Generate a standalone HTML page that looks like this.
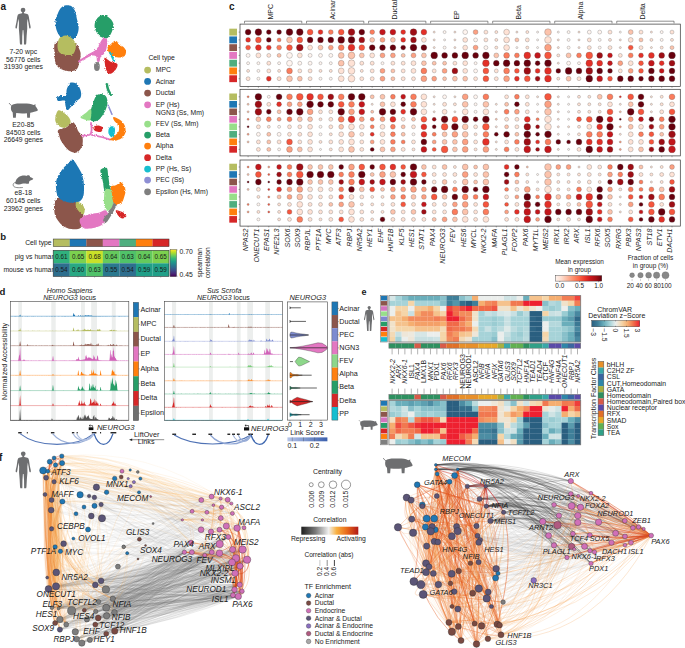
<!DOCTYPE html>
<html><head><meta charset="utf-8"><style>
html,body{margin:0;padding:0;background:#fff;width:685px;height:648px;overflow:hidden}
svg{display:block}
text{font-family:"Liberation Sans",sans-serif;fill:#1a1a1a}
</style></head><body>
<svg width="685" height="648" viewBox="0 0 685 648">
<rect width="685" height="648" fill="#fff"/>
<g fill="#6d6e70" transform="translate(23.05,7.7) scale(1)"><circle cx="0" cy="2.3" r="2.35"/><path d="M.8 4.2 L1 5.6 L4.2 6.2 L5.2 7 L5.8 9 L6.6 14.4 L7.5 18.6 L7.6 20.3 L6.8 21 L6.1 20 L5.3 14.9 L4.6 11 L4.1 15.2 L4.2 20.8 L3.6 28 L3.2 35.6 L2.9 36.8 L.9 36.8 L.8 28.5 L.35 22.6 L0 22.4 L0 22.4 L-.35 22.6 L-.8 28.5 L-.9 36.8 L-2.9 36.8 L-3.2 35.6 L-3.6 28 L-4.2 20.8 L-4.1 15.2 L-4.6 11 L-5.3 14.9 L-6.1 20 L-6.8 21 L-7.6 20.3 L-7.5 18.6 L-6.6 14.4 L-5.8 9 L-5.2 7 L-4.2 6.2 L-1 5.6 L-.8 4.2Z"/></g><g fill="#6d6e70" transform="translate(0,0) scale(1)"><path d="M11.5 105.4 C13 103.6 17 103.3 21 103.4 C25 103.4 29 103.4 31.5 104.2 L33.6 105 L35.6 104.3 L35.4 105.9 C36.3 107 37 108.3 37.8 109.8 C37.9 110.7 37.4 111.2 36.2 111.2 C34.8 111.3 33.6 112 32.6 112.3 C31.6 112.6 30.6 112.6 30.2 112.8 L29.9 117.8 L27.2 117.8 L26.9 113.3 C23.5 113.6 19.5 113.6 16.2 113.1 L15.8 117.8 L13.1 117.8 L12.7 112.4 C11.5 111.5 10.9 110 10.9 108.3 C10.8 107.2 11 106.2 11.5 105.4Z"/><path d="M11.6 105.6 Q10.2 104.8 9.1 103.1" fill="none" stroke="#6d6e70" stroke-width=".9"/></g><g fill="#6d6e70"><path d="M15.4 183.8 C15.2 180.5 17.2 177.4 21 176.1 C23.2 175.4 25 175.5 26.3 175.9 C26.8 175.1 28.4 174.9 29.4 175.6 C29.9 176.1 30 176.6 30.1 177 C31.3 177.5 32.5 178.1 33.3 178.8 C33 179.6 32.1 180 31 180.2 C30.2 180.4 29.6 180.8 29.2 181.5 L28.9 183.4 C28.3 183.9 27.3 183.9 26.5 183.7 C25 183.5 23.5 183.6 22 183.7 C21 183.8 20 184.4 19 184.4 C17.8 184.5 16.3 184.3 15.4 183.8Z"/><path d="M16 182.4 C13.6 182.6 12.6 184.2 13.4 185.9 C14.3 187.8 18.5 187.9 22.8 187.5" fill="none" stroke="#6d6e70" stroke-width=".8"/></g>
<defs><filter id="rough" x="-10%" y="-10%" width="120%" height="120%"><feTurbulence type="fractalNoise" baseFrequency=".9" numOctaves="2" seed="3"/><feDisplacementMap in="SourceGraphic" scale="2.6" xChannelSelector="R" yChannelSelector="G"/></filter></defs><g filter="url(#rough)"><path d="M54.9 43.4 C56.1 41.4 58.7 40.7 62.1 40.7 C65.5 40.7 72.2 41.4 75.2 43.4 C78.3 45.3 79.8 49.5 80.5 52.6 C81.2 55.6 80.1 58.9 79.4 61.8 C78.8 64.6 78.3 68.1 76.5 69.6 C74.7 71.2 71.5 71.4 68.6 71.2 C65.8 71 61.7 69.9 59.5 68.3 C57.2 66.7 56.1 64.4 55.2 61.8 C54.4 59.1 54.5 55.6 54.5 52.6 C54.4 49.5 53.6 45.3 54.9 43.4Z" fill="#8c564b" fill-opacity="1"/>
<path d="M64.7 5.5 C66.4 5.1 68.9 4.9 70.6 5.8 C72.3 6.7 73.9 8.7 75 10.8 C76 12.9 76.2 15.8 76.8 18.4 C77.4 21 78.5 23.8 78.6 26.3 C78.8 28.7 78.5 31.1 77.8 33.1 C77.2 35.1 75.9 37.1 74.6 38.4 C73.2 39.6 71.6 40.6 70 40.7 C68.3 40.9 66.5 40.2 64.7 39.4 C63 38.6 60.9 37.4 59.5 35.7 C58.1 34 57 31.6 56.3 29.2 C55.6 26.7 55.3 23.5 55.5 21 C55.7 18.5 56.6 16.3 57.5 14.2 C58.4 12 59.6 9.6 60.8 8.1 C62 6.7 63.1 5.9 64.7 5.5Z" fill="#1f77b4" fill-opacity="1"/>
<path d="M59.5 38.1 C60.9 36.4 63.7 35.3 66 35.5 C68.3 35.7 71.6 37.7 73.2 39.4 C74.9 41.2 75.9 43.6 75.9 46 C75.9 48.4 74.9 52.4 73.2 53.9 C71.6 55.4 68.3 55.1 66 54.9 C63.7 54.7 60.9 54 59.5 52.6 C58 51.1 57.5 48.4 57.5 46 C57.5 43.6 58 39.9 59.5 38.1Z" fill="#b5bd61" fill-opacity="1"/>
<path d="M102.8 15.1 C105.1 14.9 108.2 16.8 110 18.4 C111.8 20 113.5 22.3 113.6 25 C113.7 27.6 111.9 31.9 110.7 34.2 C109.4 36.4 108.1 38.1 106.1 38.4 C104.1 38.6 100.8 37.3 98.9 35.5 C97 33.7 95.1 30.2 94.7 27.6 C94.2 25 94.9 21.8 96.2 19.7 C97.6 17.6 100.5 15.3 102.8 15.1Z" fill="#279e68" fill-opacity="1"/>
<path d="M78.4 60.7 C79.4 59.8 85.6 56 87.7 54.7 C89.8 53.4 94.7 51.1 96.2 49.6 C97.7 48.1 99.7 43.3 100.5 42 C101.3 40.7 102.3 39 103 38.6 C103.7 38.2 105.9 37.8 106.4 38.2 C106.9 38.6 107.3 40.8 107.3 42 C107.3 43.2 106.8 47.4 106.4 48.8 C106 50.2 104.6 52.9 103.9 53.9 C103.2 54.9 101 56.4 100.5 57.3 C100 58.2 100 61 99.6 61.5 C99.2 62 97.5 62.1 97.1 61.5 C96.7 60.9 96.8 57.1 96.2 56.4 C95.6 55.7 93.5 55.2 92 55.6 C90.5 56 85 59 83.5 59.8 C82 60.6 79.8 62.3 79.2 62.4 C78.6 62.5 77.4 61.6 78.4 60.7Z" fill="#e377c2"/>
<path d="M107.5 47.5 C107.8 45.9 109.8 45.1 111 44 C112.2 42.9 113.5 41.4 114.5 41 C115.5 40.6 116.2 40.9 117 41.5 C117.8 42.1 117.9 43.6 119 44.5 C120.1 45.4 122.3 45.9 123.5 47 C124.7 48.1 125.8 49.6 126 51 C126.2 52.4 125.8 54.4 125 55.5 C124.2 56.6 122.8 57.3 121 57.5 C119.2 57.7 115.9 57.2 114 56.5 C112.1 55.8 110.6 55 109.5 53.5 C108.4 52 107.2 49.1 107.5 47.5Z" fill="#ff7f0e" fill-opacity="1"/>
<path d="M110 52.6 L114 61.1" fill="none" stroke="#17becf" stroke-width="1.8" stroke-linecap="round" stroke-linejoin="round"/>
<path d="M104.8 57.8 C105.8 57.6 108.8 60.9 110.7 61.8 C112.6 62.6 114.8 62.4 115.9 63.1 C117.1 63.7 117.7 64.4 117.5 65.7 C117.3 67 116 69.6 114.6 70.9 C113.3 72.3 110.8 74.1 109.4 73.8 C108 73.6 106.9 71.4 106.1 69.6 C105.3 67.8 105 65 104.8 63.1 C104.6 61.1 103.8 58 104.8 57.8Z" fill="#d62728" fill-opacity="1"/>
<ellipse cx="96.9" cy="66.4" rx="2.9" ry="4.5" fill="#7f7f7f"/>
<path d="M58.1 130.2 C59.3 128.9 63.5 128.9 66 127.6 C68.5 126.2 71.2 121.6 73.2 122.3 C75.3 123 77 129.1 78.5 131.5 C80 133.9 81.9 134.3 82.4 136.8 C83 139.2 83 143.3 82.1 145.9 C81.1 148.6 78.8 151.8 76.5 152.5 C74.3 153.2 71.1 151.9 68.6 150.2 C66.2 148.4 63.4 144.5 61.8 142 C60.2 139.6 59.8 137.4 59.2 135.4 C58.6 133.5 57 131.5 58.1 130.2Z" fill="#8c564b" fill-opacity="1"/>
<path d="M58.1 110.5 C59.5 109.5 61.6 111.4 63.4 112.4 C65.1 113.5 67.4 115.4 68.6 117 C69.9 118.7 70.8 120.7 70.6 122.3 C70.4 123.9 68.8 125.6 67.3 126.5 C65.9 127.4 63.8 128 62.1 127.6 C60.3 127.1 58 125.4 56.8 123.9 C55.7 122.3 55 120.6 55.2 118.4 C55.5 116.1 56.8 111.5 58.1 110.5Z" fill="#b5bd61" fill-opacity="1"/>
<path d="M71.3 82.6 C72.6 82.6 75.6 82.8 77.2 84.2 C78.8 85.6 80.1 88.6 80.7 90.8 C81.3 93 81.4 95.6 80.7 97.3 C80 99.1 78.1 99.7 76.5 101.3 C75 102.8 72.8 105 71.3 106.5 C69.7 108.1 68.3 110.7 67.3 110.5 C66.4 110.3 65.8 106.9 65.4 105.2 C64.9 103.6 65.9 101.3 64.7 100.6 C63.5 99.9 59.4 101.5 58.1 101 C56.9 100.5 56.6 98.4 57.1 97.6 C57.5 96.8 59.3 96.4 60.8 96 C62.3 95.6 65 96.5 66 95.4 C67 94.3 66.1 91.3 66.7 89.5 C67.2 87.6 68.5 85.3 69.3 84.2 C70.1 83.1 70 82.6 71.3 82.6Z" fill="#1f77b4" fill-opacity="1"/>
<path d="M100.2 94.1 C101.8 94.1 104.5 94.6 105.7 96 C106.9 97.4 107.6 100.2 107.5 102.6 C107.5 105 106.7 107.8 105.4 110.5 C104.2 113.1 101.9 116.6 100.2 118.4 C98.4 120.2 96.6 121 94.9 121.2 C93.3 121.5 91.4 121.1 90.3 119.9 C89.2 118.8 88.2 116.2 88.4 114.4 C88.5 112.6 90.1 111.4 91 109.2 C91.9 107 92.7 103.5 93.6 101.3 C94.5 99.1 95.1 97.2 96.2 96 C97.3 94.8 98.6 94.1 100.2 94.1Z" fill="#279e68" fill-opacity="1"/>
<path d="M91 109.2 C91.8 110.3 91.4 118.2 90.3 119.9 C89.2 121.6 86.1 119.8 84.4 119.4 C82.8 119 80.3 118.4 80.5 117.3 C80.7 116.3 84 114.5 85.7 113.1 C87.5 111.7 90.2 108 91 109.2Z" fill="#98df8a" fill-opacity="1"/>
<path d="M106.8 84.2 C107 85.1 107.4 87.7 108.1 89.5 C108.7 91.2 110.3 93.8 110.7 94.7" fill="none" stroke="#279e68" stroke-width="2.5" stroke-linecap="round" stroke-linejoin="round"/>
<path d="M108.1 105.2 L112 114.4" fill="none" stroke="#8e8fd4" stroke-width="1.5" stroke-linecap="round" stroke-linejoin="round"/>
<path d="M81.8 135.7 C83.1 135.5 88 135.7 89.7 134.8 C91.3 133.9 91.4 132.2 91.6 130.2 C91.9 128.2 91.1 124.2 91 123" fill="none" stroke="#e377c2" stroke-width="1.8" stroke-linecap="round" stroke-linejoin="round"/>
<path d="M91.6 134.8 C93.3 135.2 98.4 136.2 101.5 137 C104.6 137.8 108.6 139.2 110 139.6" fill="none" stroke="#e377c2" stroke-width="1.8" stroke-linecap="round" stroke-linejoin="round"/>
<path d="M93.6 126.9 C94.3 126.1 96.7 125.5 98.2 125.6 C99.7 125.7 102.3 126.6 102.8 127.6 C103.4 128.5 102.4 130.8 101.5 131.5 C100.6 132.2 98.8 132 97.6 131.8 C96.4 131.5 94.9 131 94.3 130.2 C93.6 129.4 93 127.7 93.6 126.9Z" fill="#d62728" fill-opacity="1"/>
<path d="M113.3 117 C114.2 116.8 118.3 118.6 120.2 119.9 C122 121.3 123.7 123 124.6 125.2 C125.5 127.3 125.9 130.6 125.4 132.8 C124.9 135 123.2 137 121.5 138.3 C119.7 139.6 116.9 140.5 114.9 140.7 C112.9 140.9 109.6 140.3 109.4 139.6 C109.2 139 112.1 138.1 113.6 136.8 C115.1 135.4 117.7 133.5 118.6 131.5 C119.4 129.5 119.2 126.6 118.6 124.9 C117.9 123.2 115.5 122.6 114.6 121.2 C113.8 119.9 112.4 117.3 113.3 117Z" fill="#ff7f0e" fill-opacity="1"/>
<path d="M111.4 126.2 C112.3 126 114.1 126.2 114.6 127.6 C115.2 128.9 115.1 132.5 114.6 134.1 C114.2 135.8 113 137.4 112 137.4 C111 137.4 109.3 135.5 108.7 134.1 C108.2 132.7 108.3 130.2 108.7 128.9 C109.2 127.6 110.4 126.5 111.4 126.2Z" fill="#17becf" fill-opacity="1"/>
<path d="M56.8 198.6 C58.5 197.2 61.4 197.3 64.7 198 C68 198.6 73.7 200.9 76.5 202.6 C79.4 204.2 80.7 205.2 81.8 207.8 C82.9 210.4 83.5 215 83.4 218.3 C83.2 221.7 82.8 226 80.7 227.8 C78.7 229.6 74.4 229.5 71.3 229.1 C68.2 228.7 64.8 227.4 62.1 225.2 C59.4 222.9 56.5 218.8 55.2 215.7 C54 212.6 54.2 209.3 54.5 206.5 C54.7 203.7 55.1 200 56.8 198.6Z" fill="#8c564b" fill-opacity="1"/>
<path d="M72.6 159.5 C74.2 160.1 76.4 164.3 78.1 167.1 C79.8 169.9 81.7 173 82.7 176.3 C83.7 179.6 83.9 183.5 84 186.8 C84.1 190.1 84.1 193.5 83.4 196 C82.6 198.4 81.4 200.4 79.4 201.5 C77.4 202.6 74.2 203 71.3 202.8 C68.4 202.6 64.4 201.5 62.1 200.2 C59.7 198.8 58.2 197.3 57.2 194.7 C56.2 192 55.8 187.2 55.9 184.2 C56 181.1 56.7 178.9 57.9 176.3 C59.1 173.6 61.3 170.6 63.1 168.4 C64.9 166.2 67.1 164.6 68.6 163.1 C70.2 161.6 71 158.8 72.6 159.5Z" fill="#1f77b4" fill-opacity="1"/>
<path d="M76.5 201.9 C77.5 201.5 80.4 202.7 81.8 203.9 C83.1 205.1 84.4 207.4 84.7 209.1 C84.9 210.9 84.3 213.9 83.4 214.4 C82.4 214.8 80.4 213.1 79.2 211.8 C77.9 210.4 76.3 208.1 75.9 206.5 C75.4 204.9 75.5 202.3 76.5 201.9Z" fill="#b5bd61" fill-opacity="1"/>
<path d="M80.5 218.3 C81.8 216.8 85.5 215.3 88.4 214.4 C91.2 213.5 94.7 213.8 97.6 213.1 C100.4 212.4 104.1 209.7 105.7 210.2 C107.3 210.6 107.5 213.4 107 215.7 C106.6 218 105.1 221.8 103.1 223.8 C101.1 225.9 98 227 94.9 227.8 C91.8 228.5 86.9 229.1 84.4 228.4 C82 227.7 80.9 225.3 80.2 223.6 C79.6 221.9 79.1 219.9 80.5 218.3Z" fill="#e377c2" fill-opacity="1"/>
<path d="M115.3 203.2 C114.5 204.6 112.3 208.9 110.7 211.8 C109.1 214.6 106.3 218.9 105.4 220.3" fill="none" stroke="#7f7f7f" stroke-width="4.5" stroke-linecap="round" stroke-linejoin="round"/>
<path d="M100.8 169.4 C101.8 168.5 105.5 167 106.8 168.1 C108 169.3 107.8 173.4 108.3 176.3 C108.8 179.2 109.2 183.1 109.6 185.5 C110.1 187.9 111.4 189.6 111 190.7 C110.5 191.9 107.9 192.5 106.8 192.3 C105.6 192.1 104.8 191.2 104.1 189.4 C103.5 187.6 103.4 184.2 102.8 181.5 C102.3 178.9 101.2 175.7 100.8 173.6 C100.5 171.6 99.9 170.4 100.8 169.4Z" fill="#279e68" fill-opacity="1"/>
<path d="M105.4 189.4 C106.8 188.3 110.7 189 112 190.7 C113.4 192.5 113.7 197 113.6 199.9 C113.5 202.8 112.5 206.3 111.4 208.1 C110.2 209.9 108 211.2 106.8 210.7 C105.5 210.2 104.6 207.4 104.1 205.2 C103.7 202.9 103.9 199.9 104.1 197.3 C104.3 194.7 104.1 190.5 105.4 189.4Z" fill="#98df8a" fill-opacity="1"/>
<path d="M110.7 186.8 C111.4 185.4 114.2 185.9 115.9 185.2 C117.7 184.5 119.6 181.9 121.2 182.6 C122.8 183.3 124.9 187 125.4 189.4 C125.9 191.9 124.8 195.1 124.1 197.3 C123.4 199.5 122.8 201.7 121.5 202.8 C120.1 204 117.4 204.6 115.9 204.1 C114.5 203.7 113.3 201.7 112.7 199.9 C112 198.1 112.3 195.5 112 193.4 C111.7 191.2 110 188.1 110.7 186.8Z" fill="#ff7f0e" fill-opacity="1"/>
<path d="M115.9 210.4 C116.8 209.9 122 211.9 123.8 212.8 C125.6 213.7 126.9 214.7 126.7 215.7 C126.5 216.7 123.9 218.5 122.5 218.6 C121.2 218.6 119.7 217.3 118.6 216 C117.5 214.6 115.1 211 115.9 210.4Z" fill="#d62728" fill-opacity="1"/></g>
<text x=".6" y="9.6" font-size="10" font-weight="bold">a</text>
<text x="23.3" y="53.6" font-size="6.8" text-anchor="middle">7-20 wpc</text>
<text x="23.3" y="61.5" font-size="6.8" text-anchor="middle">56776 cells</text>
<text x="23.3" y="69.3" font-size="6.8" text-anchor="middle">31930 genes</text>
<text x="23.3" y="126.7" font-size="6.8" text-anchor="middle">E20-85</text>
<text x="23.3" y="134.5" font-size="6.8" text-anchor="middle">84503 cells</text>
<text x="23.3" y="142.2" font-size="6.8" text-anchor="middle">26649 genes</text>
<text x="23.3" y="195.3" font-size="6.8" text-anchor="middle">e8-18</text>
<text x="23.3" y="203.2" font-size="6.8" text-anchor="middle">60145 cells</text>
<text x="23.3" y="211" font-size="6.8" text-anchor="middle">23962 genes</text>
<text x="148.4" y="59.6" font-size="6.8">Cell type</text>
<circle cx="147.6" cy="70.1" r="3.4" fill="#b5bd61"/>
<text x="155.8" y="72.4" font-size="6.8">MPC</text>
<circle cx="147.6" cy="81.4" r="3.4" fill="#1f77b4"/>
<text x="155.8" y="83.7" font-size="6.8">Acinar</text>
<circle cx="147.6" cy="93.1" r="3.4" fill="#8c564b"/>
<text x="155.8" y="95.4" font-size="6.8">Ductal</text>
<circle cx="147.6" cy="104.8" r="3.4" fill="#e377c2"/>
<text x="155.8" y="107.1" font-size="6.8">EP (Hs)</text>
<text x="155.8" y="114.9" font-size="6.8">NGN3 (Ss, Mm)</text>
<circle cx="147.6" cy="124.1" r="3.4" fill="#98df8a"/>
<text x="155.8" y="126.4" font-size="6.8">FEV (Ss, Mm)</text>
<circle cx="147.6" cy="135.1" r="3.4" fill="#279e68"/>
<text x="155.8" y="137.4" font-size="6.8">Beta</text>
<circle cx="147.6" cy="146.1" r="3.4" fill="#ff7f0e"/>
<text x="155.8" y="148.4" font-size="6.8">Alpha</text>
<circle cx="147.6" cy="157.7" r="3.4" fill="#d62728"/>
<text x="155.8" y="160" font-size="6.8">Delta</text>
<circle cx="147.6" cy="169.1" r="3.4" fill="#17becf"/>
<text x="155.8" y="171.4" font-size="6.8">PP (Hs, Ss)</text>
<circle cx="147.6" cy="180.1" r="3.4" fill="#8e8fd4"/>
<text x="155.8" y="182.4" font-size="6.8">PEC (Ss)</text>
<circle cx="147.6" cy="191.8" r="3.4" fill="#7f7f7f"/>
<text x="155.8" y="194.1" font-size="6.8">Epsilon (Hs, Mm)</text>
<text x=".3" y="239.7" font-size="9.6" font-weight="bold">b</text>
<text x="51.6" y="244.5" font-size="6.8" text-anchor="end">Cell type</text>
<text x="55.2" y="258.6" font-size="6.8" text-anchor="end">pig vs human</text>
<text x="55.2" y="271.5" font-size="6.8" text-anchor="end">mouse vs human</text>
<rect x="53.2" y="239" width="16.64" height="7.6" fill="#b5bd61"/>
<rect x="69.74" y="239" width="16.64" height="7.6" fill="#1f77b4"/>
<rect x="86.29" y="239" width="16.64" height="7.6" fill="#8c564b"/>
<rect x="102.83" y="239" width="16.64" height="7.6" fill="#e377c2"/>
<rect x="119.37" y="239" width="16.64" height="7.6" fill="#4fae7f"/>
<rect x="135.91" y="239" width="16.64" height="7.6" fill="#ff7f0e"/>
<rect x="152.46" y="239" width="16.64" height="7.6" fill="#d62728"/>
<rect x="53.2" y="239" width="115.8" height="7.6" fill="none" stroke="#333" stroke-width=".5"/>
<rect x="53.2" y="250.3" width="16.64" height="13.1" fill="#30b17d"/>
<text x="61.47" y="259.3" font-size="6.3" text-anchor="middle" fill="#222">0.61</text>
<rect x="69.74" y="250.3" width="16.64" height="13.1" fill="#7cd14f"/>
<text x="78.01" y="259.3" font-size="6.3" text-anchor="middle" fill="#222">0.65</text>
<rect x="86.29" y="250.3" width="16.64" height="13.1" fill="#c9e129"/>
<text x="94.56" y="259.3" font-size="6.3" text-anchor="middle" fill="#222">0.68</text>
<rect x="102.83" y="250.3" width="16.64" height="13.1" fill="#65ca5d"/>
<text x="111.1" y="259.3" font-size="6.3" text-anchor="middle" fill="#222">0.64</text>
<rect x="119.37" y="250.3" width="16.64" height="13.1" fill="#50c269"/>
<text x="127.64" y="259.3" font-size="6.3" text-anchor="middle" fill="#222">0.63</text>
<rect x="135.91" y="250.3" width="16.64" height="13.1" fill="#65ca5d"/>
<text x="144.19" y="259.3" font-size="6.3" text-anchor="middle" fill="#222">0.64</text>
<rect x="152.46" y="250.3" width="16.64" height="13.1" fill="#7cd14f"/>
<text x="160.73" y="259.3" font-size="6.3" text-anchor="middle" fill="#222">0.65</text>
<rect x="53.2" y="263.3" width="16.64" height="13.1" fill="#2e6e8e"/>
<text x="61.47" y="272.3" font-size="6.3" text-anchor="middle" fill="#222">0.54</text>
<rect x="69.74" y="263.3" width="16.64" height="13.1" fill="#28a883"/>
<text x="78.01" y="272.3" font-size="6.3" text-anchor="middle" fill="#222">0.60</text>
<rect x="86.29" y="263.3" width="16.64" height="13.1" fill="#50c269"/>
<text x="94.56" y="272.3" font-size="6.3" text-anchor="middle" fill="#222">0.63</text>
<rect x="102.83" y="263.3" width="16.64" height="13.1" fill="#2a788e"/>
<text x="111.1" y="272.3" font-size="6.3" text-anchor="middle" fill="#222">0.55</text>
<rect x="119.37" y="263.3" width="16.64" height="13.1" fill="#2e6e8e"/>
<text x="127.64" y="272.3" font-size="6.3" text-anchor="middle" fill="#222">0.54</text>
<rect x="135.91" y="263.3" width="16.64" height="13.1" fill="#209f88"/>
<text x="144.19" y="272.3" font-size="6.3" text-anchor="middle" fill="#222">0.59</text>
<rect x="152.46" y="263.3" width="16.64" height="13.1" fill="#209f88"/>
<text x="160.73" y="272.3" font-size="6.3" text-anchor="middle" fill="#222">0.59</text>
<rect x="53.2" y="250.3" width="115.8" height="26" fill="none" stroke="#333" stroke-width=".6"/>
<defs><linearGradient id="vir" x1="0" y1="1" x2="0" y2="0"><stop offset="0" stop-color="#440154"/><stop offset=".111" stop-color="#482878"/><stop offset=".222" stop-color="#3e4989"/><stop offset=".333" stop-color="#31688e"/><stop offset=".444" stop-color="#26828e"/><stop offset=".556" stop-color="#1f9e89"/><stop offset=".667" stop-color="#35b779"/><stop offset=".778" stop-color="#6ece58"/><stop offset=".889" stop-color="#b5de2b"/><stop offset="1" stop-color="#fde725"/></linearGradient></defs>
<rect x="170.1" y="249.6" width="6.4" height="27" fill="url(#vir)" stroke="#333" stroke-width=".4"/>
<line x1="176.5" y1="250" x2="177.6" y2="250" stroke="#333" stroke-width=".4"/><line x1="176.5" y1="276.2" x2="177.6" y2="276.2" stroke="#333" stroke-width=".4"/>
<text x="179.6" y="254.2" font-size="6.8">0.70</text>
<text x="179.6" y="276.6" font-size="6.8">0.45</text>
<text transform="translate(202,262.8) rotate(-90)" font-size="6.6" text-anchor="middle">spearman</text>
<text transform="translate(210,262.8) rotate(-90)" font-size="6.6" text-anchor="middle">correlation</text>
<line x1="61.47" y1="276.3" x2="61.47" y2="277.6" stroke="#555" stroke-width=".4"/>
<line x1="78.01" y1="276.3" x2="78.01" y2="277.6" stroke="#555" stroke-width=".4"/>
<line x1="94.56" y1="276.3" x2="94.56" y2="277.6" stroke="#555" stroke-width=".4"/>
<line x1="111.1" y1="276.3" x2="111.1" y2="277.6" stroke="#555" stroke-width=".4"/>
<line x1="127.64" y1="276.3" x2="127.64" y2="277.6" stroke="#555" stroke-width=".4"/>
<line x1="144.19" y1="276.3" x2="144.19" y2="277.6" stroke="#555" stroke-width=".4"/>
<line x1="160.73" y1="276.3" x2="160.73" y2="277.6" stroke="#555" stroke-width=".4"/>
<text x="229" y="9.7" font-size="10" font-weight="bold">c</text>
<rect x="240" y="24.1" width="440.3" height="62.4" fill="none" stroke="#333" stroke-width=".7"/>
<rect x="229.3" y="28.67" width="7.7" height="6.87" fill="#b5bd61"/>
<line x1="238.6" y1="32.1" x2="240" y2="32.1" stroke="#333" stroke-width=".4"/>
<g stroke="#555" stroke-width=".28"><circle cx="248.1" cy="32.1" r="2.9" fill="#67000d"/><circle cx="258.4" cy="32.1" r="3.37" fill="#67000d"/><circle cx="268.8" cy="32.1" r="2.43" fill="#67000d"/><circle cx="279.1" cy="32.1" r="2.43" fill="#67000d"/><circle cx="289.5" cy="32.1" r="3.37" fill="#67000d"/><circle cx="299.8" cy="32.1" r="3.37" fill="#67000d"/><circle cx="310.1" cy="32.1" r="2.9" fill="#f6553d"/><circle cx="320.5" cy="32.1" r="2.43" fill="#e32f27"/><circle cx="330.8" cy="32.1" r="2.43" fill="#fb7c5c"/><circle cx="341.2" cy="32.1" r="2.9" fill="#f6553d"/><circle cx="351.5" cy="32.1" r="3.37" fill="#9e0d14"/><circle cx="361.8" cy="32.1" r="2.9" fill="#67000d"/><circle cx="372.2" cy="32.1" r="2.43" fill="#fb7c5c"/><circle cx="382.5" cy="32.1" r="2.9" fill="#c3161b"/><circle cx="392.9" cy="32.1" r="2.9" fill="#c3161b"/><circle cx="403.2" cy="32.1" r="2.43" fill="#e32f27"/><circle cx="413.5" cy="32.1" r="3.37" fill="#9e0d14"/><circle cx="423.9" cy="32.1" r="2.9" fill="#e32f27"/><circle cx="434.2" cy="32.1" r="1.02" fill="#fee2d5"/><circle cx="444.6" cy="32.1" r="1.49" fill="#fff5f0"/><circle cx="454.9" cy="32.1" r="1.02" fill="#fee2d5"/><circle cx="465.2" cy="32.1" r="2.43" fill="#fff5f0"/><circle cx="475.6" cy="32.1" r="2.43" fill="#fca082"/><circle cx="485.9" cy="32.1" r="1.96" fill="#fee2d5"/><circle cx="496.3" cy="32.1" r="1.49" fill="#fee2d5"/><circle cx="506.6" cy="32.1" r="2.9" fill="#fee2d5"/><circle cx="516.9" cy="32.1" r="1.02" fill="#fee2d5"/><circle cx="527.3" cy="32.1" r="1.49" fill="#fee2d5"/><circle cx="537.6" cy="32.1" r="1.02" fill="#fff5f0"/><circle cx="548" cy="32.1" r="3.37" fill="#fcc3ac"/><circle cx="558.3" cy="32.1" r="1.02" fill="#fff5f0"/><circle cx="568.6" cy="32.1" r="1.49" fill="#fff5f0"/><circle cx="579" cy="32.1" r="1.02" fill="#fee2d5"/><circle cx="589.3" cy="32.1" r="1.96" fill="#fff5f0"/><circle cx="599.7" cy="32.1" r="1.96" fill="#fff5f0"/><circle cx="610" cy="32.1" r="1.96" fill="#fee2d5"/><circle cx="620.3" cy="32.1" r="1.02" fill="#fff5f0"/><circle cx="630.7" cy="32.1" r="2.43" fill="#fcc3ac"/><circle cx="641" cy="32.1" r="1.96" fill="#fee2d5"/><circle cx="651.4" cy="32.1" r="1.02" fill="#fee2d5"/><circle cx="661.7" cy="32.1" r="1.49" fill="#fff5f0"/><circle cx="672" cy="32.1" r="1.96" fill="#fee2d5"/></g>
<rect x="229.3" y="36.44" width="7.7" height="6.87" fill="#1f77b4"/>
<line x1="238.6" y1="39.87" x2="240" y2="39.87" stroke="#333" stroke-width=".4"/>
<g stroke="#555" stroke-width=".28"><circle cx="248.1" cy="39.9" r="2.43" fill="#e32f27"/><circle cx="258.4" cy="39.9" r="2.9" fill="#f6553d"/><circle cx="268.8" cy="39.9" r="2.43" fill="#67000d"/><circle cx="279.1" cy="39.9" r="1.96" fill="#fb7c5c"/><circle cx="289.5" cy="39.9" r="2.9" fill="#fcc3ac"/><circle cx="299.8" cy="39.9" r="2.9" fill="#f6553d"/><circle cx="310.1" cy="39.9" r="2.9" fill="#67000d"/><circle cx="320.5" cy="39.9" r="2.9" fill="#67000d"/><circle cx="330.8" cy="39.9" r="2.9" fill="#67000d"/><circle cx="341.2" cy="39.9" r="3.37" fill="#67000d"/><circle cx="351.5" cy="39.9" r="3.37" fill="#67000d"/><circle cx="361.8" cy="39.9" r="2.9" fill="#9e0d14"/><circle cx="372.2" cy="39.9" r="2.43" fill="#fcc3ac"/><circle cx="382.5" cy="39.9" r="2.43" fill="#fca082"/><circle cx="392.9" cy="39.9" r="2.43" fill="#fcc3ac"/><circle cx="403.2" cy="39.9" r="2.43" fill="#e32f27"/><circle cx="413.5" cy="39.9" r="2.9" fill="#9e0d14"/><circle cx="423.9" cy="39.9" r="2.43" fill="#fee2d5"/><circle cx="434.2" cy="39.9" r="1.02" fill="#fee2d5"/><circle cx="444.6" cy="39.9" r="1.02" fill="#fff5f0"/><circle cx="454.9" cy="39.9" r="1.02" fill="#fee2d5"/><circle cx="465.2" cy="39.9" r="2.43" fill="#fee2d5"/><circle cx="475.6" cy="39.9" r="1.96" fill="#fff5f0"/><circle cx="485.9" cy="39.9" r="1.96" fill="#fee2d5"/><circle cx="496.3" cy="39.9" r="1.49" fill="#fee2d5"/><circle cx="506.6" cy="39.9" r="2.9" fill="#fee2d5"/><circle cx="516.9" cy="39.9" r="1.96" fill="#fcc3ac"/><circle cx="527.3" cy="39.9" r="1.96" fill="#fee2d5"/><circle cx="537.6" cy="39.9" r="1.02" fill="#fff5f0"/><circle cx="548" cy="39.9" r="3.37" fill="#fee2d5"/><circle cx="558.3" cy="39.9" r="1.02" fill="#fee2d5"/><circle cx="568.6" cy="39.9" r="1.49" fill="#fff5f0"/><circle cx="579" cy="39.9" r="1.02" fill="#fee2d5"/><circle cx="589.3" cy="39.9" r="1.96" fill="#fee2d5"/><circle cx="599.7" cy="39.9" r="1.49" fill="#fff5f0"/><circle cx="610" cy="39.9" r="1.49" fill="#fee2d5"/><circle cx="620.3" cy="39.9" r="1.02" fill="#fee2d5"/><circle cx="630.7" cy="39.9" r="2.43" fill="#fee2d5"/><circle cx="641" cy="39.9" r="1.96" fill="#fcc3ac"/><circle cx="651.4" cy="39.9" r="1.49" fill="#fee2d5"/><circle cx="661.7" cy="39.9" r="1.49" fill="#fff5f0"/><circle cx="672" cy="39.9" r="1.49" fill="#fee2d5"/></g>
<rect x="229.3" y="44.21" width="7.7" height="6.87" fill="#8c564b"/>
<line x1="238.6" y1="47.64" x2="240" y2="47.64" stroke="#333" stroke-width=".4"/>
<g stroke="#555" stroke-width=".28"><circle cx="248.1" cy="47.6" r="2.43" fill="#f6553d"/><circle cx="258.4" cy="47.6" r="2.9" fill="#e32f27"/><circle cx="268.8" cy="47.6" r="2.43" fill="#e32f27"/><circle cx="279.1" cy="47.6" r="2.43" fill="#fb7c5c"/><circle cx="289.5" cy="47.6" r="2.9" fill="#f6553d"/><circle cx="299.8" cy="47.6" r="3.37" fill="#9e0d14"/><circle cx="310.1" cy="47.6" r="2.43" fill="#fee2d5"/><circle cx="320.5" cy="47.6" r="2.43" fill="#fcc3ac"/><circle cx="330.8" cy="47.6" r="2.43" fill="#fca082"/><circle cx="341.2" cy="47.6" r="2.9" fill="#fb7c5c"/><circle cx="351.5" cy="47.6" r="3.37" fill="#e32f27"/><circle cx="361.8" cy="47.6" r="2.9" fill="#f6553d"/><circle cx="372.2" cy="47.6" r="2.9" fill="#67000d"/><circle cx="382.5" cy="47.6" r="2.9" fill="#67000d"/><circle cx="392.9" cy="47.6" r="2.9" fill="#67000d"/><circle cx="403.2" cy="47.6" r="2.43" fill="#67000d"/><circle cx="413.5" cy="47.6" r="3.37" fill="#67000d"/><circle cx="423.9" cy="47.6" r="2.9" fill="#67000d"/><circle cx="434.2" cy="47.6" r="1.02" fill="#fee2d5"/><circle cx="444.6" cy="47.6" r="1.49" fill="#fff5f0"/><circle cx="454.9" cy="47.6" r="1.02" fill="#fee2d5"/><circle cx="465.2" cy="47.6" r="2.43" fill="#fee2d5"/><circle cx="475.6" cy="47.6" r="2.43" fill="#fca082"/><circle cx="485.9" cy="47.6" r="1.96" fill="#fff5f0"/><circle cx="496.3" cy="47.6" r="1.49" fill="#fee2d5"/><circle cx="506.6" cy="47.6" r="2.9" fill="#fee2d5"/><circle cx="516.9" cy="47.6" r="1.02" fill="#fff5f0"/><circle cx="527.3" cy="47.6" r="1.49" fill="#fee2d5"/><circle cx="537.6" cy="47.6" r="1.02" fill="#fff5f0"/><circle cx="548" cy="47.6" r="3.37" fill="#fca082"/><circle cx="558.3" cy="47.6" r="1.02" fill="#fee2d5"/><circle cx="568.6" cy="47.6" r="1.49" fill="#fff5f0"/><circle cx="579" cy="47.6" r="1.02" fill="#fee2d5"/><circle cx="589.3" cy="47.6" r="1.96" fill="#fee2d5"/><circle cx="599.7" cy="47.6" r="1.49" fill="#fff5f0"/><circle cx="610" cy="47.6" r="1.96" fill="#fee2d5"/><circle cx="620.3" cy="47.6" r="1.02" fill="#fee2d5"/><circle cx="630.7" cy="47.6" r="2.43" fill="#f6553d"/><circle cx="641" cy="47.6" r="1.96" fill="#fee2d5"/><circle cx="651.4" cy="47.6" r="1.02" fill="#fee2d5"/><circle cx="661.7" cy="47.6" r="1.49" fill="#fee2d5"/><circle cx="672" cy="47.6" r="1.96" fill="#fcc3ac"/></g>
<rect x="229.3" y="51.98" width="7.7" height="6.87" fill="#e377c2"/>
<line x1="238.6" y1="55.41" x2="240" y2="55.41" stroke="#333" stroke-width=".4"/>
<g stroke="#555" stroke-width=".28"><circle cx="248.1" cy="55.4" r="1.96" fill="#fff5f0"/><circle cx="258.4" cy="55.4" r="2.43" fill="#fee2d5"/><circle cx="268.8" cy="55.4" r="1.96" fill="#fee2d5"/><circle cx="279.1" cy="55.4" r="1.96" fill="#fcc3ac"/><circle cx="289.5" cy="55.4" r="2.9" fill="#fff5f0"/><circle cx="299.8" cy="55.4" r="2.43" fill="#fee2d5"/><circle cx="310.1" cy="55.4" r="1.96" fill="#fff5f0"/><circle cx="320.5" cy="55.4" r="1.96" fill="#fff5f0"/><circle cx="330.8" cy="55.4" r="1.96" fill="#fff5f0"/><circle cx="341.2" cy="55.4" r="2.9" fill="#fcc3ac"/><circle cx="351.5" cy="55.4" r="3.37" fill="#fcc3ac"/><circle cx="361.8" cy="55.4" r="2.43" fill="#fcc3ac"/><circle cx="372.2" cy="55.4" r="2.43" fill="#fee2d5"/><circle cx="382.5" cy="55.4" r="2.43" fill="#fca082"/><circle cx="392.9" cy="55.4" r="2.43" fill="#fca082"/><circle cx="403.2" cy="55.4" r="1.96" fill="#fcc3ac"/><circle cx="413.5" cy="55.4" r="2.43" fill="#fca082"/><circle cx="423.9" cy="55.4" r="2.43" fill="#fcc3ac"/><circle cx="434.2" cy="55.4" r="3.37" fill="#67000d"/><circle cx="444.6" cy="55.4" r="2.9" fill="#67000d"/><circle cx="454.9" cy="55.4" r="2.9" fill="#67000d"/><circle cx="465.2" cy="55.4" r="3.37" fill="#67000d"/><circle cx="475.6" cy="55.4" r="2.9" fill="#67000d"/><circle cx="485.9" cy="55.4" r="3.37" fill="#67000d"/><circle cx="496.3" cy="55.4" r="2.43" fill="#fcc3ac"/><circle cx="506.6" cy="55.4" r="2.9" fill="#fb7c5c"/><circle cx="516.9" cy="55.4" r="2.43" fill="#fb7c5c"/><circle cx="527.3" cy="55.4" r="3.37" fill="#e32f27"/><circle cx="537.6" cy="55.4" r="2.9" fill="#c3161b"/><circle cx="548" cy="55.4" r="3.37" fill="#f6553d"/><circle cx="558.3" cy="55.4" r="1.49" fill="#fee2d5"/><circle cx="568.6" cy="55.4" r="2.43" fill="#fcc3ac"/><circle cx="579" cy="55.4" r="2.43" fill="#fb7c5c"/><circle cx="589.3" cy="55.4" r="3.37" fill="#f6553d"/><circle cx="599.7" cy="55.4" r="2.9" fill="#9e0d14"/><circle cx="610" cy="55.4" r="2.43" fill="#c3161b"/><circle cx="620.3" cy="55.4" r="1.96" fill="#fee2d5"/><circle cx="630.7" cy="55.4" r="2.43" fill="#fb7c5c"/><circle cx="641" cy="55.4" r="2.43" fill="#e32f27"/><circle cx="651.4" cy="55.4" r="2.9" fill="#e32f27"/><circle cx="661.7" cy="55.4" r="2.9" fill="#9e0d14"/><circle cx="672" cy="55.4" r="3.37" fill="#67000d"/></g>
<rect x="229.3" y="59.75" width="7.7" height="6.87" fill="#4fae7f"/>
<line x1="238.6" y1="63.18" x2="240" y2="63.18" stroke="#333" stroke-width=".4"/>
<g stroke="#555" stroke-width=".28"><circle cx="248.1" cy="63.2" r="1.49" fill="#fff5f0"/><circle cx="258.4" cy="63.2" r="1.49" fill="#fff5f0"/><circle cx="268.8" cy="63.2" r="1.96" fill="#fee2d5"/><circle cx="279.1" cy="63.2" r="1.49" fill="#fff5f0"/><circle cx="289.5" cy="63.2" r="2.9" fill="#fff5f0"/><circle cx="299.8" cy="63.2" r="1.96" fill="#fff5f0"/><circle cx="310.1" cy="63.2" r="1.96" fill="#fff5f0"/><circle cx="320.5" cy="63.2" r="1.49" fill="#fff5f0"/><circle cx="330.8" cy="63.2" r="1.49" fill="#fff5f0"/><circle cx="341.2" cy="63.2" r="2.9" fill="#fcc3ac"/><circle cx="351.5" cy="63.2" r="3.37" fill="#fee2d5"/><circle cx="361.8" cy="63.2" r="1.96" fill="#fee2d5"/><circle cx="372.2" cy="63.2" r="1.96" fill="#fee2d5"/><circle cx="382.5" cy="63.2" r="1.49" fill="#fff5f0"/><circle cx="392.9" cy="63.2" r="1.96" fill="#fee2d5"/><circle cx="403.2" cy="63.2" r="1.96" fill="#fee2d5"/><circle cx="413.5" cy="63.2" r="2.43" fill="#fee2d5"/><circle cx="423.9" cy="63.2" r="2.43" fill="#fcc3ac"/><circle cx="434.2" cy="63.2" r="1.96" fill="#fcc3ac"/><circle cx="444.6" cy="63.2" r="1.96" fill="#fcc3ac"/><circle cx="454.9" cy="63.2" r="1.96" fill="#fee2d5"/><circle cx="465.2" cy="63.2" r="2.43" fill="#fee2d5"/><circle cx="475.6" cy="63.2" r="1.49" fill="#fff5f0"/><circle cx="485.9" cy="63.2" r="3.37" fill="#e32f27"/><circle cx="496.3" cy="63.2" r="2.9" fill="#67000d"/><circle cx="506.6" cy="63.2" r="3.37" fill="#67000d"/><circle cx="516.9" cy="63.2" r="2.9" fill="#67000d"/><circle cx="527.3" cy="63.2" r="3.37" fill="#67000d"/><circle cx="537.6" cy="63.2" r="2.43" fill="#67000d"/><circle cx="548" cy="63.2" r="3.37" fill="#67000d"/><circle cx="558.3" cy="63.2" r="1.02" fill="#fee2d5"/><circle cx="568.6" cy="63.2" r="1.96" fill="#fff5f0"/><circle cx="579" cy="63.2" r="1.49" fill="#fff5f0"/><circle cx="589.3" cy="63.2" r="3.37" fill="#e32f27"/><circle cx="599.7" cy="63.2" r="2.9" fill="#e32f27"/><circle cx="610" cy="63.2" r="2.43" fill="#c3161b"/><circle cx="620.3" cy="63.2" r="2.43" fill="#fca082"/><circle cx="630.7" cy="63.2" r="2.43" fill="#fee2d5"/><circle cx="641" cy="63.2" r="2.43" fill="#f6553d"/><circle cx="651.4" cy="63.2" r="2.9" fill="#c3161b"/><circle cx="661.7" cy="63.2" r="2.43" fill="#e32f27"/><circle cx="672" cy="63.2" r="2.9" fill="#9e0d14"/></g>
<rect x="229.3" y="67.51" width="7.7" height="6.87" fill="#ff7f0e"/>
<line x1="238.6" y1="70.95" x2="240" y2="70.95" stroke="#333" stroke-width=".4"/>
<g stroke="#555" stroke-width=".28"><circle cx="248.1" cy="70.9" r="1.49" fill="#fee2d5"/><circle cx="258.4" cy="70.9" r="1.49" fill="#fff5f0"/><circle cx="268.8" cy="70.9" r="1.96" fill="#fee2d5"/><circle cx="279.1" cy="70.9" r="1.49" fill="#fee2d5"/><circle cx="289.5" cy="70.9" r="2.9" fill="#fb7c5c"/><circle cx="299.8" cy="70.9" r="1.96" fill="#fee2d5"/><circle cx="310.1" cy="70.9" r="1.96" fill="#fee2d5"/><circle cx="320.5" cy="70.9" r="1.49" fill="#fee2d5"/><circle cx="330.8" cy="70.9" r="1.49" fill="#fee2d5"/><circle cx="341.2" cy="70.9" r="2.9" fill="#fee2d5"/><circle cx="351.5" cy="70.9" r="3.37" fill="#fee2d5"/><circle cx="361.8" cy="70.9" r="1.49" fill="#fee2d5"/><circle cx="372.2" cy="70.9" r="1.96" fill="#fee2d5"/><circle cx="382.5" cy="70.9" r="2.43" fill="#fca082"/><circle cx="392.9" cy="70.9" r="1.96" fill="#fcc3ac"/><circle cx="403.2" cy="70.9" r="1.96" fill="#fee2d5"/><circle cx="413.5" cy="70.9" r="2.43" fill="#fee2d5"/><circle cx="423.9" cy="70.9" r="2.9" fill="#fb7c5c"/><circle cx="434.2" cy="70.9" r="1.96" fill="#fee2d5"/><circle cx="444.6" cy="70.9" r="2.43" fill="#fca082"/><circle cx="454.9" cy="70.9" r="2.9" fill="#9e0d14"/><circle cx="465.2" cy="70.9" r="2.43" fill="#fee2d5"/><circle cx="475.6" cy="70.9" r="1.96" fill="#fff5f0"/><circle cx="485.9" cy="70.9" r="2.9" fill="#f6553d"/><circle cx="496.3" cy="70.9" r="1.96" fill="#fee2d5"/><circle cx="506.6" cy="70.9" r="2.9" fill="#fb7c5c"/><circle cx="516.9" cy="70.9" r="2.43" fill="#f6553d"/><circle cx="527.3" cy="70.9" r="3.37" fill="#9e0d14"/><circle cx="537.6" cy="70.9" r="2.43" fill="#e32f27"/><circle cx="548" cy="70.9" r="3.37" fill="#e32f27"/><circle cx="558.3" cy="70.9" r="2.43" fill="#67000d"/><circle cx="568.6" cy="70.9" r="3.37" fill="#67000d"/><circle cx="579" cy="70.9" r="2.9" fill="#67000d"/><circle cx="589.3" cy="70.9" r="3.37" fill="#9e0d14"/><circle cx="599.7" cy="70.9" r="2.9" fill="#67000d"/><circle cx="610" cy="70.9" r="2.43" fill="#67000d"/><circle cx="620.3" cy="70.9" r="1.96" fill="#fee2d5"/><circle cx="630.7" cy="70.9" r="2.43" fill="#fca082"/><circle cx="641" cy="70.9" r="2.43" fill="#f6553d"/><circle cx="651.4" cy="70.9" r="2.9" fill="#67000d"/><circle cx="661.7" cy="70.9" r="2.43" fill="#c3161b"/><circle cx="672" cy="70.9" r="2.9" fill="#67000d"/></g>
<rect x="229.3" y="75.28" width="7.7" height="6.87" fill="#d62728"/>
<line x1="238.6" y1="78.72" x2="240" y2="78.72" stroke="#333" stroke-width=".4"/>
<g stroke="#555" stroke-width=".28"><circle cx="248.1" cy="78.7" r="1.96" fill="#fee2d5"/><circle cx="258.4" cy="78.7" r="1.49" fill="#fff5f0"/><circle cx="268.8" cy="78.7" r="2.43" fill="#e32f27"/><circle cx="279.1" cy="78.7" r="1.96" fill="#fee2d5"/><circle cx="289.5" cy="78.7" r="2.9" fill="#fcc3ac"/><circle cx="299.8" cy="78.7" r="2.43" fill="#fcc3ac"/><circle cx="310.1" cy="78.7" r="1.96" fill="#fee2d5"/><circle cx="320.5" cy="78.7" r="1.49" fill="#fff5f0"/><circle cx="330.8" cy="78.7" r="1.49" fill="#fff5f0"/><circle cx="341.2" cy="78.7" r="2.9" fill="#fee2d5"/><circle cx="351.5" cy="78.7" r="3.37" fill="#fee2d5"/><circle cx="361.8" cy="78.7" r="1.96" fill="#fee2d5"/><circle cx="372.2" cy="78.7" r="1.96" fill="#fee2d5"/><circle cx="382.5" cy="78.7" r="2.43" fill="#fca082"/><circle cx="392.9" cy="78.7" r="1.96" fill="#fcc3ac"/><circle cx="403.2" cy="78.7" r="1.96" fill="#fee2d5"/><circle cx="413.5" cy="78.7" r="1.96" fill="#fee2d5"/><circle cx="423.9" cy="78.7" r="2.9" fill="#fca082"/><circle cx="434.2" cy="78.7" r="2.43" fill="#fca082"/><circle cx="444.6" cy="78.7" r="1.96" fill="#fcc3ac"/><circle cx="454.9" cy="78.7" r="2.43" fill="#fcc3ac"/><circle cx="465.2" cy="78.7" r="2.43" fill="#fcc3ac"/><circle cx="475.6" cy="78.7" r="1.96" fill="#fee2d5"/><circle cx="485.9" cy="78.7" r="2.9" fill="#f6553d"/><circle cx="496.3" cy="78.7" r="1.96" fill="#fee2d5"/><circle cx="506.6" cy="78.7" r="2.9" fill="#fca082"/><circle cx="516.9" cy="78.7" r="2.43" fill="#e32f27"/><circle cx="527.3" cy="78.7" r="2.9" fill="#f6553d"/><circle cx="537.6" cy="78.7" r="2.43" fill="#9e0d14"/><circle cx="548" cy="78.7" r="3.37" fill="#e32f27"/><circle cx="558.3" cy="78.7" r="1.49" fill="#fee2d5"/><circle cx="568.6" cy="78.7" r="2.43" fill="#fcc3ac"/><circle cx="579" cy="78.7" r="1.96" fill="#fee2d5"/><circle cx="589.3" cy="78.7" r="3.37" fill="#67000d"/><circle cx="599.7" cy="78.7" r="2.9" fill="#c3161b"/><circle cx="610" cy="78.7" r="2.43" fill="#f6553d"/><circle cx="620.3" cy="78.7" r="2.9" fill="#67000d"/><circle cx="630.7" cy="78.7" r="2.9" fill="#67000d"/><circle cx="641" cy="78.7" r="2.43" fill="#67000d"/><circle cx="651.4" cy="78.7" r="2.9" fill="#67000d"/><circle cx="661.7" cy="78.7" r="2.9" fill="#67000d"/><circle cx="672" cy="78.7" r="2.9" fill="#67000d"/></g>
<path stroke="#333" stroke-width=".4" d="M248.1 86.5v1.3M258.4 86.5v1.3M268.8 86.5v1.3M279.1 86.5v1.3M289.5 86.5v1.3M299.8 86.5v1.3M310.1 86.5v1.3M320.5 86.5v1.3M330.8 86.5v1.3M341.2 86.5v1.3M351.5 86.5v1.3M361.8 86.5v1.3M372.2 86.5v1.3M382.5 86.5v1.3M392.9 86.5v1.3M403.2 86.5v1.3M413.5 86.5v1.3M423.9 86.5v1.3M434.2 86.5v1.3M444.6 86.5v1.3M454.9 86.5v1.3M465.2 86.5v1.3M475.6 86.5v1.3M485.9 86.5v1.3M496.3 86.5v1.3M506.6 86.5v1.3M516.9 86.5v1.3M527.3 86.5v1.3M537.6 86.5v1.3M548 86.5v1.3M558.3 86.5v1.3M568.6 86.5v1.3M579 86.5v1.3M589.3 86.5v1.3M599.7 86.5v1.3M610 86.5v1.3M620.3 86.5v1.3M630.7 86.5v1.3M641 86.5v1.3M651.4 86.5v1.3M661.7 86.5v1.3M672 86.5v1.3"/>
<rect x="240" y="89.3" width="440.3" height="66.6" fill="none" stroke="#333" stroke-width=".7"/>
<rect x="229.3" y="93.5" width="7.7" height="6.61" fill="#b5bd61"/>
<line x1="238.6" y1="96.8" x2="240" y2="96.8" stroke="#333" stroke-width=".4"/>
<g stroke="#555" stroke-width=".28"><circle cx="248.1" cy="96.8" r="1.02" fill="#fb7c5c"/><circle cx="258.4" cy="96.8" r="3.37" fill="#67000d"/><circle cx="268.8" cy="96.8" r="1.49" fill="#fff5f0"/><circle cx="279.1" cy="96.8" r="2.9" fill="#67000d"/><circle cx="289.5" cy="96.8" r="2.9" fill="#fb7c5c"/><circle cx="299.8" cy="96.8" r="3.37" fill="#f6553d"/><circle cx="310.1" cy="96.8" r="3.37" fill="#e32f27"/><circle cx="320.5" cy="96.8" r="2.9" fill="#f6553d"/><circle cx="330.8" cy="96.8" r="2.9" fill="#9e0d14"/><circle cx="341.2" cy="96.8" r="2.9" fill="#fb7c5c"/><circle cx="351.5" cy="96.8" r="3.37" fill="#67000d"/><circle cx="361.8" cy="96.8" r="3.37" fill="#67000d"/><circle cx="372.2" cy="96.8" r="1.96" fill="#fcc3ac"/><circle cx="382.5" cy="96.8" r="2.43" fill="#fcc3ac"/><circle cx="392.9" cy="96.8" r="2.43" fill="#fb7c5c"/><circle cx="403.2" cy="96.8" r="2.43" fill="#c3161b"/><circle cx="413.5" cy="96.8" r="2.9" fill="#fb7c5c"/><circle cx="423.9" cy="96.8" r="2.9" fill="#fee2d5"/><circle cx="434.2" cy="96.8" r="1.02" fill="#fee2d5"/><circle cx="444.6" cy="96.8" r="1.96" fill="#fff5f0"/><circle cx="454.9" cy="96.8" r="1.02" fill="#fee2d5"/><circle cx="465.2" cy="96.8" r="2.9" fill="#fca082"/><circle cx="475.6" cy="96.8" r="1.96" fill="#fff5f0"/><circle cx="485.9" cy="96.8" r="2.9" fill="#fb7c5c"/><circle cx="506.6" cy="96.8" r="1.96" fill="#fee2d5"/><circle cx="516.9" cy="96.8" r="2.43" fill="#fb7c5c"/><circle cx="527.3" cy="96.8" r="1.96" fill="#fee2d5"/><circle cx="537.6" cy="96.8" r="1.02" fill="#fee2d5"/><circle cx="548" cy="96.8" r="3.37" fill="#f6553d"/><circle cx="558.3" cy="96.8" r="1.02" fill="#fee2d5"/><circle cx="568.6" cy="96.8" r="1.02" fill="#fff5f0"/><circle cx="579" cy="96.8" r="1.49" fill="#fee2d5"/><circle cx="589.3" cy="96.8" r="1.49" fill="#fee2d5"/><circle cx="599.7" cy="96.8" r="2.43" fill="#fcc3ac"/><circle cx="610" cy="96.8" r="2.9" fill="#fb7c5c"/><circle cx="620.3" cy="96.8" r="1.02" fill="#e32f27"/><circle cx="630.7" cy="96.8" r="2.9" fill="#f6553d"/><circle cx="641" cy="96.8" r="2.9" fill="#67000d"/><circle cx="651.4" cy="96.8" r="1.02" fill="#fee2d5"/><circle cx="661.7" cy="96.8" r="1.49" fill="#fee2d5"/><circle cx="672" cy="96.8" r="2.9" fill="#fb7c5c"/></g>
<rect x="229.3" y="101.01" width="7.7" height="6.61" fill="#1f77b4"/>
<line x1="238.6" y1="104.31" x2="240" y2="104.31" stroke="#333" stroke-width=".4"/>
<g stroke="#555" stroke-width=".28"><circle cx="248.1" cy="104.3" r="1.02" fill="#fcc3ac"/><circle cx="258.4" cy="104.3" r="3.37" fill="#9e0d14"/><circle cx="268.8" cy="104.3" r="1.96" fill="#fee2d5"/><circle cx="279.1" cy="104.3" r="2.43" fill="#e32f27"/><circle cx="289.5" cy="104.3" r="2.43" fill="#fca082"/><circle cx="299.8" cy="104.3" r="2.43" fill="#fca082"/><circle cx="310.1" cy="104.3" r="3.37" fill="#67000d"/><circle cx="320.5" cy="104.3" r="2.9" fill="#67000d"/><circle cx="330.8" cy="104.3" r="2.9" fill="#67000d"/><circle cx="341.2" cy="104.3" r="2.9" fill="#f6553d"/><circle cx="351.5" cy="104.3" r="2.9" fill="#fb7c5c"/><circle cx="361.8" cy="104.3" r="2.9" fill="#c3161b"/><circle cx="372.2" cy="104.3" r="1.02" fill="#fee2d5"/><circle cx="382.5" cy="104.3" r="2.43" fill="#fcc3ac"/><circle cx="392.9" cy="104.3" r="2.43" fill="#fee2d5"/><circle cx="403.2" cy="104.3" r="2.43" fill="#67000d"/><circle cx="413.5" cy="104.3" r="2.9" fill="#fb7c5c"/><circle cx="423.9" cy="104.3" r="2.9" fill="#fee2d5"/><circle cx="434.2" cy="104.3" r="1.02" fill="#fee2d5"/><circle cx="444.6" cy="104.3" r="1.96" fill="#fee2d5"/><circle cx="454.9" cy="104.3" r="1.49" fill="#fee2d5"/><circle cx="465.2" cy="104.3" r="2.9" fill="#fcc3ac"/><circle cx="475.6" cy="104.3" r="1.49" fill="#fff5f0"/><circle cx="485.9" cy="104.3" r="2.9" fill="#fcc3ac"/><circle cx="496.3" cy="104.3" r="1.02" fill="#fee2d5"/><circle cx="506.6" cy="104.3" r="1.96" fill="#fcc3ac"/><circle cx="516.9" cy="104.3" r="2.43" fill="#67000d"/><circle cx="527.3" cy="104.3" r="1.96" fill="#fee2d5"/><circle cx="537.6" cy="104.3" r="1.02" fill="#fff5f0"/><circle cx="548" cy="104.3" r="3.37" fill="#fca082"/><circle cx="558.3" cy="104.3" r="1.02" fill="#fee2d5"/><circle cx="568.6" cy="104.3" r="1.02" fill="#fff5f0"/><circle cx="579" cy="104.3" r="1.49" fill="#fee2d5"/><circle cx="589.3" cy="104.3" r="1.49" fill="#fee2d5"/><circle cx="599.7" cy="104.3" r="1.49" fill="#fee2d5"/><circle cx="610" cy="104.3" r="2.43" fill="#fee2d5"/><circle cx="620.3" cy="104.3" r="1.02" fill="#fee2d5"/><circle cx="630.7" cy="104.3" r="2.43" fill="#fcc3ac"/><circle cx="641" cy="104.3" r="2.9" fill="#67000d"/><circle cx="651.4" cy="104.3" r="1.02" fill="#fee2d5"/><circle cx="661.7" cy="104.3" r="1.49" fill="#fee2d5"/><circle cx="672" cy="104.3" r="2.43" fill="#fee2d5"/></g>
<rect x="229.3" y="108.52" width="7.7" height="6.61" fill="#8c564b"/>
<line x1="238.6" y1="111.82" x2="240" y2="111.82" stroke="#333" stroke-width=".4"/>
<g stroke="#555" stroke-width=".28"><circle cx="248.1" cy="111.8" r="1.02" fill="#fcc3ac"/><circle cx="258.4" cy="111.8" r="3.37" fill="#9e0d14"/><circle cx="268.8" cy="111.8" r="2.43" fill="#67000d"/><circle cx="279.1" cy="111.8" r="1.96" fill="#fcc3ac"/><circle cx="289.5" cy="111.8" r="2.9" fill="#67000d"/><circle cx="299.8" cy="111.8" r="3.37" fill="#67000d"/><circle cx="310.1" cy="111.8" r="2.9" fill="#fca082"/><circle cx="320.5" cy="111.8" r="1.96" fill="#fee2d5"/><circle cx="330.8" cy="111.8" r="1.96" fill="#fee2d5"/><circle cx="341.2" cy="111.8" r="3.37" fill="#67000d"/><circle cx="351.5" cy="111.8" r="2.9" fill="#fca082"/><circle cx="361.8" cy="111.8" r="2.9" fill="#c3161b"/><circle cx="372.2" cy="111.8" r="1.49" fill="#fcc3ac"/><circle cx="382.5" cy="111.8" r="3.37" fill="#67000d"/><circle cx="392.9" cy="111.8" r="2.9" fill="#67000d"/><circle cx="403.2" cy="111.8" r="2.43" fill="#e32f27"/><circle cx="413.5" cy="111.8" r="3.37" fill="#67000d"/><circle cx="423.9" cy="111.8" r="2.9" fill="#fee2d5"/><circle cx="434.2" cy="111.8" r="1.02" fill="#fee2d5"/><circle cx="444.6" cy="111.8" r="2.43" fill="#fee2d5"/><circle cx="454.9" cy="111.8" r="1.02" fill="#fee2d5"/><circle cx="465.2" cy="111.8" r="2.9" fill="#fee2d5"/><circle cx="475.6" cy="111.8" r="1.49" fill="#fff5f0"/><circle cx="485.9" cy="111.8" r="2.9" fill="#fee2d5"/><circle cx="496.3" cy="111.8" r="1.02" fill="#fee2d5"/><circle cx="506.6" cy="111.8" r="2.43" fill="#fb7c5c"/><circle cx="516.9" cy="111.8" r="2.43" fill="#fca082"/><circle cx="527.3" cy="111.8" r="1.96" fill="#fee2d5"/><circle cx="537.6" cy="111.8" r="1.02" fill="#fee2d5"/><circle cx="548" cy="111.8" r="3.37" fill="#fcc3ac"/><circle cx="558.3" cy="111.8" r="1.02" fill="#fee2d5"/><circle cx="568.6" cy="111.8" r="1.02" fill="#fff5f0"/><circle cx="579" cy="111.8" r="1.49" fill="#fee2d5"/><circle cx="589.3" cy="111.8" r="1.49" fill="#fee2d5"/><circle cx="599.7" cy="111.8" r="1.49" fill="#fee2d5"/><circle cx="610" cy="111.8" r="2.9" fill="#f6553d"/><circle cx="620.3" cy="111.8" r="1.02" fill="#fcc3ac"/><circle cx="630.7" cy="111.8" r="3.37" fill="#67000d"/><circle cx="641" cy="111.8" r="2.9" fill="#f6553d"/><circle cx="651.4" cy="111.8" r="1.02" fill="#fee2d5"/><circle cx="661.7" cy="111.8" r="1.96" fill="#fee2d5"/><circle cx="672" cy="111.8" r="2.9" fill="#f6553d"/></g>
<rect x="229.3" y="116.03" width="7.7" height="6.61" fill="#e377c2"/>
<line x1="238.6" y1="119.33" x2="240" y2="119.33" stroke="#333" stroke-width=".4"/>
<g stroke="#555" stroke-width=".28"><circle cx="248.1" cy="119.3" r="1.02" fill="#fb7c5c"/><circle cx="258.4" cy="119.3" r="2.43" fill="#fcc3ac"/><circle cx="268.8" cy="119.3" r="2.43" fill="#fb7c5c"/><circle cx="279.1" cy="119.3" r="1.96" fill="#fca082"/><circle cx="289.5" cy="119.3" r="2.43" fill="#fb7c5c"/><circle cx="299.8" cy="119.3" r="2.43" fill="#fcc3ac"/><circle cx="310.1" cy="119.3" r="2.43" fill="#fcc3ac"/><circle cx="320.5" cy="119.3" r="1.49" fill="#fee2d5"/><circle cx="330.8" cy="119.3" r="1.96" fill="#fee2d5"/><circle cx="341.2" cy="119.3" r="2.9" fill="#fb7c5c"/><circle cx="351.5" cy="119.3" r="3.37" fill="#e32f27"/><circle cx="361.8" cy="119.3" r="2.43" fill="#fca082"/><circle cx="372.2" cy="119.3" r="1.96" fill="#fb7c5c"/><circle cx="382.5" cy="119.3" r="2.43" fill="#fca082"/><circle cx="392.9" cy="119.3" r="2.9" fill="#e32f27"/><circle cx="403.2" cy="119.3" r="1.96" fill="#fee2d5"/><circle cx="413.5" cy="119.3" r="1.96" fill="#fcc3ac"/><circle cx="423.9" cy="119.3" r="2.9" fill="#f6553d"/><circle cx="434.2" cy="119.3" r="1.96" fill="#9e0d14"/><circle cx="444.6" cy="119.3" r="3.37" fill="#67000d"/><circle cx="454.9" cy="119.3" r="2.9" fill="#f6553d"/><circle cx="465.2" cy="119.3" r="3.37" fill="#67000d"/><circle cx="475.6" cy="119.3" r="2.43" fill="#67000d"/><circle cx="485.9" cy="119.3" r="3.37" fill="#67000d"/><circle cx="496.3" cy="119.3" r="1.02" fill="#fcc3ac"/><circle cx="506.6" cy="119.3" r="1.96" fill="#fee2d5"/><circle cx="516.9" cy="119.3" r="1.96" fill="#fee2d5"/><circle cx="527.3" cy="119.3" r="2.9" fill="#e32f27"/><circle cx="537.6" cy="119.3" r="1.49" fill="#fb7c5c"/><circle cx="548" cy="119.3" r="3.37" fill="#fee2d5"/><circle cx="558.3" cy="119.3" r="1.02" fill="#fee2d5"/><circle cx="568.6" cy="119.3" r="1.02" fill="#fff5f0"/><circle cx="579" cy="119.3" r="2.43" fill="#f6553d"/><circle cx="589.3" cy="119.3" r="2.9" fill="#f6553d"/><circle cx="599.7" cy="119.3" r="3.37" fill="#67000d"/><circle cx="610" cy="119.3" r="2.9" fill="#c3161b"/><circle cx="620.3" cy="119.3" r="1.02" fill="#67000d"/><circle cx="630.7" cy="119.3" r="2.43" fill="#fca082"/><circle cx="641" cy="119.3" r="2.43" fill="#c3161b"/><circle cx="651.4" cy="119.3" r="2.43" fill="#67000d"/><circle cx="661.7" cy="119.3" r="2.43" fill="#fb7c5c"/><circle cx="672" cy="119.3" r="3.37" fill="#67000d"/></g>
<rect x="229.3" y="123.54" width="7.7" height="6.61" fill="#98df8a"/>
<line x1="238.6" y1="126.84" x2="240" y2="126.84" stroke="#333" stroke-width=".4"/>
<g stroke="#555" stroke-width=".28"><circle cx="248.1" cy="126.8" r="1.02" fill="#67000d"/><circle cx="258.4" cy="126.8" r="1.96" fill="#fee2d5"/><circle cx="268.8" cy="126.8" r="1.49" fill="#fee2d5"/><circle cx="279.1" cy="126.8" r="1.49" fill="#fff5f0"/><circle cx="289.5" cy="126.8" r="1.96" fill="#fee2d5"/><circle cx="299.8" cy="126.8" r="1.96" fill="#fee2d5"/><circle cx="310.1" cy="126.8" r="2.43" fill="#fee2d5"/><circle cx="320.5" cy="126.8" r="1.49" fill="#fff5f0"/><circle cx="330.8" cy="126.8" r="1.96" fill="#fee2d5"/><circle cx="341.2" cy="126.8" r="2.43" fill="#fcc3ac"/><circle cx="351.5" cy="126.8" r="2.9" fill="#fee2d5"/><circle cx="361.8" cy="126.8" r="2.43" fill="#fee2d5"/><circle cx="372.2" cy="126.8" r="1.96" fill="#fb7c5c"/><circle cx="382.5" cy="126.8" r="2.43" fill="#fee2d5"/><circle cx="392.9" cy="126.8" r="2.43" fill="#fb7c5c"/><circle cx="403.2" cy="126.8" r="1.96" fill="#fcc3ac"/><circle cx="413.5" cy="126.8" r="1.96" fill="#fee2d5"/><circle cx="423.9" cy="126.8" r="2.9" fill="#e32f27"/><circle cx="434.2" cy="126.8" r="1.96" fill="#67000d"/><circle cx="444.6" cy="126.8" r="3.37" fill="#f6553d"/><circle cx="454.9" cy="126.8" r="3.37" fill="#67000d"/><circle cx="465.2" cy="126.8" r="2.9" fill="#fcc3ac"/><circle cx="475.6" cy="126.8" r="1.96" fill="#fee2d5"/><circle cx="485.9" cy="126.8" r="3.37" fill="#f6553d"/><circle cx="496.3" cy="126.8" r="1.02" fill="#fee2d5"/><circle cx="506.6" cy="126.8" r="1.96" fill="#fcc3ac"/><circle cx="516.9" cy="126.8" r="1.96" fill="#fee2d5"/><circle cx="527.3" cy="126.8" r="3.37" fill="#9e0d14"/><circle cx="537.6" cy="126.8" r="1.96" fill="#9e0d14"/><circle cx="548" cy="126.8" r="3.37" fill="#fee2d5"/><circle cx="558.3" cy="126.8" r="1.02" fill="#fee2d5"/><circle cx="568.6" cy="126.8" r="1.02" fill="#fee2d5"/><circle cx="579" cy="126.8" r="1.49" fill="#fee2d5"/><circle cx="589.3" cy="126.8" r="2.43" fill="#fee2d5"/><circle cx="599.7" cy="126.8" r="2.9" fill="#e32f27"/><circle cx="610" cy="126.8" r="3.37" fill="#67000d"/><circle cx="620.3" cy="126.8" r="1.02" fill="#fca082"/><circle cx="630.7" cy="126.8" r="2.43" fill="#fcc3ac"/><circle cx="641" cy="126.8" r="2.43" fill="#fee2d5"/><circle cx="651.4" cy="126.8" r="2.43" fill="#9e0d14"/><circle cx="661.7" cy="126.8" r="2.43" fill="#fca082"/><circle cx="672" cy="126.8" r="3.37" fill="#67000d"/></g>
<rect x="229.3" y="131.04" width="7.7" height="6.61" fill="#4fae7f"/>
<line x1="238.6" y1="134.35" x2="240" y2="134.35" stroke="#333" stroke-width=".4"/>
<g stroke="#555" stroke-width=".28"><circle cx="248.1" cy="134.3" r="1.02" fill="#fca082"/><circle cx="258.4" cy="134.3" r="1.96" fill="#fff5f0"/><circle cx="268.8" cy="134.3" r="1.96" fill="#fcc3ac"/><circle cx="279.1" cy="134.3" r="1.96" fill="#fff5f0"/><circle cx="289.5" cy="134.3" r="1.96" fill="#fee2d5"/><circle cx="299.8" cy="134.3" r="1.96" fill="#fee2d5"/><circle cx="310.1" cy="134.3" r="2.43" fill="#fee2d5"/><circle cx="320.5" cy="134.3" r="1.49" fill="#fff5f0"/><circle cx="330.8" cy="134.3" r="1.49" fill="#fee2d5"/><circle cx="341.2" cy="134.3" r="2.43" fill="#fee2d5"/><circle cx="351.5" cy="134.3" r="2.9" fill="#fcc3ac"/><circle cx="361.8" cy="134.3" r="1.96" fill="#fee2d5"/><circle cx="372.2" cy="134.3" r="1.96" fill="#e32f27"/><circle cx="382.5" cy="134.3" r="2.43" fill="#fee2d5"/><circle cx="392.9" cy="134.3" r="2.43" fill="#fb7c5c"/><circle cx="403.2" cy="134.3" r="1.96" fill="#fcc3ac"/><circle cx="413.5" cy="134.3" r="1.49" fill="#fff5f0"/><circle cx="423.9" cy="134.3" r="2.9" fill="#e32f27"/><circle cx="434.2" cy="134.3" r="1.96" fill="#fb7c5c"/><circle cx="444.6" cy="134.3" r="2.43" fill="#fcc3ac"/><circle cx="454.9" cy="134.3" r="2.9" fill="#fca082"/><circle cx="465.2" cy="134.3" r="2.9" fill="#fcc3ac"/><circle cx="475.6" cy="134.3" r="1.49" fill="#fee2d5"/><circle cx="485.9" cy="134.3" r="2.9" fill="#fb7c5c"/><circle cx="496.3" cy="134.3" r="1.96" fill="#67000d"/><circle cx="506.6" cy="134.3" r="2.9" fill="#67000d"/><circle cx="516.9" cy="134.3" r="1.96" fill="#fcc3ac"/><circle cx="527.3" cy="134.3" r="3.37" fill="#67000d"/><circle cx="537.6" cy="134.3" r="1.96" fill="#67000d"/><circle cx="548" cy="134.3" r="3.37" fill="#67000d"/><circle cx="558.3" cy="134.3" r="1.02" fill="#fee2d5"/><circle cx="568.6" cy="134.3" r="1.02" fill="#fff5f0"/><circle cx="579" cy="134.3" r="1.49" fill="#fee2d5"/><circle cx="589.3" cy="134.3" r="2.9" fill="#fb7c5c"/><circle cx="599.7" cy="134.3" r="2.9" fill="#fb7c5c"/><circle cx="610" cy="134.3" r="2.9" fill="#c3161b"/><circle cx="620.3" cy="134.3" r="1.02" fill="#fee2d5"/><circle cx="630.7" cy="134.3" r="2.43" fill="#fee2d5"/><circle cx="641" cy="134.3" r="2.43" fill="#fb7c5c"/><circle cx="651.4" cy="134.3" r="2.43" fill="#f6553d"/><circle cx="661.7" cy="134.3" r="1.96" fill="#fcc3ac"/><circle cx="672" cy="134.3" r="3.37" fill="#9e0d14"/></g>
<rect x="229.3" y="138.56" width="7.7" height="6.61" fill="#ff7f0e"/>
<line x1="238.6" y1="141.86" x2="240" y2="141.86" stroke="#333" stroke-width=".4"/>
<g stroke="#555" stroke-width=".28"><circle cx="248.1" cy="141.9" r="1.02" fill="#fcc3ac"/><circle cx="258.4" cy="141.9" r="1.96" fill="#fee2d5"/><circle cx="268.8" cy="141.9" r="1.96" fill="#fcc3ac"/><circle cx="279.1" cy="141.9" r="1.96" fill="#fee2d5"/><circle cx="289.5" cy="141.9" r="2.9" fill="#f6553d"/><circle cx="299.8" cy="141.9" r="1.96" fill="#fee2d5"/><circle cx="310.1" cy="141.9" r="2.43" fill="#fee2d5"/><circle cx="320.5" cy="141.9" r="1.49" fill="#fee2d5"/><circle cx="330.8" cy="141.9" r="1.96" fill="#fee2d5"/><circle cx="341.2" cy="141.9" r="2.43" fill="#fee2d5"/><circle cx="351.5" cy="141.9" r="2.9" fill="#fee2d5"/><circle cx="361.8" cy="141.9" r="1.96" fill="#fee2d5"/><circle cx="372.2" cy="141.9" r="1.96" fill="#fca082"/><circle cx="382.5" cy="141.9" r="2.43" fill="#fee2d5"/><circle cx="392.9" cy="141.9" r="2.43" fill="#fb7c5c"/><circle cx="403.2" cy="141.9" r="1.96" fill="#fb7c5c"/><circle cx="413.5" cy="141.9" r="1.96" fill="#fee2d5"/><circle cx="423.9" cy="141.9" r="2.9" fill="#67000d"/><circle cx="434.2" cy="141.9" r="1.96" fill="#fca082"/><circle cx="444.6" cy="141.9" r="2.43" fill="#fcc3ac"/><circle cx="454.9" cy="141.9" r="2.43" fill="#fcc3ac"/><circle cx="465.2" cy="141.9" r="2.9" fill="#fca082"/><circle cx="475.6" cy="141.9" r="1.96" fill="#fee2d5"/><circle cx="485.9" cy="141.9" r="3.37" fill="#e32f27"/><circle cx="496.3" cy="141.9" r="1.02" fill="#fee2d5"/><circle cx="506.6" cy="141.9" r="1.96" fill="#fee2d5"/><circle cx="516.9" cy="141.9" r="2.43" fill="#fb7c5c"/><circle cx="527.3" cy="141.9" r="3.37" fill="#9e0d14"/><circle cx="537.6" cy="141.9" r="1.96" fill="#e32f27"/><circle cx="548" cy="141.9" r="2.9" fill="#fb7c5c"/><circle cx="558.3" cy="141.9" r="2.43" fill="#67000d"/><circle cx="568.6" cy="141.9" r="1.96" fill="#67000d"/><circle cx="579" cy="141.9" r="2.9" fill="#67000d"/><circle cx="589.3" cy="141.9" r="2.9" fill="#e32f27"/><circle cx="599.7" cy="141.9" r="2.9" fill="#e32f27"/><circle cx="610" cy="141.9" r="2.9" fill="#c3161b"/><circle cx="620.3" cy="141.9" r="1.02" fill="#fca082"/><circle cx="630.7" cy="141.9" r="2.43" fill="#fee2d5"/><circle cx="641" cy="141.9" r="2.43" fill="#fee2d5"/><circle cx="651.4" cy="141.9" r="2.43" fill="#f6553d"/><circle cx="661.7" cy="141.9" r="2.9" fill="#9e0d14"/><circle cx="672" cy="141.9" r="3.37" fill="#c3161b"/></g>
<rect x="229.3" y="146.06" width="7.7" height="6.61" fill="#d62728"/>
<line x1="238.6" y1="149.37" x2="240" y2="149.37" stroke="#333" stroke-width=".4"/>
<g stroke="#555" stroke-width=".28"><circle cx="258.4" cy="149.4" r="1.96" fill="#fee2d5"/><circle cx="268.8" cy="149.4" r="1.96" fill="#fcc3ac"/><circle cx="279.1" cy="149.4" r="1.49" fill="#fff5f0"/><circle cx="289.5" cy="149.4" r="2.9" fill="#fca082"/><circle cx="299.8" cy="149.4" r="2.43" fill="#fcc3ac"/><circle cx="310.1" cy="149.4" r="2.43" fill="#fee2d5"/><circle cx="320.5" cy="149.4" r="1.02" fill="#fff5f0"/><circle cx="330.8" cy="149.4" r="1.49" fill="#fee2d5"/><circle cx="341.2" cy="149.4" r="2.43" fill="#fee2d5"/><circle cx="351.5" cy="149.4" r="2.9" fill="#fcc3ac"/><circle cx="361.8" cy="149.4" r="1.96" fill="#fee2d5"/><circle cx="372.2" cy="149.4" r="1.96" fill="#67000d"/><circle cx="382.5" cy="149.4" r="2.43" fill="#fcc3ac"/><circle cx="392.9" cy="149.4" r="2.43" fill="#fca082"/><circle cx="403.2" cy="149.4" r="1.96" fill="#fee2d5"/><circle cx="413.5" cy="149.4" r="1.49" fill="#fee2d5"/><circle cx="423.9" cy="149.4" r="2.9" fill="#c3161b"/><circle cx="434.2" cy="149.4" r="1.96" fill="#f6553d"/><circle cx="444.6" cy="149.4" r="3.37" fill="#f6553d"/><circle cx="454.9" cy="149.4" r="2.43" fill="#fcc3ac"/><circle cx="465.2" cy="149.4" r="2.9" fill="#fca082"/><circle cx="475.6" cy="149.4" r="1.49" fill="#fee2d5"/><circle cx="485.9" cy="149.4" r="2.9" fill="#fca082"/><circle cx="496.3" cy="149.4" r="1.02" fill="#fee2d5"/><circle cx="506.6" cy="149.4" r="2.43" fill="#fb7c5c"/><circle cx="516.9" cy="149.4" r="1.96" fill="#fee2d5"/><circle cx="527.3" cy="149.4" r="3.37" fill="#c3161b"/><circle cx="537.6" cy="149.4" r="1.96" fill="#9e0d14"/><circle cx="548" cy="149.4" r="3.37" fill="#c3161b"/><circle cx="558.3" cy="149.4" r="1.02" fill="#fee2d5"/><circle cx="568.6" cy="149.4" r="1.02" fill="#fff5f0"/><circle cx="579" cy="149.4" r="1.96" fill="#fee2d5"/><circle cx="589.3" cy="149.4" r="3.37" fill="#67000d"/><circle cx="599.7" cy="149.4" r="2.9" fill="#c3161b"/><circle cx="610" cy="149.4" r="2.9" fill="#9e0d14"/><circle cx="620.3" cy="149.4" r="1.02" fill="#fca082"/><circle cx="630.7" cy="149.4" r="2.43" fill="#fee2d5"/><circle cx="641" cy="149.4" r="2.43" fill="#fcc3ac"/><circle cx="651.4" cy="149.4" r="2.43" fill="#9e0d14"/><circle cx="661.7" cy="149.4" r="2.9" fill="#67000d"/><circle cx="672" cy="149.4" r="3.37" fill="#c3161b"/></g>
<path stroke="#333" stroke-width=".4" d="M248.1 155.9v1.3M258.4 155.9v1.3M268.8 155.9v1.3M279.1 155.9v1.3M289.5 155.9v1.3M299.8 155.9v1.3M310.1 155.9v1.3M320.5 155.9v1.3M330.8 155.9v1.3M341.2 155.9v1.3M351.5 155.9v1.3M361.8 155.9v1.3M372.2 155.9v1.3M382.5 155.9v1.3M392.9 155.9v1.3M403.2 155.9v1.3M413.5 155.9v1.3M423.9 155.9v1.3M434.2 155.9v1.3M444.6 155.9v1.3M454.9 155.9v1.3M465.2 155.9v1.3M475.6 155.9v1.3M485.9 155.9v1.3M496.3 155.9v1.3M506.6 155.9v1.3M516.9 155.9v1.3M527.3 155.9v1.3M537.6 155.9v1.3M548 155.9v1.3M558.3 155.9v1.3M568.6 155.9v1.3M579 155.9v1.3M589.3 155.9v1.3M599.7 155.9v1.3M610 155.9v1.3M620.3 155.9v1.3M630.7 155.9v1.3M641 155.9v1.3M651.4 155.9v1.3M661.7 155.9v1.3M672 155.9v1.3"/>
<rect x="240" y="160" width="440.3" height="66.1" fill="none" stroke="#333" stroke-width=".7"/>
<rect x="229.3" y="163.71" width="7.7" height="6.58" fill="#b5bd61"/>
<line x1="238.6" y1="167" x2="240" y2="167" stroke="#333" stroke-width=".4"/>
<g stroke="#555" stroke-width=".28"><circle cx="248.1" cy="167" r="1.02" fill="#fb7c5c"/><circle cx="258.4" cy="167" r="2.9" fill="#c3161b"/><circle cx="268.8" cy="167" r="1.02" fill="#fca082"/><circle cx="279.1" cy="167" r="2.43" fill="#c3161b"/><circle cx="289.5" cy="167" r="2.43" fill="#fb7c5c"/><circle cx="299.8" cy="167" r="3.37" fill="#9e0d14"/><circle cx="310.1" cy="167" r="2.43" fill="#fcc3ac"/><circle cx="320.5" cy="167" r="2.43" fill="#fcc3ac"/><circle cx="330.8" cy="167" r="2.43" fill="#fcc3ac"/><circle cx="341.2" cy="167" r="2.43" fill="#67000d"/><circle cx="351.5" cy="167" r="2.9" fill="#fca082"/><circle cx="361.8" cy="167" r="2.9" fill="#f6553d"/><circle cx="372.2" cy="167" r="2.43" fill="#67000d"/><circle cx="382.5" cy="167" r="2.9" fill="#f6553d"/><circle cx="392.9" cy="167" r="2.9" fill="#e32f27"/><circle cx="403.2" cy="167" r="2.43" fill="#f6553d"/><circle cx="413.5" cy="167" r="3.37" fill="#67000d"/><circle cx="423.9" cy="167" r="2.43" fill="#fcc3ac"/><circle cx="434.2" cy="167" r="1.96" fill="#fee2d5"/><circle cx="444.6" cy="167" r="2.43" fill="#fcc3ac"/><circle cx="454.9" cy="167" r="1.49" fill="#fee2d5"/><circle cx="465.2" cy="167" r="2.9" fill="#fcc3ac"/><circle cx="475.6" cy="167" r="1.96" fill="#fcc3ac"/><circle cx="485.9" cy="167" r="2.9" fill="#fcc3ac"/><circle cx="506.6" cy="167" r="2.43" fill="#e32f27"/><circle cx="516.9" cy="167" r="2.43" fill="#67000d"/><circle cx="527.3" cy="167" r="1.02" fill="#fcc3ac"/><circle cx="548" cy="167" r="3.37" fill="#fcc3ac"/><circle cx="558.3" cy="167" r="2.43" fill="#fca082"/><circle cx="568.6" cy="167" r="2.43" fill="#fca082"/><circle cx="579" cy="167" r="1.02" fill="#fee2d5"/><circle cx="589.3" cy="167" r="2.43" fill="#fee2d5"/><circle cx="599.7" cy="167" r="1.96" fill="#fee2d5"/><circle cx="610" cy="167" r="2.43" fill="#fb7c5c"/><circle cx="620.3" cy="167" r="2.9" fill="#67000d"/><circle cx="630.7" cy="167" r="2.9" fill="#9e0d14"/><circle cx="641" cy="167" r="1.96" fill="#fcc3ac"/><circle cx="651.4" cy="167" r="1.02" fill="#fee2d5"/><circle cx="661.7" cy="167" r="1.49" fill="#fee2d5"/><circle cx="672" cy="167" r="2.43" fill="#fca082"/></g>
<rect x="229.3" y="171.19" width="7.7" height="6.58" fill="#1f77b4"/>
<line x1="238.6" y1="174.48" x2="240" y2="174.48" stroke="#333" stroke-width=".4"/>
<g stroke="#555" stroke-width=".28"><circle cx="248.1" cy="174.5" r="1.02" fill="#fcc3ac"/><circle cx="258.4" cy="174.5" r="2.9" fill="#f6553d"/><circle cx="268.8" cy="174.5" r="1.02" fill="#f6553d"/><circle cx="279.1" cy="174.5" r="2.43" fill="#9e0d14"/><circle cx="289.5" cy="174.5" r="2.43" fill="#fb7c5c"/><circle cx="299.8" cy="174.5" r="3.37" fill="#f6553d"/><circle cx="310.1" cy="174.5" r="3.37" fill="#67000d"/><circle cx="320.5" cy="174.5" r="3.37" fill="#67000d"/><circle cx="330.8" cy="174.5" r="3.37" fill="#67000d"/><circle cx="341.2" cy="174.5" r="2.43" fill="#fb7c5c"/><circle cx="351.5" cy="174.5" r="2.9" fill="#fb7c5c"/><circle cx="361.8" cy="174.5" r="3.37" fill="#67000d"/><circle cx="372.2" cy="174.5" r="1.96" fill="#fcc3ac"/><circle cx="382.5" cy="174.5" r="2.9" fill="#fca082"/><circle cx="392.9" cy="174.5" r="2.9" fill="#fcc3ac"/><circle cx="403.2" cy="174.5" r="2.43" fill="#67000d"/><circle cx="413.5" cy="174.5" r="3.37" fill="#c3161b"/><circle cx="423.9" cy="174.5" r="2.43" fill="#f6553d"/><circle cx="434.2" cy="174.5" r="1.96" fill="#fee2d5"/><circle cx="444.6" cy="174.5" r="1.96" fill="#fee2d5"/><circle cx="454.9" cy="174.5" r="1.96" fill="#fee2d5"/><circle cx="465.2" cy="174.5" r="2.9" fill="#fca082"/><circle cx="475.6" cy="174.5" r="1.96" fill="#fee2d5"/><circle cx="485.9" cy="174.5" r="2.9" fill="#fcc3ac"/><circle cx="506.6" cy="174.5" r="2.43" fill="#67000d"/><circle cx="516.9" cy="174.5" r="2.43" fill="#fb7c5c"/><circle cx="527.3" cy="174.5" r="1.49" fill="#fee2d5"/><circle cx="537.6" cy="174.5" r="1.02" fill="#fff5f0"/><circle cx="548" cy="174.5" r="3.37" fill="#fcc3ac"/><circle cx="558.3" cy="174.5" r="1.49" fill="#fee2d5"/><circle cx="568.6" cy="174.5" r="1.49" fill="#fee2d5"/><circle cx="579" cy="174.5" r="1.49" fill="#fee2d5"/><circle cx="589.3" cy="174.5" r="1.96" fill="#fee2d5"/><circle cx="599.7" cy="174.5" r="1.49" fill="#fee2d5"/><circle cx="610" cy="174.5" r="2.43" fill="#fca082"/><circle cx="620.3" cy="174.5" r="2.43" fill="#fb7c5c"/><circle cx="630.7" cy="174.5" r="2.9" fill="#9e0d14"/><circle cx="641" cy="174.5" r="1.96" fill="#fee2d5"/><circle cx="651.4" cy="174.5" r="1.49" fill="#fee2d5"/><circle cx="661.7" cy="174.5" r="1.96" fill="#fee2d5"/><circle cx="672" cy="174.5" r="2.43" fill="#fee2d5"/></g>
<rect x="229.3" y="178.67" width="7.7" height="6.58" fill="#8c564b"/>
<line x1="238.6" y1="181.96" x2="240" y2="181.96" stroke="#333" stroke-width=".4"/>
<g stroke="#555" stroke-width=".28"><circle cx="248.1" cy="182" r="1.02" fill="#67000d"/><circle cx="258.4" cy="182" r="2.9" fill="#67000d"/><circle cx="268.8" cy="182" r="1.02" fill="#67000d"/><circle cx="279.1" cy="182" r="2.43" fill="#67000d"/><circle cx="289.5" cy="182" r="2.9" fill="#67000d"/><circle cx="299.8" cy="182" r="3.37" fill="#67000d"/><circle cx="310.1" cy="182" r="2.43" fill="#fcc3ac"/><circle cx="320.5" cy="182" r="2.43" fill="#fcc3ac"/><circle cx="330.8" cy="182" r="2.43" fill="#fcc3ac"/><circle cx="341.2" cy="182" r="2.43" fill="#9e0d14"/><circle cx="351.5" cy="182" r="2.9" fill="#fb7c5c"/><circle cx="361.8" cy="182" r="2.9" fill="#c3161b"/><circle cx="372.2" cy="182" r="2.43" fill="#9e0d14"/><circle cx="382.5" cy="182" r="2.9" fill="#c3161b"/><circle cx="392.9" cy="182" r="2.9" fill="#67000d"/><circle cx="403.2" cy="182" r="2.43" fill="#9e0d14"/><circle cx="413.5" cy="182" r="3.37" fill="#67000d"/><circle cx="423.9" cy="182" r="2.43" fill="#67000d"/><circle cx="434.2" cy="182" r="1.96" fill="#fee2d5"/><circle cx="444.6" cy="182" r="2.43" fill="#fcc3ac"/><circle cx="454.9" cy="182" r="1.49" fill="#fee2d5"/><circle cx="465.2" cy="182" r="2.9" fill="#fcc3ac"/><circle cx="475.6" cy="182" r="1.96" fill="#fcc3ac"/><circle cx="485.9" cy="182" r="2.9" fill="#fcc3ac"/><circle cx="506.6" cy="182" r="2.43" fill="#9e0d14"/><circle cx="516.9" cy="182" r="1.96" fill="#fcc3ac"/><circle cx="527.3" cy="182" r="1.49" fill="#fee2d5"/><circle cx="537.6" cy="182" r="1.02" fill="#fff5f0"/><circle cx="548" cy="182" r="3.37" fill="#fcc3ac"/><circle cx="558.3" cy="182" r="1.49" fill="#fee2d5"/><circle cx="568.6" cy="182" r="1.49" fill="#fee2d5"/><circle cx="579" cy="182" r="1.49" fill="#fee2d5"/><circle cx="589.3" cy="182" r="1.96" fill="#fee2d5"/><circle cx="599.7" cy="182" r="1.49" fill="#fee2d5"/><circle cx="610" cy="182" r="2.43" fill="#67000d"/><circle cx="620.3" cy="182" r="2.9" fill="#9e0d14"/><circle cx="630.7" cy="182" r="2.9" fill="#67000d"/><circle cx="641" cy="182" r="1.96" fill="#fb7c5c"/><circle cx="651.4" cy="182" r="1.02" fill="#fee2d5"/><circle cx="661.7" cy="182" r="1.49" fill="#fee2d5"/><circle cx="672" cy="182" r="2.43" fill="#f6553d"/></g>
<rect x="229.3" y="186.15" width="7.7" height="6.58" fill="#e377c2"/>
<line x1="238.6" y1="189.44" x2="240" y2="189.44" stroke="#333" stroke-width=".4"/>
<g stroke="#555" stroke-width=".28"><circle cx="248.1" cy="189.4" r="1.02" fill="#fcc3ac"/><circle cx="258.4" cy="189.4" r="1.96" fill="#fee2d5"/><circle cx="268.8" cy="189.4" r="1.02" fill="#e32f27"/><circle cx="279.1" cy="189.4" r="2.43" fill="#e32f27"/><circle cx="289.5" cy="189.4" r="2.43" fill="#fca082"/><circle cx="299.8" cy="189.4" r="2.9" fill="#fca082"/><circle cx="310.1" cy="189.4" r="2.43" fill="#fee2d5"/><circle cx="320.5" cy="189.4" r="2.43" fill="#fee2d5"/><circle cx="330.8" cy="189.4" r="1.96" fill="#fee2d5"/><circle cx="341.2" cy="189.4" r="2.43" fill="#fb7c5c"/><circle cx="351.5" cy="189.4" r="2.9" fill="#67000d"/><circle cx="361.8" cy="189.4" r="2.43" fill="#fcc3ac"/><circle cx="372.2" cy="189.4" r="2.43" fill="#f6553d"/><circle cx="382.5" cy="189.4" r="1.96" fill="#fcc3ac"/><circle cx="392.9" cy="189.4" r="2.43" fill="#fca082"/><circle cx="403.2" cy="189.4" r="2.43" fill="#fca082"/><circle cx="413.5" cy="189.4" r="2.9" fill="#fca082"/><circle cx="423.9" cy="189.4" r="2.43" fill="#fca082"/><circle cx="434.2" cy="189.4" r="2.9" fill="#67000d"/><circle cx="444.6" cy="189.4" r="3.37" fill="#67000d"/><circle cx="454.9" cy="189.4" r="2.43" fill="#fb7c5c"/><circle cx="465.2" cy="189.4" r="3.37" fill="#67000d"/><circle cx="475.6" cy="189.4" r="2.43" fill="#67000d"/><circle cx="485.9" cy="189.4" r="3.37" fill="#67000d"/><circle cx="506.6" cy="189.4" r="1.96" fill="#fb7c5c"/><circle cx="516.9" cy="189.4" r="1.96" fill="#fee2d5"/><circle cx="527.3" cy="189.4" r="2.9" fill="#fca082"/><circle cx="537.6" cy="189.4" r="1.49" fill="#fee2d5"/><circle cx="548" cy="189.4" r="3.37" fill="#fee2d5"/><circle cx="558.3" cy="189.4" r="1.49" fill="#fee2d5"/><circle cx="568.6" cy="189.4" r="1.49" fill="#fee2d5"/><circle cx="579" cy="189.4" r="2.43" fill="#fb7c5c"/><circle cx="589.3" cy="189.4" r="2.43" fill="#fee2d5"/><circle cx="599.7" cy="189.4" r="2.9" fill="#67000d"/><circle cx="610" cy="189.4" r="2.43" fill="#fca082"/><circle cx="620.3" cy="189.4" r="1.49" fill="#fee2d5"/><circle cx="630.7" cy="189.4" r="2.43" fill="#fb7c5c"/><circle cx="641" cy="189.4" r="1.96" fill="#fb7c5c"/><circle cx="651.4" cy="189.4" r="2.43" fill="#fb7c5c"/><circle cx="661.7" cy="189.4" r="2.43" fill="#fcc3ac"/><circle cx="672" cy="189.4" r="2.9" fill="#9e0d14"/></g>
<rect x="229.3" y="193.63" width="7.7" height="6.58" fill="#98df8a"/>
<line x1="238.6" y1="196.92" x2="240" y2="196.92" stroke="#333" stroke-width=".4"/>
<g stroke="#555" stroke-width=".28"><circle cx="258.4" cy="196.9" r="1.49" fill="#fee2d5"/><circle cx="268.8" cy="196.9" r="1.02" fill="#fb7c5c"/><circle cx="279.1" cy="196.9" r="1.96" fill="#fcc3ac"/><circle cx="289.5" cy="196.9" r="2.43" fill="#fca082"/><circle cx="299.8" cy="196.9" r="2.9" fill="#fcc3ac"/><circle cx="310.1" cy="196.9" r="2.43" fill="#fee2d5"/><circle cx="320.5" cy="196.9" r="1.96" fill="#fee2d5"/><circle cx="330.8" cy="196.9" r="1.96" fill="#fee2d5"/><circle cx="341.2" cy="196.9" r="2.43" fill="#f6553d"/><circle cx="351.5" cy="196.9" r="2.43" fill="#fee2d5"/><circle cx="361.8" cy="196.9" r="1.96" fill="#fee2d5"/><circle cx="372.2" cy="196.9" r="1.49" fill="#fee2d5"/><circle cx="382.5" cy="196.9" r="1.49" fill="#fee2d5"/><circle cx="392.9" cy="196.9" r="2.43" fill="#fca082"/><circle cx="403.2" cy="196.9" r="2.43" fill="#fb7c5c"/><circle cx="413.5" cy="196.9" r="2.43" fill="#fcc3ac"/><circle cx="423.9" cy="196.9" r="2.43" fill="#fca082"/><circle cx="434.2" cy="196.9" r="2.9" fill="#f6553d"/><circle cx="444.6" cy="196.9" r="2.43" fill="#fcc3ac"/><circle cx="454.9" cy="196.9" r="2.9" fill="#67000d"/><circle cx="465.2" cy="196.9" r="2.9" fill="#fb7c5c"/><circle cx="475.6" cy="196.9" r="2.43" fill="#fb7c5c"/><circle cx="485.9" cy="196.9" r="2.9" fill="#c3161b"/><circle cx="506.6" cy="196.9" r="1.96" fill="#fee2d5"/><circle cx="516.9" cy="196.9" r="1.96" fill="#fca082"/><circle cx="527.3" cy="196.9" r="3.37" fill="#67000d"/><circle cx="537.6" cy="196.9" r="1.96" fill="#fb7c5c"/><circle cx="548" cy="196.9" r="3.37" fill="#e32f27"/><circle cx="558.3" cy="196.9" r="2.43" fill="#fcc3ac"/><circle cx="568.6" cy="196.9" r="2.43" fill="#fca082"/><circle cx="579" cy="196.9" r="2.9" fill="#c3161b"/><circle cx="589.3" cy="196.9" r="3.37" fill="#e32f27"/><circle cx="599.7" cy="196.9" r="2.9" fill="#67000d"/><circle cx="610" cy="196.9" r="2.43" fill="#fcc3ac"/><circle cx="620.3" cy="196.9" r="1.02" fill="#fee2d5"/><circle cx="630.7" cy="196.9" r="2.43" fill="#f6553d"/><circle cx="641" cy="196.9" r="1.96" fill="#c3161b"/><circle cx="651.4" cy="196.9" r="2.9" fill="#9e0d14"/><circle cx="661.7" cy="196.9" r="2.9" fill="#fb7c5c"/><circle cx="672" cy="196.9" r="2.9" fill="#67000d"/></g>
<rect x="229.3" y="201.11" width="7.7" height="6.58" fill="#4fae7f"/>
<line x1="238.6" y1="204.4" x2="240" y2="204.4" stroke="#333" stroke-width=".4"/>
<g stroke="#555" stroke-width=".28"><circle cx="248.1" cy="204.4" r="1.02" fill="#fb7c5c"/><circle cx="258.4" cy="204.4" r="1.49" fill="#fff5f0"/><circle cx="268.8" cy="204.4" r="1.02" fill="#f6553d"/><circle cx="279.1" cy="204.4" r="1.49" fill="#fee2d5"/><circle cx="289.5" cy="204.4" r="1.96" fill="#fee2d5"/><circle cx="299.8" cy="204.4" r="2.9" fill="#fee2d5"/><circle cx="310.1" cy="204.4" r="1.96" fill="#fee2d5"/><circle cx="320.5" cy="204.4" r="1.96" fill="#fee2d5"/><circle cx="330.8" cy="204.4" r="1.96" fill="#fcc3ac"/><circle cx="341.2" cy="204.4" r="2.43" fill="#fca082"/><circle cx="351.5" cy="204.4" r="2.9" fill="#fcc3ac"/><circle cx="361.8" cy="204.4" r="1.49" fill="#fee2d5"/><circle cx="372.2" cy="204.4" r="1.49" fill="#fee2d5"/><circle cx="382.5" cy="204.4" r="1.49" fill="#fee2d5"/><circle cx="392.9" cy="204.4" r="1.96" fill="#fee2d5"/><circle cx="403.2" cy="204.4" r="2.43" fill="#f6553d"/><circle cx="413.5" cy="204.4" r="1.96" fill="#fee2d5"/><circle cx="423.9" cy="204.4" r="2.43" fill="#c3161b"/><circle cx="434.2" cy="204.4" r="1.96" fill="#fee2d5"/><circle cx="444.6" cy="204.4" r="1.96" fill="#fee2d5"/><circle cx="454.9" cy="204.4" r="2.43" fill="#fca082"/><circle cx="465.2" cy="204.4" r="2.9" fill="#fca082"/><circle cx="475.6" cy="204.4" r="1.96" fill="#fee2d5"/><circle cx="485.9" cy="204.4" r="2.9" fill="#f6553d"/><circle cx="506.6" cy="204.4" r="1.96" fill="#f6553d"/><circle cx="516.9" cy="204.4" r="1.96" fill="#fee2d5"/><circle cx="527.3" cy="204.4" r="3.37" fill="#9e0d14"/><circle cx="537.6" cy="204.4" r="2.43" fill="#67000d"/><circle cx="548" cy="204.4" r="3.37" fill="#e32f27"/><circle cx="558.3" cy="204.4" r="1.49" fill="#fee2d5"/><circle cx="568.6" cy="204.4" r="1.96" fill="#fee2d5"/><circle cx="579" cy="204.4" r="1.96" fill="#fcc3ac"/><circle cx="589.3" cy="204.4" r="3.37" fill="#f6553d"/><circle cx="599.7" cy="204.4" r="2.43" fill="#c3161b"/><circle cx="610" cy="204.4" r="1.96" fill="#fee2d5"/><circle cx="620.3" cy="204.4" r="1.02" fill="#fee2d5"/><circle cx="630.7" cy="204.4" r="2.43" fill="#fca082"/><circle cx="641" cy="204.4" r="1.96" fill="#67000d"/><circle cx="651.4" cy="204.4" r="2.9" fill="#f6553d"/><circle cx="661.7" cy="204.4" r="1.96" fill="#fee2d5"/><circle cx="672" cy="204.4" r="2.9" fill="#9e0d14"/></g>
<rect x="229.3" y="208.59" width="7.7" height="6.58" fill="#ff7f0e"/>
<line x1="238.6" y1="211.88" x2="240" y2="211.88" stroke="#333" stroke-width=".4"/>
<g stroke="#555" stroke-width=".28"><circle cx="248.1" cy="211.9" r="1.02" fill="#fca082"/><circle cx="258.4" cy="211.9" r="1.49" fill="#fee2d5"/><circle cx="268.8" cy="211.9" r="1.02" fill="#f6553d"/><circle cx="279.1" cy="211.9" r="1.49" fill="#fee2d5"/><circle cx="289.5" cy="211.9" r="2.43" fill="#f6553d"/><circle cx="299.8" cy="211.9" r="2.9" fill="#fee2d5"/><circle cx="310.1" cy="211.9" r="2.43" fill="#fee2d5"/><circle cx="320.5" cy="211.9" r="1.96" fill="#fee2d5"/><circle cx="330.8" cy="211.9" r="1.96" fill="#fee2d5"/><circle cx="341.2" cy="211.9" r="1.96" fill="#fee2d5"/><circle cx="351.5" cy="211.9" r="2.9" fill="#fee2d5"/><circle cx="361.8" cy="211.9" r="1.96" fill="#fee2d5"/><circle cx="372.2" cy="211.9" r="1.49" fill="#fee2d5"/><circle cx="382.5" cy="211.9" r="1.49" fill="#fee2d5"/><circle cx="392.9" cy="211.9" r="2.43" fill="#fcc3ac"/><circle cx="403.2" cy="211.9" r="1.96" fill="#fee2d5"/><circle cx="413.5" cy="211.9" r="2.43" fill="#fcc3ac"/><circle cx="423.9" cy="211.9" r="2.43" fill="#9e0d14"/><circle cx="434.2" cy="211.9" r="1.96" fill="#fee2d5"/><circle cx="444.6" cy="211.9" r="1.96" fill="#fee2d5"/><circle cx="454.9" cy="211.9" r="2.9" fill="#fb7c5c"/><circle cx="465.2" cy="211.9" r="2.9" fill="#fcc3ac"/><circle cx="475.6" cy="211.9" r="1.96" fill="#fee2d5"/><circle cx="485.9" cy="211.9" r="2.9" fill="#fb7c5c"/><circle cx="506.6" cy="211.9" r="1.96" fill="#fca082"/><circle cx="516.9" cy="211.9" r="2.43" fill="#e32f27"/><circle cx="527.3" cy="211.9" r="3.37" fill="#c3161b"/><circle cx="537.6" cy="211.9" r="2.43" fill="#c3161b"/><circle cx="548" cy="211.9" r="3.37" fill="#c3161b"/><circle cx="558.3" cy="211.9" r="2.9" fill="#67000d"/><circle cx="568.6" cy="211.9" r="2.9" fill="#67000d"/><circle cx="579" cy="211.9" r="2.9" fill="#67000d"/><circle cx="589.3" cy="211.9" r="3.37" fill="#9e0d14"/><circle cx="599.7" cy="211.9" r="2.43" fill="#e32f27"/><circle cx="610" cy="211.9" r="2.43" fill="#fcc3ac"/><circle cx="620.3" cy="211.9" r="1.02" fill="#fee2d5"/><circle cx="630.7" cy="211.9" r="1.96" fill="#fee2d5"/><circle cx="641" cy="211.9" r="1.96" fill="#c3161b"/><circle cx="651.4" cy="211.9" r="2.9" fill="#f6553d"/><circle cx="661.7" cy="211.9" r="3.37" fill="#67000d"/><circle cx="672" cy="211.9" r="2.9" fill="#f6553d"/></g>
<rect x="229.3" y="216.07" width="7.7" height="6.58" fill="#d62728"/>
<line x1="238.6" y1="219.36" x2="240" y2="219.36" stroke="#333" stroke-width=".4"/>
<g stroke="#555" stroke-width=".28"><circle cx="258.4" cy="219.4" r="1.49" fill="#fff5f0"/><circle cx="279.1" cy="219.4" r="1.49" fill="#fee2d5"/><circle cx="289.5" cy="219.4" r="1.96" fill="#fee2d5"/><circle cx="299.8" cy="219.4" r="2.9" fill="#fb7c5c"/><circle cx="310.1" cy="219.4" r="1.96" fill="#fee2d5"/><circle cx="320.5" cy="219.4" r="1.49" fill="#fee2d5"/><circle cx="330.8" cy="219.4" r="1.96" fill="#fee2d5"/><circle cx="341.2" cy="219.4" r="2.43" fill="#f6553d"/><circle cx="351.5" cy="219.4" r="2.9" fill="#fee2d5"/><circle cx="361.8" cy="219.4" r="1.96" fill="#fee2d5"/><circle cx="372.2" cy="219.4" r="1.49" fill="#fee2d5"/><circle cx="382.5" cy="219.4" r="2.43" fill="#67000d"/><circle cx="392.9" cy="219.4" r="1.96" fill="#fee2d5"/><circle cx="403.2" cy="219.4" r="1.96" fill="#fee2d5"/><circle cx="413.5" cy="219.4" r="1.96" fill="#fee2d5"/><circle cx="423.9" cy="219.4" r="1.96" fill="#fee2d5"/><circle cx="434.2" cy="219.4" r="1.96" fill="#fcc3ac"/><circle cx="444.6" cy="219.4" r="2.43" fill="#fca082"/><circle cx="454.9" cy="219.4" r="2.43" fill="#fcc3ac"/><circle cx="465.2" cy="219.4" r="2.9" fill="#fee2d5"/><circle cx="475.6" cy="219.4" r="1.96" fill="#fee2d5"/><circle cx="485.9" cy="219.4" r="2.9" fill="#fee2d5"/><circle cx="506.6" cy="219.4" r="1.96" fill="#fee2d5"/><circle cx="516.9" cy="219.4" r="1.96" fill="#fee2d5"/><circle cx="527.3" cy="219.4" r="3.37" fill="#c3161b"/><circle cx="537.6" cy="219.4" r="1.96" fill="#fca082"/><circle cx="548" cy="219.4" r="3.37" fill="#67000d"/><circle cx="558.3" cy="219.4" r="1.49" fill="#fee2d5"/><circle cx="568.6" cy="219.4" r="1.96" fill="#fee2d5"/><circle cx="579" cy="219.4" r="1.49" fill="#fee2d5"/><circle cx="589.3" cy="219.4" r="3.37" fill="#67000d"/><circle cx="599.7" cy="219.4" r="2.43" fill="#c3161b"/><circle cx="610" cy="219.4" r="2.43" fill="#fb7c5c"/><circle cx="630.7" cy="219.4" r="2.43" fill="#f6553d"/><circle cx="641" cy="219.4" r="1.96" fill="#67000d"/><circle cx="651.4" cy="219.4" r="2.9" fill="#67000d"/><circle cx="661.7" cy="219.4" r="2.9" fill="#e32f27"/><circle cx="672" cy="219.4" r="2.9" fill="#67000d"/></g>
<path stroke="#333" stroke-width=".4" d="M248.1 226.1v1.3M258.4 226.1v1.3M268.8 226.1v1.3M279.1 226.1v1.3M289.5 226.1v1.3M299.8 226.1v1.3M310.1 226.1v1.3M320.5 226.1v1.3M330.8 226.1v1.3M341.2 226.1v1.3M351.5 226.1v1.3M361.8 226.1v1.3M372.2 226.1v1.3M382.5 226.1v1.3M392.9 226.1v1.3M403.2 226.1v1.3M413.5 226.1v1.3M423.9 226.1v1.3M434.2 226.1v1.3M444.6 226.1v1.3M454.9 226.1v1.3M465.2 226.1v1.3M475.6 226.1v1.3M485.9 226.1v1.3M496.3 226.1v1.3M506.6 226.1v1.3M516.9 226.1v1.3M527.3 226.1v1.3M537.6 226.1v1.3M548 226.1v1.3M558.3 226.1v1.3M568.6 226.1v1.3M579 226.1v1.3M589.3 226.1v1.3M599.7 226.1v1.3M610 226.1v1.3M620.3 226.1v1.3M630.7 226.1v1.3M641 226.1v1.3M651.4 226.1v1.3M661.7 226.1v1.3M672 226.1v1.3"/>
<path d="M244.5 23.4 V21.2 H301.8 V23.4" fill="none" stroke="#444" stroke-width=".6"/>
<text transform="translate(272.75,19.6) rotate(-90)" font-size="7">MPC</text>
<path d="M306.54 23.4 V21.2 H363.84 V23.4" fill="none" stroke="#444" stroke-width=".6"/>
<text transform="translate(334.79,19.6) rotate(-90)" font-size="7">Acinar</text>
<path d="M368.58 23.4 V21.2 H425.88 V23.4" fill="none" stroke="#444" stroke-width=".6"/>
<text transform="translate(396.83,19.6) rotate(-90)" font-size="7">Ductal</text>
<path d="M430.62 23.4 V21.2 H487.92 V23.4" fill="none" stroke="#444" stroke-width=".6"/>
<text transform="translate(458.87,19.6) rotate(-90)" font-size="7">EP</text>
<path d="M492.66 23.4 V21.2 H549.96 V23.4" fill="none" stroke="#444" stroke-width=".6"/>
<text transform="translate(520.91,19.6) rotate(-90)" font-size="7">Beta</text>
<path d="M554.7 23.4 V21.2 H612 V23.4" fill="none" stroke="#444" stroke-width=".6"/>
<text transform="translate(582.95,19.6) rotate(-90)" font-size="7">Alpha</text>
<path d="M616.74 23.4 V21.2 H674.04 V23.4" fill="none" stroke="#444" stroke-width=".6"/>
<text transform="translate(644.99,19.6) rotate(-90)" font-size="7">Delta</text>
<text transform="translate(248.4,228.6) rotate(-90)" font-size="7.1" font-style="italic" text-anchor="end">NPAS2</text>
<text transform="translate(258.74,228.6) rotate(-90)" font-size="7.1" font-style="italic" text-anchor="end">ONECUT1</text>
<text transform="translate(269.08,228.6) rotate(-90)" font-size="7.1" font-style="italic" text-anchor="end">EPAS1</text>
<text transform="translate(279.42,228.6) rotate(-90)" font-size="7.1" font-style="italic" text-anchor="end">NFE2L3</text>
<text transform="translate(289.76,228.6) rotate(-90)" font-size="7.1" font-style="italic" text-anchor="end">SOX6</text>
<text transform="translate(300.1,228.6) rotate(-90)" font-size="7.1" font-style="italic" text-anchor="end">SOX9</text>
<text transform="translate(310.44,228.6) rotate(-90)" font-size="7.1" font-style="italic" text-anchor="end">RBPJL</text>
<text transform="translate(320.78,228.6) rotate(-90)" font-size="7.1" font-style="italic" text-anchor="end">PTF1A</text>
<text transform="translate(331.12,228.6) rotate(-90)" font-size="7.1" font-style="italic" text-anchor="end">MYC</text>
<text transform="translate(341.46,228.6) rotate(-90)" font-size="7.1" font-style="italic" text-anchor="end">ATF3</text>
<text transform="translate(351.8,228.6) rotate(-90)" font-size="7.1" font-style="italic" text-anchor="end">RBPJ</text>
<text transform="translate(362.14,228.6) rotate(-90)" font-size="7.1" font-style="italic" text-anchor="end">NR5A2</text>
<text transform="translate(372.48,228.6) rotate(-90)" font-size="7.1" font-style="italic" text-anchor="end">HEY1</text>
<text transform="translate(382.82,228.6) rotate(-90)" font-size="7.1" font-style="italic" text-anchor="end">EHF</text>
<text transform="translate(393.16,228.6) rotate(-90)" font-size="7.1" font-style="italic" text-anchor="end">HNF1B</text>
<text transform="translate(403.5,228.6) rotate(-90)" font-size="7.1" font-style="italic" text-anchor="end">KLF5</text>
<text transform="translate(413.84,228.6) rotate(-90)" font-size="7.1" font-style="italic" text-anchor="end">HES1</text>
<text transform="translate(424.18,228.6) rotate(-90)" font-size="7.1" font-style="italic" text-anchor="end">STAT1</text>
<text transform="translate(434.52,228.6) rotate(-90)" font-size="7.1" font-style="italic" text-anchor="end">PAX4</text>
<text transform="translate(444.86,228.6) rotate(-90)" font-size="7.1" font-style="italic" text-anchor="end">NEUROG3</text>
<text transform="translate(455.2,228.6) rotate(-90)" font-size="7.1" font-style="italic" text-anchor="end">FEV</text>
<text transform="translate(465.54,228.6) rotate(-90)" font-size="7.1" font-style="italic" text-anchor="end">HES6</text>
<text transform="translate(475.88,228.6) rotate(-90)" font-size="7.1" font-style="italic" text-anchor="end">MYCL</text>
<text transform="translate(486.22,228.6) rotate(-90)" font-size="7.1" font-style="italic" text-anchor="end">NKX2-2</text>
<text transform="translate(496.56,228.6) rotate(-90)" font-size="7.1" font-style="italic" text-anchor="end">MAFA</text>
<text transform="translate(506.9,228.6) rotate(-90)" font-size="7.1" font-style="italic" text-anchor="end">PLAGL1</text>
<text transform="translate(517.24,228.6) rotate(-90)" font-size="7.1" font-style="italic" text-anchor="end">FOXP2</text>
<text transform="translate(527.58,228.6) rotate(-90)" font-size="7.1" font-style="italic" text-anchor="end">PAX6</text>
<text transform="translate(537.92,228.6) rotate(-90)" font-size="7.1" font-style="italic" text-anchor="end">MYT1L</text>
<text transform="translate(548.26,228.6) rotate(-90)" font-size="7.1" font-style="italic" text-anchor="end">MEIS2</text>
<text transform="translate(558.6,228.6) rotate(-90)" font-size="7.1" font-style="italic" text-anchor="end">IRX1</text>
<text transform="translate(568.94,228.6) rotate(-90)" font-size="7.1" font-style="italic" text-anchor="end">IRX2</text>
<text transform="translate(579.28,228.6) rotate(-90)" font-size="7.1" font-style="italic" text-anchor="end">ARX</text>
<text transform="translate(589.62,228.6) rotate(-90)" font-size="7.1" font-style="italic" text-anchor="end">ISL1</text>
<text transform="translate(599.96,228.6) rotate(-90)" font-size="7.1" font-style="italic" text-anchor="end">RFX6</text>
<text transform="translate(610.3,228.6) rotate(-90)" font-size="7.1" font-style="italic" text-anchor="end">SOX5</text>
<text transform="translate(620.64,228.6) rotate(-90)" font-size="7.1" font-style="italic" text-anchor="end">RXRG</text>
<text transform="translate(630.98,228.6) rotate(-90)" font-size="7.1" font-style="italic" text-anchor="end">PBX3</text>
<text transform="translate(641.32,228.6) rotate(-90)" font-size="7.1" font-style="italic" text-anchor="end">NPAS3</text>
<text transform="translate(651.66,228.6) rotate(-90)" font-size="7.1" font-style="italic" text-anchor="end">ST18</text>
<text transform="translate(662,228.6) rotate(-90)" font-size="7.1" font-style="italic" text-anchor="end">ETV1</text>
<text transform="translate(672.34,228.6) rotate(-90)" font-size="7.1" font-style="italic" text-anchor="end">DACH1</text>
<text x="579.5" y="263.8" font-size="6.4" text-anchor="middle">Mean expression</text>
<text x="579.5" y="271.6" font-size="6.4" text-anchor="middle">in group</text>
<defs><linearGradient id="reds" x1="0" y1="0" x2="1" y2="0"><stop offset="0" stop-color="#fff5f0"/><stop offset=".125" stop-color="#fee0d2"/><stop offset=".25" stop-color="#fcbba1"/><stop offset=".375" stop-color="#fc9272"/><stop offset=".5" stop-color="#fb6a4a"/><stop offset=".625" stop-color="#ef3b2c"/><stop offset=".75" stop-color="#cb181d"/><stop offset=".875" stop-color="#a50f15"/><stop offset="1" stop-color="#67000d"/></linearGradient></defs>
<rect x="555.2" y="275.6" width="46.6" height="5.5" fill="url(#reds)" stroke="#333" stroke-width=".4"/>
<line x1="559.8" y1="281.1" x2="559.8" y2="282.2" stroke="#333" stroke-width=".4"/>
<text x="559.8" y="287.6" font-size="6.4" text-anchor="middle">0.0</text>
<line x1="579.5" y1="281.1" x2="579.5" y2="282.2" stroke="#333" stroke-width=".4"/>
<text x="579.5" y="287.6" font-size="6.4" text-anchor="middle">0.5</text>
<line x1="598.6" y1="281.1" x2="598.6" y2="282.2" stroke="#333" stroke-width=".4"/>
<text x="598.6" y="287.6" font-size="6.4" text-anchor="middle">1.0</text>
<text x="650.4" y="259.6" font-size="6.5" text-anchor="middle">Fraction of cells</text>
<text x="650.5" y="268.2" font-size="6.5" text-anchor="middle">in group (%)</text>
<circle cx="632.1" cy="275.2" r="2.45" fill="#888" stroke="#666" stroke-width=".3"/>
<line x1="632.1" y1="279.4" x2="632.1" y2="280.6" stroke="#444" stroke-width=".4"/>
<circle cx="640.5" cy="275.2" r="2.7" fill="#888" stroke="#666" stroke-width=".3"/>
<line x1="640.5" y1="279.4" x2="640.5" y2="280.6" stroke="#444" stroke-width=".4"/>
<circle cx="648.6" cy="275.2" r="2.95" fill="#888" stroke="#666" stroke-width=".3"/>
<line x1="648.6" y1="279.4" x2="648.6" y2="280.6" stroke="#444" stroke-width=".4"/>
<circle cx="656.6" cy="275.2" r="3.2" fill="#888" stroke="#666" stroke-width=".3"/>
<line x1="656.6" y1="279.4" x2="656.6" y2="280.6" stroke="#444" stroke-width=".4"/>
<circle cx="665.5" cy="275.2" r="3.55" fill="#888" stroke="#666" stroke-width=".3"/>
<line x1="665.5" y1="279.4" x2="665.5" y2="280.6" stroke="#444" stroke-width=".4"/>
<text x="649.2" y="288.4" font-size="6.4" text-anchor="middle" textLength="45" lengthAdjust="spacingAndGlyphs">20 40 60 80100</text>
<text x="-.6" y="294.7" font-size="9.6" font-weight="bold">d</text>
<text x="69.6" y="293.2" font-size="7" font-style="italic" text-anchor="middle">Homo Sapiens</text>
<text x="69.6" y="300.4" font-size="7" text-anchor="middle"><tspan font-style="italic">NEUROG3</tspan> locus</text>
<rect x="18.3" y="301.8" width="3.6" height="118.6" fill="#eceeed"/>
<rect x="51.3" y="301.8" width="4.4" height="118.6" fill="#eceeed"/>
<rect x="81" y="301.8" width="3.9" height="118.6" fill="#eceeed"/>
<rect x="91.2" y="301.8" width="5.8" height="118.6" fill="#eceeed"/>
<rect x="111.8" y="301.8" width="3.9" height="118.6" fill="#eceeed"/>
<path d="M10.8 316.2L10.8 316 11.1 316.1 11.4 316.2 11.7 316.1 12 316.2 12.3 316.1 12.6 316.2 12.9 316.1 13.2 316.2 13.5 316.1 13.8 316.2 14.1 316.2 14.4 316.1 14.7 315.9 15 316.1 15.3 316.1 15.6 316.1 15.9 316 16.2 316.2 16.5 316.1 16.8 316.1 17.1 316.2 17.4 316.1 17.7 316.2 18 316 18.3 316.2 18.6 316 18.9 316.1 19.2 316 19.5 315.8 19.8 315.2 20.1 314.5 20.4 315.1 20.7 315.9 21 316.1 21.3 316.2 21.6 316.1 21.9 316.2 22.2 316 22.5 316 22.8 316 23.1 316.2 23.4 316.2 23.7 316.2 24 316.2 24.3 316.1 24.6 316.2 24.9 316.2 25.2 316.1 25.5 316.1 25.8 316.2 26.1 316.2 26.4 316.2 26.7 316.1 27 316.1 27.3 316.1 27.6 316.1 27.9 316.1 28.2 316 28.5 316.2 28.8 316.2 29.1 316.2 29.4 316 29.7 316.2 30 316.1 30.3 316.2 30.6 316.2 30.9 316.2 31.2 316.1 31.5 316.2 31.8 316 32.1 316 32.4 316.1 32.7 316.2 33 316.2 33.3 316.1 33.6 316.1 33.9 315.9 34.2 316.2 34.5 316.2 34.8 316.1 35.1 316.1 35.4 316.2 35.7 316 36 316.2 36.3 316.2 36.6 316.2 36.9 316.2 37.2 316.2 37.5 316.1 37.8 316.1 38.1 316.1 38.4 316.2 38.7 316.2 39 316.1 39.3 316.2 39.6 315.9 39.9 316.2 40.2 316.1 40.5 316.2 40.8 316.2 41.1 316.1 41.4 316 41.7 316.2 42 316 42.3 316.1 42.6 316.2 42.9 316.2 43.2 316.2 43.5 316.1 43.8 316.2 44.1 316.2 44.4 316.2 44.7 316.1 45 316.1 45.3 316.2 45.6 316.2 45.9 316 46.2 316 46.5 316.2 46.8 316.1 47.1 316 47.4 316.1 47.7 316.2 48 316.2 48.3 316.2 48.6 316.2 48.9 316.1 49.2 316.2 49.5 316.1 49.8 316.1 50.1 316.2 50.4 316.2 50.7 316 51 316.2 51.3 316.1 51.6 316 51.9 316 52.2 316 52.5 316 52.8 316.2 53.1 316.2 53.4 316.2 53.7 316.1 54 316.2 54.3 316 54.6 315.9 54.9 316 55.2 316.1 55.5 316.1 55.8 316.2 56.1 316.2 56.4 316.2 56.7 316.2 57 316.2 57.3 316.2 57.6 316 57.9 316.2 58.2 316.2 58.5 316 58.8 316.1 59.1 316.1 59.4 316.2 59.7 316.2 60 316 60.3 316.2 60.6 316.2 60.9 316.2 61.2 316.2 61.5 316 61.8 316.1 62.1 316.2 62.4 316 62.7 316.1 63 316.1 63.3 316.2 63.6 316.1 63.9 316.2 64.2 316 64.5 316 64.8 316.1 65.1 316.1 65.4 316 65.7 316 66 316.1 66.3 316 66.6 316.2 66.9 316.2 67.2 316.1 67.5 316.2 67.8 316 68.1 316.1 68.4 316.1 68.7 316.2 69 316.1 69.3 316.2 69.6 316.1 69.9 316.2 70.2 316 70.5 316.1 70.8 316.2 71.1 316.1 71.4 316 71.7 316.2 72 316.1 72.3 316.2 72.6 316.2 72.9 315.7 73.2 314.5 73.5 313 73.8 313.3 74.1 315 74.4 314.6 74.7 314.5 75 315.6 75.3 316.1 75.6 316.2 75.9 316.1 76.2 316.1 76.5 316 76.8 316.2 77.1 316.1 77.4 316.1 77.7 316.1 78 316 78.3 315.5 78.6 315.2 78.9 315.6 79.2 316 79.5 316.1 79.8 316 80.1 315.9 80.4 315.3 80.7 315.3 81 315.5 81.3 316 81.6 316.1 81.9 315.9 82.2 315.7 82.5 315.7 82.8 315.7 83.1 315.7 83.4 315.8 83.7 316 84 316 84.3 315.9 84.6 315.4 84.9 315.4 85.2 315.8 85.5 315.3 85.8 315.1 86.1 315.3 86.4 315.6 86.7 315.7 87 315.5 87.3 315.5 87.6 315.6 87.9 315.6 88.2 315.6 88.5 315.4 88.8 315.1 89.1 315.3 89.4 315.7 89.7 315.8 90 315.6 90.3 315.7 90.6 315.8 90.9 315.2 91.2 315.2 91.5 315.7 91.8 315.8 92.1 316 92.4 315.8 92.7 315.9 93 316 93.3 316 93.6 316 93.9 315.9 94.2 316.1 94.5 315.9 94.8 315.9 95.1 316 95.4 316 95.7 315.9 96 316 96.3 315.9 96.6 316 96.9 316.1 97.2 316.1 97.5 316.2 97.8 316.1 98.1 316 98.4 316.1 98.7 315.9 99 316.1 99.3 316.1 99.6 316.1 99.9 316 100.2 316.1 100.5 316 100.8 316 101.1 316.1 101.4 316.1 101.7 316.2 102 316.2 102.3 316.1 102.6 316.1 102.9 316.1 103.2 316.1 103.5 316.1 103.8 316.2 104.1 316.1 104.4 316.2 104.7 316.1 105 316.2 105.3 316.1 105.6 315.9 105.9 316.1 106.2 316.2 106.5 316.1 106.8 316 107.1 316.1 107.4 316.1 107.7 316.2 108 316.1 108.3 316.1 108.6 316.2 108.9 316.2 109.2 316.2 109.5 316 109.8 316.1 110.1 316.1 110.4 316.2 110.7 316.2 111 316.1 111.3 316.1 111.6 316.2 111.9 316.2 112.2 316.2 112.5 316.2 112.8 316.2 113.1 316.1 113.4 316.1 113.7 316.2 114 316.2 114.3 316.1 114.6 316.2 114.9 316.1 115.2 316.2 115.5 316.2 115.8 316.1 116.1 316.2 116.4 316.2 116.7 316.2 117 316.2 117.3 316.2 117.6 316.2 117.9 316.2 118.2 316.2 118.5 316.1 118.8 316 119.1 316.1 119.4 316.1 119.7 316.1 120 316.1 120.3 316.2 120.6 316.1 120.9 316.2 121.2 316.2 121.5 316.1 121.8 316 122.1 316.2 122.4 316.2 122.7 316.1 123 316.1 123.3 316.2 123.6 316.2 123.9 316.1 124.2 316.2 124.5 316 124.8 316.1 125.1 316.1 125.4 316.1 125.7 316.2 126 316.2 126.3 316.2 126.6 316.2 126.9 316 127.2 316.1 127.5 316.2 127.8 316.2 128.1 316.1 128.3 316.2Z" fill="#1f77b4"/>
<line x1="10.3" y1="316.2" x2="128.8" y2="316.2" stroke="#1f77b4" stroke-width=".45" stroke-opacity=".8"/>
<path d="M10.8 331L10.8 331 11.1 331 11.4 331 11.7 330.9 12 331 12.3 331 12.6 330.9 12.9 330.9 13.2 330.9 13.5 330.9 13.8 330.8 14.1 331 14.4 331 14.7 330.9 15 331 15.3 331 15.6 330.9 15.9 330.9 16.2 331 16.5 331 16.8 331 17.1 331 17.4 331 17.7 331 18 331 18.3 330.8 18.6 330.5 18.9 329.9 19.2 330 19.5 330.4 19.8 329.2 20.1 328 20.4 328.9 20.7 330.5 21 330.8 21.3 331 21.6 330.9 21.9 330.8 22.2 331 22.5 331 22.8 330.9 23.1 331 23.4 331 23.7 330.9 24 331 24.3 331 24.6 330.9 24.9 331 25.2 330.8 25.5 331 25.8 330.9 26.1 331 26.4 330.8 26.7 331 27 330.9 27.3 330.9 27.6 330.8 27.9 331 28.2 330.8 28.5 330.9 28.8 330.8 29.1 330.9 29.4 330.9 29.7 330.9 30 330.9 30.3 331 30.6 330.9 30.9 330.9 31.2 330.9 31.5 330.9 31.8 330.9 32.1 330.8 32.4 330.8 32.7 330.8 33 330.9 33.3 330.9 33.6 331 33.9 330.8 34.2 331 34.5 330.9 34.8 330.8 35.1 331 35.4 330.9 35.7 330.9 36 331 36.3 331 36.6 331 36.9 331 37.2 330.8 37.5 330.9 37.8 330.9 38.1 330.7 38.4 331 38.7 331 39 330.9 39.3 330.8 39.6 330.8 39.9 330.9 40.2 331 40.5 331 40.8 330.9 41.1 330.9 41.4 330.9 41.7 331 42 331 42.3 330.9 42.6 331 42.9 331 43.2 330.9 43.5 331 43.8 331 44.1 330.9 44.4 330.9 44.7 331 45 330.9 45.3 331 45.6 330.8 45.9 331 46.2 330.9 46.5 330.8 46.8 330.9 47.1 330.9 47.4 330.9 47.7 330.9 48 330.9 48.3 330.9 48.6 330.9 48.9 331 49.2 330.8 49.5 331 49.8 331 50.1 331 50.4 330.8 50.7 330.9 51 330.9 51.3 330.9 51.6 331 51.9 330.9 52.2 330.7 52.5 331 52.8 330.8 53.1 330.9 53.4 331 53.7 331 54 331 54.3 331 54.6 331 54.9 331 55.2 330.8 55.5 330.9 55.8 331 56.1 330.9 56.4 330.8 56.7 330.9 57 330.9 57.3 331 57.6 330.9 57.9 330.9 58.2 330.9 58.5 331 58.8 330.9 59.1 331 59.4 330.9 59.7 330.9 60 330.9 60.3 330.8 60.6 330.9 60.9 331 61.2 331 61.5 331 61.8 331 62.1 331 62.4 330.8 62.7 330.9 63 330.9 63.3 330.9 63.6 330.9 63.9 331 64.2 330.9 64.5 330.8 64.8 330.8 65.1 331 65.4 330.9 65.7 330.9 66 330.8 66.3 330.9 66.6 331 66.9 330.9 67.2 331 67.5 330.9 67.8 330.9 68.1 331 68.4 330.9 68.7 331 69 331 69.3 331 69.6 331 69.9 330.9 70.2 330.9 70.5 331 70.8 331 71.1 330.9 71.4 330.9 71.7 330.7 72 330.9 72.3 330.7 72.6 330.9 72.9 330.5 73.2 329.1 73.5 327.5 73.8 327.9 74.1 329.8 74.4 330.7 74.7 330.9 75 330.8 75.3 330.7 75.6 330.9 75.9 330.8 76.2 330.7 76.5 330.3 76.8 330 77.1 330.6 77.4 330.4 77.7 329.8 78 329.1 78.3 329.6 78.6 330.3 78.9 330.8 79.2 330.6 79.5 330.7 79.8 330.7 80.1 330.6 80.4 330.7 80.7 330.7 81 330.7 81.3 330.5 81.6 330.6 81.9 330.6 82.2 330.4 82.5 330.5 82.8 329.7 83.1 329.2 83.4 329.7 83.7 330.3 84 330 84.3 328.7 84.6 328.8 84.9 329.3 85.2 329 85.5 329.9 85.8 330.1 86.1 330 86.4 330.1 86.7 329.9 87 329.7 87.3 329.7 87.6 329.8 87.9 329.8 88.2 329.8 88.5 329.9 88.8 329.6 89.1 329.9 89.4 330 89.7 330 90 330 90.3 329 90.6 328.9 90.9 330.1 91.2 330.3 91.5 330.5 91.8 330.5 92.1 330.2 92.4 330.5 92.7 330.5 93 330.5 93.3 330.5 93.6 330.5 93.9 330.6 94.2 330.6 94.5 330.5 94.8 330.7 95.1 330.6 95.4 330.7 95.7 330.7 96 330.5 96.3 330.8 96.6 330.8 96.9 330.4 97.2 329.7 97.5 329.2 97.8 329.3 98.1 330 98.4 330.3 98.7 329.2 99 328.7 99.3 329.7 99.6 329.4 99.9 328.7 100.2 329.5 100.5 330.6 100.8 330.9 101.1 330.8 101.4 330.9 101.7 330.9 102 330.9 102.3 330.9 102.6 330.9 102.9 330.9 103.2 331 103.5 330.9 103.8 331 104.1 330.9 104.4 330.9 104.7 331 105 330.9 105.3 331 105.6 331 105.9 331 106.2 331 106.5 331 106.8 331 107.1 331 107.4 331 107.7 330.9 108 331 108.3 331 108.6 330.9 108.9 330.9 109.2 330.9 109.5 330.7 109.8 330.2 110.1 329.9 110.4 330.1 110.7 330.5 111 330.2 111.3 330 111.6 329.5 111.9 329.8 112.2 330.6 112.5 330.7 112.8 330.4 113.1 330.4 113.4 330 113.7 330 114 329.8 114.3 329.7 114.6 330.3 114.9 330.7 115.2 330.7 115.5 330.6 115.8 330.4 116.1 330.3 116.4 330.8 116.7 330.8 117 330.9 117.3 330.9 117.6 331 117.9 331 118.2 331 118.5 331 118.8 330.9 119.1 331 119.4 330.9 119.7 331 120 330.9 120.3 331 120.6 330.8 120.9 331 121.2 331 121.5 331 121.8 331 122.1 331 122.4 330.9 122.7 330.9 123 330.9 123.3 330.9 123.6 331 123.9 331 124.2 330.8 124.5 330.9 124.8 331 125.1 330.9 125.4 330.9 125.7 330.9 126 330.9 126.3 331 126.6 330.9 126.9 330.9 127.2 331 127.5 331 127.8 331 128.1 330.8 128.3 331Z" fill="#b5bd61"/>
<line x1="10.3" y1="331" x2="128.8" y2="331" stroke="#b5bd61" stroke-width=".45" stroke-opacity=".8"/>
<path d="M10.8 345.7L10.8 345.7 11.1 345.7 11.4 345.5 11.7 345.7 12 345.7 12.3 345.5 12.6 345.6 12.9 345.7 13.2 345.7 13.5 345.5 13.8 345.6 14.1 345.6 14.4 345.7 14.7 345.6 15 345.6 15.3 345.7 15.6 345.6 15.9 345.7 16.2 345.7 16.5 345.6 16.8 345.7 17.1 345.5 17.4 345.7 17.7 345.5 18 345.7 18.3 345.7 18.6 345.6 18.9 345.7 19.2 345.5 19.5 344.7 19.8 342.8 20.1 340.9 20.4 342.5 20.7 344.6 21 345.6 21.3 345.7 21.6 345.7 21.9 345.6 22.2 345.7 22.5 345.6 22.8 345.7 23.1 345.7 23.4 345.6 23.7 345.7 24 345.6 24.3 345.6 24.6 345.7 24.9 345.5 25.2 345.6 25.5 345.7 25.8 345.7 26.1 345.7 26.4 345.6 26.7 345.6 27 345.4 27.3 344.6 27.6 344.2 27.9 344.7 28.2 345.2 28.5 345.6 28.8 345.7 29.1 345.6 29.4 345.6 29.7 345.6 30 345.6 30.3 345.6 30.6 345.6 30.9 345.5 31.2 345.7 31.5 345.6 31.8 345.6 32.1 345.7 32.4 345.6 32.7 345.6 33 345.6 33.3 345.6 33.6 345.6 33.9 345.7 34.2 345.7 34.5 345.7 34.8 345.7 35.1 345.7 35.4 345.5 35.7 345.6 36 345.6 36.3 345.6 36.6 345.6 36.9 345.6 37.2 345.7 37.5 345.7 37.8 345.7 38.1 345.7 38.4 345.7 38.7 345.5 39 345.6 39.3 345.6 39.6 345.5 39.9 345.7 40.2 345.7 40.5 345.6 40.8 345.7 41.1 345.6 41.4 345.5 41.7 345.6 42 345.6 42.3 345.7 42.6 345.6 42.9 345.7 43.2 345.7 43.5 345.4 43.8 345.7 44.1 345.6 44.4 345.6 44.7 345.7 45 345.4 45.3 345.5 45.6 345.7 45.9 345.5 46.2 345.5 46.5 345.7 46.8 345.6 47.1 345.6 47.4 345.6 47.7 345.6 48 345.7 48.3 345.7 48.6 345.7 48.9 345.7 49.2 345.7 49.5 345.5 49.8 345.6 50.1 345.7 50.4 345.6 50.7 345.6 51 345.7 51.3 345.6 51.6 345.4 51.9 345.3 52.2 344.9 52.5 344.8 52.8 345 53.1 345.2 53.4 345.6 53.7 345.5 54 345.4 54.3 345.7 54.6 345.6 54.9 345.6 55.2 345.7 55.5 345.7 55.8 345.5 56.1 345.7 56.4 345.6 56.7 345.7 57 345.7 57.3 345.6 57.6 345.7 57.9 345.7 58.2 345.7 58.5 345.6 58.8 345.5 59.1 345.7 59.4 345.5 59.7 345.7 60 345.5 60.3 345.6 60.6 345.5 60.9 345.7 61.2 345.6 61.5 345.7 61.8 345.5 62.1 345.6 62.4 345.7 62.7 345.7 63 345.7 63.3 345.6 63.6 345.6 63.9 345.7 64.2 345.5 64.5 345.7 64.8 345.6 65.1 345.6 65.4 345.7 65.7 345.6 66 345.7 66.3 345.7 66.6 345.5 66.9 345.6 67.2 345.6 67.5 345.7 67.8 345.7 68.1 345.7 68.4 345.6 68.7 345.6 69 345.7 69.3 345.5 69.6 345.7 69.9 345.6 70.2 345.6 70.5 345.6 70.8 345.5 71.1 345.6 71.4 345.7 71.7 345.6 72 345.7 72.3 345.7 72.6 345.6 72.9 345.1 73.2 343.4 73.5 341.5 73.8 342.1 74.1 344.2 74.4 345.4 74.7 345.6 75 345.5 75.3 345.6 75.6 345.6 75.9 345.5 76.2 345.4 76.5 345.6 76.8 345.6 77.1 345.4 77.4 345.5 77.7 345.4 78 345.5 78.3 345.4 78.6 345.5 78.9 345.5 79.2 345.4 79.5 345.2 79.8 345.2 80.1 345.1 80.4 345.2 80.7 345.3 81 344.8 81.3 344.5 81.6 344.6 81.9 345.3 82.2 345.2 82.5 345.2 82.8 345.1 83.1 345.2 83.4 345.1 83.7 345.1 84 345 84.3 345 84.6 345.1 84.9 344.1 85.2 343.5 85.5 344.3 85.8 344.7 86.1 344.6 86.4 344.5 86.7 344.4 87 344.2 87.3 344.2 87.6 344.2 87.9 344 88.2 344.1 88.5 344.3 88.8 344.3 89.1 344.3 89.4 344.3 89.7 344.6 90 344.6 90.3 344.6 90.6 344.2 90.9 342.5 91.2 343.2 91.5 344.8 91.8 344.9 92.1 344.6 92.4 344.7 92.7 345.1 93 345 93.3 345.1 93.6 344.9 93.9 345.2 94.2 345.2 94.5 345.2 94.8 345.2 95.1 345.1 95.4 345.2 95.7 345.3 96 345 96.3 344.6 96.6 344.5 96.9 344.5 97.2 345.1 97.5 344.8 97.8 343.8 98.1 343.5 98.4 343.4 98.7 344.6 99 345.5 99.3 345.5 99.6 345.5 99.9 345.6 100.2 345.6 100.5 345.4 100.8 345.5 101.1 345.4 101.4 345.6 101.7 345.6 102 345.5 102.3 345.7 102.6 345.6 102.9 345.7 103.2 345.6 103.5 345.6 103.8 345.7 104.1 345.7 104.4 345.6 104.7 345.7 105 345.7 105.3 345.7 105.6 345.6 105.9 345.7 106.2 345.6 106.5 345.7 106.8 345.6 107.1 345.6 107.4 345.5 107.7 345.3 108 345.2 108.3 344.8 108.6 345.1 108.9 345.5 109.2 345.4 109.5 345.4 109.8 345.4 110.1 344.8 110.4 344.1 110.7 344.2 111 344.7 111.3 345.1 111.6 345.1 111.9 344.9 112.2 344.7 112.5 344.8 112.8 344.8 113.1 345 113.4 344 113.7 343.9 114 344.3 114.3 345.1 114.6 345.4 114.9 345.2 115.2 345.3 115.5 345.4 115.8 345.5 116.1 345 116.4 344.6 116.7 344.8 117 345.4 117.3 345.5 117.6 345.6 117.9 345.6 118.2 345.7 118.5 345.7 118.8 345.7 119.1 345.6 119.4 345.6 119.7 345.5 120 345.6 120.3 345.6 120.6 345.6 120.9 345.6 121.2 345.5 121.5 345.6 121.8 345.6 122.1 345.6 122.4 345.6 122.7 345.7 123 345.7 123.3 345.7 123.6 345.7 123.9 345.7 124.2 345.7 124.5 345.6 124.8 345.7 125.1 345.6 125.4 345.7 125.7 345.6 126 345.6 126.3 345.7 126.6 345.7 126.9 345.7 127.2 345.7 127.5 345.5 127.8 345.7 128.1 345.7 128.3 345.7Z" fill="#8c564b"/>
<line x1="10.3" y1="345.7" x2="128.8" y2="345.7" stroke="#8c564b" stroke-width=".45" stroke-opacity=".8"/>
<path d="M10.8 360.7L10.8 360.7 11.1 360.7 11.4 360.6 11.7 360.6 12 360.5 12.3 360.7 12.6 360.6 12.9 360.6 13.2 360.5 13.5 360.6 13.8 360.6 14.1 360.5 14.4 360.5 14.7 360.7 15 360.6 15.3 360.6 15.6 360.7 15.9 360.6 16.2 360.6 16.5 360.7 16.8 360.6 17.1 360.6 17.4 360.7 17.7 360.6 18 360.6 18.3 360 18.6 358.5 18.9 356.4 19.2 354.4 19.5 356.1 19.8 350.7 20.1 346.2 20.4 350.9 20.7 357.8 21 360.3 21.3 360.6 21.6 360.6 21.9 360.7 22.2 360.6 22.5 360.6 22.8 360.2 23.1 360.2 23.4 359.9 23.7 359.6 24 359.5 24.3 359.7 24.6 359.8 24.9 360.2 25.2 360.4 25.5 360.6 25.8 360.4 26.1 360.7 26.4 360.5 26.7 360.6 27 360.5 27.3 360.6 27.6 360.7 27.9 360.6 28.2 360.5 28.5 360.6 28.8 360.6 29.1 360.7 29.4 360.7 29.7 360.7 30 360.6 30.3 360.7 30.6 360.5 30.9 360.7 31.2 360.4 31.5 360.6 31.8 360.4 32.1 360.5 32.4 360.7 32.7 360.7 33 360.7 33.3 360.7 33.6 360.6 33.9 360.6 34.2 360.4 34.5 360.7 34.8 360.7 35.1 360.7 35.4 360.5 35.7 360.6 36 360.7 36.3 360.5 36.6 360.7 36.9 360.5 37.2 360.7 37.5 360.7 37.8 360.7 38.1 360.7 38.4 360.6 38.7 360.5 39 360.6 39.3 360.6 39.6 360.6 39.9 360.6 40.2 360.6 40.5 360.7 40.8 360.6 41.1 360.7 41.4 360.7 41.7 360.6 42 360.7 42.3 360.7 42.6 360.6 42.9 360.6 43.2 360.6 43.5 360.7 43.8 360.7 44.1 360.7 44.4 360.6 44.7 360.7 45 360.7 45.3 360.6 45.6 360.7 45.9 360.6 46.2 360.7 46.5 360.7 46.8 360.6 47.1 360.7 47.4 360.6 47.7 360.7 48 360.7 48.3 360.7 48.6 360.7 48.9 360.6 49.2 360.7 49.5 360.6 49.8 360.6 50.1 360.6 50.4 360.7 50.7 360.7 51 360.6 51.3 360.7 51.6 360.6 51.9 360.7 52.2 360.1 52.5 358.9 52.8 356.4 53.1 355.9 53.4 357.8 53.7 359.9 54 360.6 54.3 360.6 54.6 360.7 54.9 360.6 55.2 360.7 55.5 360.6 55.8 360.6 56.1 360.6 56.4 360.6 56.7 360.6 57 360.7 57.3 360.7 57.6 360.7 57.9 360.6 58.2 360.7 58.5 360.6 58.8 360.7 59.1 360.7 59.4 360.7 59.7 360.6 60 360.6 60.3 360.6 60.6 360.6 60.9 360.7 61.2 360.5 61.5 360.7 61.8 360.6 62.1 360.5 62.4 360.5 62.7 360.7 63 360.6 63.3 360.7 63.6 360.6 63.9 360.5 64.2 360.6 64.5 360.6 64.8 360.6 65.1 360.5 65.4 360.6 65.7 360.7 66 360.5 66.3 360.6 66.6 360.6 66.9 360.7 67.2 360.7 67.5 360.7 67.8 360.5 68.1 360.7 68.4 360.7 68.7 360.6 69 360.5 69.3 360.4 69.6 360.6 69.9 360.6 70.2 360.7 70.5 360.6 70.8 360.6 71.1 360.7 71.4 360.5 71.7 360.5 72 360.6 72.3 360.6 72.6 360.5 72.9 360.6 73.2 360.6 73.5 360.5 73.8 360.6 74.1 360.5 74.4 360.5 74.7 360.5 75 360.5 75.3 360.5 75.6 360.4 75.9 360.2 76.2 359.4 76.5 359.1 76.8 359.6 77.1 359.5 77.4 358.8 77.7 359.3 78 359.4 78.3 357.2 78.6 356.5 78.9 358.2 79.2 360.1 79.5 359.7 79.8 359.4 80.1 360 80.4 360.1 80.7 360 81 359.9 81.3 359.8 81.6 359.9 81.9 359.7 82.2 359.8 82.5 359.8 82.8 359.7 83.1 359.7 83.4 359.6 83.7 359.6 84 359.4 84.3 359.5 84.6 359.3 84.9 359.3 85.2 359 85.5 356.1 85.8 355.3 86.1 357.6 86.4 356.8 86.7 354.4 87 356.2 87.3 358.7 87.6 358.3 87.9 358.1 88.2 357.9 88.5 357.5 88.8 356.5 89.1 357.9 89.4 357.6 89.7 357.6 90 357.2 90.3 357.7 90.6 358.1 90.9 358.3 91.2 358.2 91.5 358.4 91.8 358.7 92.1 358.8 92.4 359.1 92.7 359.3 93 359.3 93.3 358.1 93.6 355 93.9 355.5 94.2 357.7 94.5 356 94.8 357.2 95.1 359.6 95.4 359.5 95.7 358.6 96 359.3 96.3 359.7 96.6 359.3 96.9 358.2 97.2 356.2 97.5 355.9 97.8 354.9 98.1 357.3 98.4 359.7 98.7 360.1 99 360.1 99.3 360.2 99.6 360.2 99.9 360.2 100.2 360.3 100.5 360.3 100.8 360.4 101.1 360.4 101.4 360.3 101.7 360.4 102 360.4 102.3 360.5 102.6 360.4 102.9 360.5 103.2 360.5 103.5 360.5 103.8 360.6 104.1 360.4 104.4 360.4 104.7 360.5 105 360.6 105.3 360.5 105.6 360.6 105.9 360.6 106.2 360.6 106.5 360.6 106.8 360.5 107.1 360.5 107.4 360.6 107.7 360.5 108 360.7 108.3 360.5 108.6 360.6 108.9 360.6 109.2 360.6 109.5 360.1 109.8 357.2 110.1 350.6 110.4 349.7 110.7 354 111 358.2 111.3 354.9 111.6 353.7 111.9 356.4 112.2 357.5 112.5 356.9 112.8 350.9 113.1 350.8 113.4 346.9 113.7 350.7 114 350.8 114.3 356.6 114.6 356.5 114.9 356.7 115.2 358.5 115.5 358.3 115.8 358.1 116.1 359.3 116.4 359.8 116.7 360.1 117 360.3 117.3 360.4 117.6 360.5 117.9 360.4 118.2 360.6 118.5 360.6 118.8 360.6 119.1 360.7 119.4 360.7 119.7 360.7 120 360.6 120.3 360.6 120.6 360.6 120.9 360.6 121.2 360.7 121.5 360.7 121.8 360.6 122.1 360.5 122.4 360.7 122.7 360.6 123 360.6 123.3 360.6 123.6 360.7 123.9 360.6 124.2 360.6 124.5 360.4 124.8 360.6 125.1 360.7 125.4 360.7 125.7 360.7 126 360.6 126.3 360.6 126.6 360.5 126.9 360.6 127.2 360.6 127.5 360.7 127.8 360.7 128.1 360.7 128.3 360.7Z" fill="#d061b8"/>
<line x1="10.3" y1="360.7" x2="128.8" y2="360.7" stroke="#d061b8" stroke-width=".45" stroke-opacity=".8"/>
<path d="M10.8 375.3L10.8 375.2 11.1 375.2 11.4 375.3 11.7 375.3 12 375.2 12.3 375.2 12.6 375.2 12.9 375.3 13.2 375.3 13.5 375.2 13.8 375.1 14.1 375.2 14.4 375.3 14.7 375.3 15 375.3 15.3 375.2 15.6 375.1 15.9 375.1 16.2 375.1 16.5 375.2 16.8 375 17.1 375.3 17.4 375.1 17.7 375.3 18 375 18.3 375.3 18.6 375.3 18.9 375.3 19.2 375.2 19.5 374.2 19.8 371.7 20.1 370 20.4 371.7 20.7 374.2 21 375.2 21.3 375.2 21.6 375.2 21.9 375.2 22.2 375.3 22.5 375.2 22.8 375.2 23.1 375.2 23.4 375.2 23.7 375.3 24 375.1 24.3 375.3 24.6 375.3 24.9 375.2 25.2 375.2 25.5 375.2 25.8 375.3 26.1 375.3 26.4 375.2 26.7 375.3 27 375.1 27.3 375.3 27.6 375.1 27.9 375.2 28.2 375.3 28.5 375.1 28.8 375.2 29.1 375.3 29.4 375.1 29.7 375.3 30 375.1 30.3 375.3 30.6 375.3 30.9 375.2 31.2 375.2 31.5 375.2 31.8 375.2 32.1 375.3 32.4 375.1 32.7 375.3 33 375.2 33.3 375.3 33.6 375.3 33.9 375.3 34.2 375.2 34.5 375.3 34.8 375.3 35.1 375.3 35.4 375.1 35.7 375.2 36 375.3 36.3 375.2 36.6 375.3 36.9 375.3 37.2 375.1 37.5 375.3 37.8 375.2 38.1 375.3 38.4 375.3 38.7 375.3 39 375.3 39.3 375.1 39.6 375.3 39.9 375.3 40.2 375.3 40.5 375.2 40.8 375.3 41.1 375.3 41.4 375.2 41.7 375.1 42 375.3 42.3 375.2 42.6 375.3 42.9 375.1 43.2 375.3 43.5 375.2 43.8 375.2 44.1 375.2 44.4 375.1 44.7 375.2 45 375.3 45.3 375.3 45.6 375.2 45.9 375.3 46.2 375.3 46.5 375.3 46.8 375.1 47.1 375.3 47.4 375.3 47.7 375.2 48 375.3 48.3 375.1 48.6 375.2 48.9 375.1 49.2 375.3 49.5 375 49.8 375.2 50.1 375.1 50.4 375.3 50.7 375.3 51 375.3 51.3 375.2 51.6 375.3 51.9 375.1 52.2 375 52.5 374.9 52.8 374.1 53.1 374.2 53.4 374.6 53.7 375.1 54 375.3 54.3 375.2 54.6 375.2 54.9 375.1 55.2 375.2 55.5 375.2 55.8 375.2 56.1 375.3 56.4 375.3 56.7 375.2 57 375.1 57.3 375.3 57.6 375.2 57.9 375.2 58.2 375.2 58.5 375.3 58.8 375.3 59.1 375.3 59.4 375.3 59.7 375.2 60 375.1 60.3 375.2 60.6 375.1 60.9 375.3 61.2 375.3 61.5 375.3 61.8 375.3 62.1 375.2 62.4 375.3 62.7 375.3 63 375.2 63.3 375.3 63.6 375.2 63.9 375.3 64.2 375.3 64.5 375.3 64.8 375.2 65.1 375.3 65.4 375.3 65.7 375.3 66 375.2 66.3 375.3 66.6 375.2 66.9 375.3 67.2 375.3 67.5 375.2 67.8 375.2 68.1 375.3 68.4 375.3 68.7 375.3 69 375.3 69.3 375.3 69.6 375.2 69.9 375.3 70.2 375.3 70.5 375.2 70.8 375.3 71.1 375.2 71.4 375.1 71.7 375.3 72 375.2 72.3 375.2 72.6 375.2 72.9 375.3 73.2 375.2 73.5 375.3 73.8 375.3 74.1 375.2 74.4 375.2 74.7 375.2 75 375.2 75.3 375.1 75.6 375.3 75.9 375.3 76.2 375.2 76.5 375.2 76.8 375.1 77.1 375.3 77.4 375.2 77.7 374.2 78 371.6 78.3 369.9 78.6 372.1 78.9 374.2 79.2 375 79.5 375.3 79.8 375.1 80.1 375.1 80.4 375.1 80.7 374.3 81 372.6 81.3 371.8 81.6 372.2 81.9 371.8 82.2 372.9 82.5 374.1 82.8 373.6 83.1 373.3 83.4 374 83.7 374.4 84 374.5 84.3 374.6 84.6 374.6 84.9 374.7 85.2 375 85.5 374.8 85.8 374.6 86.1 374.7 86.4 374.9 86.7 375.1 87 375.2 87.3 375.2 87.6 375.3 87.9 375.1 88.2 375.2 88.5 375.2 88.8 375.1 89.1 375 89.4 374.8 89.7 374.1 90 373.8 90.3 374.2 90.6 374.2 90.9 374.5 91.2 374.1 91.5 371.3 91.8 369.5 92.1 371.4 92.4 373.8 92.7 373.3 93 372.6 93.3 370.9 93.6 369.3 93.9 372.3 94.2 373.1 94.5 373.7 94.8 374 95.1 373.4 95.4 373.3 95.7 373.7 96 373.5 96.3 374 96.6 374.5 96.9 374.4 97.2 374.3 97.5 374.8 97.8 375 98.1 375.1 98.4 375.2 98.7 375 99 375.2 99.3 375.1 99.6 375 99.9 374.7 100.2 372.9 100.5 370.2 100.8 370.8 101.1 373.6 101.4 375 101.7 375.3 102 375.3 102.3 375.3 102.6 375.3 102.9 375.2 103.2 375.2 103.5 375.2 103.8 375.3 104.1 375.3 104.4 375.3 104.7 375.3 105 375.3 105.3 375.3 105.6 375.3 105.9 375.3 106.2 375.2 106.5 375.2 106.8 375.3 107.1 375.3 107.4 375.2 107.7 375.2 108 375.3 108.3 375.3 108.6 375.2 108.9 375.3 109.2 375.2 109.5 375.3 109.8 375.3 110.1 375.2 110.4 375.2 110.7 375 111 375.1 111.3 374.7 111.6 373.2 111.9 370.8 112.2 370.5 112.5 370.8 112.8 369.1 113.1 371.5 113.4 372.1 113.7 371.8 114 370.4 114.3 372 114.6 373.4 114.9 374.4 115.2 374.6 115.5 374.8 115.8 374.3 116.1 374.2 116.4 374.8 116.7 375.2 117 375.2 117.3 375.3 117.6 375.3 117.9 375.2 118.2 375.1 118.5 375.2 118.8 375.2 119.1 375.3 119.4 375.3 119.7 375.3 120 375.3 120.3 375.1 120.6 375.3 120.9 375.3 121.2 375.2 121.5 375.3 121.8 375.3 122.1 375 122.4 375.2 122.7 375.1 123 375.1 123.3 375.3 123.6 375.2 123.9 375.2 124.2 375.1 124.5 375.3 124.8 375.3 125.1 375 125.4 375.1 125.7 375.3 126 375 126.3 375.1 126.6 375.1 126.9 375.3 127.2 375.2 127.5 375.3 127.8 375.2 128.1 375.2 128.3 375.3Z" fill="#ff7f0e"/>
<line x1="10.3" y1="375.3" x2="128.8" y2="375.3" stroke="#ff7f0e" stroke-width=".45" stroke-opacity=".8"/>
<path d="M10.8 390.6L10.8 390.3 11.1 390.4 11.4 390.6 11.7 390.5 12 390.5 12.3 390.5 12.6 390.6 12.9 390.5 13.2 390.5 13.5 390.6 13.8 390.6 14.1 390.6 14.4 390.5 14.7 390.4 15 390.5 15.3 390.6 15.6 390.6 15.9 390.6 16.2 390.5 16.5 390.6 16.8 390.6 17.1 390.5 17.4 390.6 17.7 390.6 18 390.6 18.3 390.4 18.6 390.6 18.9 390.6 19.2 390.2 19.5 389.6 19.8 387 20.1 385.2 20.4 387 20.7 389.6 21 390.5 21.3 390.5 21.6 390.6 21.9 390.5 22.2 390.5 22.5 390.6 22.8 390.4 23.1 390.5 23.4 390.5 23.7 390.5 24 390.5 24.3 390.6 24.6 390.5 24.9 390.6 25.2 390.5 25.5 390.5 25.8 390.5 26.1 390.6 26.4 390.6 26.7 390.5 27 390.5 27.3 390.6 27.6 390.6 27.9 390.5 28.2 390.5 28.5 390.5 28.8 390.5 29.1 390.6 29.4 390.5 29.7 390.5 30 390.3 30.3 390.6 30.6 390.4 30.9 390.4 31.2 390.6 31.5 390.5 31.8 390.6 32.1 390.6 32.4 390.4 32.7 390.6 33 390.5 33.3 390.6 33.6 390.5 33.9 390.6 34.2 390.6 34.5 390.5 34.8 390.6 35.1 390.5 35.4 390.6 35.7 390.6 36 390.5 36.3 390.6 36.6 390.5 36.9 390.6 37.2 390.6 37.5 390.6 37.8 390.5 38.1 390.6 38.4 390.6 38.7 390.6 39 390.6 39.3 390.5 39.6 390.6 39.9 390.6 40.2 390.4 40.5 390.4 40.8 390.5 41.1 390.4 41.4 390.5 41.7 390.6 42 390.6 42.3 390.5 42.6 390.5 42.9 390.4 43.2 390.5 43.5 390.5 43.8 390.4 44.1 390.6 44.4 390.4 44.7 390.5 45 390.6 45.3 390.3 45.6 390.6 45.9 390.6 46.2 390.4 46.5 390.5 46.8 390.5 47.1 390.6 47.4 390.6 47.7 390.5 48 390.5 48.3 390.5 48.6 390.5 48.9 390.4 49.2 390.5 49.5 390.5 49.8 390.5 50.1 390.6 50.4 390.5 50.7 390.6 51 390.5 51.3 390.4 51.6 390.4 51.9 390.3 52.2 390.2 52.5 388.3 52.8 385.3 53.1 385.2 53.4 387.2 53.7 389.9 54 390.5 54.3 390.6 54.6 390.5 54.9 390.6 55.2 390.6 55.5 390.6 55.8 390.5 56.1 390.5 56.4 390.6 56.7 390.5 57 390.5 57.3 390.6 57.6 390.5 57.9 390.4 58.2 390.6 58.5 390.5 58.8 390.6 59.1 390.6 59.4 390.6 59.7 390.6 60 390.6 60.3 390.4 60.6 390.5 60.9 390.5 61.2 390.4 61.5 390.5 61.8 390.5 62.1 390.5 62.4 390.5 62.7 390.4 63 390.5 63.3 390.3 63.6 390.6 63.9 390.6 64.2 390.5 64.5 390.4 64.8 390.4 65.1 390.4 65.4 390.5 65.7 390.5 66 390.6 66.3 390.4 66.6 390.5 66.9 390.5 67.2 390.6 67.5 390.6 67.8 390.4 68.1 390.6 68.4 390.5 68.7 390.6 69 390.5 69.3 390.6 69.6 390.4 69.9 390.4 70.2 390.4 70.5 390.5 70.8 390.5 71.1 390.6 71.4 390.6 71.7 390.6 72 390.4 72.3 390.6 72.6 390.6 72.9 390.5 73.2 390.6 73.5 390.6 73.8 390.5 74.1 390.4 74.4 390.6 74.7 390.5 75 390.5 75.3 390.5 75.6 390.5 75.9 390.6 76.2 390.5 76.5 390.6 76.8 390.5 77.1 390.5 77.4 390.4 77.7 389.6 78 387.6 78.3 385.4 78.6 387 78.9 387.6 79.2 389.2 79.5 388.4 79.8 389.4 80.1 389.8 80.4 389.7 80.7 389.6 81 389.4 81.3 388.9 81.6 388.6 81.9 387.5 82.2 387 82.5 386.1 82.8 387.8 83.1 388.3 83.4 388.5 83.7 389.7 84 389.6 84.3 389.6 84.6 390 84.9 390.2 85.2 390.2 85.5 390.4 85.8 390.4 86.1 390.5 86.4 390.5 86.7 390.5 87 390.5 87.3 390.5 87.6 390.4 87.9 390.5 88.2 390.5 88.5 390.5 88.8 390 89.1 388.1 89.4 384.3 89.7 383.2 90 384.2 90.3 387.8 90.6 388.9 90.9 389.4 91.2 386.5 91.5 385.3 91.8 387.2 92.1 388.3 92.4 386.5 92.7 384.6 93 384.3 93.3 384.8 93.6 387.1 93.9 387.1 94.2 388 94.5 387.5 94.8 388.1 95.1 385.4 95.4 385.9 95.7 388.8 96 389.7 96.3 389.9 96.6 389.9 96.9 389.6 97.2 389.3 97.5 389.8 97.8 390.3 98.1 390.4 98.4 390.4 98.7 390.5 99 390.3 99.3 390.5 99.6 390.6 99.9 390 100.2 388.7 100.5 386.9 100.8 387.1 101.1 389.3 101.4 390.4 101.7 390.6 102 390.5 102.3 390.3 102.6 390.6 102.9 390.5 103.2 390.5 103.5 390.5 103.8 390.4 104.1 390.6 104.4 390.5 104.7 390.6 105 390.6 105.3 390.6 105.6 390.4 105.9 390.4 106.2 390.6 106.5 390.6 106.8 390.5 107.1 390.6 107.4 390.5 107.7 390.5 108 390.6 108.3 390.4 108.6 390.5 108.9 390.5 109.2 390.3 109.5 390.4 109.8 390.3 110.1 390.1 110.4 388.5 110.7 383.2 111 379 111.3 381.7 111.6 384.2 111.9 383 112.2 379.8 112.5 378.5 112.8 377.2 113.1 385.1 113.4 383.4 113.7 383.8 114 385.1 114.3 386.6 114.6 385.4 114.9 384.4 115.2 385.7 115.5 380 115.8 380.3 116.1 384.5 116.4 382.9 116.7 380.8 117 385 117.3 388.9 117.6 390.3 117.9 390.3 118.2 390.5 118.5 390.6 118.8 390.4 119.1 390.6 119.4 390.4 119.7 390.4 120 390.6 120.3 390.5 120.6 390.6 120.9 390.6 121.2 390.6 121.5 390.6 121.8 390.6 122.1 390.5 122.4 390.6 122.7 390.5 123 390.5 123.3 390.6 123.6 390.6 123.9 390.5 124.2 390.6 124.5 390.6 124.8 390.5 125.1 390.5 125.4 390.5 125.7 390.4 126 390.4 126.3 390.6 126.6 390.5 126.9 390.5 127.2 390.5 127.5 390.6 127.8 390.6 128.1 390.5 128.3 390.6Z" fill="#279e68"/>
<line x1="10.3" y1="390.6" x2="128.8" y2="390.6" stroke="#279e68" stroke-width=".45" stroke-opacity=".8"/>
<path d="M10.8 405.6L10.8 405.6 11.1 405.4 11.4 405.6 11.7 405.5 12 405.5 12.3 405.4 12.6 405.6 12.9 405.5 13.2 405.5 13.5 405.6 13.8 405.5 14.1 405.6 14.4 405.4 14.7 405.5 15 405.5 15.3 405.6 15.6 405.6 15.9 405.6 16.2 405.6 16.5 405.4 16.8 405.6 17.1 405.6 17.4 405.6 17.7 405.6 18 405.6 18.3 405.6 18.6 405.3 18.9 405.5 19.2 405.2 19.5 403.5 19.8 398.9 20.1 395 20.4 399 20.7 403.6 21 405.3 21.3 405.4 21.6 405.6 21.9 405.5 22.2 405.6 22.5 405.5 22.8 405.4 23.1 405.6 23.4 405.6 23.7 405.6 24 405.6 24.3 405.6 24.6 405.6 24.9 405.6 25.2 405.5 25.5 405.6 25.8 405.6 26.1 405.5 26.4 405.6 26.7 405.4 27 405.4 27.3 405.5 27.6 405.4 27.9 405.6 28.2 405.4 28.5 405.5 28.8 405.5 29.1 405.6 29.4 405.6 29.7 405.6 30 405.6 30.3 405.5 30.6 405.5 30.9 405.5 31.2 405.5 31.5 405.6 31.8 405.6 32.1 405.5 32.4 405.6 32.7 405.6 33 405.5 33.3 405.5 33.6 405.6 33.9 405.6 34.2 405.5 34.5 405.6 34.8 405.5 35.1 405.6 35.4 405.5 35.7 405.6 36 405.6 36.3 405.6 36.6 405.5 36.9 405.6 37.2 405.4 37.5 405.6 37.8 405.6 38.1 405.4 38.4 405.6 38.7 405.5 39 405.5 39.3 405.4 39.6 405.6 39.9 405.5 40.2 405.6 40.5 405.5 40.8 405.5 41.1 405.6 41.4 405.5 41.7 405.6 42 405.6 42.3 405.6 42.6 405.5 42.9 405.5 43.2 405.4 43.5 405.5 43.8 405.6 44.1 405.6 44.4 405.6 44.7 405.6 45 405.6 45.3 405.6 45.6 405.5 45.9 405.5 46.2 405.6 46.5 405.5 46.8 405.6 47.1 405.6 47.4 405.6 47.7 405.5 48 405.5 48.3 405.4 48.6 405.5 48.9 405.6 49.2 405.5 49.5 405.5 49.8 405.6 50.1 405.5 50.4 405.6 50.7 405.6 51 405.5 51.3 405.5 51.6 405.5 51.9 405.5 52.2 405.4 52.5 404.7 52.8 403.4 53.1 403.4 53.4 404.3 53.7 405.3 54 405.5 54.3 405.5 54.6 405.5 54.9 405.5 55.2 405.6 55.5 405.4 55.8 405.4 56.1 405.5 56.4 405.6 56.7 405.5 57 405.5 57.3 405.6 57.6 405.6 57.9 405.6 58.2 405.6 58.5 405.4 58.8 405.5 59.1 405.6 59.4 405.5 59.7 405.5 60 405.5 60.3 405.5 60.6 405.4 60.9 405.5 61.2 405.5 61.5 405.5 61.8 405.6 62.1 405.6 62.4 405.6 62.7 405.4 63 405.6 63.3 405.6 63.6 405.6 63.9 405.6 64.2 405.6 64.5 405.5 64.8 405.5 65.1 405.6 65.4 405.5 65.7 405.5 66 405.5 66.3 405.3 66.6 405.6 66.9 405.5 67.2 405.5 67.5 405.6 67.8 405.5 68.1 405.6 68.4 405.6 68.7 405.6 69 405.6 69.3 405.5 69.6 405.5 69.9 405.6 70.2 405.4 70.5 405.6 70.8 405.6 71.1 405.6 71.4 405.5 71.7 405.6 72 405.6 72.3 405.4 72.6 405.6 72.9 405.5 73.2 405.6 73.5 405.6 73.8 405.5 74.1 405.5 74.4 405.4 74.7 405.6 75 405.6 75.3 405.6 75.6 405.4 75.9 405.4 76.2 405.6 76.5 405.5 76.8 405.4 77.1 405.3 77.4 405.5 77.7 405.3 78 405.4 78.3 404.8 78.6 403.1 78.9 402.2 79.2 403.4 79.5 400.6 79.8 400.6 80.1 403.6 80.4 404.5 80.7 404.4 81 404.3 81.3 403.6 81.6 401.6 81.9 400.2 82.2 403.1 82.5 403.5 82.8 404.1 83.1 404.4 83.4 403.8 83.7 403.1 84 402.9 84.3 401.4 84.6 402.4 84.9 404.4 85.2 404.7 85.5 404.3 85.8 404.6 86.1 405.3 86.4 405.4 86.7 405.5 87 405.4 87.3 405.6 87.6 405.5 87.9 405.5 88.2 405.4 88.5 405.4 88.8 404.8 89.1 404.3 89.4 404.4 89.7 404.7 90 402.1 90.3 398.2 90.6 398.8 90.9 399.5 91.2 400.1 91.5 402.8 91.8 403.9 92.1 402.3 92.4 402.7 92.7 403 93 402.2 93.3 402 93.6 401.9 93.9 400.4 94.2 398.4 94.5 401 94.8 403.3 95.1 404 95.4 403.4 95.7 400.3 96 400.5 96.3 403.2 96.6 402.6 96.9 401.1 97.2 402.3 97.5 404.3 97.8 403.1 98.1 403 98.4 404.3 98.7 405.4 99 405.5 99.3 405.5 99.6 405.5 99.9 405.3 100.2 404.5 100.5 403.4 100.8 403.7 101.1 404.9 101.4 405.3 101.7 405.4 102 405.5 102.3 405.4 102.6 405.4 102.9 405.5 103.2 405.6 103.5 405.6 103.8 405.5 104.1 405.6 104.4 405.6 104.7 405.4 105 405.6 105.3 405.6 105.6 405.5 105.9 405.5 106.2 405.5 106.5 405.6 106.8 405.3 107.1 405.6 107.4 405.4 107.7 405.5 108 405.6 108.3 405.5 108.6 405.5 108.9 405.5 109.2 405.5 109.5 405.5 109.8 405.5 110.1 405.5 110.4 405.5 110.7 405.5 111 405.4 111.3 405.4 111.6 405.2 111.9 404.3 112.2 403.2 112.5 403.6 112.8 403.8 113.1 403.2 113.4 401.9 113.7 401.3 114 402.1 114.3 404.2 114.6 404.4 114.9 403 115.2 403.2 115.5 404.5 115.8 404.6 116.1 404.9 116.4 405.3 116.7 405.5 117 405.6 117.3 405.5 117.6 405.5 117.9 405.5 118.2 405.6 118.5 405.6 118.8 405.5 119.1 405.5 119.4 405.5 119.7 405.6 120 405.6 120.3 405.6 120.6 405.5 120.9 405.5 121.2 405.4 121.5 405.6 121.8 405.5 122.1 405.5 122.4 405.4 122.7 405.6 123 405.6 123.3 405.6 123.6 405.6 123.9 405.6 124.2 405.6 124.5 405.5 124.8 405.6 125.1 405.6 125.4 405.6 125.7 405.6 126 405.6 126.3 405.6 126.6 405.5 126.9 405.4 127.2 405.5 127.5 405.4 127.8 405.4 128.1 405.5 128.3 405.6Z" fill="#d62728"/>
<line x1="10.3" y1="405.6" x2="128.8" y2="405.6" stroke="#d62728" stroke-width=".45" stroke-opacity=".8"/>
<path d="M10.8 420.2L10.8 420.1 11.1 420.1 11.4 420.1 11.7 420.2 12 420.2 12.3 420.1 12.6 420 12.9 420 13.2 420.1 13.5 420.1 13.8 420.2 14.1 420.1 14.4 420.2 14.7 420.1 15 420 15.3 420.1 15.6 420.2 15.9 420.2 16.2 420.2 16.5 420.1 16.8 420 17.1 420.2 17.4 420.2 17.7 420.2 18 420.2 18.3 420.1 18.6 420.1 18.9 420.1 19.2 419.9 19.5 418.1 19.8 412.3 20.1 408.9 20.4 413 20.7 418.1 21 419.9 21.3 420.1 21.6 420.2 21.9 420.1 22.2 420.2 22.5 420.2 22.8 420.1 23.1 420.2 23.4 420.1 23.7 420.2 24 420.2 24.3 420.1 24.6 420 24.9 420.1 25.2 420.2 25.5 420.2 25.8 420.2 26.1 420 26.4 420.1 26.7 420.1 27 420.1 27.3 420.1 27.6 420.1 27.9 420 28.2 420.2 28.5 420.2 28.8 420.2 29.1 420.2 29.4 420.2 29.7 420.1 30 420.1 30.3 420.2 30.6 420.1 30.9 420 31.2 420 31.5 420.1 31.8 420.1 32.1 420.1 32.4 420.2 32.7 420.2 33 420.2 33.3 420.2 33.6 420.1 33.9 420.1 34.2 420.2 34.5 420.1 34.8 420.2 35.1 420.2 35.4 420.2 35.7 420.1 36 420 36.3 420.1 36.6 420.1 36.9 420 37.2 420.1 37.5 420.2 37.8 420 38.1 420.2 38.4 420.1 38.7 420.2 39 420.2 39.3 420.1 39.6 420.2 39.9 420.2 40.2 420.2 40.5 420.1 40.8 420.2 41.1 420.2 41.4 420.1 41.7 420.2 42 420.1 42.3 420 42.6 420.1 42.9 420.1 43.2 420 43.5 420.1 43.8 420.1 44.1 420 44.4 420.2 44.7 420.2 45 420.2 45.3 420.1 45.6 420.1 45.9 420.2 46.2 420.2 46.5 420.1 46.8 420.1 47.1 420.1 47.4 420.1 47.7 420 48 420.1 48.3 420 48.6 420 48.9 420.2 49.2 420.2 49.5 420.2 49.8 420.1 50.1 420.1 50.4 420 50.7 420.2 51 420.2 51.3 419.9 51.6 419.2 51.9 418.3 52.2 418.7 52.5 419.6 52.8 420.1 53.1 420.1 53.4 420.2 53.7 420.2 54 420.1 54.3 420.2 54.6 420.1 54.9 420.1 55.2 420.2 55.5 420.2 55.8 420.2 56.1 420.2 56.4 420.2 56.7 420.1 57 420.1 57.3 420.2 57.6 420.2 57.9 420.2 58.2 420 58.5 420.2 58.8 420.1 59.1 420 59.4 420.2 59.7 419.9 60 420 60.3 420.1 60.6 420.2 60.9 420 61.2 420.2 61.5 420.2 61.8 420.2 62.1 420.2 62.4 420.2 62.7 420 63 420.2 63.3 420.1 63.6 420 63.9 420.2 64.2 420.1 64.5 420.2 64.8 420.1 65.1 420.2 65.4 420.1 65.7 420.2 66 420.2 66.3 420 66.6 420.2 66.9 420 67.2 420.2 67.5 420.2 67.8 420 68.1 420.1 68.4 420.1 68.7 420 69 420.2 69.3 420.2 69.6 420 69.9 420.1 70.2 420.2 70.5 420.2 70.8 420.1 71.1 420.1 71.4 420.2 71.7 420.2 72 419.9 72.3 420.1 72.6 420.2 72.9 420.2 73.2 420 73.5 420.1 73.8 420.2 74.1 420.1 74.4 420.1 74.7 420.1 75 420.1 75.3 420.1 75.6 420.1 75.9 420.1 76.2 419.9 76.5 419.8 76.8 418.2 77.1 416.6 77.4 416.4 77.7 418.8 78 417 78.3 416 78.6 414.8 78.9 415.5 79.2 418.2 79.5 419.7 79.8 418.2 80.1 416.6 80.4 417.2 80.7 418.4 81 417.4 81.3 418 81.6 419.1 81.9 419.3 82.2 419.1 82.5 419.2 82.8 417.1 83.1 416.2 83.4 417.5 83.7 419 84 417.9 84.3 415.1 84.6 414.7 84.9 416.3 85.2 416.6 85.5 414.2 85.8 415.8 86.1 417.9 86.4 417.5 86.7 417.4 87 416.1 87.3 416.3 87.6 417.1 87.9 415.9 88.2 416.5 88.5 415.4 88.8 414.6 89.1 417.2 89.4 418.1 89.7 418.5 90 418.6 90.3 418.7 90.6 418.7 90.9 418.9 91.2 418.9 91.5 419 91.8 418.9 92.1 419.1 92.4 419.2 92.7 418.9 93 416.4 93.3 415.5 93.6 417.2 93.9 415.5 94.2 414.8 94.5 417.5 94.8 419.5 95.1 418.7 95.4 417 95.7 417.2 96 417.3 96.3 417.9 96.6 418.9 96.9 418.4 97.2 419 97.5 419.5 97.8 419 98.1 419.2 98.4 419.8 98.7 419.9 99 420.1 99.3 420 99.6 420 99.9 420 100.2 420.1 100.5 420 100.8 420.1 101.1 420 101.4 420.1 101.7 420.1 102 420.2 102.3 420.1 102.6 420 102.9 419.9 103.2 420.1 103.5 420.2 103.8 420.1 104.1 420 104.4 420.2 104.7 420.1 105 420 105.3 420.1 105.6 420.2 105.9 420.1 106.2 420.1 106.5 420.1 106.8 420 107.1 420 107.4 419.9 107.7 419.7 108 419.9 108.3 419.4 108.6 417.9 108.9 417.5 109.2 418.4 109.5 417.4 109.8 418.1 110.1 419.2 110.4 419.1 110.7 419 111 418.7 111.3 418.4 111.6 418.1 111.9 417.9 112.2 416.2 112.5 415.8 112.8 418.1 113.1 419 113.4 417.9 113.7 416.4 114 417 114.3 418.1 114.6 418.5 114.9 419.6 115.2 419.7 115.5 419.7 115.8 419.7 116.1 419.5 116.4 419.2 116.7 419.2 117 419.5 117.3 419.9 117.6 420.1 117.9 420.1 118.2 419.9 118.5 420 118.8 420 119.1 420.2 119.4 420.1 119.7 420.1 120 420.2 120.3 420.2 120.6 420.2 120.9 420 121.2 420.1 121.5 420.1 121.8 420 122.1 420.2 122.4 420.2 122.7 420.2 123 420.1 123.3 420.2 123.6 420 123.9 420.1 124.2 420.1 124.5 420.2 124.8 420.2 125.1 420.2 125.4 419.9 125.7 420.2 126 420.1 126.3 420.1 126.6 420 126.9 420.2 127.2 420.1 127.5 420.2 127.8 420 128.1 420.2 128.3 420.2Z" fill="#555"/>
<line x1="10.3" y1="420.2" x2="128.8" y2="420.2" stroke="#555" stroke-width=".45" stroke-opacity=".8"/>
<rect x="10.3" y="301.6" width="118.5" height="119" fill="none" stroke="#444" stroke-width=".6"/>
<text transform="translate(7,361.5) rotate(-90)" font-size="7.2" text-anchor="middle">Normalized Accessibility</text>
<rect x="133.2" y="302.3" width="5.5" height="14.84" fill="#1f77b4"/>
<line x1="138.7" y1="309.69" x2="139.8" y2="309.69" stroke="#333" stroke-width=".4"/>
<text x="140.4" y="311.59" font-size="7.2">Acinar</text>
<rect x="133.2" y="317.09" width="5.5" height="14.84" fill="#b5bd61"/>
<line x1="138.7" y1="324.48" x2="139.8" y2="324.48" stroke="#333" stroke-width=".4"/>
<text x="140.4" y="326.38" font-size="7.2">MPC</text>
<rect x="133.2" y="331.88" width="5.5" height="14.84" fill="#8c564b"/>
<line x1="138.7" y1="339.27" x2="139.8" y2="339.27" stroke="#333" stroke-width=".4"/>
<text x="140.4" y="341.17" font-size="7.2">Ductal</text>
<rect x="133.2" y="346.66" width="5.5" height="14.84" fill="#e377c2"/>
<line x1="138.7" y1="354.06" x2="139.8" y2="354.06" stroke="#333" stroke-width=".4"/>
<text x="140.4" y="355.96" font-size="7.2">EP</text>
<rect x="133.2" y="361.45" width="5.5" height="14.84" fill="#ff7f0e"/>
<line x1="138.7" y1="368.84" x2="139.8" y2="368.84" stroke="#333" stroke-width=".4"/>
<text x="140.4" y="370.74" font-size="7.2">Alpha</text>
<rect x="133.2" y="376.24" width="5.5" height="14.84" fill="#279e68"/>
<line x1="138.7" y1="383.63" x2="139.8" y2="383.63" stroke="#333" stroke-width=".4"/>
<text x="140.4" y="385.53" font-size="7.2">Beta</text>
<rect x="133.2" y="391.03" width="5.5" height="14.84" fill="#d62728"/>
<line x1="138.7" y1="398.42" x2="139.8" y2="398.42" stroke="#333" stroke-width=".4"/>
<text x="140.4" y="400.32" font-size="7.2">Delta</text>
<rect x="133.2" y="405.81" width="5.5" height="14.84" fill="#6f6f6f"/>
<line x1="138.7" y1="413.21" x2="139.8" y2="413.21" stroke="#333" stroke-width=".4"/>
<text x="140.4" y="415.11" font-size="7.2">Epsilon</text>
<rect x="133.2" y="302.3" width="5.5" height="118.3" fill="none" stroke="#444" stroke-width=".4"/>
<rect x="18.2" y="432.1" width="3.5" height="1.3" fill="#111"/>
<rect x="26.8" y="432.1" width="1" height="1.3" fill="#111"/>
<rect x="50.9" y="432.1" width="3.5" height="1.3" fill="#111"/>
<rect x="71.9" y="432.1" width="2.4" height="1.3" fill="#111"/>
<rect x="76.6" y="432.1" width="1.2" height="1.3" fill="#111"/>
<rect x="91.8" y="432.1" width="4.6" height="1.3" fill="#111"/>
<rect x="100" y="432.1" width="1.1" height="1.3" fill="#111"/>
<rect x="110.5" y="432.1" width="5.8" height="1.3" fill="#111"/>
<rect x="88.7" y="427.3" width="4.7" height="2.8" fill="#111"/>
<path d="M92.6 427.3 V425.6 H89.2 M90.4 424.7 L89.1 425.6 L90.4 426.5" fill="none" stroke="#111" stroke-width=".6"/>
<text x="96.9" y="430.4" font-size="7.6" font-style="italic">NEUROG3</text>
<path d="M20 433.6 C38.5 448 75.5 448 94 433.6" fill="none" stroke="#5577b8" stroke-width="1.1"/>
<path d="M52.6 433.6 C63 446.5 83.7 446.5 94 433.6" fill="none" stroke="#9aafd8" stroke-width="1.3"/>
<path d="M73 433.6 C78.2 442.5 88.8 442.5 94 433.6" fill="none" stroke="#a9bade" stroke-width="1.1"/>
<path d="M76.6 433.6 C80.9 442.5 89.7 442.5 94 433.6" fill="none" stroke="#b3c3e3" stroke-width="1.1"/>
<path d="M113 433.6 C108.2 448 98.8 448 94 433.6" fill="none" stroke="#3f68b0" stroke-width="1.3"/>
<text x="146.7" y="437.3" font-size="7.2" text-anchor="middle">LiftOver</text>
<text x="146.1" y="443.8" font-size="7.2" text-anchor="middle">Links</text>
<line x1="130.5" y1="439.7" x2="164.2" y2="439.7" stroke="#222" stroke-width=".5"/>
<path d="M129 439.7 L132.2 438.4 L132.2 441 Z" fill="#222"/>
<text x="224.2" y="292.6" font-size="7" font-style="italic" text-anchor="middle">Sus Scrofa</text>
<text x="223.4" y="299.6" font-size="7" text-anchor="middle"><tspan font-style="italic">NEUROG3</tspan> locus</text>
<rect x="172" y="301.8" width="4.1" height="118.6" fill="#eceeed"/>
<rect x="209" y="301.8" width="3.8" height="118.6" fill="#eceeed"/>
<rect x="236.9" y="301.8" width="3.7" height="118.6" fill="#eceeed"/>
<rect x="247.3" y="301.8" width="5.7" height="118.6" fill="#eceeed"/>
<rect x="265.3" y="301.8" width="4.7" height="118.6" fill="#eceeed"/>
<path d="M164.8 314.5L164.8 314.4 165.1 314.4 165.4 314.5 165.7 314.5 166 314.5 166.3 314.5 166.6 314.4 166.9 314.4 167.2 314.3 167.5 314.5 167.8 314.4 168.1 314.5 168.4 314.5 168.7 314.5 169 314.3 169.3 314.4 169.6 314.4 169.9 314.4 170.2 314.3 170.5 314.5 170.8 314.3 171.1 314.4 171.4 314.5 171.7 314.5 172 314.5 172.3 314.5 172.6 314.4 172.9 314.5 173.2 314.5 173.5 314.5 173.8 314.4 174.1 314.4 174.4 314.5 174.7 314.5 175 314.5 175.3 314.5 175.6 314.4 175.9 314.5 176.2 314.5 176.5 314.5 176.8 314.3 177.1 314.5 177.4 314.4 177.7 314.5 178 314.2 178.3 314.5 178.6 314.4 178.9 314.3 179.2 314.4 179.5 314.4 179.8 314.4 180.1 314.5 180.4 314.3 180.7 314.5 181 314.5 181.3 314.5 181.6 314.5 181.9 314.5 182.2 314.4 182.5 314.4 182.8 314.5 183.1 314.5 183.4 314.5 183.7 314.5 184 314.5 184.3 314.5 184.6 314.4 184.9 314.3 185.2 314.3 185.5 314.4 185.8 314.5 186.1 314.4 186.4 314.5 186.7 314.5 187 314.3 187.3 314.5 187.6 314.3 187.9 314.5 188.2 314.5 188.5 314.5 188.8 314.3 189.1 314.5 189.4 314.4 189.7 314.5 190 314.5 190.3 314.4 190.6 314.5 190.9 314.5 191.2 314.5 191.5 314.5 191.8 314.5 192.1 314.4 192.4 314.5 192.7 314.5 193 314.5 193.3 314.4 193.6 314.4 193.9 314.5 194.2 314.3 194.5 314.4 194.8 314.4 195.1 314.5 195.4 314.4 195.7 314.5 196 314.5 196.3 314.5 196.6 314.4 196.9 314.4 197.2 314.4 197.5 314.4 197.8 314.4 198.1 314.5 198.4 314.3 198.7 314.5 199 314.3 199.3 314.4 199.6 314.5 199.9 314.5 200.2 314.4 200.5 314.4 200.8 314.3 201.1 314.4 201.4 314.3 201.7 314.4 202 314.5 202.3 314.4 202.6 314.4 202.9 314.4 203.2 314.4 203.5 314.5 203.8 314.3 204.1 314.5 204.4 314.5 204.7 314.5 205 314.4 205.3 314.5 205.6 314.5 205.9 314.5 206.2 314.5 206.5 314.5 206.8 314.3 207.1 314.4 207.4 314.4 207.7 314.5 208 314.3 208.3 314.4 208.6 314.4 208.9 314.5 209.2 314.5 209.5 314.5 209.8 314.3 210.1 314.3 210.4 314.3 210.7 314.2 211 314.3 211.3 314.4 211.6 314.3 211.9 314.5 212.2 314.5 212.5 314.5 212.8 314.5 213.1 314.5 213.4 314.4 213.7 314.4 214 314.4 214.3 314.4 214.6 314.4 214.9 314.3 215.2 314.5 215.5 314.4 215.8 314.5 216.1 314.5 216.4 314.4 216.7 314.5 217 314.4 217.3 314.4 217.6 314.3 217.9 314.4 218.2 314.5 218.5 314.5 218.8 314.5 219.1 314.3 219.4 314.5 219.7 314.5 220 314.5 220.3 314.4 220.6 314.4 220.9 314.3 221.2 314.4 221.5 314.5 221.8 314.5 222.1 314.5 222.4 314.3 222.7 314.5 223 314.4 223.3 314.4 223.6 314.3 223.9 314.2 224.2 314.5 224.5 314.5 224.8 314.3 225.1 314.3 225.4 314.5 225.7 314.4 226 314.5 226.3 314.4 226.6 314.3 226.9 314.5 227.2 314.5 227.5 314.4 227.8 314.5 228.1 314.4 228.4 314.4 228.7 314.2 229 313.5 229.3 312.9 229.6 313.5 229.9 314.1 230.2 314.4 230.5 314.5 230.8 314.4 231.1 314.4 231.4 314.5 231.7 314.4 232 314.5 232.3 314.4 232.6 314.5 232.9 314.5 233.2 314.4 233.5 314.3 233.8 314.5 234.1 314.5 234.4 314.4 234.7 314.4 235 314.5 235.3 314.5 235.6 314.5 235.9 314.4 236.2 314.5 236.5 314.4 236.8 314.5 237.1 314.5 237.4 314.3 237.7 314.4 238 314.4 238.3 314.4 238.6 314.5 238.9 314.4 239.2 314.4 239.5 314.4 239.8 314.5 240.1 314.4 240.4 314.5 240.7 314.4 241 314.5 241.3 314.4 241.6 314.4 241.9 314.4 242.2 314.3 242.5 314.4 242.8 314.4 243.1 314.5 243.4 314.5 243.7 314.3 244 314.5 244.3 314.5 244.6 314.5 244.9 314.3 245.2 314.5 245.5 314.4 245.8 314.4 246.1 314.5 246.4 314.4 246.7 314.5 247 314.5 247.3 314.4 247.6 314.5 247.9 314.5 248.2 314.3 248.5 314.5 248.8 314.4 249.1 314.3 249.4 314.3 249.7 314.5 250 314.3 250.3 314.4 250.6 314.5 250.9 314.5 251.2 314.3 251.5 314.3 251.8 314.3 252.1 314.4 252.4 314.5 252.7 314.5 253 314.5 253.3 314.3 253.6 314.4 253.9 314.4 254.2 314.5 254.5 314.4 254.8 314.5 255.1 314.5 255.4 314.5 255.7 314.5 256 314.4 256.3 314.5 256.6 314.5 256.9 314.5 257.2 314.5 257.5 314.3 257.8 314.5 258.1 314.4 258.4 314.5 258.7 314.4 259 314.3 259.3 314.4 259.6 314.4 259.9 314.5 260.2 314.5 260.5 314.5 260.8 314.5 261.1 314.5 261.4 314.3 261.7 314.5 262 314.5 262.3 314.4 262.6 314.4 262.9 314.4 263.2 314.5 263.5 314.3 263.8 314.4 264.1 314.5 264.4 314.4 264.7 314.2 265 314.4 265.3 314.3 265.6 314.5 265.9 314.3 266.2 314.5 266.5 314.4 266.8 314.5 267.1 314.2 267.4 314.5 267.7 314.5 268 314.3 268.3 314.3 268.6 314.4 268.9 314.5 269.2 314.5 269.5 314.5 269.8 314.5 270.1 314.4 270.4 314.5 270.7 314.4 271 314.5 271.3 314.4 271.6 314.3 271.9 314.3 272.2 314.5 272.5 314.5 272.8 314.5 273.1 314.4 273.4 314.5 273.7 314.5 274 314.4 274.3 314.5 274.6 314.4 274.9 314.5 275.2 314.4 275.5 314.5 275.8 314.5 276.1 314.4 276.4 314.4 276.7 314.3 277 314.4 277.3 314.4 277.6 314.4 277.9 314.5 278.2 314.5 278.5 314.2 278.8 314.4 279.1 314.4 279.4 314.5 279.7 314.4 280 314.5 280.3 314.3 280.6 314.5 280.9 314.4 281.2 314.4 281.5 314.4 281.8 314.4 282 314.5Z" fill="#1f77b4"/>
<line x1="164.3" y1="314.5" x2="282.5" y2="314.5" stroke="#1f77b4" stroke-width=".45" stroke-opacity=".8"/>
<path d="M164.8 327.4L164.8 327.3 165.1 327.3 165.4 327.4 165.7 327.3 166 327.4 166.3 327.3 166.6 327.3 166.9 327.4 167.2 327.2 167.5 327.3 167.8 327.3 168.1 327.4 168.4 327.4 168.7 327.4 169 327.4 169.3 327.4 169.6 327.3 169.9 327.3 170.2 327.2 170.5 327.4 170.8 327.3 171.1 327.4 171.4 327.2 171.7 327.4 172 327.2 172.3 327.4 172.6 327.3 172.9 327.3 173.2 327.1 173.5 326.1 173.8 325.1 174.1 325 174.4 326.5 174.7 327.1 175 327.3 175.3 327.3 175.6 327.3 175.9 327.3 176.2 327.4 176.5 327.4 176.8 327.4 177.1 327.3 177.4 327.3 177.7 327.4 178 327.3 178.3 327.3 178.6 327.4 178.9 327.3 179.2 327.3 179.5 327.3 179.8 327.4 180.1 327.4 180.4 327.4 180.7 327.4 181 327.3 181.3 327.3 181.6 327.4 181.9 327.4 182.2 327.4 182.5 327.4 182.8 327.3 183.1 327.4 183.4 327.3 183.7 327.4 184 327.3 184.3 327.2 184.6 327.4 184.9 327.3 185.2 327.2 185.5 327.4 185.8 327.2 186.1 327.3 186.4 327.4 186.7 327.2 187 327.4 187.3 327.3 187.6 327.4 187.9 327.2 188.2 327.4 188.5 327.4 188.8 327.4 189.1 327.3 189.4 327.3 189.7 327.2 190 327.4 190.3 327.3 190.6 327.4 190.9 327.4 191.2 327.2 191.5 327.4 191.8 327.3 192.1 327.3 192.4 327.3 192.7 327.3 193 327.4 193.3 327.4 193.6 327.3 193.9 327.4 194.2 327.4 194.5 327.4 194.8 327.3 195.1 327.2 195.4 327.4 195.7 327.2 196 327.2 196.3 327.4 196.6 327.4 196.9 327.3 197.2 327.4 197.5 327.2 197.8 327.4 198.1 327.4 198.4 327.4 198.7 327.4 199 327.4 199.3 327.3 199.6 327.4 199.9 327.4 200.2 327.3 200.5 327.3 200.8 327.3 201.1 327.3 201.4 327.3 201.7 327.4 202 327.4 202.3 327.2 202.6 327.3 202.9 327.4 203.2 327.2 203.5 327.4 203.8 327.3 204.1 327.3 204.4 327.2 204.7 327.4 205 327.3 205.3 327.2 205.6 327.4 205.9 327.4 206.2 327.4 206.5 327.4 206.8 327.4 207.1 327.3 207.4 327.2 207.7 327.3 208 327.4 208.3 327.3 208.6 327.3 208.9 327.4 209.2 327.4 209.5 327.4 209.8 327.3 210.1 327.3 210.4 327.4 210.7 327.4 211 327.1 211.3 327.4 211.6 327.4 211.9 327.3 212.2 327.4 212.5 327.3 212.8 327.3 213.1 327.3 213.4 327.4 213.7 327.4 214 327.4 214.3 327.2 214.6 327.2 214.9 327.1 215.2 327.2 215.5 327.3 215.8 327.4 216.1 327.4 216.4 327.4 216.7 327.2 217 327.4 217.3 327.4 217.6 327.3 217.9 327.3 218.2 327.3 218.5 327.2 218.8 327.3 219.1 327.4 219.4 327.4 219.7 327.3 220 327.4 220.3 327.4 220.6 327.3 220.9 327.4 221.2 327.2 221.5 327.4 221.8 327.2 222.1 327.2 222.4 327.4 222.7 327.3 223 327.3 223.3 327.4 223.6 327.4 223.9 327.3 224.2 327.4 224.5 327.3 224.8 327.4 225.1 327.3 225.4 327.3 225.7 327.4 226 327.3 226.3 327.4 226.6 327.3 226.9 327.2 227.2 327.4 227.5 327.3 227.8 327.2 228.1 326.7 228.4 325.3 228.7 324.1 229 325.2 229.3 326.8 229.6 327.2 229.9 327.2 230.2 327.4 230.5 327.3 230.8 327.4 231.1 327.4 231.4 327.4 231.7 327.3 232 327.3 232.3 327.3 232.6 327.3 232.9 327.3 233.2 327.3 233.5 327.1 233.8 326.9 234.1 326.7 234.4 326.9 234.7 327.2 235 327.4 235.3 327.2 235.6 327.3 235.9 327.4 236.2 327.4 236.5 327.2 236.8 327.3 237.1 327.4 237.4 327.3 237.7 327.3 238 327.4 238.3 327.3 238.6 327.3 238.9 327.3 239.2 327.4 239.5 327.4 239.8 327.4 240.1 327.2 240.4 327.2 240.7 327.4 241 327.3 241.3 327.2 241.6 327.2 241.9 327.4 242.2 327.4 242.5 327.3 242.8 327.3 243.1 327.4 243.4 327.4 243.7 327.3 244 327.2 244.3 327.4 244.6 327.4 244.9 327.4 245.2 327.3 245.5 327.3 245.8 327.3 246.1 327.4 246.4 327.4 246.7 327.3 247 327.3 247.3 327.2 247.6 327.3 247.9 327.4 248.2 327.3 248.5 327.1 248.8 326.6 249.1 326.6 249.4 327 249.7 327.3 250 327.3 250.3 327.2 250.6 326.7 250.9 326.4 251.2 326.4 251.5 327 251.8 327.2 252.1 327.4 252.4 327.4 252.7 327.2 253 327.2 253.3 327.4 253.6 327.3 253.9 327.4 254.2 327.4 254.5 327.2 254.8 327.4 255.1 327.2 255.4 327.3 255.7 327.1 256 327.3 256.3 327.4 256.6 327.4 256.9 327.4 257.2 327.3 257.5 327.2 257.8 327.3 258.1 327.3 258.4 327.3 258.7 327.4 259 327.4 259.3 327.4 259.6 327.3 259.9 327.3 260.2 327.3 260.5 327.3 260.8 327.3 261.1 327.3 261.4 327.4 261.7 327.3 262 327.3 262.3 327.4 262.6 327.4 262.9 327.4 263.2 327.3 263.5 327.2 263.8 327.4 264.1 327.2 264.4 327.2 264.7 327.4 265 327.3 265.3 327.4 265.6 327.3 265.9 327.3 266.2 327.3 266.5 327.4 266.8 327.4 267.1 327.3 267.4 327.3 267.7 327.4 268 327.2 268.3 327.3 268.6 327.3 268.9 327.2 269.2 327.4 269.5 327.4 269.8 327.2 270.1 327.3 270.4 327.4 270.7 327.4 271 327.3 271.3 327.4 271.6 327.3 271.9 327.3 272.2 327.2 272.5 327.4 272.8 327.4 273.1 327.4 273.4 327.2 273.7 327.4 274 327.3 274.3 327.3 274.6 327.4 274.9 327.4 275.2 327.3 275.5 327.4 275.8 327.4 276.1 327.4 276.4 327.2 276.7 327.3 277 327.4 277.3 327.3 277.6 327.4 277.9 327.4 278.2 327.3 278.5 327.3 278.8 327.2 279.1 327.4 279.4 327.3 279.7 327.4 280 327.4 280.3 327.4 280.6 327.4 280.9 327.4 281.2 327.4 281.5 327.2 281.8 327.3 282 327.4Z" fill="#8c564b"/>
<line x1="164.3" y1="327.4" x2="282.5" y2="327.4" stroke="#8c564b" stroke-width=".45" stroke-opacity=".8"/>
<path d="M164.8 341.3L164.8 341.3 165.1 341.2 165.4 341.3 165.7 341.2 166 341.2 166.3 341.3 166.6 341.2 166.9 341.3 167.2 341.2 167.5 341.3 167.8 341.2 168.1 341.2 168.4 341.3 168.7 341.2 169 341.2 169.3 341.1 169.6 341.2 169.9 341.1 170.2 341.2 170.5 341.2 170.8 341.2 171.1 341.3 171.4 341.1 171.7 341.2 172 341.1 172.3 340.8 172.6 340 172.9 339.4 173.2 339.6 173.5 338.4 173.8 335.7 174.1 336 174.4 339.2 174.7 340.9 175 341.2 175.3 341.1 175.6 341.3 175.9 341.3 176.2 341.1 176.5 341.2 176.8 341.2 177.1 341.3 177.4 341.3 177.7 341.2 178 341.2 178.3 341.2 178.6 341.3 178.9 341.3 179.2 341.2 179.5 341.1 179.8 341.3 180.1 341.2 180.4 341.1 180.7 341.1 181 341.3 181.3 341.3 181.6 341.3 181.9 341.2 182.2 341.3 182.5 341.2 182.8 341.3 183.1 341.3 183.4 341.3 183.7 341.3 184 341.1 184.3 341.1 184.6 341.2 184.9 341.2 185.2 341.1 185.5 341.2 185.8 341.1 186.1 341.1 186.4 341.3 186.7 341.2 187 341.2 187.3 341.3 187.6 341.1 187.9 341 188.2 341.1 188.5 341.3 188.8 341.3 189.1 341.3 189.4 341.2 189.7 341.2 190 341.3 190.3 341.2 190.6 341.2 190.9 341.2 191.2 341.3 191.5 341.2 191.8 341.3 192.1 341.2 192.4 341.3 192.7 341.1 193 341.2 193.3 341.2 193.6 341.1 193.9 341.3 194.2 341.3 194.5 341.2 194.8 341.1 195.1 341.2 195.4 341.3 195.7 341.2 196 341.2 196.3 341.2 196.6 341.2 196.9 341.2 197.2 341.2 197.5 341.2 197.8 341.2 198.1 341.3 198.4 341.3 198.7 341.3 199 341.2 199.3 341.3 199.6 341 199.9 341.2 200.2 341.3 200.5 341.3 200.8 341.2 201.1 341.2 201.4 341.2 201.7 341.2 202 341.2 202.3 341.1 202.6 341.2 202.9 341.3 203.2 341.2 203.5 341.3 203.8 341 204.1 341.1 204.4 341 204.7 341.3 205 341.2 205.3 341.3 205.6 341.3 205.9 341.2 206.2 341.2 206.5 341.3 206.8 341.3 207.1 341.1 207.4 341.3 207.7 341.2 208 341.2 208.3 341.3 208.6 341.3 208.9 341.2 209.2 341.3 209.5 341.1 209.8 341.1 210.1 340.9 210.4 340 210.7 339.1 211 339.8 211.3 340.3 211.6 340.1 211.9 340.4 212.2 340.8 212.5 341 212.8 341.2 213.1 341.3 213.4 341.2 213.7 341.2 214 341.1 214.3 341.2 214.6 341.1 214.9 341.2 215.2 341.2 215.5 341.1 215.8 341.2 216.1 341.2 216.4 341.2 216.7 341.2 217 341.2 217.3 341.2 217.6 341.3 217.9 341.2 218.2 341.1 218.5 341.3 218.8 341.2 219.1 341.3 219.4 341.1 219.7 341.2 220 341.3 220.3 341.2 220.6 341.2 220.9 341.3 221.2 341.2 221.5 341.2 221.8 341.1 222.1 341.3 222.4 341.3 222.7 341.1 223 341.2 223.3 341.2 223.6 341.3 223.9 341.2 224.2 341.3 224.5 341.3 224.8 341.2 225.1 341.2 225.4 341.2 225.7 341.2 226 341.3 226.3 341.3 226.6 341.3 226.9 341.3 227.2 341.3 227.5 341.2 227.8 341.3 228.1 341.3 228.4 341.3 228.7 341.2 229 341.1 229.3 341.2 229.6 341.1 229.9 341.2 230.2 341.3 230.5 341.3 230.8 341.3 231.1 341.2 231.4 341.1 231.7 341.3 232 341.2 232.3 341.3 232.6 341.2 232.9 341.3 233.2 341.3 233.5 341.3 233.8 341.2 234.1 341.2 234.4 341 234.7 341.1 235 341.2 235.3 341.3 235.6 341.3 235.9 341.3 236.2 341.2 236.5 341.3 236.8 341.3 237.1 341.1 237.4 341.3 237.7 341.3 238 341.3 238.3 341.2 238.6 341.3 238.9 341.2 239.2 341.3 239.5 341.3 239.8 341.3 240.1 341.2 240.4 341.3 240.7 341.1 241 341.2 241.3 341.3 241.6 341.3 241.9 341.1 242.2 341.3 242.5 341.2 242.8 341.1 243.1 341.2 243.4 341.1 243.7 341.2 244 341.2 244.3 341.3 244.6 341.3 244.9 341.3 245.2 341.1 245.5 341.3 245.8 341.1 246.1 341.3 246.4 341.3 246.7 341.3 247 341.3 247.3 341.2 247.6 341.3 247.9 341.2 248.2 341.1 248.5 340.8 248.8 340.1 249.1 340.2 249.4 340.5 249.7 339.3 250 339.3 250.3 340.2 250.6 340.3 250.9 340.3 251.2 340 251.5 339.7 251.8 340.4 252.1 340.8 252.4 340.8 252.7 340.5 253 340.4 253.3 340.9 253.6 340.6 253.9 339.6 254.2 340.1 254.5 340.9 254.8 341.2 255.1 341.1 255.4 341.3 255.7 341.2 256 341.2 256.3 341.2 256.6 341.3 256.9 341.3 257.2 341.3 257.5 341.2 257.8 341.3 258.1 341.2 258.4 341.3 258.7 341.2 259 341.3 259.3 341.3 259.6 341.3 259.9 341.3 260.2 341 260.5 340.9 260.8 340.5 261.1 340.2 261.4 340.6 261.7 341.2 262 341.1 262.3 341.2 262.6 341.1 262.9 341.2 263.2 341.1 263.5 341.3 263.8 341.3 264.1 341.2 264.4 341.3 264.7 341.1 265 341.1 265.3 341.1 265.6 341.1 265.9 340.9 266.2 339.8 266.5 339.2 266.8 338.5 267.1 339.2 267.4 340.5 267.7 340.7 268 340.6 268.3 340.4 268.6 340.1 268.9 340 269.2 339.3 269.5 338.8 269.8 338.8 270.1 339.7 270.4 340.7 270.7 340.7 271 340.8 271.3 340.9 271.6 340.8 271.9 339.9 272.2 339.8 272.5 339.4 272.8 340 273.1 340.8 273.4 340.8 273.7 341.1 274 341.3 274.3 341.3 274.6 341.3 274.9 341.2 275.2 341.3 275.5 341.3 275.8 341.1 276.1 341.3 276.4 341.3 276.7 341.3 277 341.2 277.3 341.3 277.6 341 277.9 341.1 278.2 341.2 278.5 341.3 278.8 341.3 279.1 341.2 279.4 341.2 279.7 341.3 280 341.1 280.3 341.2 280.6 341.3 280.9 341.1 281.2 341.3 281.5 341.2 281.8 341.3 282 341.3Z" fill="#7d8bd0"/>
<line x1="164.3" y1="341.3" x2="282.5" y2="341.3" stroke="#7d8bd0" stroke-width=".45" stroke-opacity=".8"/>
<path d="M164.8 354.4L164.8 354.3 165.1 354.4 165.4 354.4 165.7 354.4 166 354.3 166.3 354.4 166.6 354.4 166.9 354.2 167.2 354.3 167.5 354.4 167.8 354.2 168.1 354.4 168.4 354.1 168.7 354.3 169 354.4 169.3 354.4 169.6 354.4 169.9 354.4 170.2 354.2 170.5 354.3 170.8 354.3 171.1 354.3 171.4 354.4 171.7 354.3 172 354.3 172.3 354.1 172.6 353.6 172.9 352.4 173.2 351.2 173.5 349.6 173.8 346 174.1 347.2 174.4 351.2 174.7 353.9 175 354.2 175.3 354.4 175.6 354.3 175.9 354.4 176.2 354.3 176.5 354.3 176.8 354.2 177.1 354.3 177.4 354.4 177.7 354.4 178 354.2 178.3 354.4 178.6 354.4 178.9 354.3 179.2 354.2 179.5 354.4 179.8 354.2 180.1 354.3 180.4 354.3 180.7 354.2 181 354.4 181.3 354.3 181.6 354.3 181.9 354.4 182.2 354.3 182.5 354.4 182.8 354.4 183.1 354.4 183.4 354.4 183.7 354.3 184 354.4 184.3 354.3 184.6 354.3 184.9 354.3 185.2 354.4 185.5 354.2 185.8 354.2 186.1 354.3 186.4 354.4 186.7 354.4 187 354.3 187.3 354.4 187.6 354.2 187.9 354.4 188.2 354.3 188.5 354.3 188.8 354.2 189.1 354.2 189.4 354.4 189.7 354.2 190 354.4 190.3 354.2 190.6 354.4 190.9 354.3 191.2 354.4 191.5 354.4 191.8 354.4 192.1 354.2 192.4 354.4 192.7 354.2 193 354.4 193.3 354.3 193.6 354.4 193.9 354.2 194.2 354.4 194.5 354.3 194.8 354.3 195.1 354.4 195.4 354.4 195.7 354.4 196 354.3 196.3 354.3 196.6 354.3 196.9 354.2 197.2 354.4 197.5 354.4 197.8 354.4 198.1 354.3 198.4 354.4 198.7 354.2 199 354.3 199.3 354.3 199.6 354.3 199.9 354.4 200.2 354.4 200.5 354.3 200.8 354.4 201.1 354.3 201.4 354.4 201.7 354.2 202 354.3 202.3 354.4 202.6 354.3 202.9 354.4 203.2 354.4 203.5 354.3 203.8 354.4 204.1 354.4 204.4 354.4 204.7 354.4 205 354.2 205.3 354.3 205.6 354.4 205.9 354.4 206.2 354.3 206.5 354.3 206.8 354.4 207.1 354.4 207.4 354.4 207.7 354.3 208 354.3 208.3 354.2 208.6 354.4 208.9 354.3 209.2 354.4 209.5 354.4 209.8 354.1 210.1 353.3 210.4 352.4 210.7 352.7 211 353.5 211.3 354.2 211.6 354.3 211.9 354.4 212.2 354.4 212.5 354.4 212.8 354.4 213.1 354.3 213.4 354.3 213.7 354.4 214 354.4 214.3 354.4 214.6 354.3 214.9 354.4 215.2 354.4 215.5 354.4 215.8 354.3 216.1 354.2 216.4 354.4 216.7 354.4 217 354.4 217.3 354.2 217.6 354.3 217.9 354.3 218.2 354.4 218.5 354.4 218.8 354.3 219.1 354.3 219.4 354.2 219.7 354.4 220 354.4 220.3 354.3 220.6 354.4 220.9 354.3 221.2 354.4 221.5 354.3 221.8 354.2 222.1 354.3 222.4 354.3 222.7 354.4 223 354.3 223.3 354.3 223.6 354.2 223.9 354.4 224.2 354.3 224.5 354.2 224.8 354.3 225.1 354.3 225.4 354.3 225.7 354.2 226 354.4 226.3 354.4 226.6 354.4 226.9 354.4 227.2 354.4 227.5 354.4 227.8 354.4 228.1 354.3 228.4 354.2 228.7 353.8 229 353.7 229.3 354 229.6 354.2 229.9 354.2 230.2 354.3 230.5 354.3 230.8 354.2 231.1 354.4 231.4 354.4 231.7 354.4 232 354.3 232.3 354.4 232.6 354.4 232.9 354.4 233.2 354.1 233.5 354.4 233.8 354.3 234.1 354.4 234.4 354.4 234.7 354.3 235 354.4 235.3 354.2 235.6 354.4 235.9 354.4 236.2 354.3 236.5 354.4 236.8 354.2 237.1 354.4 237.4 354.4 237.7 354.4 238 354.1 238.3 353.4 238.6 352.6 238.9 352.9 239.2 353.9 239.5 354.3 239.8 354.3 240.1 354.1 240.4 354.4 240.7 354.4 241 354.2 241.3 354.4 241.6 354.3 241.9 354.2 242.2 354.4 242.5 354.3 242.8 354.4 243.1 354.3 243.4 354.2 243.7 354.3 244 354.4 244.3 354.2 244.6 354.4 244.9 354.3 245.2 354.3 245.5 354.4 245.8 354.3 246.1 354.3 246.4 354.4 246.7 354.4 247 354.3 247.3 354.3 247.6 354.2 247.9 354.1 248.2 353.8 248.5 353.4 248.8 353.7 249.1 354.1 249.4 354 249.7 354 250 353.9 250.3 353.7 250.6 353.4 250.9 353.4 251.2 352.7 251.5 352.3 251.8 353.4 252.1 353.9 252.4 354 252.7 354.1 253 353.9 253.3 352.7 253.6 352.5 253.9 353.1 254.2 354.1 254.5 354.2 254.8 354.4 255.1 354.3 255.4 354.4 255.7 354.3 256 354.4 256.3 354.3 256.6 354.4 256.9 354.3 257.2 354.3 257.5 354.4 257.8 354.3 258.1 354.4 258.4 354.3 258.7 354.4 259 354.4 259.3 354.3 259.6 354.4 259.9 354.3 260.2 354.3 260.5 354.4 260.8 354.2 261.1 354.4 261.4 354.4 261.7 354.3 262 354.2 262.3 354.3 262.6 354.3 262.9 354.3 263.2 354.3 263.5 354.2 263.8 354 264.1 353.6 264.4 351.2 264.7 349.6 265 350.8 265.3 352.7 265.6 353.5 265.9 353.2 266.2 351.7 266.5 348 266.8 348.3 267.1 351.4 267.4 348.7 267.7 348.8 268 350.6 268.3 350.9 268.6 351.8 268.9 352.4 269.2 352.4 269.5 349.6 269.8 348.6 270.1 349.3 270.4 349.9 270.7 352.9 271 353.7 271.3 353.9 271.6 353.5 271.9 353.1 272.2 353.2 272.5 354 272.8 354.3 273.1 354.2 273.4 354.3 273.7 354.3 274 354.2 274.3 354.3 274.6 354.3 274.9 354.3 275.2 354.3 275.5 354.4 275.8 354.3 276.1 354.3 276.4 354.4 276.7 354.3 277 354.4 277.3 354.3 277.6 354.2 277.9 354.4 278.2 354.3 278.5 354.3 278.8 354.2 279.1 354.4 279.4 354.4 279.7 354.2 280 354.3 280.3 354.4 280.6 354.4 280.9 354.4 281.2 354.4 281.5 354.3 281.8 354.2 282 354.4Z" fill="#d061b8"/>
<line x1="164.3" y1="354.4" x2="282.5" y2="354.4" stroke="#d061b8" stroke-width=".45" stroke-opacity=".8"/>
<path d="M164.8 367.1L164.8 366.9 165.1 367 165.4 367.1 165.7 367.1 166 366.9 166.3 367.1 166.6 367 166.9 367.1 167.2 367.1 167.5 366.9 167.8 367 168.1 367 168.4 367.1 168.7 367 169 367 169.3 367.1 169.6 367.1 169.9 367.1 170.2 367.1 170.5 367 170.8 367 171.1 366.9 171.4 366.9 171.7 367 172 367.1 172.3 367 172.6 367 172.9 367 173.2 366.4 173.5 364.8 173.8 362.9 174.1 363.5 174.4 365.7 174.7 366.9 175 367 175.3 367.1 175.6 367 175.9 366.9 176.2 367.1 176.5 367 176.8 367.1 177.1 366.9 177.4 367.1 177.7 367.1 178 367.1 178.3 367 178.6 367.1 178.9 367.1 179.2 367 179.5 367.1 179.8 367.1 180.1 366.9 180.4 367.1 180.7 367.1 181 367 181.3 367.1 181.6 366.9 181.9 367.1 182.2 367.1 182.5 367.1 182.8 367.1 183.1 367 183.4 366.9 183.7 367.1 184 367.1 184.3 366.9 184.6 366.9 184.9 367 185.2 367 185.5 367.1 185.8 367 186.1 367.1 186.4 366.9 186.7 366.9 187 367 187.3 367.1 187.6 367 187.9 366.9 188.2 367.1 188.5 367 188.8 367.1 189.1 367.1 189.4 367 189.7 367 190 367 190.3 367.1 190.6 367 190.9 367.1 191.2 367.1 191.5 367 191.8 367.1 192.1 367.1 192.4 366.9 192.7 367.1 193 367 193.3 367.1 193.6 366.9 193.9 366.9 194.2 367 194.5 367.1 194.8 367.1 195.1 367 195.4 367 195.7 367 196 367.1 196.3 367 196.6 367.1 196.9 367 197.2 367.1 197.5 367.1 197.8 367.1 198.1 367.1 198.4 367.1 198.7 367.1 199 367.1 199.3 367.1 199.6 366.9 199.9 367.1 200.2 367.1 200.5 367 200.8 367 201.1 367.1 201.4 366.9 201.7 367 202 367 202.3 366.9 202.6 367.1 202.9 366.9 203.2 366.9 203.5 367 203.8 367 204.1 367 204.4 367.1 204.7 367.1 205 367 205.3 366.9 205.6 367 205.9 366.9 206.2 367 206.5 367.1 206.8 367.1 207.1 367.1 207.4 367 207.7 367 208 367.1 208.3 367.1 208.6 367 208.9 367.1 209.2 367 209.5 366.9 209.8 366.7 210.1 366.2 210.4 365.9 210.7 366.6 211 366.9 211.3 366.9 211.6 367 211.9 367.1 212.2 366.9 212.5 367.1 212.8 367 213.1 367 213.4 366.9 213.7 367 214 366.9 214.3 367 214.6 367.1 214.9 367.1 215.2 366.9 215.5 366.9 215.8 367 216.1 367.1 216.4 367 216.7 367.1 217 367.1 217.3 367 217.6 366.9 217.9 367.1 218.2 367 218.5 367.1 218.8 366.9 219.1 367.1 219.4 367 219.7 367.1 220 367.1 220.3 367 220.6 367.1 220.9 367 221.2 367 221.5 366.9 221.8 367.1 222.1 367.1 222.4 367.1 222.7 367 223 367 223.3 367 223.6 367.1 223.9 367 224.2 367.1 224.5 367 224.8 367.1 225.1 367.1 225.4 367 225.7 367 226 367.1 226.3 367.1 226.6 366.9 226.9 367 227.2 367.1 227.5 367 227.8 366.9 228.1 366.9 228.4 367.1 228.7 367.1 229 367.1 229.3 367.1 229.6 367 229.9 366.8 230.2 366.8 230.5 367 230.8 367.1 231.1 367 231.4 367 231.7 366.9 232 367.1 232.3 366.9 232.6 367 232.9 367 233.2 367.1 233.5 367.1 233.8 367 234.1 367.1 234.4 367 234.7 366.9 235 367.1 235.3 367 235.6 367.1 235.9 367 236.2 366.8 236.5 366.9 236.8 367.1 237.1 367.1 237.4 367.1 237.7 367 238 367.1 238.3 367.1 238.6 367 238.9 367.1 239.2 367 239.5 367 239.8 367.1 240.1 367.1 240.4 367.1 240.7 366.9 241 367.1 241.3 367.1 241.6 367.1 241.9 367 242.2 367 242.5 367.1 242.8 367 243.1 367.1 243.4 367.1 243.7 366.9 244 367.1 244.3 367 244.6 367 244.9 367.1 245.2 367.1 245.5 367 245.8 367 246.1 367 246.4 367.1 246.7 366.9 247 366.9 247.3 367.1 247.6 366.7 247.9 366 248.2 365.1 248.5 365.3 248.8 365.9 249.1 365.3 249.4 365.5 249.7 365.9 250 365 250.3 365.1 250.6 365.8 250.9 365.6 251.2 365.7 251.5 366.3 251.8 366.5 252.1 366.7 252.4 366.6 252.7 366.7 253 366.7 253.3 366.8 253.6 367 253.9 367 254.2 367 254.5 366.9 254.8 367.1 255.1 367 255.4 367 255.7 366.9 256 367.1 256.3 367.1 256.6 367 256.9 366.9 257.2 367.1 257.5 367 257.8 367.1 258.1 366.9 258.4 367.1 258.7 367 259 367 259.3 367.1 259.6 367.1 259.9 366.9 260.2 366.9 260.5 367 260.8 367.1 261.1 366.9 261.4 367 261.7 366.9 262 367 262.3 367 262.6 367.1 262.9 367.1 263.2 367.1 263.5 367.1 263.8 367.1 264.1 367 264.4 367 264.7 367.1 265 366.8 265.3 367 265.6 367 265.9 366.9 266.2 366.9 266.5 366.8 266.8 366.7 267.1 366.7 267.4 366.5 267.7 366.5 268 366.6 268.3 366.3 268.6 366.1 268.9 366 269.2 366 269.5 365.4 269.8 365.6 270.1 365 270.4 365.9 270.7 366.6 271 365.7 271.3 364.7 271.6 365.5 271.9 366.7 272.2 366.6 272.5 366.6 272.8 366.3 273.1 366.5 273.4 366.8 273.7 367.1 274 367 274.3 367 274.6 367 274.9 367.1 275.2 366.8 275.5 367 275.8 367.1 276.1 367.1 276.4 367 276.7 367 277 367 277.3 367 277.6 367 277.9 367 278.2 367.1 278.5 367 278.8 367 279.1 367 279.4 367.1 279.7 367 280 367 280.3 367 280.6 367.1 280.9 367 281.2 367 281.5 367 281.8 367.1 282 367.1Z" fill="#7ccd7c"/>
<line x1="164.3" y1="367.1" x2="282.5" y2="367.1" stroke="#7ccd7c" stroke-width=".45" stroke-opacity=".8"/>
<path d="M164.8 380.8L164.8 380.7 165.1 380.7 165.4 380.8 165.7 380.8 166 380.8 166.3 380.7 166.6 380.7 166.9 380.6 167.2 380.7 167.5 380.8 167.8 380.6 168.1 380.6 168.4 380.7 168.7 380.6 169 380.6 169.3 380.6 169.6 380.8 169.9 380.8 170.2 380.6 170.5 380.8 170.8 380.8 171.1 380.7 171.4 380.6 171.7 380.7 172 380.8 172.3 380.8 172.6 380.7 172.9 380.7 173.2 380.5 173.5 379.6 173.8 378.2 174.1 378.6 174.4 379.8 174.7 380.7 175 380.6 175.3 380.8 175.6 380.6 175.9 380.8 176.2 380.7 176.5 380.8 176.8 380.7 177.1 380.8 177.4 380.7 177.7 380.7 178 380.7 178.3 380.8 178.6 380.8 178.9 380.8 179.2 380.7 179.5 380.8 179.8 380.6 180.1 380.8 180.4 380.6 180.7 380.7 181 380.7 181.3 380.6 181.6 380.6 181.9 380.7 182.2 380.7 182.5 380.8 182.8 380.6 183.1 380.8 183.4 380.7 183.7 380.7 184 380.8 184.3 380.8 184.6 380.6 184.9 380.7 185.2 380.8 185.5 380.7 185.8 380.8 186.1 380.8 186.4 380.8 186.7 380.8 187 380.7 187.3 380.7 187.6 380.8 187.9 380.8 188.2 380.8 188.5 380.8 188.8 380.7 189.1 380.7 189.4 380.7 189.7 380.7 190 380.6 190.3 380.7 190.6 380.8 190.9 380.8 191.2 380.8 191.5 380.6 191.8 380.8 192.1 380.6 192.4 380.7 192.7 380.8 193 380.8 193.3 380.8 193.6 380.6 193.9 380.8 194.2 380.7 194.5 380.6 194.8 380.8 195.1 380.7 195.4 380.8 195.7 380.8 196 380.7 196.3 380.7 196.6 380.7 196.9 380.7 197.2 380.6 197.5 380.8 197.8 380.8 198.1 380.6 198.4 380.7 198.7 380.7 199 380.8 199.3 380.8 199.6 380.8 199.9 380.7 200.2 380.6 200.5 380.7 200.8 380.8 201.1 380.7 201.4 380.8 201.7 380.8 202 380.6 202.3 380.7 202.6 380.7 202.9 380.8 203.2 380.7 203.5 380.7 203.8 380.6 204.1 380.7 204.4 380.8 204.7 380.8 205 380.8 205.3 380.7 205.6 380.7 205.9 380.8 206.2 380.8 206.5 380.8 206.8 380.6 207.1 380.8 207.4 380.8 207.7 380.7 208 380.5 208.3 380.8 208.6 380.7 208.9 380.7 209.2 380.7 209.5 380.8 209.8 380.7 210.1 380.8 210.4 380.7 210.7 380.7 211 380.7 211.3 380.8 211.6 380.7 211.9 380.7 212.2 380.8 212.5 380.7 212.8 380.8 213.1 380.8 213.4 380.8 213.7 380.8 214 380.8 214.3 380.7 214.6 380.8 214.9 380.5 215.2 380.7 215.5 380.7 215.8 380.7 216.1 380.8 216.4 380.6 216.7 380.7 217 380.8 217.3 380.8 217.6 380.6 217.9 380.8 218.2 380.8 218.5 380.5 218.8 380.7 219.1 380.7 219.4 380.8 219.7 380.7 220 380.7 220.3 380.8 220.6 380.7 220.9 380.8 221.2 380.8 221.5 380.8 221.8 380.7 222.1 380.8 222.4 380.8 222.7 380.7 223 380.7 223.3 380.8 223.6 380.6 223.9 380.7 224.2 380.7 224.5 380.8 224.8 380.7 225.1 380.8 225.4 380.7 225.7 380.8 226 380.7 226.3 380.8 226.6 380.8 226.9 380.8 227.2 380.7 227.5 380.7 227.8 380.7 228.1 380.8 228.4 380.8 228.7 380.7 229 380.8 229.3 380.8 229.6 380.7 229.9 380.8 230.2 380.8 230.5 380.8 230.8 380.8 231.1 380.8 231.4 380.7 231.7 380.6 232 380.6 232.3 380.8 232.6 380.8 232.9 380.7 233.2 380.8 233.5 380.8 233.8 380.7 234.1 380.8 234.4 380.8 234.7 380.8 235 380.7 235.3 380.7 235.6 380.6 235.9 380.8 236.2 380.7 236.5 380.6 236.8 380.8 237.1 380.7 237.4 380.7 237.7 380.7 238 380.8 238.3 380.8 238.6 380.7 238.9 380.7 239.2 380.8 239.5 380.8 239.8 380.6 240.1 380.7 240.4 380.8 240.7 380.5 241 380.8 241.3 380.6 241.6 380.8 241.9 380.7 242.2 380.8 242.5 380.8 242.8 380.8 243.1 380.7 243.4 380.8 243.7 380.8 244 380.8 244.3 380.8 244.6 380.8 244.9 380.8 245.2 380.8 245.5 380.7 245.8 380.8 246.1 380.7 246.4 380.6 246.7 380.7 247 380.8 247.3 380.6 247.6 380.7 247.9 380.3 248.2 379.7 248.5 379.4 248.8 379.8 249.1 379.2 249.4 379.7 249.7 380.4 250 380.3 250.3 380.4 250.6 380.1 250.9 380 251.2 379.5 251.5 379.3 251.8 379.6 252.1 379.9 252.4 380.4 252.7 380.6 253 380.6 253.3 380.6 253.6 380.6 253.9 380.7 254.2 380.7 254.5 380.6 254.8 380.7 255.1 380.6 255.4 380.8 255.7 380.7 256 380.7 256.3 380.6 256.6 380.8 256.9 380.8 257.2 380.8 257.5 380.6 257.8 380.8 258.1 380.8 258.4 380.7 258.7 380.8 259 380.7 259.3 380.5 259.6 380.8 259.9 380.8 260.2 380.8 260.5 380.7 260.8 380.6 261.1 380.8 261.4 380.8 261.7 380.8 262 380.8 262.3 380.7 262.6 380.8 262.9 380.8 263.2 380.7 263.5 380.8 263.8 380.8 264.1 380.7 264.4 380.8 264.7 380.7 265 380.7 265.3 380.8 265.6 380.5 265.9 380.5 266.2 380.3 266.5 380.5 266.8 380.5 267.1 380.5 267.4 380.5 267.7 380.1 268 379.1 268.3 379.6 268.6 380 268.9 380.2 269.2 380.3 269.5 380.3 269.8 379.7 270.1 379.8 270.4 380.4 270.7 380.7 271 380.7 271.3 380.7 271.6 380.7 271.9 380.8 272.2 380.7 272.5 380.6 272.8 380.8 273.1 380.7 273.4 380.8 273.7 380.7 274 380.8 274.3 380.8 274.6 380.7 274.9 380.8 275.2 380.8 275.5 380.8 275.8 380.6 276.1 380.8 276.4 380.7 276.7 380.8 277 380.8 277.3 380.7 277.6 380.7 277.9 380.8 278.2 380.8 278.5 380.8 278.8 380.7 279.1 380.8 279.4 380.8 279.7 380.7 280 380.7 280.3 380.7 280.6 380.7 280.9 380.6 281.2 380.8 281.5 380.8 281.8 380.7 282 380.8Z" fill="#ff7f0e"/>
<line x1="164.3" y1="380.8" x2="282.5" y2="380.8" stroke="#ff7f0e" stroke-width=".45" stroke-opacity=".8"/>
<path d="M164.8 394L164.8 394 165.1 394 165.4 394 165.7 394 166 393.8 166.3 394 166.6 394 166.9 394 167.2 394 167.5 394 167.8 393.9 168.1 394 168.4 394 168.7 393.9 169 394 169.3 393.8 169.6 393.9 169.9 394 170.2 393.9 170.5 394 170.8 393.9 171.1 394 171.4 393.9 171.7 393.9 172 394 172.3 393.9 172.6 394 172.9 393.9 173.2 393.6 173.5 392.3 173.8 390.7 174.1 391 174.4 392.9 174.7 393.7 175 393.9 175.3 393.9 175.6 394 175.9 393.9 176.2 394 176.5 394 176.8 393.9 177.1 393.9 177.4 393.9 177.7 393.9 178 394 178.3 393.8 178.6 393.9 178.9 394 179.2 393.9 179.5 393.9 179.8 394 180.1 393.9 180.4 394 180.7 394 181 393.7 181.3 394 181.6 393.8 181.9 393.7 182.2 393.9 182.5 394 182.8 393.9 183.1 393.9 183.4 394 183.7 393.9 184 394 184.3 393.9 184.6 394 184.9 394 185.2 394 185.5 393.8 185.8 393.9 186.1 394 186.4 393.9 186.7 394 187 393.8 187.3 393.9 187.6 394 187.9 394 188.2 393.9 188.5 394 188.8 394 189.1 394 189.4 393.8 189.7 393.9 190 394 190.3 394 190.6 393.9 190.9 394 191.2 393.9 191.5 394 191.8 393.9 192.1 393.9 192.4 393.9 192.7 393.9 193 394 193.3 393.8 193.6 394 193.9 393.9 194.2 393.9 194.5 393.9 194.8 393.8 195.1 393.9 195.4 393.9 195.7 394 196 393.9 196.3 394 196.6 393.9 196.9 394 197.2 393.8 197.5 393.8 197.8 394 198.1 393.8 198.4 393.9 198.7 393.9 199 393.8 199.3 393.9 199.6 394 199.9 394 200.2 393.9 200.5 393.8 200.8 394 201.1 394 201.4 394 201.7 394 202 393.9 202.3 393.9 202.6 394 202.9 393.9 203.2 394 203.5 393.9 203.8 393.9 204.1 393.9 204.4 393.9 204.7 394 205 394 205.3 394 205.6 394 205.9 393.9 206.2 393.9 206.5 394 206.8 393.8 207.1 393.8 207.4 394 207.7 394 208 393.9 208.3 394 208.6 394 208.9 394 209.2 393.8 209.5 393.8 209.8 393.2 210.1 392.2 210.4 392.1 210.7 392.9 211 393.6 211.3 393.9 211.6 393.8 211.9 393.9 212.2 393.9 212.5 393.8 212.8 393.9 213.1 394 213.4 394 213.7 393.9 214 394 214.3 393.8 214.6 393.9 214.9 394 215.2 393.8 215.5 393.8 215.8 393.9 216.1 393.9 216.4 394 216.7 393.9 217 394 217.3 393.9 217.6 393.9 217.9 393.9 218.2 393.8 218.5 393.8 218.8 394 219.1 393.8 219.4 393.9 219.7 393.9 220 394 220.3 393.9 220.6 394 220.9 393.8 221.2 394 221.5 393.9 221.8 394 222.1 394 222.4 393.9 222.7 393.9 223 394 223.3 394 223.6 393.9 223.9 393.9 224.2 394 224.5 394 224.8 393.9 225.1 394 225.4 393.8 225.7 394 226 393.8 226.3 394 226.6 393.9 226.9 393.9 227.2 394 227.5 394 227.8 393.9 228.1 393.7 228.4 394 228.7 393.9 229 393.8 229.3 394 229.6 394 229.9 394 230.2 393.9 230.5 393.9 230.8 393.8 231.1 394 231.4 394 231.7 394 232 393.9 232.3 393.9 232.6 394 232.9 393.9 233.2 394 233.5 394 233.8 394 234.1 393.8 234.4 394 234.7 394 235 394 235.3 393.9 235.6 393.9 235.9 394 236.2 393.8 236.5 393.9 236.8 393.9 237.1 394 237.4 393.9 237.7 394 238 393.8 238.3 393.9 238.6 394 238.9 394 239.2 393.9 239.5 393.9 239.8 393.9 240.1 394 240.4 394 240.7 394 241 394 241.3 393.9 241.6 394 241.9 393.9 242.2 393.9 242.5 394 242.8 393.9 243.1 393.9 243.4 393.9 243.7 393.8 244 393.9 244.3 393.9 244.6 394 244.9 393.9 245.2 394 245.5 394 245.8 393.9 246.1 394 246.4 393.9 246.7 394 247 394 247.3 393.9 247.6 394 247.9 394 248.2 393.9 248.5 393.9 248.8 393.7 249.1 393.9 249.4 393.7 249.7 393.5 250 393.5 250.3 393.1 250.6 393 250.9 393.3 251.2 393.3 251.5 392.8 251.8 393.2 252.1 393.5 252.4 393.7 252.7 393.8 253 393.8 253.3 393.9 253.6 393.7 253.9 393.6 254.2 393.6 254.5 393.7 254.8 393.8 255.1 394 255.4 394 255.7 394 256 393.8 256.3 393.9 256.6 393.9 256.9 393.9 257.2 394 257.5 393.9 257.8 393.9 258.1 394 258.4 394 258.7 393.8 259 394 259.3 394 259.6 394 259.9 393.8 260.2 393.8 260.5 394 260.8 393.9 261.1 393.9 261.4 394 261.7 393.9 262 394 262.3 393.8 262.6 393.9 262.9 394 263.2 393.9 263.5 394 263.8 394 264.1 393.7 264.4 394 264.7 393.9 265 393.8 265.3 393.9 265.6 393.8 265.9 393.7 266.2 393.9 266.5 393.8 266.8 393.8 267.1 393.7 267.4 393.7 267.7 393.3 268 392.8 268.3 392.3 268.6 392.6 268.9 392.6 269.2 393.3 269.5 392.8 269.8 393.2 270.1 393.6 270.4 393.7 270.7 393.8 271 393.9 271.3 393.8 271.6 394 271.9 393.9 272.2 394 272.5 394 272.8 393.9 273.1 394 273.4 393.9 273.7 394 274 394 274.3 393.8 274.6 393.8 274.9 393.9 275.2 393.9 275.5 394 275.8 394 276.1 393.9 276.4 394 276.7 394 277 393.9 277.3 394 277.6 393.9 277.9 393.7 278.2 394 278.5 394 278.8 393.9 279.1 394 279.4 394 279.7 393.9 280 394 280.3 394 280.6 393.9 280.9 394 281.2 393.7 281.5 394 281.8 393.9 282 394Z" fill="#279e68"/>
<line x1="164.3" y1="394" x2="282.5" y2="394" stroke="#279e68" stroke-width=".45" stroke-opacity=".8"/>
<path d="M164.8 407.3L164.8 407.1 165.1 407.3 165.4 407.1 165.7 407.2 166 407.3 166.3 407.1 166.6 407.3 166.9 407.3 167.2 407.3 167.5 407.2 167.8 407.3 168.1 407.1 168.4 407.1 168.7 407.3 169 407.1 169.3 407.1 169.6 407.2 169.9 407.2 170.2 407.2 170.5 407.2 170.8 407.1 171.1 407.3 171.4 407.2 171.7 407.2 172 406.9 172.3 406.5 172.6 405.6 172.9 404.3 173.2 402.9 173.5 402.3 173.8 397.2 174.1 398.2 174.4 403.7 174.7 406.7 175 407.2 175.3 407.1 175.6 407.3 175.9 407.3 176.2 407 176.5 407.1 176.8 407.1 177.1 407.2 177.4 407.3 177.7 407.2 178 407.3 178.3 407.1 178.6 407.2 178.9 407.2 179.2 407.3 179.5 407.2 179.8 407.3 180.1 407.1 180.4 407.1 180.7 407.2 181 407.3 181.3 407.3 181.6 407.3 181.9 407.3 182.2 407.2 182.5 407.2 182.8 407.2 183.1 407.3 183.4 407.3 183.7 407.3 184 407.3 184.3 407.3 184.6 407.3 184.9 407.3 185.2 407.2 185.5 407.3 185.8 407.1 186.1 407.2 186.4 407.3 186.7 407.2 187 407.2 187.3 407.2 187.6 407.3 187.9 407.2 188.2 407.3 188.5 407.3 188.8 407.2 189.1 407.3 189.4 407.3 189.7 407.3 190 407.2 190.3 407.3 190.6 407.3 190.9 407.3 191.2 407.2 191.5 407.3 191.8 407.3 192.1 407.2 192.4 407.2 192.7 407.1 193 407.2 193.3 407.1 193.6 407.3 193.9 407.3 194.2 407.3 194.5 407.2 194.8 407.3 195.1 407.2 195.4 407.2 195.7 407.2 196 407.2 196.3 407.2 196.6 407.2 196.9 407.2 197.2 407.3 197.5 407.3 197.8 407.3 198.1 407.3 198.4 407.1 198.7 407.2 199 407.2 199.3 407.1 199.6 407.2 199.9 407.3 200.2 407.3 200.5 407.1 200.8 407.2 201.1 407.3 201.4 407.3 201.7 407.2 202 407.3 202.3 407.3 202.6 407.2 202.9 407.3 203.2 407.2 203.5 407.2 203.8 407.3 204.1 407.3 204.4 407.3 204.7 407.3 205 407.3 205.3 407.3 205.6 407.3 205.9 407.2 206.2 407.2 206.5 407.3 206.8 407.2 207.1 407.3 207.4 407.2 207.7 407.2 208 407.2 208.3 407.3 208.6 407.2 208.9 407.2 209.2 407.2 209.5 407 209.8 406.2 210.1 404.7 210.4 404.1 210.7 405.6 211 405.8 211.3 406.2 211.6 406.6 211.9 407.1 212.2 407.2 212.5 407.1 212.8 407.3 213.1 407.3 213.4 407.1 213.7 407.2 214 407.2 214.3 407.3 214.6 407.2 214.9 407.2 215.2 407.3 215.5 407.2 215.8 407.3 216.1 407.3 216.4 407.3 216.7 407.2 217 407.2 217.3 407.3 217.6 407.2 217.9 407.2 218.2 407.3 218.5 407.3 218.8 407.2 219.1 407.3 219.4 407.2 219.7 407.2 220 407.2 220.3 407.2 220.6 407.2 220.9 407.3 221.2 407.2 221.5 407.2 221.8 407.1 222.1 407.2 222.4 407.1 222.7 407.1 223 407.2 223.3 407.2 223.6 407.2 223.9 407.2 224.2 407.3 224.5 407.3 224.8 407.3 225.1 407.2 225.4 407.2 225.7 407.1 226 407.3 226.3 407.2 226.6 407.3 226.9 407.3 227.2 407.3 227.5 407.3 227.8 407.3 228.1 407.2 228.4 407.3 228.7 407.3 229 407.2 229.3 407.2 229.6 407.2 229.9 407.3 230.2 407.2 230.5 407.1 230.8 407.2 231.1 407.3 231.4 407.2 231.7 407.2 232 407.2 232.3 407.3 232.6 407.3 232.9 407.3 233.2 407.2 233.5 407.3 233.8 407.2 234.1 407.2 234.4 407.2 234.7 407.1 235 407.2 235.3 407.3 235.6 407.1 235.9 407.2 236.2 407.1 236.5 407.2 236.8 407.3 237.1 407.3 237.4 407.3 237.7 407.2 238 407.2 238.3 407.2 238.6 407.2 238.9 407.2 239.2 407.2 239.5 407.2 239.8 407.3 240.1 407.3 240.4 407.3 240.7 407.3 241 407.3 241.3 407.3 241.6 407.2 241.9 407.2 242.2 407.2 242.5 407.3 242.8 407.3 243.1 407.2 243.4 407.1 243.7 407.3 244 407.2 244.3 407.2 244.6 407 244.9 407.3 245.2 407.2 245.5 407.3 245.8 407.3 246.1 407.2 246.4 407.3 246.7 407.2 247 407.1 247.3 407.3 247.6 407 247.9 406.9 248.2 406.9 248.5 407.1 248.8 406.9 249.1 406.3 249.4 405.8 249.7 406.3 250 406.5 250.3 405.7 250.6 405.4 250.9 405.6 251.2 406.1 251.5 406.5 251.8 406.8 252.1 406.4 252.4 406 252.7 406.2 253 407 253.3 406.9 253.6 406.6 253.9 406.7 254.2 406.9 254.5 407.1 254.8 407.2 255.1 407.2 255.4 407.1 255.7 407.3 256 407.2 256.3 407.2 256.6 407.2 256.9 407.2 257.2 407.1 257.5 407.1 257.8 407.3 258.1 407.2 258.4 407.1 258.7 407.3 259 407.3 259.3 407.3 259.6 407.2 259.9 407.3 260.2 407.3 260.5 407.2 260.8 407.1 261.1 407.2 261.4 407.3 261.7 407.3 262 407.3 262.3 407.3 262.6 407.3 262.9 407.1 263.2 407.3 263.5 407.2 263.8 407.3 264.1 407.3 264.4 407.2 264.7 407.2 265 407.2 265.3 406.8 265.6 406.1 265.9 406.1 266.2 406.6 266.5 407 266.8 406.9 267.1 406.4 267.4 404.9 267.7 404.4 268 405.6 268.3 406.2 268.6 405.8 268.9 405.2 269.2 404 269.5 405.4 269.8 406.3 270.1 406.5 270.4 406.7 270.7 406.7 271 406.8 271.3 406.2 271.6 405.1 271.9 405 272.2 406.1 272.5 406.5 272.8 406.9 273.1 407.2 273.4 407.1 273.7 407.2 274 407.3 274.3 407.2 274.6 407.1 274.9 407.3 275.2 407.1 275.5 407.3 275.8 407.2 276.1 407.3 276.4 407 276.7 407.3 277 407.1 277.3 407.3 277.6 407.3 277.9 407.1 278.2 407.3 278.5 407.3 278.8 407.2 279.1 407.3 279.4 407.2 279.7 407.2 280 407.3 280.3 407.3 280.6 407.1 280.9 407.3 281.2 407.1 281.5 407.3 281.8 407.3 282 407.3Z" fill="#d62728"/>
<line x1="164.3" y1="407.3" x2="282.5" y2="407.3" stroke="#d62728" stroke-width=".45" stroke-opacity=".8"/>
<path d="M164.8 420.2L164.8 420 165.1 420.2 165.4 420.2 165.7 420.2 166 420.2 166.3 420.1 166.6 420.1 166.9 420 167.2 420.1 167.5 420.1 167.8 420.1 168.1 420.1 168.4 420.2 168.7 420.2 169 420.1 169.3 420.1 169.6 420 169.9 420.2 170.2 420.1 170.5 420.2 170.8 420 171.1 420.1 171.4 420 171.7 420.2 172 420.2 172.3 420 172.6 420.2 172.9 420.1 173.2 420 173.5 419.1 173.8 418.3 174.1 418.6 174.4 419.4 174.7 420.1 175 420.1 175.3 420.2 175.6 420.1 175.9 420.1 176.2 420 176.5 420.2 176.8 420.2 177.1 420.2 177.4 420.1 177.7 420.2 178 420.1 178.3 420.2 178.6 420 178.9 420.1 179.2 420.2 179.5 420 179.8 420.2 180.1 420.1 180.4 420 180.7 420.2 181 420.2 181.3 419.9 181.6 420.2 181.9 420.1 182.2 420.1 182.5 420.2 182.8 420.2 183.1 420.2 183.4 420 183.7 420.1 184 420.1 184.3 420.1 184.6 420.2 184.9 420.1 185.2 420.2 185.5 420.2 185.8 420.1 186.1 420 186.4 420.1 186.7 420.2 187 420.2 187.3 420.2 187.6 420.2 187.9 420.1 188.2 420.2 188.5 420.2 188.8 420.1 189.1 420.1 189.4 420.1 189.7 420.1 190 420.2 190.3 420.2 190.6 420.1 190.9 420.2 191.2 420.1 191.5 420.2 191.8 420.2 192.1 420.1 192.4 420 192.7 420.2 193 420.2 193.3 420.2 193.6 420.2 193.9 420.2 194.2 420 194.5 420 194.8 420.1 195.1 420.2 195.4 420.1 195.7 420.1 196 420.1 196.3 420.2 196.6 420.2 196.9 420 197.2 420.2 197.5 420.2 197.8 420.2 198.1 420.2 198.4 420 198.7 420.1 199 420 199.3 420.1 199.6 420.2 199.9 420.2 200.2 420.2 200.5 420.2 200.8 420.2 201.1 420.1 201.4 420.1 201.7 420.2 202 420.2 202.3 420 202.6 420.2 202.9 420.1 203.2 420.1 203.5 420.2 203.8 420 204.1 420.2 204.4 420.2 204.7 420.1 205 420.2 205.3 420 205.6 420.1 205.9 420.2 206.2 420 206.5 420.2 206.8 420.1 207.1 420.2 207.4 420.1 207.7 420.1 208 420.1 208.3 420.1 208.6 420.1 208.9 420.2 209.2 420.2 209.5 420 209.8 420.2 210.1 419.9 210.4 420 210.7 420 211 420.2 211.3 420.2 211.6 420 211.9 420 212.2 420.2 212.5 420.2 212.8 420 213.1 420 213.4 420.2 213.7 420 214 420.2 214.3 420.2 214.6 420.2 214.9 420.1 215.2 420 215.5 420 215.8 420 216.1 420 216.4 420.1 216.7 420.1 217 420.2 217.3 420.1 217.6 420.2 217.9 420.2 218.2 420 218.5 420.1 218.8 420.1 219.1 420.1 219.4 420 219.7 420.2 220 420.1 220.3 420.2 220.6 420 220.9 420.1 221.2 420.1 221.5 420.2 221.8 420.1 222.1 420 222.4 420 222.7 420.1 223 420.2 223.3 420.2 223.6 420.1 223.9 420.2 224.2 420.1 224.5 420.1 224.8 420.2 225.1 420.2 225.4 420 225.7 420.2 226 420.1 226.3 420.1 226.6 420.2 226.9 420.2 227.2 420.2 227.5 420.2 227.8 420.2 228.1 420.2 228.4 420.2 228.7 420.1 229 420.1 229.3 420.2 229.6 420 229.9 420 230.2 420 230.5 420.1 230.8 420.2 231.1 420.2 231.4 420.1 231.7 420.2 232 420.1 232.3 420.1 232.6 420 232.9 420.2 233.2 420.2 233.5 420.2 233.8 420.1 234.1 420.1 234.4 420.2 234.7 420.1 235 420 235.3 420.2 235.6 419.9 235.9 420.1 236.2 420.2 236.5 420.1 236.8 420.2 237.1 420.2 237.4 420.2 237.7 420.1 238 420.1 238.3 420.1 238.6 420.2 238.9 420.1 239.2 420 239.5 420.2 239.8 420.2 240.1 420.2 240.4 420.2 240.7 420.1 241 420.2 241.3 420.2 241.6 420.1 241.9 420.2 242.2 420.2 242.5 420.1 242.8 420.2 243.1 420.2 243.4 420.2 243.7 420.1 244 420.2 244.3 420.1 244.6 420.1 244.9 420 245.2 420.1 245.5 420.2 245.8 420.2 246.1 420.1 246.4 420.1 246.7 420.1 247 420.1 247.3 420 247.6 419.6 247.9 419.2 248.2 419.2 248.5 419.8 248.8 420.1 249.1 420.1 249.4 420 249.7 420 250 420.1 250.3 420.1 250.6 420.2 250.9 420.1 251.2 420 251.5 420 251.8 420.1 252.1 420.2 252.4 420.1 252.7 420.2 253 420.2 253.3 420.2 253.6 420.2 253.9 420.1 254.2 420.2 254.5 420.1 254.8 420.2 255.1 420.2 255.4 420.1 255.7 420.1 256 420 256.3 419.9 256.6 420.1 256.9 420.2 257.2 420.2 257.5 420.1 257.8 420.2 258.1 420.2 258.4 420.2 258.7 420.1 259 420.2 259.3 420 259.6 420 259.9 420.2 260.2 420.1 260.5 420.2 260.8 420.1 261.1 420 261.4 420.2 261.7 420.1 262 420.1 262.3 420 262.6 420.2 262.9 420.2 263.2 420.2 263.5 420.2 263.8 420.2 264.1 420 264.4 420 264.7 420.2 265 420.2 265.3 420.1 265.6 420.2 265.9 420.1 266.2 420.2 266.5 420.1 266.8 420.2 267.1 420.1 267.4 419.8 267.7 419.2 268 418.6 268.3 419 268.6 419.8 268.9 420 269.2 420.1 269.5 420.2 269.8 420.2 270.1 420.2 270.4 420.2 270.7 420.1 271 420.2 271.3 420.2 271.6 420 271.9 420.2 272.2 420.2 272.5 420.1 272.8 420.2 273.1 420.1 273.4 420.2 273.7 420.2 274 420.2 274.3 420.1 274.6 420 274.9 420.1 275.2 420.1 275.5 420.2 275.8 420.2 276.1 420 276.4 420.1 276.7 420.1 277 420 277.3 420.1 277.6 420.1 277.9 420 278.2 420.2 278.5 420 278.8 420.2 279.1 420.1 279.4 420.2 279.7 420.1 280 420.2 280.3 420.2 280.6 420 280.9 420.2 281.2 420.1 281.5 420.2 281.8 420.1 282 420.2Z" fill="#17becf"/>
<line x1="164.3" y1="420.2" x2="282.5" y2="420.2" stroke="#17becf" stroke-width=".45" stroke-opacity=".8"/>
<rect x="164.3" y="301.6" width="118.2" height="119" fill="none" stroke="#444" stroke-width=".6"/>
<rect x="172.3" y="433.6" width="3.8" height="1.3" fill="#111"/>
<rect x="192.3" y="433.6" width="3.7" height="1.3" fill="#111"/>
<rect x="208.4" y="433.6" width="3.8" height="1.3" fill="#111"/>
<rect x="227.4" y="433.6" width="2.8" height="1.3" fill="#111"/>
<rect x="232.1" y="433.6" width="2.9" height="1.3" fill="#111"/>
<rect x="236.9" y="433.6" width="2.8" height="1.3" fill="#111"/>
<rect x="248.2" y="433.6" width="4.8" height="1.3" fill="#111"/>
<rect x="266.3" y="433.6" width="3.4" height="1.3" fill="#111"/>
<rect x="244" y="427.3" width="5.2" height="3.2" fill="#111"/>
<path d="M248.6 427.3 V425.5 H245 M246.2 424.6 L244.9 425.5 L246.2 426.4" fill="none" stroke="#111" stroke-width=".6"/>
<text x="251" y="430.6" font-size="7.6" font-style="italic">NEUROG3</text>
<path d="M174.2 435 C193.4 447 231.8 447 251 435" fill="none" stroke="#4f72b5" stroke-width="1.1"/>
<path d="M210.3 435 C220.5 447 240.8 447 251 435" fill="none" stroke="#8ea5d4" stroke-width="1.2"/>
<path d="M233 435 C237.5 444 246.5 444 251 435" fill="none" stroke="#a6b7dc" stroke-width="1.1"/>
<path d="M238.3 435 C241.5 443 247.8 443 251 435" fill="none" stroke="#96abd6" stroke-width="1.1"/>
<path d="M268.2 435 C263.9 447.5 255.3 447.5 251 435" fill="none" stroke="#3f68b0" stroke-width="1.3"/>
<text x="307.8" y="299.9" font-size="7.4" font-style="italic" text-anchor="middle">NEUROG3</text>
<rect x="287.4" y="301.9" width="40" height="118.2" fill="none" stroke="#444" stroke-width=".6"/>
<line x1="289.9" y1="420.1" x2="289.9" y2="421.4" stroke="#333" stroke-width=".4"/>
<text x="289.9" y="426.6" font-size="7" text-anchor="middle">0</text>
<line x1="300.27" y1="420.1" x2="300.27" y2="421.4" stroke="#333" stroke-width=".4"/>
<text x="300.27" y="426.6" font-size="7" text-anchor="middle">1</text>
<line x1="310.64" y1="420.1" x2="310.64" y2="421.4" stroke="#333" stroke-width=".4"/>
<text x="310.64" y="426.6" font-size="7" text-anchor="middle">2</text>
<line x1="321.01" y1="420.1" x2="321.01" y2="421.4" stroke="#333" stroke-width=".4"/>
<text x="321.01" y="426.6" font-size="7" text-anchor="middle">3</text>
<path d="M289.9 306.6 L290.42 307.6 L290.94 307.8 L290.94 307.8 L290.42 308 L289.9 309Z" fill="#888" stroke="#333" stroke-width=".35"/><line x1="289.9" y1="307.8" x2="300.79" y2="307.8" stroke="#222" stroke-width=".7"/>
<path d="M289.9 320 L290.42 321.2 L290.94 321.4 L290.94 321.4 L290.42 321.6 L289.9 322.8Z" fill="#888" stroke="#333" stroke-width=".35"/><line x1="289.9" y1="321.4" x2="305.97" y2="321.4" stroke="#222" stroke-width=".7"/>
<path d="M289.9 334 L290.94 332 L293.01 332.2 L296.12 333 L300.27 333.7 L304.42 334.2 L308.57 335 L308.57 335 L304.42 335.8 L300.27 336.3 L296.12 337 L293.01 337.8 L290.94 338 L289.9 336Z" fill="#7d8bd0" stroke="#333" stroke-width=".35"/><line x1="289.9" y1="335" x2="308.57" y2="335" stroke="#222" stroke-width=".7"/>
<path d="M289.9 347.7 L295.08 347.3 L302.34 346.2 L310.64 344.5 L317.9 342.8 L322.05 343.2 L326.19 345.8 L327.75 347.8 L327.75 347.8 L326.19 349.8 L322.05 352.4 L317.9 352.8 L310.64 351.1 L302.34 349.4 L295.08 348.3 L289.9 347.9Z" fill="#e377c2" stroke="#333" stroke-width=".35"/><line x1="289.9" y1="347.8" x2="327.23" y2="347.8" stroke="#222" stroke-width=".7"/>
<path d="M295.08 361.6 L296.12 360.1 L298.71 357.1 L301.31 357.6 L305.45 359.6 L309.6 361.6 L309.6 361.6 L305.45 363.6 L301.31 365.6 L298.71 366.1 L296.12 363.1 L295.08 361.6Z" fill="#8dd78a" stroke="#333" stroke-width=".35"/><line x1="289.9" y1="361.6" x2="293.01" y2="361.6" stroke="#222" stroke-width=".7"/>
<path d="M289.9 372.7 L290.94 372.4 L292.49 374.2 L295.08 374.6 L297.16 374.4 L299.23 374.9 L302.34 375.2 L302.34 375.2 L299.23 375.5 L297.16 376 L295.08 375.8 L292.49 376.2 L290.94 378 L289.9 377.7Z" fill="#ff7f0e" stroke="#333" stroke-width=".35"/><line x1="289.9" y1="375.2" x2="311.68" y2="375.2" stroke="#222" stroke-width=".7"/>
<path d="M289.9 386 L290.73 386.8 L291.97 387.6 L296.12 387.4 L298.2 387.8 L300.27 388 L300.27 388 L298.2 388.2 L296.12 388.6 L291.97 388.4 L290.73 389.2 L289.9 390Z" fill="#2a9d70" stroke="#333" stroke-width=".35"/><line x1="289.9" y1="388" x2="316.86" y2="388" stroke="#222" stroke-width=".7"/>
<path d="M289.9 400.2 L291.46 400.8 L293.53 399.2 L297.16 397.3 L301.31 398.4 L306.49 399.8 L310.64 401.1 L312.71 401.6 L312.71 401.6 L310.64 402.1 L306.49 403.4 L301.31 404.8 L297.16 405.9 L293.53 404 L291.46 402.4 L289.9 403Z" fill="#d62728" stroke="#333" stroke-width=".35"/><line x1="289.9" y1="401.6" x2="312.71" y2="401.6" stroke="#222" stroke-width=".7"/>
<path d="M289.9 412.7 L290.94 413.5 L293.01 414.2 L296.12 414 L299.23 414.5 L301.31 414.7 L301.31 414.7 L299.23 414.9 L296.12 415.4 L293.01 415.2 L290.94 415.9 L289.9 416.7Z" fill="#17becf" stroke="#333" stroke-width=".35"/><line x1="289.9" y1="414.7" x2="309.6" y2="414.7" stroke="#222" stroke-width=".7"/>
<rect x="331.9" y="301.9" width="6" height="13.18" fill="#1f77b4"/>
<line x1="337.9" y1="308.47" x2="338.9" y2="308.47" stroke="#333" stroke-width=".4"/>
<text x="339.3" y="310.57" font-size="7.2">Acinar</text>
<rect x="331.9" y="315.03" width="6" height="13.18" fill="#8c564b"/>
<line x1="337.9" y1="321.6" x2="338.9" y2="321.6" stroke="#333" stroke-width=".4"/>
<text x="339.3" y="323.7" font-size="7.2">Ductal</text>
<rect x="331.9" y="328.17" width="6" height="13.18" fill="#7d8bd0"/>
<line x1="337.9" y1="334.73" x2="338.9" y2="334.73" stroke="#333" stroke-width=".4"/>
<text x="339.3" y="336.83" font-size="7.2">PEC</text>
<rect x="331.9" y="341.3" width="6" height="13.18" fill="#e377c2"/>
<line x1="337.9" y1="347.87" x2="338.9" y2="347.87" stroke="#333" stroke-width=".4"/>
<text x="339.3" y="349.97" font-size="7.2">NGN3</text>
<rect x="331.9" y="354.43" width="6" height="13.18" fill="#8dd78a"/>
<line x1="337.9" y1="361" x2="338.9" y2="361" stroke="#333" stroke-width=".4"/>
<text x="339.3" y="363.1" font-size="7.2">FEV</text>
<rect x="331.9" y="367.57" width="6" height="13.18" fill="#ff7f0e"/>
<line x1="337.9" y1="374.13" x2="338.9" y2="374.13" stroke="#333" stroke-width=".4"/>
<text x="339.3" y="376.23" font-size="7.2">Alpha</text>
<rect x="331.9" y="380.7" width="6" height="13.18" fill="#279e68"/>
<line x1="337.9" y1="387.27" x2="338.9" y2="387.27" stroke="#333" stroke-width=".4"/>
<text x="339.3" y="389.37" font-size="7.2">Beta</text>
<rect x="331.9" y="393.83" width="6" height="13.18" fill="#d62728"/>
<line x1="337.9" y1="400.4" x2="338.9" y2="400.4" stroke="#333" stroke-width=".4"/>
<text x="339.3" y="402.5" font-size="7.2">Delta</text>
<rect x="331.9" y="406.97" width="6" height="13.18" fill="#17becf"/>
<line x1="337.9" y1="413.53" x2="338.9" y2="413.53" stroke="#333" stroke-width=".4"/>
<text x="339.3" y="415.63" font-size="7.2">PP</text>
<rect x="331.9" y="301.9" width="6" height="118.2" fill="none" stroke="#444" stroke-width=".4"/>
<text x="307.2" y="434.9" font-size="7.2" text-anchor="middle">Link Score</text>
<defs><linearGradient id="lnk" x1="0" y1="0" x2="1" y2="0"><stop offset="0" stop-color="#b7c6ea"/><stop offset="1" stop-color="#3a5fad"/></linearGradient></defs>
<rect x="287.4" y="437.4" width="40" height="3.9" fill="url(#lnk)"/>
<line x1="292.3" y1="437.4" x2="292.3" y2="441.3" stroke="#333" stroke-width=".3"/>
<line x1="303.5" y1="437.4" x2="303.5" y2="441.3" stroke="#333" stroke-width=".3"/>
<line x1="314.6" y1="437.4" x2="314.6" y2="441.3" stroke="#333" stroke-width=".3"/>
<text x="292.3" y="447.6" font-size="7" text-anchor="middle">0.1</text>
<text x="314.6" y="447.6" font-size="7" text-anchor="middle">0.2</text>
<text x="361.4" y="294.5" font-size="9" font-weight="bold">e</text>
<rect x="388.9" y="295.6" width="6.47" height="5.24" fill="#d6e6e6"/>
<rect x="395.29" y="295.6" width="6.47" height="5.24" fill="#a6d3d8"/>
<rect x="401.69" y="295.6" width="6.47" height="5.24" fill="#88c0ca"/>
<rect x="408.08" y="295.6" width="6.47" height="5.24" fill="#6aaebb"/>
<rect x="414.47" y="295.6" width="6.47" height="5.24" fill="#6aaebb"/>
<rect x="420.87" y="295.6" width="6.47" height="5.24" fill="#6aaebb"/>
<rect x="427.26" y="295.6" width="6.47" height="5.24" fill="#6aaebb"/>
<rect x="433.65" y="295.6" width="6.47" height="5.24" fill="#6aaebb"/>
<rect x="440.05" y="295.6" width="6.47" height="5.24" fill="#88c0ca"/>
<rect x="446.44" y="295.6" width="6.47" height="5.24" fill="#3f7f99"/>
<rect x="452.83" y="295.6" width="6.47" height="5.24" fill="#3f7f99"/>
<rect x="459.23" y="295.6" width="6.47" height="5.24" fill="#88c0ca"/>
<rect x="465.62" y="295.6" width="6.47" height="5.24" fill="#a6d3d8"/>
<rect x="472.01" y="295.6" width="6.47" height="5.24" fill="#f5ae70"/>
<rect x="478.41" y="295.6" width="6.47" height="5.24" fill="#ebeeec"/>
<rect x="484.8" y="295.6" width="6.47" height="5.24" fill="#ebeeec"/>
<rect x="491.19" y="295.6" width="6.47" height="5.24" fill="#ebeeec"/>
<rect x="497.59" y="295.6" width="6.47" height="5.24" fill="#ebeeec"/>
<rect x="503.98" y="295.6" width="6.47" height="5.24" fill="#cfe3e4"/>
<rect x="510.37" y="295.6" width="6.47" height="5.24" fill="#cfe3e4"/>
<rect x="516.77" y="295.6" width="6.47" height="5.24" fill="#ebeeec"/>
<rect x="523.16" y="295.6" width="6.47" height="5.24" fill="#6aaebb"/>
<rect x="529.55" y="295.6" width="6.47" height="5.24" fill="#f5c28c"/>
<rect x="535.95" y="295.6" width="6.47" height="5.24" fill="#f5c28c"/>
<rect x="542.34" y="295.6" width="6.47" height="5.24" fill="#f5d5a8"/>
<rect x="548.73" y="295.6" width="6.47" height="5.24" fill="#f5ae70"/>
<rect x="555.13" y="295.6" width="6.47" height="5.24" fill="#f5ae70"/>
<rect x="561.52" y="295.6" width="6.47" height="5.24" fill="#f27e54"/>
<rect x="567.91" y="295.6" width="6.47" height="5.24" fill="#f27e54"/>
<rect x="574.31" y="295.6" width="6.47" height="5.24" fill="#ef453c"/>
<rect x="380.8" y="295.9" width="6.4" height="4.56" fill="#1f77b4"/>
<rect x="388.9" y="300.76" width="6.47" height="5.24" fill="#a6d3d8"/>
<rect x="395.29" y="300.76" width="6.47" height="5.24" fill="#a6d3d8"/>
<rect x="401.69" y="300.76" width="6.47" height="5.24" fill="#a6d3d8"/>
<rect x="408.08" y="300.76" width="6.47" height="5.24" fill="#f5d5a8"/>
<rect x="414.47" y="300.76" width="6.47" height="5.24" fill="#a6d3d8"/>
<rect x="420.87" y="300.76" width="6.47" height="5.24" fill="#a6d3d8"/>
<rect x="427.26" y="300.76" width="6.47" height="5.24" fill="#a6d3d8"/>
<rect x="433.65" y="300.76" width="6.47" height="5.24" fill="#a6d3d8"/>
<rect x="440.05" y="300.76" width="6.47" height="5.24" fill="#88c0ca"/>
<rect x="446.44" y="300.76" width="6.47" height="5.24" fill="#3f7f99"/>
<rect x="452.83" y="300.76" width="6.47" height="5.24" fill="#5496aa"/>
<rect x="459.23" y="300.76" width="6.47" height="5.24" fill="#346f8c"/>
<rect x="465.62" y="300.76" width="6.47" height="5.24" fill="#2a5f80"/>
<rect x="472.01" y="300.76" width="6.47" height="5.24" fill="#3f7f99"/>
<rect x="478.41" y="300.76" width="6.47" height="5.24" fill="#f5ae70"/>
<rect x="484.8" y="300.76" width="6.47" height="5.24" fill="#f28c5c"/>
<rect x="491.19" y="300.76" width="6.47" height="5.24" fill="#f27e54"/>
<rect x="497.59" y="300.76" width="6.47" height="5.24" fill="#f5c28c"/>
<rect x="503.98" y="300.76" width="6.47" height="5.24" fill="#f5c28c"/>
<rect x="510.37" y="300.76" width="6.47" height="5.24" fill="#f17850"/>
<rect x="516.77" y="300.76" width="6.47" height="5.24" fill="#f17850"/>
<rect x="523.16" y="300.76" width="6.47" height="5.24" fill="#ee2030"/>
<rect x="529.55" y="300.76" width="6.47" height="5.24" fill="#ee2030"/>
<rect x="535.95" y="300.76" width="6.47" height="5.24" fill="#ee2030"/>
<rect x="542.34" y="300.76" width="6.47" height="5.24" fill="#88c0ca"/>
<rect x="548.73" y="300.76" width="6.47" height="5.24" fill="#b4d8dc"/>
<rect x="555.13" y="300.76" width="6.47" height="5.24" fill="#a6d3d8"/>
<rect x="561.52" y="300.76" width="6.47" height="5.24" fill="#f0e2ca"/>
<rect x="567.91" y="300.76" width="6.47" height="5.24" fill="#f5d5a8"/>
<rect x="574.31" y="300.76" width="6.47" height="5.24" fill="#f27e54"/>
<rect x="380.8" y="301.06" width="6.4" height="4.56" fill="#8c564b"/>
<rect x="388.9" y="305.91" width="6.47" height="5.24" fill="#ebeeec"/>
<rect x="395.29" y="305.91" width="6.47" height="5.24" fill="#f5d5a8"/>
<rect x="401.69" y="305.91" width="6.47" height="5.24" fill="#f5d5a8"/>
<rect x="408.08" y="305.91" width="6.47" height="5.24" fill="#ebeeec"/>
<rect x="414.47" y="305.91" width="6.47" height="5.24" fill="#f5c28c"/>
<rect x="420.87" y="305.91" width="6.47" height="5.24" fill="#f5c28c"/>
<rect x="427.26" y="305.91" width="6.47" height="5.24" fill="#f5ae70"/>
<rect x="433.65" y="305.91" width="6.47" height="5.24" fill="#f5d5a8"/>
<rect x="440.05" y="305.91" width="6.47" height="5.24" fill="#ebeeec"/>
<rect x="446.44" y="305.91" width="6.47" height="5.24" fill="#ef453c"/>
<rect x="452.83" y="305.91" width="6.47" height="5.24" fill="#f06a48"/>
<rect x="459.23" y="305.91" width="6.47" height="5.24" fill="#ef453c"/>
<rect x="465.62" y="305.91" width="6.47" height="5.24" fill="#ee2030"/>
<rect x="472.01" y="305.91" width="6.47" height="5.24" fill="#f06a48"/>
<rect x="478.41" y="305.91" width="6.47" height="5.24" fill="#f06a48"/>
<rect x="484.8" y="305.91" width="6.47" height="5.24" fill="#f06a48"/>
<rect x="491.19" y="305.91" width="6.47" height="5.24" fill="#ef5441"/>
<rect x="497.59" y="305.91" width="6.47" height="5.24" fill="#f0e2ca"/>
<rect x="503.98" y="305.91" width="6.47" height="5.24" fill="#f0e2ca"/>
<rect x="510.37" y="305.91" width="6.47" height="5.24" fill="#f5c28c"/>
<rect x="516.77" y="305.91" width="6.47" height="5.24" fill="#efe4d1"/>
<rect x="523.16" y="305.91" width="6.47" height="5.24" fill="#f5d5a8"/>
<rect x="529.55" y="305.91" width="6.47" height="5.24" fill="#efe4d1"/>
<rect x="535.95" y="305.91" width="6.47" height="5.24" fill="#ebeeec"/>
<rect x="542.34" y="305.91" width="6.47" height="5.24" fill="#a6d3d8"/>
<rect x="548.73" y="305.91" width="6.47" height="5.24" fill="#9accd2"/>
<rect x="555.13" y="305.91" width="6.47" height="5.24" fill="#a6d3d8"/>
<rect x="561.52" y="305.91" width="6.47" height="5.24" fill="#ebeeec"/>
<rect x="567.91" y="305.91" width="6.47" height="5.24" fill="#88c0ca"/>
<rect x="574.31" y="305.91" width="6.47" height="5.24" fill="#6aaebb"/>
<rect x="380.8" y="306.21" width="6.4" height="4.56" fill="#d474c0"/>
<rect x="388.9" y="311.07" width="6.47" height="5.24" fill="#ebeeec"/>
<rect x="395.29" y="311.07" width="6.47" height="5.24" fill="#f5c28c"/>
<rect x="401.69" y="311.07" width="6.47" height="5.24" fill="#f5d5a8"/>
<rect x="408.08" y="311.07" width="6.47" height="5.24" fill="#c8e0e2"/>
<rect x="414.47" y="311.07" width="6.47" height="5.24" fill="#f5ae70"/>
<rect x="420.87" y="311.07" width="6.47" height="5.24" fill="#f28c5c"/>
<rect x="427.26" y="311.07" width="6.47" height="5.24" fill="#f28c5c"/>
<rect x="433.65" y="311.07" width="6.47" height="5.24" fill="#f5c28c"/>
<rect x="440.05" y="311.07" width="6.47" height="5.24" fill="#f5d5a8"/>
<rect x="446.44" y="311.07" width="6.47" height="5.24" fill="#ee2030"/>
<rect x="452.83" y="311.07" width="6.47" height="5.24" fill="#f06a48"/>
<rect x="459.23" y="311.07" width="6.47" height="5.24" fill="#f28c5c"/>
<rect x="465.62" y="311.07" width="6.47" height="5.24" fill="#f28c5c"/>
<rect x="472.01" y="311.07" width="6.47" height="5.24" fill="#f0e2ca"/>
<rect x="478.41" y="311.07" width="6.47" height="5.24" fill="#a6d3d8"/>
<rect x="484.8" y="311.07" width="6.47" height="5.24" fill="#c8e0e2"/>
<rect x="491.19" y="311.07" width="6.47" height="5.24" fill="#bbdbde"/>
<rect x="497.59" y="311.07" width="6.47" height="5.24" fill="#d6e6e6"/>
<rect x="503.98" y="311.07" width="6.47" height="5.24" fill="#dde9e8"/>
<rect x="510.37" y="311.07" width="6.47" height="5.24" fill="#c8e0e2"/>
<rect x="516.77" y="311.07" width="6.47" height="5.24" fill="#9accd2"/>
<rect x="523.16" y="311.07" width="6.47" height="5.24" fill="#bbdbde"/>
<rect x="529.55" y="311.07" width="6.47" height="5.24" fill="#2a5f80"/>
<rect x="535.95" y="311.07" width="6.47" height="5.24" fill="#2a5f80"/>
<rect x="542.34" y="311.07" width="6.47" height="5.24" fill="#f5d5a8"/>
<rect x="548.73" y="311.07" width="6.47" height="5.24" fill="#c8e0e2"/>
<rect x="555.13" y="311.07" width="6.47" height="5.24" fill="#cfe3e4"/>
<rect x="561.52" y="311.07" width="6.47" height="5.24" fill="#9accd2"/>
<rect x="567.91" y="311.07" width="6.47" height="5.24" fill="#6aaebb"/>
<rect x="574.31" y="311.07" width="6.47" height="5.24" fill="#4888a0"/>
<rect x="380.8" y="311.37" width="6.4" height="4.56" fill="#98df8a"/>
<rect x="388.9" y="316.22" width="6.47" height="5.24" fill="#f5c28c"/>
<rect x="395.29" y="316.22" width="6.47" height="5.24" fill="#f5c28c"/>
<rect x="401.69" y="316.22" width="6.47" height="5.24" fill="#f5ae70"/>
<rect x="408.08" y="316.22" width="6.47" height="5.24" fill="#f28c5c"/>
<rect x="414.47" y="316.22" width="6.47" height="5.24" fill="#f28c5c"/>
<rect x="420.87" y="316.22" width="6.47" height="5.24" fill="#f28c5c"/>
<rect x="427.26" y="316.22" width="6.47" height="5.24" fill="#f28c5c"/>
<rect x="433.65" y="316.22" width="6.47" height="5.24" fill="#f27e54"/>
<rect x="440.05" y="316.22" width="6.47" height="5.24" fill="#f28c5c"/>
<rect x="446.44" y="316.22" width="6.47" height="5.24" fill="#ee2030"/>
<rect x="452.83" y="316.22" width="6.47" height="5.24" fill="#ee2030"/>
<rect x="459.23" y="316.22" width="6.47" height="5.24" fill="#f06a48"/>
<rect x="465.62" y="316.22" width="6.47" height="5.24" fill="#f28c5c"/>
<rect x="472.01" y="316.22" width="6.47" height="5.24" fill="#f0e2ca"/>
<rect x="478.41" y="316.22" width="6.47" height="5.24" fill="#a6d3d8"/>
<rect x="484.8" y="316.22" width="6.47" height="5.24" fill="#a6d3d8"/>
<rect x="491.19" y="316.22" width="6.47" height="5.24" fill="#9accd2"/>
<rect x="497.59" y="316.22" width="6.47" height="5.24" fill="#a6d3d8"/>
<rect x="503.98" y="316.22" width="6.47" height="5.24" fill="#c8e0e2"/>
<rect x="510.37" y="316.22" width="6.47" height="5.24" fill="#a6d3d8"/>
<rect x="516.77" y="316.22" width="6.47" height="5.24" fill="#a6d3d8"/>
<rect x="523.16" y="316.22" width="6.47" height="5.24" fill="#a6d3d8"/>
<rect x="529.55" y="316.22" width="6.47" height="5.24" fill="#2e6585"/>
<rect x="535.95" y="316.22" width="6.47" height="5.24" fill="#2a5f80"/>
<rect x="542.34" y="316.22" width="6.47" height="5.24" fill="#9accd2"/>
<rect x="548.73" y="316.22" width="6.47" height="5.24" fill="#9accd2"/>
<rect x="555.13" y="316.22" width="6.47" height="5.24" fill="#9accd2"/>
<rect x="561.52" y="316.22" width="6.47" height="5.24" fill="#6aaebb"/>
<rect x="567.91" y="316.22" width="6.47" height="5.24" fill="#599bad"/>
<rect x="574.31" y="316.22" width="6.47" height="5.24" fill="#306988"/>
<rect x="380.8" y="316.52" width="6.4" height="4.56" fill="#8088d0"/>
<rect x="388.9" y="321.38" width="6.47" height="5.24" fill="#f0e2ca"/>
<rect x="395.29" y="321.38" width="6.47" height="5.24" fill="#f5c28c"/>
<rect x="401.69" y="321.38" width="6.47" height="5.24" fill="#f5c28c"/>
<rect x="408.08" y="321.38" width="6.47" height="5.24" fill="#f5ae70"/>
<rect x="414.47" y="321.38" width="6.47" height="5.24" fill="#f4a068"/>
<rect x="420.87" y="321.38" width="6.47" height="5.24" fill="#f4a068"/>
<rect x="427.26" y="321.38" width="6.47" height="5.24" fill="#f4a068"/>
<rect x="433.65" y="321.38" width="6.47" height="5.24" fill="#f4a068"/>
<rect x="440.05" y="321.38" width="6.47" height="5.24" fill="#f5ae70"/>
<rect x="446.44" y="321.38" width="6.47" height="5.24" fill="#f06a48"/>
<rect x="452.83" y="321.38" width="6.47" height="5.24" fill="#f06a48"/>
<rect x="459.23" y="321.38" width="6.47" height="5.24" fill="#f28c5c"/>
<rect x="465.62" y="321.38" width="6.47" height="5.24" fill="#f5ae70"/>
<rect x="472.01" y="321.38" width="6.47" height="5.24" fill="#ebeeec"/>
<rect x="478.41" y="321.38" width="6.47" height="5.24" fill="#a6d3d8"/>
<rect x="484.8" y="321.38" width="6.47" height="5.24" fill="#a6d3d8"/>
<rect x="491.19" y="321.38" width="6.47" height="5.24" fill="#9accd2"/>
<rect x="497.59" y="321.38" width="6.47" height="5.24" fill="#a6d3d8"/>
<rect x="503.98" y="321.38" width="6.47" height="5.24" fill="#c8e0e2"/>
<rect x="510.37" y="321.38" width="6.47" height="5.24" fill="#a6d3d8"/>
<rect x="516.77" y="321.38" width="6.47" height="5.24" fill="#a6d3d8"/>
<rect x="523.16" y="321.38" width="6.47" height="5.24" fill="#a6d3d8"/>
<rect x="529.55" y="321.38" width="6.47" height="5.24" fill="#2a5f80"/>
<rect x="535.95" y="321.38" width="6.47" height="5.24" fill="#2a5f80"/>
<rect x="542.34" y="321.38" width="6.47" height="5.24" fill="#ebeeec"/>
<rect x="548.73" y="321.38" width="6.47" height="5.24" fill="#b4d8dc"/>
<rect x="555.13" y="321.38" width="6.47" height="5.24" fill="#b4d8dc"/>
<rect x="561.52" y="321.38" width="6.47" height="5.24" fill="#6aaebb"/>
<rect x="567.91" y="321.38" width="6.47" height="5.24" fill="#6aaebb"/>
<rect x="574.31" y="321.38" width="6.47" height="5.24" fill="#3b7994"/>
<rect x="380.8" y="321.68" width="6.4" height="4.56" fill="#279e68"/>
<rect x="388.9" y="326.53" width="6.47" height="5.24" fill="#f0e2ca"/>
<rect x="395.29" y="326.53" width="6.47" height="5.24" fill="#f5d5a8"/>
<rect x="401.69" y="326.53" width="6.47" height="5.24" fill="#f5d5a8"/>
<rect x="408.08" y="326.53" width="6.47" height="5.24" fill="#f5d5a8"/>
<rect x="414.47" y="326.53" width="6.47" height="5.24" fill="#f5c28c"/>
<rect x="420.87" y="326.53" width="6.47" height="5.24" fill="#f5c28c"/>
<rect x="427.26" y="326.53" width="6.47" height="5.24" fill="#f5c28c"/>
<rect x="433.65" y="326.53" width="6.47" height="5.24" fill="#f5c28c"/>
<rect x="440.05" y="326.53" width="6.47" height="5.24" fill="#f3dab6"/>
<rect x="446.44" y="326.53" width="6.47" height="5.24" fill="#f06a48"/>
<rect x="452.83" y="326.53" width="6.47" height="5.24" fill="#f17850"/>
<rect x="459.23" y="326.53" width="6.47" height="5.24" fill="#f17850"/>
<rect x="465.62" y="326.53" width="6.47" height="5.24" fill="#f28c5c"/>
<rect x="472.01" y="326.53" width="6.47" height="5.24" fill="#f3dab6"/>
<rect x="478.41" y="326.53" width="6.47" height="5.24" fill="#a6d3d8"/>
<rect x="484.8" y="326.53" width="6.47" height="5.24" fill="#c8e0e2"/>
<rect x="491.19" y="326.53" width="6.47" height="5.24" fill="#a6d3d8"/>
<rect x="497.59" y="326.53" width="6.47" height="5.24" fill="#bbdbde"/>
<rect x="503.98" y="326.53" width="6.47" height="5.24" fill="#dde9e8"/>
<rect x="510.37" y="326.53" width="6.47" height="5.24" fill="#bbdbde"/>
<rect x="516.77" y="326.53" width="6.47" height="5.24" fill="#a6d3d8"/>
<rect x="523.16" y="326.53" width="6.47" height="5.24" fill="#b4d8dc"/>
<rect x="529.55" y="326.53" width="6.47" height="5.24" fill="#2e6585"/>
<rect x="535.95" y="326.53" width="6.47" height="5.24" fill="#2a5f80"/>
<rect x="542.34" y="326.53" width="6.47" height="5.24" fill="#ebeeec"/>
<rect x="548.73" y="326.53" width="6.47" height="5.24" fill="#a6d3d8"/>
<rect x="555.13" y="326.53" width="6.47" height="5.24" fill="#a6d3d8"/>
<rect x="561.52" y="326.53" width="6.47" height="5.24" fill="#9accd2"/>
<rect x="567.91" y="326.53" width="6.47" height="5.24" fill="#88c0ca"/>
<rect x="574.31" y="326.53" width="6.47" height="5.24" fill="#4888a0"/>
<rect x="380.8" y="326.83" width="6.4" height="4.56" fill="#d62728"/>
<rect x="388.9" y="331.69" width="6.47" height="5.24" fill="#f3dab6"/>
<rect x="395.29" y="331.69" width="6.47" height="5.24" fill="#c8e0e2"/>
<rect x="401.69" y="331.69" width="6.47" height="5.24" fill="#eee6d8"/>
<rect x="408.08" y="331.69" width="6.47" height="5.24" fill="#ede9de"/>
<rect x="414.47" y="331.69" width="6.47" height="5.24" fill="#d6e6e6"/>
<rect x="420.87" y="331.69" width="6.47" height="5.24" fill="#d6e6e6"/>
<rect x="427.26" y="331.69" width="6.47" height="5.24" fill="#ebeeec"/>
<rect x="433.65" y="331.69" width="6.47" height="5.24" fill="#ebeeec"/>
<rect x="440.05" y="331.69" width="6.47" height="5.24" fill="#f5d5a8"/>
<rect x="446.44" y="331.69" width="6.47" height="5.24" fill="#f27e54"/>
<rect x="452.83" y="331.69" width="6.47" height="5.24" fill="#f49a64"/>
<rect x="459.23" y="331.69" width="6.47" height="5.24" fill="#f5c28c"/>
<rect x="465.62" y="331.69" width="6.47" height="5.24" fill="#f5c997"/>
<rect x="472.01" y="331.69" width="6.47" height="5.24" fill="#eee6d8"/>
<rect x="478.41" y="331.69" width="6.47" height="5.24" fill="#a6d3d8"/>
<rect x="484.8" y="331.69" width="6.47" height="5.24" fill="#a6d3d8"/>
<rect x="491.19" y="331.69" width="6.47" height="5.24" fill="#9accd2"/>
<rect x="497.59" y="331.69" width="6.47" height="5.24" fill="#ebeeec"/>
<rect x="503.98" y="331.69" width="6.47" height="5.24" fill="#c8e0e2"/>
<rect x="510.37" y="331.69" width="6.47" height="5.24" fill="#a6d3d8"/>
<rect x="516.77" y="331.69" width="6.47" height="5.24" fill="#9accd2"/>
<rect x="523.16" y="331.69" width="6.47" height="5.24" fill="#b4d8dc"/>
<rect x="529.55" y="331.69" width="6.47" height="5.24" fill="#2a5f80"/>
<rect x="535.95" y="331.69" width="6.47" height="5.24" fill="#2a5f80"/>
<rect x="542.34" y="331.69" width="6.47" height="5.24" fill="#f5d5a8"/>
<rect x="548.73" y="331.69" width="6.47" height="5.24" fill="#a6d3d8"/>
<rect x="555.13" y="331.69" width="6.47" height="5.24" fill="#a6d3d8"/>
<rect x="561.52" y="331.69" width="6.47" height="5.24" fill="#88c0ca"/>
<rect x="567.91" y="331.69" width="6.47" height="5.24" fill="#6aaebb"/>
<rect x="574.31" y="331.69" width="6.47" height="5.24" fill="#3b7994"/>
<rect x="380.8" y="331.99" width="6.4" height="4.56" fill="#ff7f0e"/>
<rect x="388.9" y="336.84" width="6.47" height="5.24" fill="#f5d5a8"/>
<rect x="395.29" y="336.84" width="6.47" height="5.24" fill="#a6d3d8"/>
<rect x="401.69" y="336.84" width="6.47" height="5.24" fill="#ebeeec"/>
<rect x="408.08" y="336.84" width="6.47" height="5.24" fill="#eee6d8"/>
<rect x="414.47" y="336.84" width="6.47" height="5.24" fill="#c8e0e2"/>
<rect x="420.87" y="336.84" width="6.47" height="5.24" fill="#c8e0e2"/>
<rect x="427.26" y="336.84" width="6.47" height="5.24" fill="#c8e0e2"/>
<rect x="433.65" y="336.84" width="6.47" height="5.24" fill="#cfe3e4"/>
<rect x="440.05" y="336.84" width="6.47" height="5.24" fill="#f5d5a8"/>
<rect x="446.44" y="336.84" width="6.47" height="5.24" fill="#f28c5c"/>
<rect x="452.83" y="336.84" width="6.47" height="5.24" fill="#f27e54"/>
<rect x="459.23" y="336.84" width="6.47" height="5.24" fill="#f3dab6"/>
<rect x="465.62" y="336.84" width="6.47" height="5.24" fill="#efe4d1"/>
<rect x="472.01" y="336.84" width="6.47" height="5.24" fill="#a6d3d8"/>
<rect x="478.41" y="336.84" width="6.47" height="5.24" fill="#a6d3d8"/>
<rect x="484.8" y="336.84" width="6.47" height="5.24" fill="#a6d3d8"/>
<rect x="491.19" y="336.84" width="6.47" height="5.24" fill="#88c0ca"/>
<rect x="497.59" y="336.84" width="6.47" height="5.24" fill="#ebeeec"/>
<rect x="503.98" y="336.84" width="6.47" height="5.24" fill="#bbdbde"/>
<rect x="510.37" y="336.84" width="6.47" height="5.24" fill="#a6d3d8"/>
<rect x="516.77" y="336.84" width="6.47" height="5.24" fill="#a6d3d8"/>
<rect x="523.16" y="336.84" width="6.47" height="5.24" fill="#bbdbde"/>
<rect x="529.55" y="336.84" width="6.47" height="5.24" fill="#2a5f80"/>
<rect x="535.95" y="336.84" width="6.47" height="5.24" fill="#2a5f80"/>
<rect x="542.34" y="336.84" width="6.47" height="5.24" fill="#f3dab6"/>
<rect x="548.73" y="336.84" width="6.47" height="5.24" fill="#a6d3d8"/>
<rect x="555.13" y="336.84" width="6.47" height="5.24" fill="#a6d3d8"/>
<rect x="561.52" y="336.84" width="6.47" height="5.24" fill="#88c0ca"/>
<rect x="567.91" y="336.84" width="6.47" height="5.24" fill="#6aaebb"/>
<rect x="574.31" y="336.84" width="6.47" height="5.24" fill="#4888a0"/>
<rect x="380.8" y="337.14" width="6.4" height="4.56" fill="#17becf"/>
<rect x="388.9" y="295.6" width="191.8" height="46.4" fill="none" stroke="#7a7a7a" stroke-width=".8"/>
<rect x="380.3" y="295.6" width="7.2" height="46.4" fill="none" stroke="#7a7a7a" stroke-width=".6"/>
<rect x="388.9" y="400.5" width="6.47" height="5.62" fill="#a6d3d8"/>
<rect x="395.29" y="400.5" width="6.47" height="5.62" fill="#6aaebb"/>
<rect x="401.69" y="400.5" width="6.47" height="5.62" fill="#6aaebb"/>
<rect x="408.08" y="400.5" width="6.47" height="5.62" fill="#5da0b1"/>
<rect x="414.47" y="400.5" width="6.47" height="5.62" fill="#6aaebb"/>
<rect x="420.87" y="400.5" width="6.47" height="5.62" fill="#5da0b1"/>
<rect x="427.26" y="400.5" width="6.47" height="5.62" fill="#4c8da3"/>
<rect x="433.65" y="400.5" width="6.47" height="5.62" fill="#6aaebb"/>
<rect x="440.05" y="400.5" width="6.47" height="5.62" fill="#88c0ca"/>
<rect x="446.44" y="400.5" width="6.47" height="5.62" fill="#2a5f80"/>
<rect x="452.83" y="400.5" width="6.47" height="5.62" fill="#2a5f80"/>
<rect x="459.23" y="400.5" width="6.47" height="5.62" fill="#4c8da3"/>
<rect x="465.62" y="400.5" width="6.47" height="5.62" fill="#6aaebb"/>
<rect x="472.01" y="400.5" width="6.47" height="5.62" fill="#bbdbde"/>
<rect x="478.41" y="400.5" width="6.47" height="5.62" fill="#ebeeec"/>
<rect x="484.8" y="400.5" width="6.47" height="5.62" fill="#ebeeec"/>
<rect x="491.19" y="400.5" width="6.47" height="5.62" fill="#eee6d8"/>
<rect x="497.59" y="400.5" width="6.47" height="5.62" fill="#f1dfc3"/>
<rect x="503.98" y="400.5" width="6.47" height="5.62" fill="#c8e0e2"/>
<rect x="510.37" y="400.5" width="6.47" height="5.62" fill="#88c0ca"/>
<rect x="516.77" y="400.5" width="6.47" height="5.62" fill="#f0e2ca"/>
<rect x="523.16" y="400.5" width="6.47" height="5.62" fill="#cfe3e4"/>
<rect x="529.55" y="400.5" width="6.47" height="5.62" fill="#f3dab6"/>
<rect x="535.95" y="400.5" width="6.47" height="5.62" fill="#f5d5a8"/>
<rect x="542.34" y="400.5" width="6.47" height="5.62" fill="#f17850"/>
<rect x="548.73" y="400.5" width="6.47" height="5.62" fill="#f5ae70"/>
<rect x="555.13" y="400.5" width="6.47" height="5.62" fill="#f5ae70"/>
<rect x="561.52" y="400.5" width="6.47" height="5.62" fill="#f17850"/>
<rect x="567.91" y="400.5" width="6.47" height="5.62" fill="#f27e54"/>
<rect x="574.31" y="400.5" width="6.47" height="5.62" fill="#ef3e3a"/>
<rect x="380.8" y="400.8" width="6.4" height="4.94" fill="#1f77b4"/>
<rect x="388.9" y="406.04" width="6.47" height="5.62" fill="#b4d8dc"/>
<rect x="395.29" y="406.04" width="6.47" height="5.62" fill="#a6d3d8"/>
<rect x="401.69" y="406.04" width="6.47" height="5.62" fill="#cfe3e4"/>
<rect x="408.08" y="406.04" width="6.47" height="5.62" fill="#88c0ca"/>
<rect x="414.47" y="406.04" width="6.47" height="5.62" fill="#a6d3d8"/>
<rect x="420.87" y="406.04" width="6.47" height="5.62" fill="#88c0ca"/>
<rect x="427.26" y="406.04" width="6.47" height="5.62" fill="#88c0ca"/>
<rect x="433.65" y="406.04" width="6.47" height="5.62" fill="#88c0ca"/>
<rect x="440.05" y="406.04" width="6.47" height="5.62" fill="#88c0ca"/>
<rect x="446.44" y="406.04" width="6.47" height="5.62" fill="#2a5f80"/>
<rect x="452.83" y="406.04" width="6.47" height="5.62" fill="#2a5f80"/>
<rect x="459.23" y="406.04" width="6.47" height="5.62" fill="#346f8c"/>
<rect x="465.62" y="406.04" width="6.47" height="5.62" fill="#346f8c"/>
<rect x="472.01" y="406.04" width="6.47" height="5.62" fill="#88c0ca"/>
<rect x="478.41" y="406.04" width="6.47" height="5.62" fill="#f28c5c"/>
<rect x="484.8" y="406.04" width="6.47" height="5.62" fill="#f28c5c"/>
<rect x="491.19" y="406.04" width="6.47" height="5.62" fill="#f27e54"/>
<rect x="497.59" y="406.04" width="6.47" height="5.62" fill="#efe4d1"/>
<rect x="503.98" y="406.04" width="6.47" height="5.62" fill="#e4ebea"/>
<rect x="510.37" y="406.04" width="6.47" height="5.62" fill="#f5d5a8"/>
<rect x="516.77" y="406.04" width="6.47" height="5.62" fill="#f5ae70"/>
<rect x="523.16" y="406.04" width="6.47" height="5.62" fill="#f28c5c"/>
<rect x="529.55" y="406.04" width="6.47" height="5.62" fill="#ee2030"/>
<rect x="535.95" y="406.04" width="6.47" height="5.62" fill="#ee2030"/>
<rect x="542.34" y="406.04" width="6.47" height="5.62" fill="#efe4d1"/>
<rect x="548.73" y="406.04" width="6.47" height="5.62" fill="#e4ebea"/>
<rect x="555.13" y="406.04" width="6.47" height="5.62" fill="#cfe3e4"/>
<rect x="561.52" y="406.04" width="6.47" height="5.62" fill="#ee2030"/>
<rect x="567.91" y="406.04" width="6.47" height="5.62" fill="#f5ae70"/>
<rect x="574.31" y="406.04" width="6.47" height="5.62" fill="#f06a48"/>
<rect x="380.8" y="406.34" width="6.4" height="4.94" fill="#b5bd61"/>
<rect x="388.9" y="411.57" width="6.47" height="5.62" fill="#9accd2"/>
<rect x="395.29" y="411.57" width="6.47" height="5.62" fill="#a6d3d8"/>
<rect x="401.69" y="411.57" width="6.47" height="5.62" fill="#c8e0e2"/>
<rect x="408.08" y="411.57" width="6.47" height="5.62" fill="#ebeeec"/>
<rect x="414.47" y="411.57" width="6.47" height="5.62" fill="#a6d3d8"/>
<rect x="420.87" y="411.57" width="6.47" height="5.62" fill="#9accd2"/>
<rect x="427.26" y="411.57" width="6.47" height="5.62" fill="#a6d3d8"/>
<rect x="433.65" y="411.57" width="6.47" height="5.62" fill="#9accd2"/>
<rect x="440.05" y="411.57" width="6.47" height="5.62" fill="#9accd2"/>
<rect x="446.44" y="411.57" width="6.47" height="5.62" fill="#2a5f80"/>
<rect x="452.83" y="411.57" width="6.47" height="5.62" fill="#2a5f80"/>
<rect x="459.23" y="411.57" width="6.47" height="5.62" fill="#2a5f80"/>
<rect x="465.62" y="411.57" width="6.47" height="5.62" fill="#2a5f80"/>
<rect x="472.01" y="411.57" width="6.47" height="5.62" fill="#2a5f80"/>
<rect x="478.41" y="411.57" width="6.47" height="5.62" fill="#f17850"/>
<rect x="484.8" y="411.57" width="6.47" height="5.62" fill="#f17850"/>
<rect x="491.19" y="411.57" width="6.47" height="5.62" fill="#f17850"/>
<rect x="497.59" y="411.57" width="6.47" height="5.62" fill="#efe4d1"/>
<rect x="503.98" y="411.57" width="6.47" height="5.62" fill="#f5cd9d"/>
<rect x="510.37" y="411.57" width="6.47" height="5.62" fill="#f49a64"/>
<rect x="516.77" y="411.57" width="6.47" height="5.62" fill="#f5ae70"/>
<rect x="523.16" y="411.57" width="6.47" height="5.62" fill="#ee2030"/>
<rect x="529.55" y="411.57" width="6.47" height="5.62" fill="#ee2030"/>
<rect x="535.95" y="411.57" width="6.47" height="5.62" fill="#ee2030"/>
<rect x="542.34" y="411.57" width="6.47" height="5.62" fill="#a6d3d8"/>
<rect x="548.73" y="411.57" width="6.47" height="5.62" fill="#cfe3e4"/>
<rect x="555.13" y="411.57" width="6.47" height="5.62" fill="#b4d8dc"/>
<rect x="561.52" y="411.57" width="6.47" height="5.62" fill="#f5ae70"/>
<rect x="567.91" y="411.57" width="6.47" height="5.62" fill="#f5d5a8"/>
<rect x="574.31" y="411.57" width="6.47" height="5.62" fill="#f5c28c"/>
<rect x="380.8" y="411.88" width="6.4" height="4.94" fill="#8c564b"/>
<rect x="388.9" y="417.11" width="6.47" height="5.62" fill="#f1dfc3"/>
<rect x="395.29" y="417.11" width="6.47" height="5.62" fill="#f17850"/>
<rect x="401.69" y="417.11" width="6.47" height="5.62" fill="#f28c5c"/>
<rect x="408.08" y="417.11" width="6.47" height="5.62" fill="#b4d8dc"/>
<rect x="414.47" y="417.11" width="6.47" height="5.62" fill="#f17850"/>
<rect x="420.87" y="417.11" width="6.47" height="5.62" fill="#ef5441"/>
<rect x="427.26" y="417.11" width="6.47" height="5.62" fill="#ef5441"/>
<rect x="433.65" y="417.11" width="6.47" height="5.62" fill="#f17850"/>
<rect x="440.05" y="417.11" width="6.47" height="5.62" fill="#f3dab6"/>
<rect x="446.44" y="417.11" width="6.47" height="5.62" fill="#ee2030"/>
<rect x="452.83" y="417.11" width="6.47" height="5.62" fill="#ee2030"/>
<rect x="459.23" y="417.11" width="6.47" height="5.62" fill="#ee2030"/>
<rect x="465.62" y="417.11" width="6.47" height="5.62" fill="#ee2030"/>
<rect x="472.01" y="417.11" width="6.47" height="5.62" fill="#ee2030"/>
<rect x="478.41" y="417.11" width="6.47" height="5.62" fill="#f28c5c"/>
<rect x="484.8" y="417.11" width="6.47" height="5.62" fill="#f49a64"/>
<rect x="491.19" y="417.11" width="6.47" height="5.62" fill="#f49a64"/>
<rect x="497.59" y="417.11" width="6.47" height="5.62" fill="#efe4d1"/>
<rect x="503.98" y="417.11" width="6.47" height="5.62" fill="#efe4d1"/>
<rect x="510.37" y="417.11" width="6.47" height="5.62" fill="#f5d5a8"/>
<rect x="516.77" y="417.11" width="6.47" height="5.62" fill="#9accd2"/>
<rect x="523.16" y="417.11" width="6.47" height="5.62" fill="#2a5f80"/>
<rect x="529.55" y="417.11" width="6.47" height="5.62" fill="#2a5f80"/>
<rect x="535.95" y="417.11" width="6.47" height="5.62" fill="#2a5f80"/>
<rect x="542.34" y="417.11" width="6.47" height="5.62" fill="#a6d3d8"/>
<rect x="548.73" y="417.11" width="6.47" height="5.62" fill="#9accd2"/>
<rect x="555.13" y="417.11" width="6.47" height="5.62" fill="#a6d3d8"/>
<rect x="561.52" y="417.11" width="6.47" height="5.62" fill="#a6d3d8"/>
<rect x="567.91" y="417.11" width="6.47" height="5.62" fill="#6aaebb"/>
<rect x="574.31" y="417.11" width="6.47" height="5.62" fill="#4c8da3"/>
<rect x="380.8" y="417.41" width="6.4" height="4.94" fill="#d474c0"/>
<rect x="388.9" y="422.65" width="6.47" height="5.62" fill="#f5ae70"/>
<rect x="395.29" y="422.65" width="6.47" height="5.62" fill="#ef4c3e"/>
<rect x="401.69" y="422.65" width="6.47" height="5.62" fill="#f17850"/>
<rect x="408.08" y="422.65" width="6.47" height="5.62" fill="#ef5441"/>
<rect x="414.47" y="422.65" width="6.47" height="5.62" fill="#ee2f35"/>
<rect x="420.87" y="422.65" width="6.47" height="5.62" fill="#ee2030"/>
<rect x="427.26" y="422.65" width="6.47" height="5.62" fill="#ee2030"/>
<rect x="433.65" y="422.65" width="6.47" height="5.62" fill="#ee2030"/>
<rect x="440.05" y="422.65" width="6.47" height="5.62" fill="#ee2030"/>
<rect x="446.44" y="422.65" width="6.47" height="5.62" fill="#ee2030"/>
<rect x="452.83" y="422.65" width="6.47" height="5.62" fill="#ee2030"/>
<rect x="459.23" y="422.65" width="6.47" height="5.62" fill="#ee2030"/>
<rect x="465.62" y="422.65" width="6.47" height="5.62" fill="#ee2030"/>
<rect x="472.01" y="422.65" width="6.47" height="5.62" fill="#ee2030"/>
<rect x="478.41" y="422.65" width="6.47" height="5.62" fill="#4c8da3"/>
<rect x="484.8" y="422.65" width="6.47" height="5.62" fill="#4c8da3"/>
<rect x="491.19" y="422.65" width="6.47" height="5.62" fill="#4c8da3"/>
<rect x="497.59" y="422.65" width="6.47" height="5.62" fill="#88c0ca"/>
<rect x="503.98" y="422.65" width="6.47" height="5.62" fill="#efe4d1"/>
<rect x="510.37" y="422.65" width="6.47" height="5.62" fill="#bbdbde"/>
<rect x="516.77" y="422.65" width="6.47" height="5.62" fill="#9accd2"/>
<rect x="523.16" y="422.65" width="6.47" height="5.62" fill="#599bad"/>
<rect x="529.55" y="422.65" width="6.47" height="5.62" fill="#2a5f80"/>
<rect x="535.95" y="422.65" width="6.47" height="5.62" fill="#2a5f80"/>
<rect x="542.34" y="422.65" width="6.47" height="5.62" fill="#88c0ca"/>
<rect x="548.73" y="422.65" width="6.47" height="5.62" fill="#a6d3d8"/>
<rect x="555.13" y="422.65" width="6.47" height="5.62" fill="#a6d3d8"/>
<rect x="561.52" y="422.65" width="6.47" height="5.62" fill="#2a5f80"/>
<rect x="567.91" y="422.65" width="6.47" height="5.62" fill="#599bad"/>
<rect x="574.31" y="422.65" width="6.47" height="5.62" fill="#2a5f80"/>
<rect x="380.8" y="422.95" width="6.4" height="4.94" fill="#279e68"/>
<rect x="388.9" y="428.19" width="6.47" height="5.62" fill="#f49a64"/>
<rect x="395.29" y="428.19" width="6.47" height="5.62" fill="#f06a48"/>
<rect x="401.69" y="428.19" width="6.47" height="5.62" fill="#f27e54"/>
<rect x="408.08" y="428.19" width="6.47" height="5.62" fill="#f27e54"/>
<rect x="414.47" y="428.19" width="6.47" height="5.62" fill="#f06a48"/>
<rect x="420.87" y="428.19" width="6.47" height="5.62" fill="#ee2030"/>
<rect x="427.26" y="428.19" width="6.47" height="5.62" fill="#ee2030"/>
<rect x="433.65" y="428.19" width="6.47" height="5.62" fill="#ef453c"/>
<rect x="440.05" y="428.19" width="6.47" height="5.62" fill="#f5c28c"/>
<rect x="446.44" y="428.19" width="6.47" height="5.62" fill="#ee2030"/>
<rect x="452.83" y="428.19" width="6.47" height="5.62" fill="#ee2030"/>
<rect x="459.23" y="428.19" width="6.47" height="5.62" fill="#ee2030"/>
<rect x="465.62" y="428.19" width="6.47" height="5.62" fill="#ee2030"/>
<rect x="472.01" y="428.19" width="6.47" height="5.62" fill="#f06a48"/>
<rect x="478.41" y="428.19" width="6.47" height="5.62" fill="#3f7f99"/>
<rect x="484.8" y="428.19" width="6.47" height="5.62" fill="#3f7f99"/>
<rect x="491.19" y="428.19" width="6.47" height="5.62" fill="#37728f"/>
<rect x="497.59" y="428.19" width="6.47" height="5.62" fill="#88c0ca"/>
<rect x="503.98" y="428.19" width="6.47" height="5.62" fill="#c8e0e2"/>
<rect x="510.37" y="428.19" width="6.47" height="5.62" fill="#cfe3e4"/>
<rect x="516.77" y="428.19" width="6.47" height="5.62" fill="#6aaebb"/>
<rect x="523.16" y="428.19" width="6.47" height="5.62" fill="#2a5f80"/>
<rect x="529.55" y="428.19" width="6.47" height="5.62" fill="#2a5f80"/>
<rect x="535.95" y="428.19" width="6.47" height="5.62" fill="#2a5f80"/>
<rect x="542.34" y="428.19" width="6.47" height="5.62" fill="#a6d3d8"/>
<rect x="548.73" y="428.19" width="6.47" height="5.62" fill="#6aaebb"/>
<rect x="555.13" y="428.19" width="6.47" height="5.62" fill="#88c0ca"/>
<rect x="561.52" y="428.19" width="6.47" height="5.62" fill="#2a5f80"/>
<rect x="567.91" y="428.19" width="6.47" height="5.62" fill="#3f7f99"/>
<rect x="574.31" y="428.19" width="6.47" height="5.62" fill="#2a5f80"/>
<rect x="380.8" y="428.49" width="6.4" height="4.94" fill="#d62728"/>
<rect x="388.9" y="433.73" width="6.47" height="5.62" fill="#f27e54"/>
<rect x="395.29" y="433.73" width="6.47" height="5.62" fill="#f3dab6"/>
<rect x="401.69" y="433.73" width="6.47" height="5.62" fill="#f5c28c"/>
<rect x="408.08" y="433.73" width="6.47" height="5.62" fill="#f27e54"/>
<rect x="414.47" y="433.73" width="6.47" height="5.62" fill="#d6e6e6"/>
<rect x="420.87" y="433.73" width="6.47" height="5.62" fill="#f5c28c"/>
<rect x="427.26" y="433.73" width="6.47" height="5.62" fill="#f5c28c"/>
<rect x="433.65" y="433.73" width="6.47" height="5.62" fill="#f5c28c"/>
<rect x="440.05" y="433.73" width="6.47" height="5.62" fill="#ef4c3e"/>
<rect x="446.44" y="433.73" width="6.47" height="5.62" fill="#ee2030"/>
<rect x="452.83" y="433.73" width="6.47" height="5.62" fill="#ee2030"/>
<rect x="459.23" y="433.73" width="6.47" height="5.62" fill="#f05b43"/>
<rect x="465.62" y="433.73" width="6.47" height="5.62" fill="#f27e54"/>
<rect x="472.01" y="433.73" width="6.47" height="5.62" fill="#f5ae70"/>
<rect x="478.41" y="433.73" width="6.47" height="5.62" fill="#4c8da3"/>
<rect x="484.8" y="433.73" width="6.47" height="5.62" fill="#4c8da3"/>
<rect x="491.19" y="433.73" width="6.47" height="5.62" fill="#3f7f99"/>
<rect x="497.59" y="433.73" width="6.47" height="5.62" fill="#f5d5a8"/>
<rect x="503.98" y="433.73" width="6.47" height="5.62" fill="#b4d8dc"/>
<rect x="510.37" y="433.73" width="6.47" height="5.62" fill="#6aaebb"/>
<rect x="516.77" y="433.73" width="6.47" height="5.62" fill="#599bad"/>
<rect x="523.16" y="433.73" width="6.47" height="5.62" fill="#2a5f80"/>
<rect x="529.55" y="433.73" width="6.47" height="5.62" fill="#2a5f80"/>
<rect x="535.95" y="433.73" width="6.47" height="5.62" fill="#2a5f80"/>
<rect x="542.34" y="433.73" width="6.47" height="5.62" fill="#6aaebb"/>
<rect x="548.73" y="433.73" width="6.47" height="5.62" fill="#cfe3e4"/>
<rect x="555.13" y="433.73" width="6.47" height="5.62" fill="#cfe3e4"/>
<rect x="561.52" y="433.73" width="6.47" height="5.62" fill="#2a5f80"/>
<rect x="567.91" y="433.73" width="6.47" height="5.62" fill="#3f7f99"/>
<rect x="574.31" y="433.73" width="6.47" height="5.62" fill="#2a5f80"/>
<rect x="380.8" y="434.03" width="6.4" height="4.94" fill="#ff7f0e"/>
<rect x="388.9" y="439.26" width="6.47" height="5.62" fill="#ebeeec"/>
<rect x="395.29" y="439.26" width="6.47" height="5.62" fill="#9accd2"/>
<rect x="401.69" y="439.26" width="6.47" height="5.62" fill="#a6d3d8"/>
<rect x="408.08" y="439.26" width="6.47" height="5.62" fill="#88c0ca"/>
<rect x="414.47" y="439.26" width="6.47" height="5.62" fill="#6aaebb"/>
<rect x="420.87" y="439.26" width="6.47" height="5.62" fill="#88c0ca"/>
<rect x="427.26" y="439.26" width="6.47" height="5.62" fill="#6aaebb"/>
<rect x="433.65" y="439.26" width="6.47" height="5.62" fill="#a6d3d8"/>
<rect x="440.05" y="439.26" width="6.47" height="5.62" fill="#9accd2"/>
<rect x="446.44" y="439.26" width="6.47" height="5.62" fill="#ee2030"/>
<rect x="452.83" y="439.26" width="6.47" height="5.62" fill="#ee2030"/>
<rect x="459.23" y="439.26" width="6.47" height="5.62" fill="#ee2030"/>
<rect x="465.62" y="439.26" width="6.47" height="5.62" fill="#f27e54"/>
<rect x="472.01" y="439.26" width="6.47" height="5.62" fill="#f3dab6"/>
<rect x="478.41" y="439.26" width="6.47" height="5.62" fill="#2a5f80"/>
<rect x="484.8" y="439.26" width="6.47" height="5.62" fill="#2a5f80"/>
<rect x="491.19" y="439.26" width="6.47" height="5.62" fill="#2a5f80"/>
<rect x="497.59" y="439.26" width="6.47" height="5.62" fill="#f5c28c"/>
<rect x="503.98" y="439.26" width="6.47" height="5.62" fill="#ebeeec"/>
<rect x="510.37" y="439.26" width="6.47" height="5.62" fill="#f1dfc3"/>
<rect x="516.77" y="439.26" width="6.47" height="5.62" fill="#599bad"/>
<rect x="523.16" y="439.26" width="6.47" height="5.62" fill="#2a5f80"/>
<rect x="529.55" y="439.26" width="6.47" height="5.62" fill="#2a5f80"/>
<rect x="535.95" y="439.26" width="6.47" height="5.62" fill="#2a5f80"/>
<rect x="542.34" y="439.26" width="6.47" height="5.62" fill="#a6d3d8"/>
<rect x="548.73" y="439.26" width="6.47" height="5.62" fill="#6aaebb"/>
<rect x="555.13" y="439.26" width="6.47" height="5.62" fill="#88c0ca"/>
<rect x="561.52" y="439.26" width="6.47" height="5.62" fill="#2a5f80"/>
<rect x="567.91" y="439.26" width="6.47" height="5.62" fill="#4c8da3"/>
<rect x="574.31" y="439.26" width="6.47" height="5.62" fill="#2a5f80"/>
<rect x="380.8" y="439.56" width="6.4" height="4.94" fill="#7f7f7f"/>
<rect x="388.9" y="400.5" width="191.8" height="44.3" fill="none" stroke="#7a7a7a" stroke-width=".8"/>
<rect x="380.3" y="400.5" width="7.2" height="44.3" fill="none" stroke="#7a7a7a" stroke-width=".6"/>
<rect x="388.9" y="343.2" width="6.47" height="5" fill="#2e9060"/>
<rect x="395.29" y="343.2" width="6.47" height="5" fill="#2e9060"/>
<rect x="401.69" y="343.2" width="6.47" height="5" fill="#2e9060"/>
<rect x="408.08" y="343.2" width="6.47" height="5" fill="#2e9060"/>
<rect x="414.47" y="343.2" width="6.47" height="5" fill="#d85a48"/>
<rect x="420.87" y="343.2" width="6.47" height="5" fill="#2e9060"/>
<rect x="427.26" y="343.2" width="6.47" height="5" fill="#2e9060"/>
<rect x="433.65" y="343.2" width="6.47" height="5" fill="#2e9060"/>
<rect x="440.05" y="343.2" width="6.47" height="5" fill="#d85a48"/>
<rect x="446.44" y="343.2" width="6.47" height="5" fill="#e07028"/>
<rect x="452.83" y="343.2" width="6.47" height="5" fill="#e07028"/>
<rect x="459.23" y="343.2" width="6.47" height="5" fill="#e8902a"/>
<rect x="465.62" y="343.2" width="6.47" height="5" fill="#e8902a"/>
<rect x="472.01" y="343.2" width="6.47" height="5" fill="#e8902a"/>
<rect x="478.41" y="343.2" width="6.47" height="5" fill="#e8a828"/>
<rect x="484.8" y="343.2" width="6.47" height="5" fill="#e8a828"/>
<rect x="491.19" y="343.2" width="6.47" height="5" fill="#e8a828"/>
<rect x="497.59" y="343.2" width="6.47" height="5" fill="#a8b040"/>
<rect x="503.98" y="343.2" width="6.47" height="5" fill="#3aa8a8"/>
<rect x="510.37" y="343.2" width="6.47" height="5" fill="#60b050"/>
<rect x="516.77" y="343.2" width="6.47" height="5" fill="#60b050"/>
<rect x="523.16" y="343.2" width="6.47" height="5" fill="#2e9060"/>
<rect x="529.55" y="343.2" width="6.47" height="5" fill="#30a088"/>
<rect x="535.95" y="343.2" width="6.47" height="5" fill="#30a088"/>
<rect x="542.34" y="343.2" width="6.47" height="5" fill="#3aa8a8"/>
<rect x="548.73" y="343.2" width="6.47" height="5" fill="#5a4aa8"/>
<rect x="555.13" y="343.2" width="6.47" height="5" fill="#5a4aa8"/>
<rect x="561.52" y="343.2" width="6.47" height="5" fill="#2f86a8"/>
<rect x="567.91" y="343.2" width="6.47" height="5" fill="#3a66a0"/>
<rect x="574.31" y="343.2" width="6.47" height="5" fill="#5a4aa8"/>
<rect x="388.9" y="343.2" width="191.8" height="5" fill="none" stroke="#7a7a7a" stroke-width=".6"/>
<rect x="388.9" y="394.4" width="6.47" height="5" fill="#2e9060"/>
<rect x="395.29" y="394.4" width="6.47" height="5" fill="#2e9060"/>
<rect x="401.69" y="394.4" width="6.47" height="5" fill="#2e9060"/>
<rect x="408.08" y="394.4" width="6.47" height="5" fill="#2e9060"/>
<rect x="414.47" y="394.4" width="6.47" height="5" fill="#d85a48"/>
<rect x="420.87" y="394.4" width="6.47" height="5" fill="#2e9060"/>
<rect x="427.26" y="394.4" width="6.47" height="5" fill="#2e9060"/>
<rect x="433.65" y="394.4" width="6.47" height="5" fill="#2e9060"/>
<rect x="440.05" y="394.4" width="6.47" height="5" fill="#d85a48"/>
<rect x="446.44" y="394.4" width="6.47" height="5" fill="#e07028"/>
<rect x="452.83" y="394.4" width="6.47" height="5" fill="#e07028"/>
<rect x="459.23" y="394.4" width="6.47" height="5" fill="#e8902a"/>
<rect x="465.62" y="394.4" width="6.47" height="5" fill="#e8902a"/>
<rect x="472.01" y="394.4" width="6.47" height="5" fill="#e8902a"/>
<rect x="478.41" y="394.4" width="6.47" height="5" fill="#e8a828"/>
<rect x="484.8" y="394.4" width="6.47" height="5" fill="#e8a828"/>
<rect x="491.19" y="394.4" width="6.47" height="5" fill="#e8a828"/>
<rect x="497.59" y="394.4" width="6.47" height="5" fill="#a8b040"/>
<rect x="503.98" y="394.4" width="6.47" height="5" fill="#3aa8a8"/>
<rect x="510.37" y="394.4" width="6.47" height="5" fill="#60b050"/>
<rect x="516.77" y="394.4" width="6.47" height="5" fill="#60b050"/>
<rect x="523.16" y="394.4" width="6.47" height="5" fill="#2e9060"/>
<rect x="529.55" y="394.4" width="6.47" height="5" fill="#30a088"/>
<rect x="535.95" y="394.4" width="6.47" height="5" fill="#30a088"/>
<rect x="542.34" y="394.4" width="6.47" height="5" fill="#3aa8a8"/>
<rect x="548.73" y="394.4" width="6.47" height="5" fill="#5a4aa8"/>
<rect x="555.13" y="394.4" width="6.47" height="5" fill="#5a4aa8"/>
<rect x="561.52" y="394.4" width="6.47" height="5" fill="#2f86a8"/>
<rect x="567.91" y="394.4" width="6.47" height="5" fill="#3a66a0"/>
<rect x="574.31" y="394.4" width="6.47" height="5" fill="#5a4aa8"/>
<rect x="388.9" y="394.4" width="191.8" height="5" fill="none" stroke="#7a7a7a" stroke-width=".6"/>
<line x1="392.1" y1="348.6" x2="392.1" y2="354.4" stroke="#666" stroke-width=".5"/>
<line x1="392.1" y1="388.6" x2="392.1" y2="393.8" stroke="#666" stroke-width=".5"/>
<text transform="translate(394.5,371.4) rotate(-90)" font-size="7" text-anchor="middle" font-style="italic">NKX2-2</text>
<line x1="398.49" y1="348.6" x2="398.49" y2="354.4" stroke="#666" stroke-width=".5"/>
<line x1="398.49" y1="388.6" x2="398.49" y2="393.8" stroke="#666" stroke-width=".5"/>
<text transform="translate(400.89,371.4) rotate(-90)" font-size="7" text-anchor="middle" font-style="italic">ARX</text>
<line x1="404.88" y1="348.6" x2="404.88" y2="354.4" stroke="#666" stroke-width=".5"/>
<line x1="404.88" y1="388.6" x2="404.88" y2="393.8" stroke="#666" stroke-width=".5"/>
<text transform="translate(407.28,371.4) rotate(-90)" font-size="7" text-anchor="middle" font-style="italic">NKX6-1</text>
<line x1="411.28" y1="348.6" x2="411.28" y2="354.4" stroke="#666" stroke-width=".5"/>
<line x1="411.28" y1="388.6" x2="411.28" y2="393.8" stroke="#666" stroke-width=".5"/>
<text transform="translate(413.68,371.4) rotate(-90)" font-size="7" text-anchor="middle">ISL1</text>
<line x1="417.67" y1="348.6" x2="417.67" y2="354.4" stroke="#666" stroke-width=".5"/>
<line x1="417.67" y1="388.6" x2="417.67" y2="393.8" stroke="#666" stroke-width=".5"/>
<text transform="translate(420.07,371.4) rotate(-90)" font-size="7" text-anchor="middle" font-style="italic">PAX4</text>
<line x1="424.06" y1="348.6" x2="424.06" y2="354.4" stroke="#666" stroke-width=".5"/>
<line x1="424.06" y1="388.6" x2="424.06" y2="393.8" stroke="#666" stroke-width=".5"/>
<text transform="translate(426.46,371.4) rotate(-90)" font-size="7" text-anchor="middle">LMX1B</text>
<line x1="430.46" y1="348.6" x2="430.46" y2="354.4" stroke="#666" stroke-width=".5"/>
<line x1="430.46" y1="388.6" x2="430.46" y2="393.8" stroke="#666" stroke-width=".5"/>
<text transform="translate(432.86,371.4) rotate(-90)" font-size="7" text-anchor="middle" font-style="italic">MNX1</text>
<line x1="436.85" y1="348.6" x2="436.85" y2="354.4" stroke="#666" stroke-width=".5"/>
<line x1="436.85" y1="388.6" x2="436.85" y2="393.8" stroke="#666" stroke-width=".5"/>
<text transform="translate(439.25,371.4) rotate(-90)" font-size="7" text-anchor="middle">PDX1</text>
<line x1="443.24" y1="348.6" x2="443.24" y2="354.4" stroke="#666" stroke-width=".5"/>
<line x1="443.24" y1="388.6" x2="443.24" y2="393.8" stroke="#666" stroke-width=".5"/>
<text transform="translate(445.64,371.4) rotate(-90)" font-size="7" text-anchor="middle" font-style="italic">PAX6</text>
<line x1="449.64" y1="348.6" x2="449.64" y2="354.4" stroke="#666" stroke-width=".5"/>
<line x1="449.64" y1="388.6" x2="449.64" y2="393.8" stroke="#666" stroke-width=".5"/>
<text transform="translate(452.04,371.4) rotate(-90)" font-size="7" text-anchor="middle" font-style="italic">RFX6</text>
<line x1="456.03" y1="348.6" x2="456.03" y2="354.4" stroke="#666" stroke-width=".5"/>
<line x1="456.03" y1="388.6" x2="456.03" y2="393.8" stroke="#666" stroke-width=".5"/>
<text transform="translate(458.43,371.4) rotate(-90)" font-size="7" text-anchor="middle" font-style="italic">RFX3</text>
<line x1="462.42" y1="348.6" x2="462.42" y2="354.4" stroke="#666" stroke-width=".5"/>
<line x1="462.42" y1="388.6" x2="462.42" y2="393.8" stroke="#666" stroke-width=".5"/>
<text transform="translate(464.82,371.4) rotate(-90)" font-size="7" text-anchor="middle">NEUROG3</text>
<line x1="468.82" y1="348.6" x2="468.82" y2="354.4" stroke="#666" stroke-width=".5"/>
<line x1="468.82" y1="388.6" x2="468.82" y2="393.8" stroke="#666" stroke-width=".5"/>
<text transform="translate(471.22,371.4) rotate(-90)" font-size="7" text-anchor="middle">NEUROD1</text>
<line x1="475.21" y1="348.6" x2="475.21" y2="354.4" stroke="#666" stroke-width=".5"/>
<line x1="475.21" y1="388.6" x2="475.21" y2="393.8" stroke="#666" stroke-width=".5"/>
<text transform="translate(477.61,371.4) rotate(-90)" font-size="7" text-anchor="middle">ASCL2</text>
<line x1="481.6" y1="348.6" x2="481.6" y2="354.4" stroke="#666" stroke-width=".5"/>
<line x1="481.6" y1="388.6" x2="481.6" y2="393.8" stroke="#666" stroke-width=".5"/>
<text transform="translate(484,371.4) rotate(-90)" font-size="7" text-anchor="middle" font-style="italic">NFIB</text>
<line x1="488" y1="348.6" x2="488" y2="354.4" stroke="#666" stroke-width=".5"/>
<line x1="488" y1="388.6" x2="488" y2="393.8" stroke="#666" stroke-width=".5"/>
<text transform="translate(490.4,371.4) rotate(-90)" font-size="7" text-anchor="middle" font-style="italic">NFIA</text>
<line x1="494.39" y1="348.6" x2="494.39" y2="354.4" stroke="#666" stroke-width=".5"/>
<line x1="494.39" y1="388.6" x2="494.39" y2="393.8" stroke="#666" stroke-width=".5"/>
<text transform="translate(496.79,371.4) rotate(-90)" font-size="7" text-anchor="middle" font-style="italic">NFIX</text>
<line x1="500.78" y1="348.6" x2="500.78" y2="354.4" stroke="#666" stroke-width=".5"/>
<line x1="500.78" y1="388.6" x2="500.78" y2="393.8" stroke="#666" stroke-width=".5"/>
<text transform="translate(503.18,371.4) rotate(-90)" font-size="7" text-anchor="middle" font-style="italic">GATA6</text>
<line x1="507.18" y1="348.6" x2="507.18" y2="354.4" stroke="#666" stroke-width=".5"/>
<line x1="507.18" y1="388.6" x2="507.18" y2="393.8" stroke="#666" stroke-width=".5"/>
<text transform="translate(509.58,371.4) rotate(-90)" font-size="7" text-anchor="middle" font-style="italic">GLIS3</text>
<line x1="513.57" y1="348.6" x2="513.57" y2="354.4" stroke="#666" stroke-width=".5"/>
<line x1="513.57" y1="388.6" x2="513.57" y2="393.8" stroke="#666" stroke-width=".5"/>
<text transform="translate(515.97,371.4) rotate(-90)" font-size="7" text-anchor="middle" font-style="italic">SOX9</text>
<line x1="519.96" y1="348.6" x2="519.96" y2="354.4" stroke="#666" stroke-width=".5"/>
<line x1="519.96" y1="388.6" x2="519.96" y2="393.8" stroke="#666" stroke-width=".5"/>
<text transform="translate(522.36,371.4) rotate(-90)" font-size="7" text-anchor="middle" font-style="italic">TCF7L2</text>
<line x1="526.36" y1="348.6" x2="526.36" y2="354.4" stroke="#666" stroke-width=".5"/>
<line x1="526.36" y1="388.6" x2="526.36" y2="393.8" stroke="#666" stroke-width=".5"/>
<text transform="translate(528.76,371.4) rotate(-90)" font-size="7" text-anchor="middle" font-style="italic">HNF1A</text>
<line x1="532.75" y1="348.6" x2="532.75" y2="354.4" stroke="#666" stroke-width=".5"/>
<line x1="532.75" y1="388.6" x2="532.75" y2="393.8" stroke="#666" stroke-width=".5"/>
<text transform="translate(535.15,371.4) rotate(-90)" font-size="7" text-anchor="middle" font-style="italic">TEAD1</text>
<line x1="539.14" y1="348.6" x2="539.14" y2="354.4" stroke="#666" stroke-width=".5"/>
<line x1="539.14" y1="388.6" x2="539.14" y2="393.8" stroke="#666" stroke-width=".5"/>
<text transform="translate(541.54,371.4) rotate(-90)" font-size="7" text-anchor="middle" font-style="italic">TEAD4</text>
<line x1="545.54" y1="348.6" x2="545.54" y2="354.4" stroke="#666" stroke-width=".5"/>
<line x1="545.54" y1="388.6" x2="545.54" y2="393.8" stroke="#666" stroke-width=".5"/>
<text transform="translate(547.94,371.4) rotate(-90)" font-size="7" text-anchor="middle">CTCF</text>
<line x1="551.93" y1="348.6" x2="551.93" y2="354.4" stroke="#666" stroke-width=".5"/>
<line x1="551.93" y1="388.6" x2="551.93" y2="393.8" stroke="#666" stroke-width=".5"/>
<text transform="translate(554.33,371.4) rotate(-90)" font-size="7" text-anchor="middle" font-style="italic">HNF4G</text>
<line x1="558.32" y1="348.6" x2="558.32" y2="354.4" stroke="#666" stroke-width=".5"/>
<line x1="558.32" y1="388.6" x2="558.32" y2="393.8" stroke="#666" stroke-width=".5"/>
<text transform="translate(560.72,371.4) rotate(-90)" font-size="7" text-anchor="middle" font-style="italic">HNF4A</text>
<line x1="564.72" y1="348.6" x2="564.72" y2="354.4" stroke="#666" stroke-width=".5"/>
<line x1="564.72" y1="388.6" x2="564.72" y2="393.8" stroke="#666" stroke-width=".5"/>
<text transform="translate(567.12,371.4) rotate(-90)" font-size="7" text-anchor="middle" font-style="italic">ONECUT1</text>
<line x1="571.11" y1="348.6" x2="571.11" y2="354.4" stroke="#666" stroke-width=".5"/>
<line x1="571.11" y1="388.6" x2="571.11" y2="393.8" stroke="#666" stroke-width=".5"/>
<text transform="translate(573.51,371.4) rotate(-90)" font-size="7" text-anchor="middle" font-style="italic">RBPJ</text>
<line x1="577.5" y1="348.6" x2="577.5" y2="354.4" stroke="#666" stroke-width=".5"/>
<line x1="577.5" y1="388.6" x2="577.5" y2="393.8" stroke="#666" stroke-width=".5"/>
<text transform="translate(579.9,371.4) rotate(-90)" font-size="7" text-anchor="middle" font-style="italic">NR5A2</text>
<text x="614.6" y="311.6" font-size="7" text-anchor="middle" fill="#333">ChromVAR</text>
<text x="616.8" y="317.8" font-size="7" text-anchor="middle" fill="#333">Deviation z−Score</text>
<defs><linearGradient id="zsc" x1="0" y1="0" x2="1" y2="0"><stop offset="0" stop-color="#2a5f80"/><stop offset=".125" stop-color="#3f7f99"/><stop offset=".25" stop-color="#6aaebb"/><stop offset=".375" stop-color="#a6d3d8"/><stop offset=".5" stop-color="#ebeeec"/><stop offset=".625" stop-color="#f5d5a8"/><stop offset=".75" stop-color="#f5ae70"/><stop offset=".875" stop-color="#f06a48"/><stop offset="1" stop-color="#ee2030"/></linearGradient></defs>
<rect x="591.8" y="320.4" width="48" height="6.4" fill="url(#zsc)" stroke="#333" stroke-width=".4"/>
<line x1="604.4" y1="320.4" x2="604.4" y2="321.4" stroke="#222" stroke-width=".4"/><line x1="604.4" y1="325.8" x2="604.4" y2="326.8" stroke="#222" stroke-width=".4"/>
<line x1="615.6" y1="320.4" x2="615.6" y2="321.4" stroke="#222" stroke-width=".4"/><line x1="615.6" y1="325.8" x2="615.6" y2="326.8" stroke="#222" stroke-width=".4"/>
<line x1="626.5" y1="320.4" x2="626.5" y2="321.4" stroke="#222" stroke-width=".4"/><line x1="626.5" y1="325.8" x2="626.5" y2="326.8" stroke="#222" stroke-width=".4"/>
<text transform="translate(591.2,328.4) rotate(90)" font-size="6.6" fill="#333">−3</text>
<text transform="translate(602.1,328.4) rotate(90)" font-size="6.6" fill="#333">−1.5</text>
<text transform="translate(613.3,328.4) rotate(90)" font-size="6.6" fill="#333">0</text>
<text transform="translate(624.2,328.4) rotate(90)" font-size="6.6" fill="#333">1.5</text>
<text transform="translate(635.4,328.4) rotate(90)" font-size="6.6" fill="#333">3</text>
<rect x="598.1" y="361.4" width="5.7" height="6.23" fill="#e8902a"/>
<text x="606.8" y="366.99" font-size="6.8" fill="#222">bHLH</text>
<rect x="598.1" y="367.57" width="5.7" height="6.23" fill="#3aa8a8"/>
<text x="606.8" y="373.16" font-size="6.8" fill="#222">C2H2 ZF</text>
<rect x="598.1" y="373.75" width="5.7" height="6.23" fill="#3a66a0"/>
<text x="606.8" y="379.34" font-size="6.8" fill="#222">CSL</text>
<rect x="598.1" y="379.92" width="5.7" height="6.23" fill="#2f86a8"/>
<text x="606.8" y="385.51" font-size="6.8" fill="#222">CUT,Homeodomain</text>
<rect x="598.1" y="386.1" width="5.7" height="6.23" fill="#a8b040"/>
<text x="606.8" y="391.69" font-size="6.8" fill="#222">GATA</text>
<rect x="598.1" y="392.27" width="5.7" height="6.23" fill="#2e9060"/>
<text x="606.8" y="397.86" font-size="6.8" fill="#222">Homeodomain</text>
<rect x="598.1" y="398.45" width="5.7" height="6.23" fill="#d85a48"/>
<text x="606.8" y="404.04" font-size="6.8" fill="#222">Homeodomain,Paired box</text>
<rect x="598.1" y="404.62" width="5.7" height="6.23" fill="#5a4aa8"/>
<text x="606.8" y="410.21" font-size="6.8" fill="#222">Nuclear receptor</text>
<rect x="598.1" y="410.8" width="5.7" height="6.23" fill="#e07028"/>
<text x="606.8" y="416.39" font-size="6.8" fill="#222">RFX</text>
<rect x="598.1" y="416.98" width="5.7" height="6.23" fill="#e8a828"/>
<text x="606.8" y="422.56" font-size="6.8" fill="#222">SMAD</text>
<rect x="598.1" y="423.15" width="5.7" height="6.23" fill="#60b050"/>
<text x="606.8" y="428.74" font-size="6.8" fill="#222">Sox</text>
<rect x="598.1" y="429.32" width="5.7" height="6.23" fill="#30a088"/>
<text x="606.8" y="434.91" font-size="6.8" fill="#222">TEA</text>
<rect x="598.1" y="361.4" width="5.7" height="74.1" fill="none" stroke="#555" stroke-width=".5"/>
<text transform="translate(595.6,398.5) rotate(-90)" font-size="7" text-anchor="middle" fill="#222">Transcription Factor Class</text>
<g fill="#6d6e70" transform="translate(369.2,306) scale(.68)"><circle cx="0" cy="2.3" r="2.35"/><path d="M.8 4.2 L1 5.6 L4.2 6.2 L5.2 7 L5.8 9 L6.6 14.4 L7.5 18.6 L7.6 20.3 L6.8 21 L6.1 20 L5.3 14.9 L4.6 11 L4.1 15.2 L4.2 20.8 L3.6 28 L3.2 35.6 L2.9 36.8 L.9 36.8 L.8 28.5 L.35 22.6 L0 22.4 L0 22.4 L-.35 22.6 L-.8 28.5 L-.9 36.8 L-2.9 36.8 L-3.2 35.6 L-3.6 28 L-4.2 20.8 L-4.1 15.2 L-4.6 11 L-5.3 14.9 L-6.1 20 L-6.8 21 L-7.6 20.3 L-7.5 18.6 L-6.6 14.4 L-5.8 9 L-5.2 7 L-4.2 6.2 L-1 5.6 L-.8 4.2Z"/></g>
<g fill="#6d6e70" transform="translate(353.08,353.19) scale(.65)"><path d="M11.5 105.4 C13 103.6 17 103.3 21 103.4 C25 103.4 29 103.4 31.5 104.2 L33.6 105 L35.6 104.3 L35.4 105.9 C36.3 107 37 108.3 37.8 109.8 C37.9 110.7 37.4 111.2 36.2 111.2 C34.8 111.3 33.6 112 32.6 112.3 C31.6 112.6 30.6 112.6 30.2 112.8 L29.9 117.8 L27.2 117.8 L26.9 113.3 C23.5 113.6 19.5 113.6 16.2 113.1 L15.8 117.8 L13.1 117.8 L12.7 112.4 C11.5 111.5 10.9 110 10.9 108.3 C10.8 107.2 11 106.2 11.5 105.4Z"/><path d="M11.6 105.6 Q10.2 104.8 9.1 103.1" fill="none" stroke="#6d6e70" stroke-width=".9"/></g>
<text x="-.9" y="460.6" font-size="10" font-weight="bold">f</text>
<g fill="#6d6e70" transform="translate(23.25,451.5) scale(1)"><circle cx="0" cy="2.3" r="2.35"/><path d="M.8 4.2 L1 5.6 L4.2 6.2 L5.2 7 L5.8 9 L6.6 14.4 L7.5 18.6 L7.6 20.3 L6.8 21 L6.1 20 L5.3 14.9 L4.6 11 L4.1 15.2 L4.2 20.8 L3.6 28 L3.2 35.6 L2.9 36.8 L.9 36.8 L.8 28.5 L.35 22.6 L0 22.4 L0 22.4 L-.35 22.6 L-.8 28.5 L-.9 36.8 L-2.9 36.8 L-3.2 35.6 L-3.6 28 L-4.2 20.8 L-4.1 15.2 L-4.6 11 L-5.3 14.9 L-6.1 20 L-6.8 21 L-7.6 20.3 L-7.5 18.6 L-6.6 14.4 L-5.8 9 L-5.2 7 L-4.2 6.2 L-1 5.6 L-.8 4.2Z"/></g>
<g fill="#6d6e70" transform="translate(374.02,353.04) scale(1.02)"><path d="M11.5 105.4 C13 103.6 17 103.3 21 103.4 C25 103.4 29 103.4 31.5 104.2 L33.6 105 L35.6 104.3 L35.4 105.9 C36.3 107 37 108.3 37.8 109.8 C37.9 110.7 37.4 111.2 36.2 111.2 C34.8 111.3 33.6 112 32.6 112.3 C31.6 112.6 30.6 112.6 30.2 112.8 L29.9 117.8 L27.2 117.8 L26.9 113.3 C23.5 113.6 19.5 113.6 16.2 113.1 L15.8 117.8 L13.1 117.8 L12.7 112.4 C11.5 111.5 10.9 110 10.9 108.3 C10.8 107.2 11 106.2 11.5 105.4Z"/><path d="M11.6 105.6 Q10.2 104.8 9.1 103.1" fill="none" stroke="#6d6e70" stroke-width=".9"/></g>
<g fill="none"><g stroke="#5e5e5e" stroke-opacity=".15" stroke-width=".4"><path d="M98.2 618Q162.9 591 240 566.1"/><path d="M59.9 629.6Q114.9 592.6 184.4 552.2"/><path d="M95.3 624.5Q162.7 596.3 235.9 558.3"/><path d="M75.3 631.8Q161.7 601.8 247.1 559.7"/><path d="M84.3 610.2Q161 605.5 234.5 589.6"/><path d="M84.3 610.2Q153.6 593.9 240 566.1"/><path d="M59.9 629.6Q138.5 606.9 235.1 573.2"/><path d="M106.2 633.7Q147.3 600.2 204.8 555.2"/><path d="M98.2 618Q174.2 594.7 235.9 558.3"/><path d="M59.9 619.4Q157 593.7 247.1 559.7"/><path d="M84.3 610.2Q154.8 585.8 211.8 552.2"/><path d="M71.6 610.7Q129.6 588.8 184.4 552.2"/><path d="M98.6 601.6Q153.4 575.5 191.9 552.2"/><path d="M112.8 598.7Q173.7 575.8 228.3 536.9"/><path d="M106.2 607.7Q160 576.7 232.6 549.5"/><path d="M114.4 612.4Q150.1 586.9 204.8 555.2"/><path d="M95.3 624.5Q170.4 613.6 238.3 596.4"/><path d="M58.5 608.5Q139.8 585.2 235.9 558.3"/><path d="M112.8 598.7Q175.8 597.5 234.5 589.6"/><path d="M89.9 639.9Q159.2 600 235.9 558.3"/><path d="M114.4 612.4Q166.7 606.2 233 595.2"/><path d="M81.8 643.1Q155.1 595.8 228.3 536.9"/><path d="M48.5 589Q138.1 578.6 232 562.4"/><path d="M76.7 639.1Q149 597.5 204.8 555.2"/><path d="M106.6 615.8Q177.7 606.9 234.5 589.6"/><path d="M95.3 584.9Q166 567.9 219.5 553.2"/><path d="M48.5 589Q148 591.4 239.7 584.7"/><path d="M114.4 612.4Q168.6 591.1 204.8 555.2"/><path d="M114.4 612.4Q175.7 593.1 247.1 559.7"/><path d="M59.9 629.6Q137.4 594.5 219.7 544"/><path d="M66.2 624.5Q152.5 611.8 239.7 584.7"/><path d="M114.4 612.4Q182.7 601.4 239.7 584.7"/><path d="M55.1 623.1Q149.5 613.6 234.5 589.6"/><path d="M71.6 610.7Q157 586.1 247.1 559.7"/><path d="M75.3 631.8Q158.4 617.9 233 595.2"/><path d="M106.2 633.7Q166.2 613.4 239.7 584.7"/><path d="M114.4 612.4Q178.1 597 235.1 573.2"/><path d="M59.9 619.4Q147.3 592.4 235.9 558.3"/><path d="M48.5 589Q139.4 572.5 232.6 549.5"/><path d="M95.3 624.5Q178.6 585.2 242.6 549.5"/><path d="M58.5 608.5Q158.3 602.3 242 591.2"/><path d="M95.7 611.4Q152.8 589.3 211.8 552.2"/><path d="M81.8 643.1Q129.9 595.8 191.1 542.6"/><path d="M56 586.3Q123.8 572 184.4 552.2"/><path d="M114.7 631.1Q174.7 600.6 240 566.1"/><path d="M56 586.3Q151.7 575.6 232 562.4"/><path d="M95.3 584.9Q172.7 568.4 232.6 549.5"/><path d="M106.2 607.7Q164.2 586 204.8 555.2"/><path d="M95.7 611.4Q163.2 601 242 591.2"/><path d="M66.2 624.5Q137.1 590.8 191.9 552.2"/><path d="M75.3 631.8Q150 589.5 228.3 536.9"/><path d="M86.9 619.4Q143.4 580.1 219.7 544"/><path d="M98.2 618Q164.9 588.5 235.9 558.3"/><path d="M66.2 624.5Q147.9 599.1 240 566.1"/><path d="M106.2 633.7Q177.4 621.6 233 595.2"/><path d="M56 586.3Q138.9 597.1 233 595.2"/><path d="M51.9 607.7Q140.6 576.7 232.6 549.5"/><path d="M95.3 584.9Q167.3 581.1 232 562.4"/><path d="M86.9 619.4Q165 596.2 235.1 573.2"/><path d="M58.5 608.5Q140.4 586.8 232.6 549.5"/><path d="M114.7 631.1Q159 593.3 191.9 552.2"/><path d="M114.7 631.1Q179.6 620.4 233 595.2"/><path d="M101.1 580.8Q174.3 571.6 240 566.1"/><path d="M89.9 639.9Q163.5 617.5 238.3 596.4"/><path d="M71.6 610.7Q129.5 584.4 184.4 552.2"/><path d="M95.7 611.4Q162.9 604.6 238.3 596.4"/><path d="M89.9 639.9Q164.3 596.1 242.6 549.5"/><path d="M86.9 619.4Q145.4 588.4 191.1 542.6"/><path d="M86.9 619.4Q172.2 583.8 242.6 549.5"/><path d="M106.6 615.8Q150.3 582 191.9 552.2"/><path d="M71.6 610.7Q164.6 580 242.6 549.5"/><path d="M58.5 608.5Q117.3 581.4 184.4 552.2"/><path d="M56 586.3Q144.3 576.6 247.1 559.7"/><path d="M114.4 612.4Q163.9 588.4 232.6 549.5"/><path d="M106.2 607.7Q165.4 582.6 219.5 553.2"/><path d="M114.7 631.1Q168.4 602.2 235.1 573.2"/><path d="M112.8 598.7Q175.6 575 228.3 536.9"/></g>
<g stroke="#5e5e5e" stroke-opacity=".25" stroke-width=".4"><path d="M106.2 633.7Q170.5 591.8 228.3 536.9"/><path d="M95.3 624.5Q147 596.5 204.8 555.2"/><path d="M95.7 611.4Q167 591.9 235.9 558.3"/><path d="M95.3 584.9Q171.1 595 242 591.2"/><path d="M106.2 633.7Q168.6 601 235.9 558.3"/><path d="M112.8 598.7Q166.5 604.5 233 595.2"/><path d="M84.3 610.2Q139.5 580.4 191.9 552.2"/><path d="M48.5 589Q147.5 595.8 234.5 589.6"/><path d="M81.8 643.1Q150.2 598.9 219.7 544"/><path d="M76.7 639.1Q157.1 617.1 234.5 589.6"/><path d="M84.3 610.2Q151.5 586.4 232.6 549.5"/><path d="M55.1 623.1Q149.9 609.2 238.3 596.4"/><path d="M89.9 639.9Q155.1 618.1 234.5 589.6"/><path d="M48.5 589Q149.7 579.9 235.1 573.2"/><path d="M106.2 607.7Q172.8 604.9 234.5 589.6"/><path d="M66.2 624.5Q166.6 599.4 247.1 559.7"/><path d="M48.5 589Q139.4 595.7 233 595.2"/><path d="M81.8 643.1Q153 608.1 232 562.4"/><path d="M51.9 607.7Q155.3 602.3 239.7 584.7"/><path d="M95.3 584.9Q168.9 577.2 232 562.4"/><path d="M106.2 633.7Q155.2 593.2 219.7 544"/><path d="M58.5 608.5Q146 574.2 228.3 536.9"/><path d="M105.9 589.5Q146.2 572.9 184.4 552.2"/><path d="M81.8 643.1Q152.7 594.3 219.7 544"/><path d="M58.5 608.5Q147.5 600.9 234.5 589.6"/><path d="M114.7 631.1Q171.4 585.4 228.3 536.9"/><path d="M98.2 618Q149.9 586.2 191.1 542.6"/><path d="M59.9 629.6Q158 615.8 242 591.2"/><path d="M95.3 584.9Q160.5 591.2 238.3 596.4"/><path d="M71.6 610.7Q165.3 590.7 240 566.1"/><path d="M89.9 639.9Q177.2 603.9 247.1 559.7"/><path d="M75.3 631.8Q147.9 617.3 238.3 596.4"/><path d="M71.6 610.7Q154.6 592.8 240 566.1"/><path d="M98.2 618Q162.1 592.1 232 562.4"/><path d="M76.7 639.1Q171.5 603.9 247.1 559.7"/><path d="M51.9 607.7Q150.8 585.5 247.1 559.7"/><path d="M98.2 618Q174 611.4 238.3 596.4"/><path d="M48.5 589Q133.1 576.1 211.8 552.2"/><path d="M86.9 619.4Q153 591.7 232.6 549.5"/><path d="M112.8 598.7Q182.2 602.7 238.3 596.4"/><path d="M98.2 618Q172.6 601.1 239.7 584.7"/><path d="M95.7 611.4Q145 580 191.9 552.2"/><path d="M56 586.3Q123.4 572.4 204.8 555.2"/><path d="M71.6 610.7Q156.1 590.5 235.1 573.2"/><path d="M81.8 643.1Q144.9 592.2 191.1 542.6"/><path d="M84.3 610.2Q128.7 580.5 191.1 542.6"/><path d="M84.3 610.2Q163.3 593.2 240 566.1"/><path d="M98.2 618Q167 609.9 238.3 596.4"/><path d="M51.9 607.7Q146.1 604.3 238.3 596.4"/><path d="M98.6 601.6Q165 594.6 235.1 573.2"/><path d="M66.2 624.5Q156.1 587.4 242.6 549.5"/><path d="M106.2 607.7Q153.9 581.2 211.8 552.2"/><path d="M51.9 607.7Q144.1 592.6 240 566.1"/><path d="M112.8 598.7Q169.2 575.8 242.6 549.5"/><path d="M59.9 629.6Q148.6 603.6 235.1 573.2"/><path d="M58.5 608.5Q141.7 609 233 595.2"/><path d="M71.6 610.7Q139.6 582.2 211.8 552.2"/><path d="M55.1 623.1Q146.7 582.5 228.3 536.9"/><path d="M106.6 615.8Q167.3 589.5 247.1 559.7"/><path d="M86.9 619.4Q144.3 582.6 219.7 544"/><path d="M55.1 623.1Q141 592.4 219.5 553.2"/><path d="M86.9 619.4Q158.9 595 235.9 558.3"/><path d="M59.9 619.4Q142.2 601.4 239.7 584.7"/><path d="M76.7 639.1Q164.9 604.3 235.9 558.3"/><path d="M101.1 580.8Q172.1 572.6 242.6 549.5"/></g>
<g stroke="#5e5e5e" stroke-opacity=".2" stroke-width=".4"><path d="M114.4 612.4Q175.9 605.8 238.3 596.4"/><path d="M106.2 607.7Q167 584.1 232 562.4"/><path d="M101.1 580.8Q171.3 568.3 242.6 549.5"/><path d="M55.1 623.1Q145.3 588.6 219.7 544"/><path d="M48.5 589Q135.5 589 235.1 573.2"/><path d="M71.6 610.7Q146 580.7 211.8 552.2"/><path d="M55.1 623.1Q144.2 586.8 232.6 549.5"/><path d="M98.2 618Q169.6 603.3 242 591.2"/><path d="M106.6 615.8Q165 602.4 234.5 589.6"/><path d="M114.4 612.4Q156.2 586 184.4 552.2"/><path d="M75.3 631.8Q151.9 592.1 242.6 549.5"/><path d="M98.2 618Q159.9 608.6 239.7 584.7"/><path d="M112.8 598.7Q182 589.4 240 566.1"/><path d="M51.9 607.7Q134.2 590.1 235.9 558.3"/><path d="M71.6 610.7Q149.3 586.2 232.6 549.5"/><path d="M114.7 631.1Q168.5 593.7 232.6 549.5"/><path d="M95.3 624.5Q168.1 613.9 242 591.2"/><path d="M98.2 618Q159 581.5 219.7 544"/><path d="M59.9 629.6Q135.7 595 219.5 553.2"/><path d="M84.3 610.2Q156.9 585.5 232.6 549.5"/><path d="M59.9 619.4Q140.6 584.9 228.3 536.9"/><path d="M58.5 608.5Q147.6 582.7 242.6 549.5"/><path d="M105.9 589.5Q138.1 572.8 184.4 552.2"/><path d="M71.6 610.7Q138.1 587.7 204.8 555.2"/><path d="M81.8 643.1Q172.6 606.4 247.1 559.7"/><path d="M106.6 615.8Q168.2 590.7 247.1 559.7"/><path d="M75.3 631.8Q153.7 601 235.1 573.2"/><path d="M76.7 639.1Q160.4 614.4 234.5 589.6"/><path d="M95.3 624.5Q166.1 612.3 233 595.2"/><path d="M76.7 639.1Q161.9 614.8 239.7 584.7"/><path d="M95.3 624.5Q171.8 596.2 240 566.1"/><path d="M112.8 598.7Q175.1 577.3 219.5 553.2"/><path d="M112.8 598.7Q181.3 577.2 247.1 559.7"/><path d="M114.7 631.1Q189.5 598.1 247.1 559.7"/><path d="M59.9 629.6Q146.9 599.1 235.9 558.3"/><path d="M106.6 615.8Q177.9 595 247.1 559.7"/><path d="M98.2 618Q133.2 583.9 184.4 552.2"/><path d="M105.9 589.5Q182 588 239.7 584.7"/><path d="M114.4 612.4Q147.1 582.1 191.1 542.6"/><path d="M76.7 639.1Q148.3 590 228.3 536.9"/><path d="M58.5 608.5Q138.9 581.6 211.8 552.2"/><path d="M112.8 598.7Q178.7 598.8 242 591.2"/><path d="M106.2 607.7Q181.4 605.9 242 591.2"/><path d="M98.2 618Q150.6 583.6 191.9 552.2"/><path d="M105.9 589.5Q166.7 566.4 228.3 536.9"/><path d="M95.3 584.9Q161.3 595 242 591.2"/><path d="M106.2 633.7Q157 597.8 191.9 552.2"/><path d="M106.2 633.7Q163.9 600.9 240 566.1"/><path d="M81.8 643.1Q163.6 597.5 232.6 549.5"/><path d="M95.7 611.4Q148.8 587.4 184.4 552.2"/><path d="M56 586.3Q137.2 578.7 235.1 573.2"/><path d="M76.7 639.1Q141.5 602.5 204.8 555.2"/><path d="M95.3 584.9Q152.7 568.5 219.5 553.2"/><path d="M58.5 608.5Q141.3 589.1 240 566.1"/><path d="M51.9 607.7Q128.5 577.7 219.7 544"/><path d="M71.6 610.7Q130.2 581.8 204.8 555.2"/><path d="M48.5 589Q139.5 572.8 232.6 549.5"/><path d="M48.5 589Q146.2 574.7 232 562.4"/><path d="M101.1 580.8Q160.8 569.8 219.5 553.2"/><path d="M86.9 619.4Q140.3 579.7 191.1 542.6"/><path d="M106.2 607.7Q166.7 608.7 238.3 596.4"/><path d="M84.3 610.2Q158.4 587.7 219.5 553.2"/><path d="M56 586.3Q151.6 571.7 242.6 549.5"/><path d="M55.1 623.1Q116.7 584.9 191.1 542.6"/><path d="M106.2 607.7Q166.9 604.2 242 591.2"/><path d="M112.8 598.7Q144.8 572.7 191.1 542.6"/><path d="M106.6 615.8Q166.2 579.2 219.7 544"/></g>
<g stroke="#5e5e5e" stroke-opacity=".15" stroke-width=".3"><path d="M95.3 584.9Q177.2 589.2 239.7 584.7"/><path d="M81.8 643.1Q150.3 596.3 232.6 549.5"/><path d="M59.9 619.4Q137.8 598.6 232 562.4"/><path d="M106.2 607.7Q175.1 597.9 235.1 573.2"/><path d="M76.7 639.1Q138.5 599.7 211.8 552.2"/><path d="M86.9 619.4Q169.6 584.9 242.6 549.5"/><path d="M86.9 619.4Q160.6 593 219.5 553.2"/><path d="M106.2 607.7Q176.4 603.9 242 591.2"/><path d="M86.9 619.4Q151.3 578.9 228.3 536.9"/><path d="M48.5 589Q130.1 571 219.5 553.2"/><path d="M84.3 610.2Q154.3 598.6 239.7 584.7"/><path d="M76.7 639.1Q136.4 601.4 204.8 555.2"/><path d="M95.3 624.5Q161.9 602 235.1 573.2"/><path d="M59.9 629.6Q154.8 597.1 235.9 558.3"/><path d="M106.2 633.7Q166.9 615.2 238.3 596.4"/><path d="M95.3 584.9Q178.2 567.7 242.6 549.5"/><path d="M112.8 598.7Q183.3 592.8 235.1 573.2"/><path d="M51.9 607.7Q140.6 580.3 242.6 549.5"/><path d="M76.7 639.1Q160.2 601 240 566.1"/><path d="M95.3 624.5Q173.8 605.1 239.7 584.7"/><path d="M95.3 584.9Q153.4 569.2 211.8 552.2"/><path d="M95.7 611.4Q171.6 602.3 239.7 584.7"/><path d="M76.7 639.1Q159.6 617.1 239.7 584.7"/><path d="M59.9 619.4Q127.8 585.6 184.4 552.2"/><path d="M114.7 631.1Q151.4 591.2 191.9 552.2"/><path d="M98.6 601.6Q161.3 581.2 211.8 552.2"/><path d="M95.3 624.5Q173.7 590.3 235.9 558.3"/><path d="M95.3 584.9Q171.5 579 235.1 573.2"/><path d="M55.1 623.1Q143.2 605.4 239.7 584.7"/><path d="M114.4 612.4Q180.7 588.7 235.9 558.3"/><path d="M95.3 624.5Q166.3 593.7 219.5 553.2"/><path d="M95.3 624.5Q145.6 588 191.9 552.2"/><path d="M98.2 618Q171.6 588.4 242.6 549.5"/><path d="M95.3 624.5Q154.4 617.6 233 595.2"/><path d="M106.2 633.7Q180.6 616.7 242 591.2"/><path d="M112.8 598.7Q169 577.1 219.7 544"/><path d="M59.9 629.6Q159.7 604 240 566.1"/><path d="M95.3 624.5Q163 604.1 239.7 584.7"/><path d="M106.6 615.8Q181.5 586.2 247.1 559.7"/><path d="M98.2 618Q149.9 586.3 191.1 542.6"/><path d="M56 586.3Q129.6 573.7 204.8 555.2"/></g>
<g stroke="#5e5e5e" stroke-opacity=".2" stroke-width=".5"><path d="M76.7 639.1Q155.4 592.5 228.3 536.9"/><path d="M76.7 639.1Q148.9 613 235.1 573.2"/><path d="M106.6 615.8Q162.5 588.7 219.5 553.2"/><path d="M101.1 580.8Q153.4 562.7 219.7 544"/><path d="M48.5 589Q128.1 572.3 204.8 555.2"/><path d="M81.8 643.1Q157.7 621.5 238.3 596.4"/><path d="M114.7 631.1Q171.3 592.1 219.7 544"/><path d="M59.9 619.4Q134.9 585.3 191.9 552.2"/><path d="M95.3 624.5Q165.3 594.9 240 566.1"/><path d="M106.2 607.7Q181.5 582.8 242.6 549.5"/><path d="M81.8 643.1Q147.7 601.3 211.8 552.2"/><path d="M98.2 618Q152.8 590.1 191.9 552.2"/><path d="M55.1 623.1Q130.9 590.3 191.9 552.2"/><path d="M51.9 607.7Q149.7 599.9 242 591.2"/><path d="M59.9 619.4Q115.2 587.9 184.4 552.2"/><path d="M59.9 629.6Q141.9 596.7 232.6 549.5"/><path d="M98.2 618Q161.9 584.3 219.5 553.2"/><path d="M81.8 643.1Q160.5 607.3 247.1 559.7"/><path d="M58.5 608.5Q149.2 595 239.7 584.7"/><path d="M81.8 643.1Q152.8 622.4 238.3 596.4"/><path d="M59.9 619.4Q141.6 585.7 242.6 549.5"/><path d="M55.1 623.1Q119.3 586.5 184.4 552.2"/><path d="M71.6 610.7Q132.4 587.2 184.4 552.2"/><path d="M114.7 631.1Q178.8 600.1 247.1 559.7"/><path d="M56 586.3Q146.9 564.1 228.3 536.9"/><path d="M106.2 633.7Q165.2 618.1 233 595.2"/><path d="M51.9 607.7Q132.1 586.3 211.8 552.2"/><path d="M58.5 608.5Q149.9 580.5 228.3 536.9"/><path d="M106.6 615.8Q153.9 579.8 219.7 544"/><path d="M48.5 589Q135.7 594.3 238.3 596.4"/><path d="M106.2 633.7Q169.2 599.6 242.6 549.5"/><path d="M114.4 612.4Q182.1 587.2 235.9 558.3"/><path d="M76.7 639.1Q138.2 595.3 211.8 552.2"/><path d="M76.7 639.1Q155.3 616.2 233 595.2"/><path d="M114.4 612.4Q175.6 584.3 247.1 559.7"/><path d="M51.9 607.7Q143 600.9 234.5 589.6"/><path d="M95.7 611.4Q166.5 609.4 238.3 596.4"/><path d="M112.8 598.7Q172.9 574.4 219.5 553.2"/><path d="M98.2 618Q159.2 600.8 239.7 584.7"/><path d="M59.9 619.4Q112.5 592.8 184.4 552.2"/><path d="M105.9 589.5Q161.9 576.1 219.5 553.2"/></g>
<g stroke="#5e5e5e" stroke-opacity=".2" stroke-width=".3"><path d="M101.1 580.8Q163 572.3 232 562.4"/><path d="M101.1 580.8Q174 581.4 239.7 584.7"/><path d="M98.2 618Q161.6 584.3 219.7 544"/><path d="M51.9 607.7Q142.9 607.1 233 595.2"/><path d="M114.4 612.4Q158.9 581.9 219.5 553.2"/><path d="M105.9 589.5Q144.3 573.2 184.4 552.2"/><path d="M58.5 608.5Q155.8 588.5 247.1 559.7"/><path d="M95.3 624.5Q173.6 610.7 239.7 584.7"/><path d="M56 586.3Q146.9 563.1 228.3 536.9"/><path d="M48.5 589Q154.8 590.1 242 591.2"/><path d="M48.5 589Q121.7 579.1 204.8 555.2"/><path d="M101.1 580.8Q162.4 566.6 232.6 549.5"/><path d="M114.7 631.1Q165.7 583.2 228.3 536.9"/><path d="M114.7 631.1Q169.7 621.3 238.3 596.4"/><path d="M106.6 615.8Q184 591.9 247.1 559.7"/><path d="M95.3 584.9Q165.9 572.4 247.1 559.7"/><path d="M106.2 633.7Q168.2 597.5 242.6 549.5"/><path d="M98.6 601.6Q161.4 576.5 219.5 553.2"/><path d="M114.4 612.4Q150 590.2 204.8 555.2"/><path d="M86.9 619.4Q141.3 585.9 191.9 552.2"/><path d="M58.5 608.5Q147.8 583.1 242.6 549.5"/><path d="M55.1 623.1Q144.4 591.4 242.6 549.5"/><path d="M66.2 624.5Q155.7 610.9 238.3 596.4"/><path d="M55.1 623.1Q154.3 611.8 242 591.2"/><path d="M76.7 639.1Q162.6 613.5 239.7 584.7"/><path d="M84.3 610.2Q161.2 604.9 238.3 596.4"/><path d="M71.6 610.7Q151.3 600.1 239.7 584.7"/><path d="M51.9 607.7Q139.5 589.9 235.1 573.2"/><path d="M59.9 629.6Q147.9 614.4 242 591.2"/><path d="M101.1 580.8Q167.4 588.9 239.7 584.7"/><path d="M95.7 611.4Q152.9 582.2 211.8 552.2"/><path d="M84.3 610.2Q169.2 588.4 235.9 558.3"/><path d="M56 586.3Q139.5 570.2 219.5 553.2"/></g>
<g stroke="#5e5e5e" stroke-opacity=".1" stroke-width=".4"><path d="M71.6 610.7Q149.3 607 238.3 596.4"/><path d="M84.3 610.2Q169.6 589.8 240 566.1"/><path d="M75.3 631.8Q148.5 599.5 232 562.4"/><path d="M95.7 611.4Q138.7 586.8 191.9 552.2"/><path d="M58.5 608.5Q121.2 587.3 184.4 552.2"/><path d="M98.2 618Q155.9 585.7 204.8 555.2"/><path d="M51.9 607.7Q145.6 586.5 240 566.1"/><path d="M114.4 612.4Q179 596.8 235.1 573.2"/><path d="M95.3 624.5Q152.5 591 219.5 553.2"/><path d="M95.3 624.5Q166.1 596.8 219.5 553.2"/></g>
<g stroke="#5e5e5e" stroke-opacity=".1" stroke-width=".3"><path d="M76.7 639.1Q154.2 605 232 562.4"/><path d="M114.7 631.1Q166.9 599.2 235.9 558.3"/><path d="M51.9 607.7Q130.2 587.7 211.8 552.2"/><path d="M95.3 584.9Q169 577.5 232 562.4"/><path d="M114.4 612.4Q180.1 593.2 235.9 558.3"/><path d="M51.9 607.7Q129.3 579.5 191.1 542.6"/><path d="M98.2 618Q165 604.8 234.5 589.6"/><path d="M58.5 608.5Q154.9 591 235.9 558.3"/><path d="M86.9 619.4Q160.4 608.5 234.5 589.6"/></g>
<g stroke="#5e5e5e" stroke-opacity=".15" stroke-width=".5"><path d="M98.6 601.6Q172.9 592.7 235.1 573.2"/><path d="M75.3 631.8Q146.1 612.1 233 595.2"/><path d="M59.9 629.6Q152.1 597.5 232.6 549.5"/><path d="M106.6 615.8Q162.6 578.1 228.3 536.9"/><path d="M59.9 629.6Q133.3 588.7 191.1 542.6"/><path d="M89.9 639.9Q169 593.4 232.6 549.5"/><path d="M48.5 589Q114.5 568.7 184.4 552.2"/><path d="M106.2 607.7Q166.2 601.8 238.3 596.4"/><path d="M106.6 615.8Q162 586.2 235.9 558.3"/><path d="M58.5 608.5Q139.8 609.4 233 595.2"/><path d="M76.7 639.1Q153.2 618.1 239.7 584.7"/><path d="M51.9 607.7Q140.9 601.3 233 595.2"/><path d="M81.8 643.1Q165.8 605.6 235.9 558.3"/><path d="M75.3 631.8Q153.8 616.8 234.5 589.6"/><path d="M58.5 608.5Q120.2 581.3 191.1 542.6"/><path d="M66.2 624.5Q153.4 614.2 233 595.2"/><path d="M101.1 580.8Q172 572.3 235.9 558.3"/><path d="M95.7 611.4Q158.7 588.7 235.9 558.3"/><path d="M66.2 624.5Q132.7 590.7 204.8 555.2"/><path d="M95.7 611.4Q172.2 592.9 240 566.1"/><path d="M106.2 607.7Q144.9 584 184.4 552.2"/><path d="M76.7 639.1Q166.5 603.3 240 566.1"/><path d="M84.3 610.2Q156.9 581.3 219.5 553.2"/><path d="M106.2 607.7Q181.5 591.4 240 566.1"/><path d="M71.6 610.7Q144.8 608.6 233 595.2"/><path d="M75.3 631.8Q127.7 586.5 191.1 542.6"/><path d="M58.5 608.5Q144.3 592.2 232 562.4"/><path d="M59.9 629.6Q151.4 615.4 233 595.2"/><path d="M95.3 584.9Q165.3 571.9 219.5 553.2"/><path d="M75.3 631.8Q159.9 593.7 242.6 549.5"/><path d="M81.8 643.1Q147.9 621.1 233 595.2"/><path d="M105.9 589.5Q164.3 575.6 232 562.4"/><path d="M48.5 589Q149.7 577.1 242.6 549.5"/><path d="M98.6 601.6Q153.3 581.3 211.8 552.2"/><path d="M106.2 607.7Q180.6 600.3 238.3 596.4"/><path d="M114.4 612.4Q182.5 607.5 234.5 589.6"/><path d="M84.3 610.2Q164.7 584.4 235.9 558.3"/></g>
<g stroke="#5e5e5e" stroke-opacity=".25" stroke-width=".3"><path d="M95.3 584.9Q170.9 583.8 239.7 584.7"/><path d="M98.2 618Q165.4 604.6 234.5 589.6"/><path d="M55.1 623.1Q153.8 597.5 247.1 559.7"/><path d="M98.2 618Q147.2 583.5 184.4 552.2"/><path d="M114.4 612.4Q150.3 580.9 191.9 552.2"/><path d="M95.7 611.4Q163.3 592 240 566.1"/><path d="M66.2 624.5Q149.3 590.8 219.5 553.2"/><path d="M106.2 607.7Q168.3 586.8 247.1 559.7"/><path d="M55.1 623.1Q143.7 612.9 242 591.2"/><path d="M106.6 615.8Q149.1 588.3 191.9 552.2"/><path d="M84.3 610.2Q164.7 580.9 232.6 549.5"/><path d="M114.7 631.1Q170 615.5 242 591.2"/><path d="M66.2 624.5Q145.4 594.8 219.5 553.2"/><path d="M98.6 601.6Q166.3 585.6 235.1 573.2"/><path d="M98.6 601.6Q171.7 587.4 235.9 558.3"/><path d="M89.9 639.9Q135.9 602.4 184.4 552.2"/><path d="M56 586.3Q124.8 571.9 204.8 555.2"/><path d="M59.9 619.4Q157.1 588.5 247.1 559.7"/><path d="M112.8 598.7Q165 569.9 228.3 536.9"/><path d="M106.2 607.7Q172.8 587.8 240 566.1"/><path d="M48.5 589Q138.1 574.8 235.9 558.3"/><path d="M95.3 624.5Q175.6 615.4 238.3 596.4"/><path d="M48.5 589Q146.8 596 238.3 596.4"/><path d="M105.9 589.5Q158.1 575 219.5 553.2"/></g>
<g stroke="#5e5e5e" stroke-opacity=".25" stroke-width=".5"><path d="M114.7 631.1Q181.9 620 238.3 596.4"/><path d="M114.7 631.1Q176.4 591.5 232.6 549.5"/><path d="M95.3 584.9Q172.7 597.8 238.3 596.4"/><path d="M112.8 598.7Q180.8 598.3 234.5 589.6"/><path d="M86.9 619.4Q160.9 611 242 591.2"/><path d="M95.7 611.4Q169.7 602.9 242 591.2"/><path d="M106.2 607.7Q149.1 577.7 191.1 542.6"/><path d="M56 586.3Q145.8 581.3 232 562.4"/><path d="M95.7 611.4Q158.9 607.7 242 591.2"/><path d="M56 586.3Q144.5 574.5 247.1 559.7"/><path d="M106.2 633.7Q156.9 592.6 211.8 552.2"/><path d="M71.6 610.7Q131 585.4 184.4 552.2"/><path d="M98.2 618Q151.7 585.7 219.5 553.2"/><path d="M84.3 610.2Q145.1 589.3 204.8 555.2"/><path d="M98.6 601.6Q175.3 588.7 240 566.1"/><path d="M56 586.3Q147.8 584.9 239.7 584.7"/><path d="M112.8 598.7Q145.1 578.1 184.4 552.2"/><path d="M114.7 631.1Q186.8 607.8 239.7 584.7"/><path d="M55.1 623.1Q147.4 615.5 233 595.2"/><path d="M106.6 615.8Q181.9 599.6 239.7 584.7"/><path d="M106.2 607.7Q160.4 586 232 562.4"/><path d="M89.9 639.9Q161.2 613.6 242 591.2"/><path d="M105.9 589.5Q163.8 576.1 204.8 555.2"/><path d="M58.5 608.5Q141.7 606 238.3 596.4"/><path d="M71.6 610.7Q143.2 598.7 234.5 589.6"/><path d="M106.2 607.7Q176.3 576.3 228.3 536.9"/><path d="M81.8 643.1Q166.8 601.3 247.1 559.7"/><path d="M84.3 610.2Q142.2 588.4 191.9 552.2"/><path d="M101.1 580.8Q164.3 562.6 228.3 536.9"/><path d="M98.6 601.6Q147.1 576.3 191.9 552.2"/><path d="M101.1 580.8Q162.5 560.6 228.3 536.9"/><path d="M98.6 601.6Q178.6 587.5 240 566.1"/><path d="M95.3 624.5Q165.7 617.9 238.3 596.4"/></g>
<g stroke="#5e5e5e" stroke-opacity=".1" stroke-width=".5"><path d="M106.6 615.8Q142.1 591.8 184.4 552.2"/><path d="M95.7 611.4Q161.8 605.1 239.7 584.7"/><path d="M59.9 619.4Q139 584.7 219.5 553.2"/></g>
<g stroke="#777777" stroke-opacity=".1" stroke-width=".4"><path d="M59.9 629.6Q142.9 561.9 220.6 498.6"/><path d="M128.2 478.6Q175.2 514.5 211.8 552.2"/><path d="M117.9 566.6Q184.6 565.7 235.9 558.3"/><path d="M51.2 510.1Q128.9 518.8 202.4 519.9"/><path d="M89.1 496Q131.4 504.6 192.1 511.3"/><path d="M51.2 510.1Q145.2 509.4 227.7 499.7"/><path d="M47.8 471.2Q147.1 490.1 227.7 499.7"/><path d="M56 586.3Q118.7 573.9 191.9 552.2"/><path d="M58.5 608.5Q145.4 598.1 242 591.2"/><path d="M56 586.3Q119.7 564.5 191.1 542.6"/><path d="M56.3 572.4Q128.5 547.1 202.4 519.9"/><path d="M89.1 496Q141.5 506.1 213.4 505.2"/><path d="M51.9 607.7Q139.4 601.5 238.3 596.4"/><path d="M89.1 496Q158.5 510.9 220.8 518.1"/><path d="M112.8 598.7Q161 559 202.4 519.9"/><path d="M101.1 504.5Q161.9 506.2 213.4 505.2"/><path d="M101.1 504.5Q158.5 537.6 232 562.4"/><path d="M71.6 610.7Q125.8 586.5 184.4 552.2"/><path d="M123.7 546.9Q158.9 547.8 191.1 542.6"/><path d="M58.5 608.5Q157.4 583.5 247.1 559.7"/><path d="M153.1 523.6Q179.2 510 201.3 500.1"/><path d="M123.7 546.9Q173.2 525.5 211.6 496.6"/><path d="M58.5 608.5Q130.8 555 221.6 507.2"/><path d="M140.4 478.6Q181.9 493.2 221.6 507.2"/><path d="M48.5 589Q126.4 543 220.6 498.6"/><path d="M94.4 497.4Q148.6 502.4 201.3 500.1"/><path d="M60.4 551.3Q148 552.9 242.6 549.5"/><path d="M56 586.3Q140 548.7 232.4 513.4"/><path d="M63.6 543.7Q128.2 545.5 211.8 552.2"/><path d="M123.7 546.7Q178.6 533 220.8 518.1"/><path d="M51.2 510.1Q135.8 534.4 204.8 555.2"/><path d="M98.6 601.6Q162.1 555.9 220.6 498.6"/><path d="M128.2 478.6Q171.3 515.7 219.7 544"/><path d="M51.6 500Q148.2 547.9 234.5 589.6"/><path d="M54.1 481.8Q128.9 521.4 219.5 553.2"/><path d="M150.7 496.6Q181 499.9 211.6 496.6"/><path d="M51.9 607.7Q134.8 598.5 233 595.2"/><path d="M89.1 496Q148.6 509.7 202.4 519.9"/><path d="M55.1 546.9Q133.7 536.6 201.1 529.7"/><path d="M56.3 572.4Q152 552.9 228.3 536.9"/><path d="M58.5 608.5Q135.6 570.2 201.1 529.7"/><path d="M46.1 477.7Q135.9 505.4 228.3 536.9"/><path d="M130.6 486.2Q174.6 522.1 204.8 555.2"/><path d="M56 586.3Q128.4 560.9 219.5 529.7"/><path d="M88 529.5Q160 543.9 247.1 559.7"/><path d="M51.6 500Q134.5 540.8 235.1 573.2"/><path d="M56 586.3Q123 574 191.9 552.2"/><path d="M80.1 494.8Q160.1 510.9 244 527.7"/><path d="M91.3 516Q144.7 535.9 211.8 552.2"/><path d="M62.4 501.5Q148.8 531.4 242.6 549.5"/><path d="M84 507Q152.6 552.1 233 595.2"/><path d="M127.2 553.2Q177.7 541.2 226.3 526"/><path d="M48.5 589Q137.1 545.3 231.4 503.5"/><path d="M45 494.5Q126.6 525.5 211.8 552.2"/><path d="M63.6 543.7Q140.4 536.4 226.3 526"/><path d="M62.4 501.5Q147.2 537.8 232 562.4"/><path d="M123.7 546.7Q165.1 533.4 220.8 518.1"/><path d="M123.7 546.9Q176.8 568.2 233 595.2"/><path d="M46.1 477.7Q116.4 486.9 201.3 500.1"/><path d="M76 513.8Q165.5 558.9 238.3 596.4"/><path d="M47.8 471.2Q131.1 494.5 202.4 519.9"/><path d="M84 507Q160.1 511 232.4 513.4"/><path d="M153.1 523.6Q186.5 512.7 201.3 500.1"/><path d="M130.6 486.2Q183.1 535.3 239.7 584.7"/><path d="M45 494.5Q127.2 520.6 191.1 542.6"/><path d="M117.9 566.6Q179.9 571.3 235.1 573.2"/><path d="M133.9 482.1Q174.4 503.7 232.4 513.4"/><path d="M102 518.3Q151.1 520.2 182.3 519.9"/><path d="M73.4 538.6Q158.1 554.7 232 562.4"/><path d="M43.1 470.4Q147.8 503.2 244 527.7"/><path d="M43.1 470.4Q121.7 491.7 213.4 505.2"/><path d="M101.1 580.8Q160.6 545.8 231.4 503.5"/><path d="M105.9 589.5Q168.8 580.2 235.1 573.2"/><path d="M127.2 553.2Q165.6 556.1 184.4 552.2"/><path d="M56.3 572.4Q136.2 547.7 226.3 526"/><path d="M43.1 470.4Q138.6 486.8 231.4 503.5"/><path d="M55.1 546.9Q157.4 568.2 239.7 584.7"/><path d="M98.6 601.6Q163.9 560.4 221.6 507.2"/><path d="M51.6 500Q119.7 522.7 191.1 542.6"/><path d="M102 518.3Q159.7 526.1 211 531.7"/><path d="M101.1 504.5Q145 511.7 182.3 519.9"/><path d="M56.3 572.4Q154.4 590.1 238.3 596.4"/><path d="M60.4 551.3Q130.9 534.1 182.3 519.9"/><path d="M51.2 510.1Q148.8 536.8 235.9 558.3"/><path d="M58.5 608.5Q159.8 578 242.6 549.5"/><path d="M112.8 598.7Q161.1 580.2 211.8 552.2"/><path d="M94.5 505.8Q152.9 514.8 202.4 519.9"/><path d="M139.4 539.3Q183 530.3 220.8 518.1"/><path d="M80.1 494.8Q135.2 516.6 191.1 542.6"/><path d="M153.1 523.6Q185.6 518.1 221.6 507.2"/><path d="M114.7 478.5Q160.4 493.2 192.1 511.3"/><path d="M63.6 543.7Q152.9 541.4 244 527.7"/><path d="M51.2 510.1Q119.8 532.1 191.9 552.2"/><path d="M140.4 478.6Q185.9 493.5 232.4 513.4"/><path d="M123.7 546.7Q157.1 534.7 192.1 511.3"/><path d="M51.9 607.7Q151.8 599.3 239.7 584.7"/><path d="M60.4 551.3Q140.9 574.4 234.5 589.6"/><path d="M117.9 566.6Q165.9 531.6 211.6 496.6"/><path d="M58.5 608.5Q127.6 549.7 211.6 496.6"/><path d="M114.7 478.5Q147.7 498.3 182.3 519.9"/><path d="M80.1 494.8Q150.1 496.2 231.4 503.5"/><path d="M60.4 551.3Q156 554.7 232 562.4"/><path d="M94.4 497.4Q143.4 511.6 201.1 529.7"/><path d="M76 513.8Q135.2 537.7 204.8 555.2"/><path d="M102 518.3Q168 551.9 234.5 589.6"/><path d="M47.2 577.6Q146.9 590.2 242 591.2"/><path d="M51.9 607.7Q122.6 562.1 192.1 511.3"/><path d="M145.5 545.4Q192.2 572.2 242 591.2"/><path d="M47.8 471.2Q133.4 512.3 232.6 549.5"/><path d="M47.8 471.2Q145.1 483.8 227.7 499.7"/><path d="M47.8 471.2Q135.7 489.5 213.4 505.2"/><path d="M58.5 608.5Q143.1 555.7 221.6 507.2"/><path d="M55.1 623.1Q152.4 565.3 232.4 513.4"/><path d="M94.5 505.8Q152.3 520.1 226.3 526"/><path d="M56.3 572.4Q144 551.7 228.3 536.9"/><path d="M48.5 589Q133.9 552.7 220.8 518.1"/><path d="M84 507Q168.2 548.5 242 591.2"/><path d="M62.4 501.5Q144.7 504.4 227.7 499.7"/><path d="M114.7 478.5Q161.6 497.8 221.6 507.2"/><path d="M63.6 543.7Q143.9 538.3 237.1 528.1"/><path d="M48.5 589Q136.7 584.2 239.7 584.7"/></g>
<g stroke="#777777" stroke-opacity=".15" stroke-width=".4"><path d="M62.4 501.5Q113.5 512.8 182.3 519.9"/><path d="M55.1 546.9Q152.9 530.6 231.4 503.5"/><path d="M133.9 482.1Q173.3 503 219.5 529.7"/><path d="M51.9 607.7Q140.4 559.8 231.4 503.5"/><path d="M133.9 482.1Q175.5 514.8 219.5 553.2"/><path d="M56 586.3Q130.7 544.1 201.3 500.1"/><path d="M102 518.3Q163.5 556.8 239.7 584.7"/><path d="M106.6 492.3Q166.2 509.4 220.8 518.1"/><path d="M62.4 501.5Q117.5 528.3 184.4 552.2"/><path d="M91.3 516Q155.3 515.1 232.4 513.4"/><path d="M139.4 539.3Q162.8 521.2 201.3 500.1"/><path d="M105.9 589.5Q178.6 579.7 247.1 559.7"/><path d="M60.4 551.3Q158.2 557.1 247.1 559.7"/><path d="M56 586.3Q142.6 554.7 220.8 518.1"/><path d="M106.6 492.3Q184.5 523.7 242.6 549.5"/><path d="M73.4 538.6Q143.7 547.2 204.8 555.2"/><path d="M105.9 589.5Q166.7 555.6 232.4 513.4"/><path d="M140.4 478.6Q188.9 536.9 238.3 596.4"/><path d="M101.1 504.5Q155.9 507.2 227.7 499.7"/><path d="M71.6 610.7Q159 571.3 228.3 536.9"/><path d="M94.5 505.8Q154.2 522.2 219.5 529.7"/><path d="M63.6 543.7Q146 555.7 235.1 573.2"/><path d="M101.1 580.8Q153.1 564.1 211.8 552.2"/><path d="M46.1 477.7Q120 508.6 191.1 542.6"/><path d="M88 529.5Q161.5 529.9 244 527.7"/><path d="M58.5 608.5Q139.7 578.6 211.8 552.2"/><path d="M73.4 538.6Q131.7 550.3 184.4 552.2"/><path d="M56 586.3Q112.3 558.1 182.3 519.9"/><path d="M58.5 608.5Q146.5 601.3 233 595.2"/><path d="M138 559Q186.7 553.7 242.6 549.5"/><path d="M88 529.5Q170.6 533 237.1 528.1"/><path d="M89.1 496Q155.3 549.3 233 595.2"/><path d="M55.1 623.1Q129 560.5 220.6 498.6"/><path d="M123.7 546.7Q176.6 568.4 239.7 584.7"/><path d="M127.2 553.2Q179.2 569 239.7 584.7"/><path d="M117.9 566.6Q165.3 556.9 228.3 536.9"/><path d="M59.9 619.4Q149.9 564.9 220.6 498.6"/><path d="M56 586.3Q139.3 569.1 219.7 544"/><path d="M62.4 501.5Q146 547.3 238.3 596.4"/><path d="M48.5 589Q128.1 563.3 201.1 529.7"/><path d="M58.5 608.5Q143.2 564.4 232.4 513.4"/><path d="M139 492.3Q177.9 524.3 211.8 552.2"/><path d="M140.4 478.6Q169.6 497.4 206.9 512.3"/><path d="M45 494.5Q146.2 531.8 247.1 559.7"/><path d="M130.6 486.2Q176.4 524.6 235.9 558.3"/><path d="M47.8 471.2Q141.6 490.6 232.4 513.4"/><path d="M63.6 543.7Q130.6 530.4 213.4 505.2"/><path d="M123.7 546.9Q170.8 536.6 237.1 528.1"/><path d="M76 513.8Q149.5 559.3 233 595.2"/><path d="M127.2 553.2Q181.6 540 220.8 518.1"/><path d="M123.7 546.9Q177 524 220.6 498.6"/><path d="M153.1 523.6Q180.1 516.5 213.4 505.2"/><path d="M63.6 543.7Q135.8 523.2 220.6 498.6"/><path d="M54.1 481.8Q124.6 497.4 213.4 505.2"/><path d="M80.1 494.8Q152.7 511.8 237.1 528.1"/><path d="M45 494.5Q141.5 512.6 219.5 529.7"/><path d="M51.6 500Q142.2 544.2 239.7 584.7"/><path d="M105.9 589.5Q168.5 555.9 220.8 518.1"/><path d="M47.8 471.2Q153.4 517.4 247.1 559.7"/><path d="M43.1 470.4Q135.7 529.8 239.7 584.7"/><path d="M130.6 486.2Q171.5 505.8 226.3 526"/><path d="M56 586.3Q137.5 554 202.4 519.9"/><path d="M47.8 471.2Q125.6 507.1 191.1 542.6"/><path d="M94.4 497.4Q161 549.1 233 595.2"/><path d="M80.1 494.8Q166.4 534.6 240 566.1"/><path d="M51.6 528.8Q140.3 543 242.6 549.5"/><path d="M71.6 610.7Q159.5 598.4 242 591.2"/><path d="M91.3 516Q144.7 518.7 202.4 519.9"/><path d="M47.8 471.2Q129.1 492.9 192.1 511.3"/><path d="M106.6 492.3Q162.2 507.9 206.9 512.3"/><path d="M60.4 551.3Q154.7 544.4 237.1 528.1"/><path d="M139.4 539.3Q189.8 541.6 228.3 536.9"/><path d="M47.8 471.2Q135.9 494.1 232.4 513.4"/><path d="M91.3 516Q162.7 515.9 221.6 507.2"/><path d="M51.2 510.1Q128.5 525.6 219.7 544"/><path d="M94.4 497.4Q155.5 510.8 226.3 526"/><path d="M98.6 601.6Q168 578.1 219.5 553.2"/><path d="M130.6 486.2Q188.7 503 232.4 513.4"/><path d="M47.8 471.2Q143.3 506.7 219.7 544"/><path d="M114.7 478.5Q167.9 487.7 201.3 500.1"/><path d="M94.5 505.8Q167.7 524.7 228.3 536.9"/><path d="M51.6 500Q133.7 506.3 221.6 507.2"/><path d="M55.1 623.1Q119.1 565.5 192.1 511.3"/><path d="M58.5 608.5Q139.1 603.9 238.3 596.4"/><path d="M123.7 546.9Q150 537.5 182.3 519.9"/><path d="M150.7 496.6Q159.6 514.1 182.3 519.9"/><path d="M56.3 572.4Q151.8 554.2 228.3 536.9"/><path d="M101.1 504.5Q170.7 540.7 235.1 573.2"/><path d="M51.2 510.1Q134.4 525.5 219.5 529.7"/><path d="M48.5 589Q124.3 570.9 191.1 542.6"/><path d="M96.4 487.2Q170.8 543 233 595.2"/><path d="M58.5 608.5Q130.4 573.7 191.1 542.6"/><path d="M55.1 623.1Q120.7 590.1 184.4 552.2"/><path d="M114.7 478.5Q161.4 513.9 191.1 542.6"/><path d="M55.1 623.1Q144.5 578.6 228.3 536.9"/><path d="M123.7 546.7Q149.8 547.7 191.9 552.2"/><path d="M127.2 553.2Q181 553.3 219.5 553.2"/><path d="M80.1 494.8Q144 506.6 202.4 519.9"/><path d="M60.4 551.3Q124.6 530.1 192.1 511.3"/><path d="M58.5 608.5Q145.8 605.6 242 591.2"/><path d="M47.8 471.2Q146.2 534.7 242 591.2"/><path d="M114.7 478.5Q170.4 515.6 219.5 553.2"/><path d="M101.1 580.8Q172.5 543.3 231.4 503.5"/><path d="M130.6 486.2Q190.3 526.2 247.1 559.7"/><path d="M130.6 486.2Q176.9 542.5 242 591.2"/><path d="M98.6 601.6Q157.1 580.5 219.5 553.2"/><path d="M54.1 481.8Q139.1 510 228.3 536.9"/><path d="M145.5 545.4Q175.1 525.2 213.4 505.2"/><path d="M127.2 553.2Q183.5 572.5 233 595.2"/><path d="M94.4 497.4Q166.7 551.9 238.3 596.4"/><path d="M43.1 470.4Q142.2 528.9 234.5 589.6"/><path d="M114.7 478.5Q164.8 490.1 227.7 499.7"/><path d="M101.1 580.8Q169.9 540.9 220.6 498.6"/><path d="M48.5 589Q114.9 571.6 184.4 552.2"/><path d="M138 559Q182.2 525.9 220.6 498.6"/><path d="M66.2 624.5Q150.3 593 247.1 559.7"/><path d="M127.2 553.2Q179.3 576.1 238.3 596.4"/><path d="M62.4 501.5Q138.6 532.5 232 562.4"/><path d="M58.5 608.5Q127.6 550.6 211.6 496.6"/><path d="M45 494.5Q121.2 527.6 204.8 555.2"/><path d="M112.8 598.7Q178 594.3 242 591.2"/><path d="M51.6 500Q132.8 552 233 595.2"/><path d="M60.4 551.3Q120 557.5 184.4 552.2"/><path d="M56 586.3Q128.1 550.9 206.9 512.3"/><path d="M55.1 623.1Q154.4 605.8 239.7 584.7"/><path d="M106.6 492.3Q171.3 531.8 247.1 559.7"/><path d="M60.4 551.3Q129.3 534.8 192.1 511.3"/><path d="M58.5 608.5Q126 570.2 182.3 519.9"/><path d="M94.5 505.8Q164.3 507.3 231.4 503.5"/></g>
<g stroke="#777777" stroke-opacity=".2" stroke-width=".4"><path d="M123.7 546.9Q168.9 551 232.6 549.5"/><path d="M66.2 624.5Q145.4 610.4 238.3 596.4"/><path d="M56.3 572.4Q147.2 589.1 233 595.2"/><path d="M89.1 496Q164 501.9 232.4 513.4"/><path d="M59.9 629.6Q144.8 568.1 231.4 503.5"/><path d="M60.4 551.3Q147.1 536.7 220.8 518.1"/><path d="M47.8 471.2Q136.7 498.5 237.1 528.1"/><path d="M139.4 539.3Q190.7 535.4 226.3 526"/><path d="M140.4 478.6Q189.2 502.6 244 527.7"/><path d="M55.1 623.1Q153.2 588.7 235.9 558.3"/></g>
<g stroke="#f8ae55" stroke-opacity=".3" stroke-width=".4"><path d="M54.1 458Q107.2 460.1 191.1 542.6"/><path d="M47.8 471.2Q137.4 486.9 211 531.7"/><path d="M43.1 470.4Q147.4 470.8 220.6 498.6"/><path d="M54.1 481.8Q137.8 498.1 231.4 503.5"/><path d="M54.1 481.8Q158.8 482.6 228.3 536.9"/><path d="M46.1 477.7Q130.2 484.5 220.6 498.6"/><path d="M62.1 463.1Q137.3 458.5 228.3 536.9"/><path d="M47.8 471.2Q114.3 488.8 220.6 498.6"/><path d="M47.8 471.2Q159.3 476.5 237.1 528.1"/></g>
<g stroke="#f8ae55" stroke-opacity=".35" stroke-width=".4"><path d="M43.1 470.4Q105.9 481.3 201.3 500.1"/><path d="M46.1 477.7Q130.2 495.3 206.9 512.3"/><path d="M62.4 501.5Q157.1 504.9 221.6 507.2"/><path d="M61.8 456.1Q139.2 467.8 231.4 503.5"/><path d="M54.1 481.8Q147.8 496.6 232.6 549.5"/><path d="M61.8 456.1Q146.4 450.5 237.1 528.1"/><path d="M47.8 471.2Q128.4 471.9 192.1 511.3"/></g>
<g stroke="#f8ae55" stroke-opacity=".35" stroke-width=".3"><path d="M54.1 481.8Q148.3 482 221.6 507.2"/><path d="M46.1 477.7Q120.4 483.4 231.4 503.5"/><path d="M61.8 456.1Q144.5 460 242.6 549.5"/></g>
<g stroke="#f8ae55" stroke-opacity=".25" stroke-width=".4"><path d="M47.8 471.2Q136.5 463.9 201.1 529.7"/><path d="M47.8 471.2Q146.5 466.3 221.6 507.2"/><path d="M54.1 458Q143.7 474.6 220.6 498.6"/><path d="M62.1 463.1Q123.5 469.3 211.6 496.6"/><path d="M49.7 461.7Q135.8 476.3 232.6 549.5"/><path d="M62.4 501.5Q123 496.3 219.5 529.7"/><path d="M47.8 471.2Q148.1 478.6 232.4 513.4"/><path d="M45 494.5Q134.3 507 220.8 518.1"/><path d="M62.4 501.5Q153.4 499.6 227.7 499.7"/></g>
<g stroke="#f8ae55" stroke-opacity=".2" stroke-width=".3"><path d="M47.8 471.2Q118.3 461.1 211 531.7"/><path d="M54.1 458Q153.8 456.7 244 527.7"/><path d="M46.1 477.7Q108.6 491.3 206.9 512.3"/><path d="M54.1 481.8Q143.6 478.6 220.8 518.1"/><path d="M55.5 465Q141.9 465.1 244 527.7"/></g>
<g stroke="#f8ae55" stroke-opacity=".15" stroke-width=".4"><path d="M54.1 458Q129.1 472.8 206.9 512.3"/><path d="M43.1 470.4Q136.3 471.1 206.9 512.3"/></g>
<g stroke="#f8ae55" stroke-opacity=".15" stroke-width=".5"><path d="M47.8 471.2Q136 460.1 201.1 529.7"/><path d="M54.1 458Q116 454.8 201.3 500.1"/></g>
<g stroke="#f8ae55" stroke-opacity=".3" stroke-width=".3"><path d="M46.1 477.7Q115.9 492.1 211.8 552.2"/><path d="M43.1 470.4Q117.8 465.3 219.7 544"/><path d="M43.1 470.4Q130 462.8 201.3 500.1"/><path d="M43.1 470.4Q113.9 467.9 211.6 496.6"/><path d="M54.1 458Q106.9 451.8 191.1 542.6"/><path d="M45 494.5Q109.5 505.7 211.8 552.2"/><path d="M47.8 471.2Q115.7 477.3 219.7 544"/><path d="M62.4 501.5Q153.6 516.5 232.4 513.4"/></g>
<g stroke="#f8ae55" stroke-opacity=".2" stroke-width=".4"><path d="M61.8 456.1Q143.8 468.9 211.6 496.6"/><path d="M54.1 481.8Q133.2 477.6 242.6 549.5"/><path d="M62.1 463.1Q141.2 460.9 232.4 513.4"/><path d="M54.1 458Q144.9 465.6 231.4 503.5"/><path d="M46.1 477.7Q148.6 474.3 227.7 499.7"/><path d="M46.1 477.7Q112.6 477.6 191.1 542.6"/><path d="M45 494.5Q133.6 496.9 231.4 503.5"/><path d="M62.1 463.1Q140 458.6 244 527.7"/><path d="M43.1 470.4Q117.6 487.9 201.3 500.1"/><path d="M47.8 471.2Q134 476.6 192.1 511.3"/><path d="M62.1 463.1Q108.1 456.1 191.1 542.6"/><path d="M61.8 456.1Q148.8 447.5 220.6 498.6"/><path d="M61.8 456.1Q126.5 470.4 221.6 507.2"/></g>
<g stroke="#f8ae55" stroke-opacity=".3" stroke-width=".5"><path d="M61.8 456.1Q152.9 449.6 232.6 549.5"/><path d="M43.1 470.4Q106.8 488.2 182.3 519.9"/><path d="M46.1 477.7Q120.3 494.5 221.6 507.2"/><path d="M47.8 471.2Q129.1 468.2 221.6 507.2"/><path d="M54.1 458Q118.5 458 206.9 512.3"/></g>
<g stroke="#f8ae55" stroke-opacity=".15" stroke-width=".3"><path d="M43.1 470.4Q146 467.7 221.6 507.2"/></g>
<g stroke="#f8ae55" stroke-opacity=".25" stroke-width=".3"><path d="M47.8 471.2Q138.4 485.3 221.6 507.2"/><path d="M49.7 461.7Q150.6 479.2 226.3 526"/><path d="M54.1 481.8Q134.8 471.9 227.7 499.7"/><path d="M54.1 458Q147.5 448.6 202.4 519.9"/><path d="M62.1 463.1Q140.8 467.9 232.4 513.4"/><path d="M55.5 465Q107.1 453.9 191.1 542.6"/></g>
<g stroke="#f8ae55" stroke-opacity=".25" stroke-width=".5"><path d="M62.1 463.1Q159.3 463.1 227.7 499.7"/><path d="M54.1 481.8Q141.5 499.3 244 527.7"/><path d="M54.1 481.8Q130.4 489.8 201.3 500.1"/><path d="M62.1 463.1Q105.2 468.6 182.3 519.9"/><path d="M43.1 470.4Q139.2 478.3 231.4 503.5"/></g>
<g stroke="#f8ae55" stroke-opacity=".2" stroke-width=".5"><path d="M43.1 470.4Q119.8 484.8 231.4 503.5"/><path d="M61.8 456.1Q158.3 463.1 242.6 549.5"/><path d="M46.1 477.7Q118.6 487 227.7 499.7"/></g>
<g stroke="#f8ae55" stroke-opacity=".35" stroke-width=".5"><path d="M47.8 471.2Q150.2 461.6 220.6 498.6"/><path d="M62.1 463.1Q141.7 477.5 192.1 511.3"/></g>
<g stroke="#f7a645" stroke-opacity=".2" stroke-width=".4"><path d="M88 529.5Q62.6 559.5 48.5 589"/><path d="M61.8 456.1Q89 533.8 84.3 610.2"/><path d="M84 507Q68.6 563.1 59.9 619.4"/><path d="M63.6 543.7Q51.4 588 51.9 607.7"/><path d="M46.1 477.7Q37.7 567.3 55.1 623.1"/><path d="M139.4 539.3Q85 580.4 59.9 629.6"/><path d="M101.1 504.5Q94.9 529.3 101.1 580.8"/><path d="M47.8 471.2Q49 545.9 56 586.3"/></g>
<g stroke="#f7a645" stroke-opacity=".35" stroke-width=".5"><path d="M55.5 465Q81.9 543.7 114.4 612.4"/><path d="M62.1 463.1Q47.7 533.3 59.9 629.6"/><path d="M60.4 551.3Q94.2 593.6 98.2 618"/><path d="M91.3 516Q83.2 566.6 55.1 623.1"/></g>
<g stroke="#f7a645" stroke-opacity=".25" stroke-width=".4"><path d="M76 513.8Q87.6 575.5 59.9 619.4"/><path d="M43.1 470.4Q57.1 562.6 76.7 639.1"/><path d="M94.4 497.4Q114.4 576.1 81.8 643.1"/><path d="M51.6 500Q43.6 580.8 55.1 623.1"/><path d="M73.4 538.6Q99 579.1 81.8 643.1"/><path d="M145.5 545.4Q95.8 547.6 47.2 577.6"/><path d="M62.1 463.1Q83.5 511.1 48.5 589"/><path d="M138 559Q101.7 582.7 86.9 619.4"/><path d="M145.5 545.4Q143.6 576.8 106.2 607.7"/><path d="M114.7 478.5Q88.7 528.3 71.6 610.7"/><path d="M127.2 553.2Q106.2 590.3 51.9 607.7"/></g>
<g stroke="#f7a645" stroke-opacity=".25" stroke-width=".3"><path d="M101.1 504.5Q116.4 566.5 105.9 589.5"/><path d="M138 559Q107 588.7 59.9 619.4"/><path d="M102 518.3Q75.6 583.3 59.9 629.6"/><path d="M127.2 553.2Q94.3 581.2 59.9 619.4"/><path d="M63.6 543.7Q71.9 592.4 58.5 608.5"/></g>
<g stroke="#f7a645" stroke-opacity=".3" stroke-width=".4"><path d="M127.2 553.2Q131.4 609.9 76.7 639.1"/><path d="M62.1 463.1Q77.5 567.9 81.8 643.1"/><path d="M101.1 504.5Q90.6 548.7 105.9 589.5"/></g>
<g stroke="#f7a645" stroke-opacity=".25" stroke-width=".5"><path d="M63.6 543.7Q79.5 609.6 76.7 639.1"/><path d="M47.8 471.2Q60.6 543 58.5 608.5"/><path d="M63.6 543.7Q85.2 587.3 86.9 619.4"/><path d="M62.1 463.1Q72.2 518.8 98.6 601.6"/></g>
<g stroke="#f7a645" stroke-opacity=".15" stroke-width=".4"><path d="M63.6 543.7Q97.9 578.4 101.1 580.8"/><path d="M150.7 496.6Q98.1 567.9 59.9 629.6"/><path d="M61.8 456.1Q80 533.5 105.9 589.5"/><path d="M51.6 500Q44.2 527.8 56.3 572.4"/><path d="M127.2 553.2Q105.3 569.6 101.1 580.8"/><path d="M123.7 546.7Q98.3 573.8 48.5 589"/><path d="M123.7 546.7Q88.4 585.8 76.7 639.1"/><path d="M55.1 546.9Q76.1 584.1 71.6 610.7"/></g>
<g stroke="#f7a645" stroke-opacity=".15" stroke-width=".3"><path d="M51.6 528.8Q72.6 554.2 101.1 580.8"/><path d="M43.1 470.4Q78.2 547.1 75.3 631.8"/><path d="M55.1 546.9Q63.3 577.2 89.9 639.9"/></g>
<g stroke="#f7a645" stroke-opacity=".2" stroke-width=".3"><path d="M47.8 471.2Q68 546.4 86.9 619.4"/><path d="M62.1 463.1Q94.8 560.6 76.7 639.1"/><path d="M62.4 501.5Q86.9 543.6 71.6 610.7"/><path d="M51.6 500Q95.3 556 105.9 589.5"/><path d="M60.4 551.3Q55.7 574.3 51.9 607.7"/><path d="M138 559Q125.2 569.1 95.3 584.9"/></g>
<g stroke="#f7a645" stroke-opacity=".35" stroke-width=".4"><path d="M94.5 505.8Q86.5 587.1 75.3 631.8"/><path d="M127.2 553.2Q115.2 592 59.9 629.6"/><path d="M84 507Q91.9 558.6 59.9 629.6"/><path d="M76 513.8Q57.7 546.9 56 586.3"/><path d="M47.8 471.2Q46.1 546.5 55.1 623.1"/><path d="M138 559Q125.4 585.3 95.7 611.4"/><path d="M91.3 516Q72.1 572.6 81.8 643.1"/></g>
<g stroke="#f7a645" stroke-opacity=".3" stroke-width=".5"><path d="M49.7 461.7Q47 520.4 58.5 608.5"/><path d="M133.9 482.1Q94.3 560.1 81.8 643.1"/><path d="M127.2 553.2Q125.5 605.2 81.8 643.1"/></g>
<g stroke="#f7a645" stroke-opacity=".35" stroke-width=".3"><path d="M43.1 470.4Q65.2 546.6 105.9 589.5"/><path d="M123.7 546.9Q119.2 563.6 59.9 619.4"/></g>
<g stroke="#f7a645" stroke-opacity=".3" stroke-width=".3"><path d="M46.1 477.7Q67.6 537.1 112.8 598.7"/><path d="M89.1 496Q92.4 558.2 66.2 624.5"/><path d="M101.1 504.5Q97.1 560.2 95.7 611.4"/></g>
<g stroke="#f7a645" stroke-opacity=".2" stroke-width=".5"><path d="M153.1 523.6Q118.4 548.8 71.6 610.7"/><path d="M139 492.3Q116.9 549.9 66.2 624.5"/><path d="M43.1 470.4Q73.1 572.5 76.7 639.1"/></g>
<g stroke="#f9c070" stroke-opacity=".2" stroke-width=".3"><path d="M55.1 546.9C53.8 571.9 53.1 604.6 59.9 629.6"/><path d="M51.6 528.8C52.8 553.8 53.7 559.9 95.3 584.9"/></g>
<g stroke="#f9c070" stroke-opacity=".4" stroke-width=".4"><path d="M51.6 500C51.5 525 50.4 559.9 95.3 584.9"/><path d="M47.8 471.2C60.9 496.2 62.4 547.4 56.3 572.4"/><path d="M43.1 470.4C52.9 495.4 55.8 582.7 51.9 607.7"/><path d="M45 494.5C53 519.5 54.8 564.5 105.9 589.5"/></g>
<g stroke="#f6ae5d" stroke-opacity=".35" stroke-width=".4"><path d="M43.1 470.4C57.1 495.4 61.2 594.4 59.9 619.4"/><path d="M51.2 510.1C53.5 535.1 59.5 547.4 56.3 572.4"/><path d="M43.1 470.4C47.2 495.4 49 583.5 58.5 608.5"/><path d="M54.1 481.8C59.1 506.8 61 599.5 66.2 624.5"/></g>
<g stroke="#f6ae5d" stroke-opacity=".45" stroke-width=".4"><path d="M49.7 461.7C46.1 486.7 51.4 585.7 71.6 610.7"/></g>
<g stroke="#f9c070" stroke-opacity=".2" stroke-width=".5"><path d="M45 494.5C55.4 519.5 58.7 594.4 59.9 619.4"/><path d="M46.1 477.7C54 502.7 53.3 604.6 59.9 629.6"/><path d="M62.1 463.1C53.4 488.1 52.8 564.5 105.9 589.5"/></g>
<g stroke="#f6ae5d" stroke-opacity=".2" stroke-width=".4"><path d="M54.1 458C61.3 483 63.6 585.2 84.3 610.2"/><path d="M54.1 481.8C56.7 506.8 57.2 585.7 71.6 610.7"/></g>
<g stroke="#f9c070" stroke-opacity=".25" stroke-width=".6"><path d="M43.1 470.4C58.8 495.4 60.2 604.6 59.9 629.6"/><path d="M61.8 456.1C56.2 481.1 58.6 598.1 55.1 623.1"/><path d="M54.1 458C55.1 483 56.6 598.1 55.1 623.1"/><path d="M61.8 456.1C43.9 481.1 46.3 561.3 56 586.3"/></g>
<g stroke="#f6ae5d" stroke-opacity=".5" stroke-width=".4"><path d="M62.1 463.1C43.1 488.1 42.9 586.4 95.7 611.4"/></g>
<g stroke="#f29d4a" stroke-opacity=".3" stroke-width=".7"><path d="M45 494.5C46.8 519.5 46.1 561.3 56 586.3"/><path d="M49.7 461.7C61.8 486.7 63.3 573.7 112.8 598.7"/></g>
<g stroke="#f6ae5d" stroke-opacity=".25" stroke-width=".6"><path d="M55.5 465C54.5 490 56.8 583.5 58.5 608.5"/><path d="M54.1 458C60.8 483 66.2 599.5 66.2 624.5"/><path d="M60.4 551.3C44.4 576.3 44.9 559.9 95.3 584.9"/></g>
<g stroke="#f9c070" stroke-opacity=".3" stroke-width=".5"><path d="M51.6 528.8C48.7 553.8 51.8 585.2 84.3 610.2"/><path d="M62.1 463.1C46.2 488.1 44.5 585.7 71.6 610.7"/></g>
<g stroke="#ec7a24" stroke-opacity=".4" stroke-width=".6"><path d="M43.1 470.4C51.3 495.4 55.8 552.6 47.2 577.6"/></g>
<g stroke="#ef8c37" stroke-opacity=".25" stroke-width=".5"><path d="M62.1 463.1C47.2 488.1 51.4 586.4 95.7 611.4"/><path d="M55.1 546.9C50.2 571.9 53.3 583.5 58.5 608.5"/></g>
<g stroke="#f9c070" stroke-opacity=".3" stroke-width=".4"><path d="M54.1 458C49.8 483 49.2 547.4 56.3 572.4"/><path d="M62.4 501.5C57.8 526.5 63.5 561.3 56 586.3"/><path d="M43.1 470.4C59 495.4 58.2 564 48.5 589"/></g>
<g stroke="#f9c070" stroke-opacity=".45" stroke-width=".3"><path d="M51.6 500C46.9 525 48.5 576.6 98.6 601.6"/></g>
<g stroke="#f9c070" stroke-opacity=".2" stroke-width=".4"><path d="M45 494.5C58.9 519.5 60 582.7 51.9 607.7"/><path d="M54.1 458C58.3 483 58.5 564 48.5 589"/><path d="M61.8 456.1C53.2 481.1 57.9 573.7 112.8 598.7"/></g>
<g stroke="#f6ae5d" stroke-opacity=".3" stroke-width=".6"><path d="M45 494.5C50 519.5 50.6 559.9 95.3 584.9"/><path d="M46.1 477.7C61 502.7 63 582.7 51.9 607.7"/><path d="M47.8 471.2C56 496.2 56.1 561.3 56 586.3"/></g>
<g stroke="#f9c070" stroke-opacity=".25" stroke-width=".3"><path d="M55.5 465C54.3 490 54.5 555.8 101.1 580.8"/></g>
<g stroke="#f9c070" stroke-opacity=".3" stroke-width=".6"><path d="M51.6 500C45.6 525 51.3 583.5 58.5 608.5"/><path d="M46.1 477.7C49.7 502.7 48 564 48.5 589"/><path d="M60.4 551.3C47.3 576.3 52.2 564 48.5 589"/></g>
<g stroke="#ef8c37" stroke-opacity=".35" stroke-width=".7"><path d="M51.2 510.1C45.4 535.1 48.3 598.1 55.1 623.1"/></g>
<g stroke="#ef8c37" stroke-opacity=".4" stroke-width=".4"><path d="M46.1 477.7C46.6 502.7 48.7 564.5 105.9 589.5"/><path d="M54.1 458C61 483 66.2 583.5 58.5 608.5"/></g>
<g stroke="#f9c070" stroke-opacity=".45" stroke-width=".4"><path d="M55.1 546.9C46.5 571.9 47.5 576.6 98.6 601.6"/><path d="M47.8 471.2C45.9 496.2 46.9 585.2 84.3 610.2"/><path d="M62.1 463.1C56 488.1 60.2 547.4 56.3 572.4"/><path d="M43.1 470.4C51.6 495.4 54 604.6 59.9 629.6"/><path d="M49.7 461.7C49.4 486.7 48.8 559.9 95.3 584.9"/></g>
<g stroke="#f9c070" stroke-opacity=".3" stroke-width=".7"><path d="M54.1 481.8C54 506.8 54.5 564 48.5 589"/><path d="M49.7 461.7C45.9 486.7 51.6 583.5 58.5 608.5"/></g>
<g stroke="#ef8c37" stroke-opacity=".35" stroke-width=".6"><path d="M55.5 465C44.3 490 46.1 559.9 95.3 584.9"/><path d="M47.8 471.2C53.7 496.2 56.7 585.7 71.6 610.7"/><path d="M51.6 500C54.4 525 55.3 598.1 55.1 623.1"/></g>
<g stroke="#ef8c37" stroke-opacity=".3" stroke-width=".4"><path d="M43.1 470.4C60 495.4 60.7 552.6 47.2 577.6"/><path d="M51.2 510.1C46.2 535.1 47 582.7 51.9 607.7"/><path d="M49.7 461.7C60.9 486.7 59.4 561.3 56 586.3"/></g>
<g stroke="#f29d4a" stroke-opacity=".45" stroke-width=".5"><path d="M55.1 546.9C50 571.9 51.6 576.6 98.6 601.6"/></g>
<g stroke="#f9c070" stroke-opacity=".35" stroke-width=".4"><path d="M54.1 481.8C52.2 506.8 50.8 582.7 51.9 607.7"/><path d="M55.1 546.9C50.1 571.9 52.4 564 48.5 589"/></g>
<g stroke="#ef8c37" stroke-opacity=".2" stroke-width=".6"><path d="M55.5 465C57.3 490 60 547.4 56.3 572.4"/></g>
<g stroke="#ef8c37" stroke-opacity=".25" stroke-width=".3"><path d="M51.6 528.8C49.2 553.8 47.7 585.7 71.6 610.7"/><path d="M62.1 463.1C54.1 488.1 58.7 547.4 56.3 572.4"/></g>
<g stroke="#f6ae5d" stroke-opacity=".35" stroke-width=".3"><path d="M55.5 465C58.1 490 56.7 586.4 95.7 611.4"/><path d="M62.1 463.1C60.5 488.1 64 547.4 56.3 572.4"/></g>
<g stroke="#ec7a24" stroke-opacity=".25" stroke-width=".6"><path d="M62.1 463.1C55.5 488.1 60 599.5 66.2 624.5"/><path d="M60.4 551.3C50.9 576.3 54.3 586.4 95.7 611.4"/></g>
<g stroke="#f6ae5d" stroke-opacity=".35" stroke-width=".5"><path d="M62.4 501.5C52.9 526.5 53.9 604.6 59.9 629.6"/><path d="M43.1 470.4C53.3 495.4 55.6 564.5 105.9 589.5"/><path d="M60.4 551.3C49 576.3 53.4 547.4 56.3 572.4"/><path d="M47.8 471.2C58.9 496.2 59.4 547.4 56.3 572.4"/><path d="M49.7 461.7C47.2 486.7 46.6 585.7 71.6 610.7"/></g>
<g stroke="#f29d4a" stroke-opacity=".45" stroke-width=".6"><path d="M63.6 543.7C61 568.7 65.7 561.3 56 586.3"/><path d="M45 494.5C50.3 519.5 54.9 585.7 71.6 610.7"/></g>
<g stroke="#ef8c37" stroke-opacity=".4" stroke-width=".6"><path d="M51.2 510.1C56.8 535.1 62.1 564 48.5 589"/><path d="M51.6 500C57.8 525 56 599.5 66.2 624.5"/></g>
<g stroke="#ef8c37" stroke-opacity=".5" stroke-width=".5"><path d="M54.1 481.8C48.3 506.8 50.6 583.5 58.5 608.5"/></g>
<g stroke="#f9c070" stroke-opacity=".25" stroke-width=".4"><path d="M45 494.5C57.4 519.5 61.4 561.3 56 586.3"/><path d="M62.1 463.1C48.3 488.1 52.9 599.5 66.2 624.5"/></g>
<g stroke="#f29d4a" stroke-opacity=".3" stroke-width=".4"><path d="M46.1 477.7C45.1 502.7 48.8 585.7 71.6 610.7"/><path d="M55.1 546.9C57.3 571.9 61.7 561.3 56 586.3"/><path d="M43.1 470.4C47.5 495.4 52 564.5 105.9 589.5"/></g>
<g stroke="#f9c070" stroke-opacity=".2" stroke-width=".7"><path d="M54.1 481.8C54.1 506.8 58.9 561.3 56 586.3"/></g>
<g stroke="#f9c070" stroke-opacity=".4" stroke-width=".7"><path d="M54.1 458C48.4 483 48.4 573.7 112.8 598.7"/></g>
<g stroke="#f29d4a" stroke-opacity=".25" stroke-width=".5"><path d="M51.2 510.1C48.8 535.1 49.9 583.5 58.5 608.5"/><path d="M47.8 471.2C61.5 496.2 59.8 564 48.5 589"/></g>
<g stroke="#ec7a24" stroke-opacity=".3" stroke-width=".6"><path d="M54.1 481.8C49 506.8 50.4 583.5 58.5 608.5"/><path d="M62.4 501.5C48.7 526.5 51.8 599.5 66.2 624.5"/></g>
<g stroke="#f29d4a" stroke-opacity=".2" stroke-width=".3"><path d="M46.1 477.7C57.6 502.7 60.2 559.9 95.3 584.9"/></g>
<g stroke="#f6ae5d" stroke-opacity=".4" stroke-width=".4"><path d="M54.1 458C43.1 483 41.8 583.5 58.5 608.5"/></g>
<g stroke="#f6ae5d" stroke-opacity=".45" stroke-width=".7"><path d="M62.4 501.5C49.9 526.5 54.6 582.7 51.9 607.7"/></g>
<g stroke="#ef8c37" stroke-opacity=".3" stroke-width=".5"><path d="M45 494.5C52.1 519.5 55.8 564.5 105.9 589.5"/></g>
<g stroke="#ec7a24" stroke-opacity=".35" stroke-width=".6"><path d="M62.4 501.5C46.4 526.5 50.4 576.6 98.6 601.6"/></g>
<g stroke="#f6ae5d" stroke-opacity=".25" stroke-width=".4"><path d="M47.8 471.2C54.2 496.2 54.5 547.4 56.3 572.4"/><path d="M49.7 461.7C43.6 486.7 46.6 561.3 56 586.3"/><path d="M47.8 471.2C52.6 496.2 56.5 555.8 101.1 580.8"/><path d="M43.1 470.4C53 495.4 57.3 555.8 101.1 580.8"/></g>
<g stroke="#ef8c37" stroke-opacity=".45" stroke-width=".6"><path d="M45 494.5C53 519.5 53.8 561.3 56 586.3"/></g>
<g stroke="#f9c070" stroke-opacity=".5" stroke-width=".6"><path d="M63.6 543.7C62 568.7 61.8 564 48.5 589"/></g>
<g stroke="#ef8c37" stroke-opacity=".45" stroke-width=".7"><path d="M43.1 470.4C49.8 495.4 49.1 573.7 112.8 598.7"/></g>
<g stroke="#f9c070" stroke-opacity=".45" stroke-width=".5"><path d="M55.1 546.9C57.4 571.9 56.2 555.8 101.1 580.8"/><path d="M63.6 543.7C52.3 568.7 53.3 559.9 95.3 584.9"/></g>
<g stroke="#f6ae5d" stroke-opacity=".5" stroke-width=".6"><path d="M46.1 477.7C44.7 502.7 47.4 561.3 56 586.3"/></g>
<g stroke="#f9c070" stroke-opacity=".4" stroke-width=".6"><path d="M51.2 510.1C59.3 535.1 63.4 583.5 58.5 608.5"/></g>
<g stroke="#f9c070" stroke-opacity=".4" stroke-width=".3"><path d="M49.7 461.7C47.8 486.7 49.6 555.8 101.1 580.8"/></g>
<g stroke="#f6ae5d" stroke-opacity=".4" stroke-width=".3"><path d="M55.5 465C51.5 490 50.2 585.7 71.6 610.7"/></g>
<g stroke="#f6ae5d" stroke-opacity=".3" stroke-width=".5"><path d="M46.1 477.7C61.7 502.7 63.2 583.5 58.5 608.5"/><path d="M47.8 471.2C44.7 496.2 43.7 559.9 95.3 584.9"/><path d="M54.1 481.8C51.2 506.8 51.5 547.4 56.3 572.4"/></g>
<g stroke="#f29d4a" stroke-opacity=".2" stroke-width=".6"><path d="M55.5 465C56.1 490 55.5 582.7 51.9 607.7"/></g>
<g stroke="#f9c070" stroke-opacity=".4" stroke-width=".5"><path d="M54.1 458C52.8 483 52.8 576.6 98.6 601.6"/></g>
<g stroke="#f6ae5d" stroke-opacity=".25" stroke-width=".3"><path d="M61.8 456.1C52.5 481.1 57.4 594.4 59.9 619.4"/></g>
<g stroke="#ef8c37" stroke-opacity=".5" stroke-width=".3"><path d="M47.8 471.2C59 496.2 63.9 594.4 59.9 619.4"/></g>
<g stroke="#ec7a24" stroke-opacity=".2" stroke-width=".4"><path d="M45 494.5C48.8 519.5 53.4 573.7 112.8 598.7"/></g>
<g stroke="#f6ae5d" stroke-opacity=".25" stroke-width=".5"><path d="M62.4 501.5C51.2 526.5 54.1 604.6 59.9 629.6"/></g>
<g stroke="#ef8c37" stroke-opacity=".45" stroke-width=".4"><path d="M43.1 470.4C52.4 495.4 53 561.3 56 586.3"/></g>
<g stroke="#ef8c37" stroke-opacity=".35" stroke-width=".5"><path d="M51.6 528.8C46 553.8 45.1 564 48.5 589"/></g>
<g stroke="#f9c070" stroke-opacity=".35" stroke-width=".7"><path d="M60.4 551.3C52.3 576.3 56.5 583.5 58.5 608.5"/></g>
<g stroke="#f6ae5d" stroke-opacity=".2" stroke-width=".5"><path d="M51.2 510.1C58.8 535.1 63.8 599.5 66.2 624.5"/></g>
<g stroke="#f29d4a" stroke-opacity=".35" stroke-width=".4"><path d="M51.2 510.1C55.1 535.1 59.8 576.6 98.6 601.6"/></g>
<g stroke="#f6ae5d" stroke-opacity=".45" stroke-width=".6"><path d="M61.8 456.1C56.1 481.1 56.3 582.7 51.9 607.7"/></g>
<g stroke="#f29d4a" stroke-opacity=".5" stroke-width=".5"><path d="M61.8 456.1C52.8 481.1 53.4 564.5 105.9 589.5"/></g>
<g stroke="#f6ae5d" stroke-opacity=".5" stroke-width=".7"><path d="M47.8 471.2C54.6 496.2 56.5 564 48.5 589"/></g>
<g stroke="#f29d4a" stroke-opacity=".4" stroke-width=".6"><path d="M55.5 465C61.5 490 59.6 585.7 71.6 610.7"/></g>
<g stroke="#f29d4a" stroke-opacity=".25" stroke-width=".6"><path d="M51.6 528.8C45.7 553.8 44.2 583.5 58.5 608.5"/></g>
<g stroke="#ef8c37" stroke-opacity=".25" stroke-width=".7"><path d="M51.2 510.1C52.7 535.1 52.8 547.4 56.3 572.4"/></g>
<g stroke="#e87422" stroke-opacity=".5" stroke-width=".6"><path d="M54.1 481.8C43.2 511.8 43.2 578.5 58.5 608.5"/></g>
<g stroke="#e87422" stroke-opacity=".35" stroke-width=".6"><path d="M47.8 471.2C43.4 501.2 43.4 589.4 59.9 619.4"/></g>
<g stroke="#e87422" stroke-opacity=".45" stroke-width=".4"><path d="M62.1 463.1C45.9 493.1 45.9 599.6 59.9 629.6"/></g>
<g stroke="#ee8e36" stroke-opacity=".4" stroke-width=".6"><path d="M54.1 481.8C46.9 511.8 46.9 577.7 51.9 607.7"/></g>
<g stroke="#e87422" stroke-opacity=".4" stroke-width=".6"><path d="M61.8 456.1C42.7 486.1 42.7 547.6 47.2 577.6"/></g>
<g stroke="#e87422" stroke-opacity=".4" stroke-width=".4"><path d="M55.5 465C46.2 495 46.2 559 48.5 589"/></g>
<g stroke="#eb812c" stroke-opacity=".5" stroke-width=".7"><path d="M43.1 470.4C43.5 500.4 43.5 594.5 66.2 624.5"/></g>
<g stroke="#eb812c" stroke-opacity=".45" stroke-width=".6"><path d="M47.8 471.2C43.1 501.2 43.1 556.3 56 586.3"/></g>
<g stroke="#e87422" stroke-opacity=".35" stroke-width=".5"><path d="M62.1 463.1C47.1 493.1 47.1 578.5 58.5 608.5"/><path d="M55.5 465C46.7 495 46.7 542.4 56.3 572.4"/></g>
<g stroke="#eb812c" stroke-opacity=".3" stroke-width=".4"><path d="M47.8 471.2C47.5 501.2 47.5 577.7 51.9 607.7"/></g>
<g stroke="#e87422" stroke-opacity=".35" stroke-width=".4"><path d="M47.8 471.2C43.5 501.2 43.5 594.5 66.2 624.5"/></g>
<g stroke="#e46818" stroke-opacity=".35" stroke-width=".5"><path d="M55.5 465C44.8 495 44.8 577.7 51.9 607.7"/></g>
<g stroke="#f29a40" stroke-opacity=".45" stroke-width=".5"><path d="M62.1 463.1C44.8 493.1 44.8 593.1 55.1 623.1"/></g>
<g stroke="#eb812c" stroke-opacity=".45" stroke-width=".5"><path d="M43.1 470.4C44.4 500.4 44.4 589.4 59.9 619.4"/><path d="M61.8 456.1C46.4 486.1 46.4 556.3 56 586.3"/></g>
<g stroke="#eb812c" stroke-opacity=".4" stroke-width=".5"><path d="M46.1 477.7C48.7 507.7 48.7 556.3 56 586.3"/></g>
<g stroke="#e87422" stroke-opacity=".45" stroke-width=".7"><path d="M61.8 456.1C46.8 486.1 46.8 599.6 59.9 629.6"/></g>
<g stroke="#eb812c" stroke-opacity=".45" stroke-width=".4"><path d="M49.7 461.7C46.8 491.7 46.8 542.4 56.3 572.4"/></g>
<g stroke="#f29a40" stroke-opacity=".5" stroke-width=".5"><path d="M55.5 465C47.5 495 47.5 593.1 55.1 623.1"/></g>
<g stroke="#f29a40" stroke-opacity=".5" stroke-width=".4"><path d="M62.1 463.1C47.2 493.1 47.2 593.1 55.1 623.1"/></g>
<g stroke="#eb812c" stroke-opacity=".35" stroke-width=".6"><path d="M62.4 501.5C48.4 531.5 48.4 578.5 58.5 608.5"/><path d="M46.1 477.7C42.9 507.7 42.9 593.1 55.1 623.1"/></g>
<g stroke="#e46818" stroke-opacity=".45" stroke-width=".5"><path d="M47.8 471.2C48.2 501.2 48.2 577.7 51.9 607.7"/></g>
<g stroke="#f29a40" stroke-opacity=".35" stroke-width=".7"><path d="M43.1 470.4C45.5 500.4 45.5 577.7 51.9 607.7"/></g>
<g stroke="#ee8e36" stroke-opacity=".5" stroke-width=".5"><path d="M62.4 501.5C44 531.5 44 594.5 66.2 624.5"/></g>
<g stroke="#d8401a" stroke-opacity=".6" stroke-width=".6"><path d="M54.1 458Q60.1 458.6 62.1 463.1"/><path d="M62.1 463.1Q57 465.1 47.8 471.2"/><path d="M54.1 458Q53 462.6 47.8 471.2"/><path d="M49.7 461.7Q53.9 457.9 54.1 458"/><path d="M54.1 458Q56.8 459.5 55.5 465"/><path d="M47.8 471.2Q50.8 464.4 49.7 461.7"/><path d="M47.8 471.2Q53 462.6 54.1 458"/><path d="M61.8 456.1Q60 455.1 54.1 458"/><path d="M47.8 471.2Q50.8 464.4 49.7 461.7"/><path d="M61.8 456.1Q54.5 461.2 43.1 470.4"/><path d="M61.8 456.1Q64 457.6 62.1 463.1"/><path d="M55.5 465Q60.8 462.1 62.1 463.1"/><path d="M49.7 461.7Q53.9 457.9 54.1 458"/></g>
<g stroke="#f6b463" stroke-opacity=".3" stroke-width=".3"><path d="M244 527.7C247.7 532.7 247.7 544.5 232.6 549.5"/></g>
<g stroke="#f6b463" stroke-opacity=".5" stroke-width=".3"><path d="M182.3 519.9C234 524.9 234 557.4 232 562.4"/></g>
<g stroke="#f6b463" stroke-opacity=".45" stroke-width=".5"><path d="M191.1 542.6C241.6 547.6 241.6 561.1 240 566.1"/><path d="M247.1 559.7C247.4 564.7 247.4 523.1 237.1 528.1"/></g>
<g stroke="#f4a652" stroke-opacity=".25" stroke-width=".3"><path d="M219.5 553.2C220 558.2 220 537.6 191.1 542.6"/></g>
<g stroke="#ef8a30" stroke-opacity=".55" stroke-width=".4"><path d="M235.1 573.2C238.5 578.2 238.5 506.3 192.1 511.3"/></g>
<g stroke="#f29841" stroke-opacity=".4" stroke-width=".4"><path d="M231.4 503.5C234.7 508.5 234.7 544.5 232.6 549.5"/><path d="M211.6 496.6C229.9 501.6 229.9 531.9 228.3 536.9"/></g>
<g stroke="#f29841" stroke-opacity=".25" stroke-width=".6"><path d="M220.6 498.6C221.1 503.6 221.1 526.7 211 531.7"/><path d="M202.4 519.9C210.6 524.9 210.6 507.3 206.9 512.3"/></g>
<g stroke="#f6b463" stroke-opacity=".4" stroke-width=".6"><path d="M226.3 526C235.8 531 235.8 557.4 232 562.4"/></g>
<g stroke="#f9c274" stroke-opacity=".3" stroke-width=".6"><path d="M221.6 507.2C241.5 512.2 241.5 591.4 238.3 596.4"/><path d="M219.5 529.7C223.2 534.7 223.2 548.2 219.5 553.2"/></g>
<g stroke="#f9c274" stroke-opacity=".35" stroke-width=".6"><path d="M192.1 511.3C224.9 516.3 224.9 502.2 221.6 507.2"/></g>
<g stroke="#ef8a30" stroke-opacity=".45" stroke-width=".5"><path d="M213.4 505.2C214.2 510.2 214.2 547.2 191.9 552.2"/></g>
<g stroke="#f29841" stroke-opacity=".35" stroke-width=".4"><path d="M233 595.2C239.6 600.2 239.6 591.4 238.3 596.4"/><path d="M234.5 589.6C235.1 594.6 235.1 494.7 227.7 499.7"/></g>
<g stroke="#f29841" stroke-opacity=".45" stroke-width=".6"><path d="M238.3 596.4C240.6 601.4 240.6 547.2 184.4 552.2"/><path d="M191.1 542.6C237.4 547.6 237.4 584.6 234.5 589.6"/></g>
<g stroke="#f6b463" stroke-opacity=".3" stroke-width=".4"><path d="M232 562.4C235.1 567.4 235.1 544.5 232.6 549.5"/></g>
<g stroke="#f4a652" stroke-opacity=".5" stroke-width=".5"><path d="M226.3 526C226.5 531 226.5 524.7 219.5 529.7"/><path d="M220.8 518.1C236.5 523.1 236.5 568.2 235.1 573.2"/></g>
<g stroke="#ef8a30" stroke-opacity=".35" stroke-width=".4"><path d="M237.1 528.1C240.2 533.1 240.2 495.1 201.3 500.1"/><path d="M219.5 529.7C221.9 534.7 221.9 547.2 191.9 552.2"/></g>
<g stroke="#f4a652" stroke-opacity=".5" stroke-width=".4"><path d="M219.5 529.7C222.2 534.7 222.2 500.2 213.4 505.2"/><path d="M219.5 553.2C223 558.2 223 547.2 211.8 552.2"/><path d="M206.9 512.3C230.4 517.3 230.4 494.7 227.7 499.7"/></g>
<g stroke="#f29841" stroke-opacity=".5" stroke-width=".4"><path d="M240 566.1C241.5 571.1 241.5 506.3 192.1 511.3"/><path d="M232 562.4C234.8 567.4 234.8 493.6 220.6 498.6"/><path d="M213.4 505.2C240.2 510.2 240.2 523.1 237.1 528.1"/></g>
<g stroke="#ef8a30" stroke-opacity=".25" stroke-width=".5"><path d="M235.9 558.3C238.7 563.3 238.7 544.5 232.6 549.5"/></g>
<g stroke="#f4a652" stroke-opacity=".45" stroke-width=".3"><path d="M191.1 542.6C194.9 547.6 194.9 514.9 182.3 519.9"/></g>
<g stroke="#f4a652" stroke-opacity=".35" stroke-width=".5"><path d="M221.6 507.2C245.3 512.2 245.3 522.7 244 527.7"/><path d="M233 595.2C236.1 600.2 236.1 526.7 211 531.7"/></g>
<g stroke="#f4a652" stroke-opacity=".3" stroke-width=".5"><path d="M192.1 511.3C230.1 516.3 230.1 494.7 227.7 499.7"/><path d="M234.5 589.6C238.2 594.6 238.2 524.7 201.1 529.7"/></g>
<g stroke="#f4a652" stroke-opacity=".45" stroke-width=".5"><path d="M211 531.7C232.2 536.7 232.2 531.9 228.3 536.9"/><path d="M182.3 519.9C246.7 524.9 246.7 522.7 244 527.7"/><path d="M211 531.7C222.3 536.7 222.3 502.2 221.6 507.2"/><path d="M221.6 507.2C222.6 512.2 222.6 507.3 206.9 512.3"/></g>
<g stroke="#f6b463" stroke-opacity=".4" stroke-width=".3"><path d="M201.3 500.1C214.2 505.1 214.2 526.7 211 531.7"/></g>
<g stroke="#f4a652" stroke-opacity=".35" stroke-width=".6"><path d="M184.4 552.2C214.6 557.2 214.6 500.2 213.4 505.2"/></g>
<g stroke="#f6b463" stroke-opacity=".45" stroke-width=".3"><path d="M221.6 507.2C248.3 512.2 248.3 554.7 247.1 559.7"/></g>
<g stroke="#ef8a30" stroke-opacity=".5" stroke-width=".3"><path d="M219.5 529.7C221 534.7 221 493.6 220.6 498.6"/></g>
<g stroke="#ef8a30" stroke-opacity=".45" stroke-width=".3"><path d="M213.4 505.2C217.3 510.2 217.3 547.2 184.4 552.2"/><path d="M184.4 552.2C236.3 557.2 236.3 584.6 234.5 589.6"/></g>
<g stroke="#f6b463" stroke-opacity=".3" stroke-width=".6"><path d="M219.5 553.2C235.1 558.2 235.1 568.2 235.1 573.2"/></g>
<g stroke="#f9c274" stroke-opacity=".45" stroke-width=".5"><path d="M238.3 596.4C240.5 601.4 240.5 568.2 235.1 573.2"/><path d="M244 527.7C245 532.7 245 514.9 182.3 519.9"/></g>
<g stroke="#f29841" stroke-opacity=".45" stroke-width=".5"><path d="M213.4 505.2C237.3 510.2 237.3 584.6 234.5 589.6"/></g>
<g stroke="#f9c274" stroke-opacity=".45" stroke-width=".4"><path d="M239.7 584.7C241.2 589.7 241.2 550.2 204.8 555.2"/></g>
<g stroke="#f29841" stroke-opacity=".25" stroke-width=".5"><path d="M191.1 542.6C191.7 547.6 191.7 514.9 182.3 519.9"/></g>
<g stroke="#f9c274" stroke-opacity=".3" stroke-width=".4"><path d="M201.3 500.1C247.8 505.1 247.8 554.7 247.1 559.7"/><path d="M182.3 519.9C204.8 524.9 204.8 495.1 201.3 500.1"/></g>
<g stroke="#f9c274" stroke-opacity=".4" stroke-width=".4"><path d="M220.8 518.1C233.5 523.1 233.5 508.4 232.4 513.4"/></g>
<g stroke="#f29841" stroke-opacity=".3" stroke-width=".4"><path d="M206.9 512.3C238.2 517.3 238.2 523.1 237.1 528.1"/></g>
<g stroke="#f29841" stroke-opacity=".3" stroke-width=".6"><path d="M228.3 536.9C228.7 541.9 228.7 513.1 220.8 518.1"/></g>
<g stroke="#f9c274" stroke-opacity=".55" stroke-width=".4"><path d="M232 562.4C235.5 567.4 235.5 550.2 204.8 555.2"/></g>
<g stroke="#f29841" stroke-opacity=".4" stroke-width=".3"><path d="M233 595.2C234.5 600.2 234.5 548.2 219.5 553.2"/></g>
<g stroke="#ef8a30" stroke-opacity=".5" stroke-width=".5"><path d="M247.1 559.7C250.5 564.7 250.5 586.2 242 591.2"/></g>
<g stroke="#ef8a30" stroke-opacity=".3" stroke-width=".5"><path d="M206.9 512.3C236.2 517.3 236.2 508.4 232.4 513.4"/></g>
<g stroke="#f29841" stroke-opacity=".4" stroke-width=".6"><path d="M226.3 526C228.6 531 228.6 514.9 182.3 519.9"/></g>
<g stroke="#f29841" stroke-opacity=".3" stroke-width=".3"><path d="M234.5 589.6C236.2 594.6 236.2 553.3 235.9 558.3"/></g>
<g stroke="#f6b463" stroke-opacity=".5" stroke-width=".5"><path d="M247.1 559.7C248.8 564.7 248.8 491.6 211.6 496.6"/></g>
<g stroke="#f29841" stroke-opacity=".5" stroke-width=".5"><path d="M247.1 559.7C248.5 564.7 248.5 544.5 242.6 549.5"/><path d="M220.8 518.1C240.1 523.1 240.1 561.1 240 566.1"/></g>
<g stroke="#f9c274" stroke-opacity=".4" stroke-width=".3"><path d="M206.9 512.3C209.3 517.3 209.3 514.9 182.3 519.9"/></g>
<g stroke="#f6b463" stroke-opacity=".35" stroke-width=".4"><path d="M233 595.2C235.3 600.2 235.3 550.2 204.8 555.2"/></g>
<g stroke="#ef8a30" stroke-opacity=".5" stroke-width=".4"><path d="M211.6 496.6C251 501.6 251 554.7 247.1 559.7"/></g>
<g stroke="#f29841" stroke-opacity=".55" stroke-width=".5"><path d="M234.5 589.6C236 594.6 236 539 219.7 544"/></g>
<g stroke="#ef8a30" stroke-opacity=".45" stroke-width=".4"><path d="M232.6 549.5C233.5 554.5 233.5 502.2 221.6 507.2"/></g>
<g stroke="#f4a652" stroke-opacity=".45" stroke-width=".6"><path d="M238.3 596.4C241.6 601.4 241.6 547.2 184.4 552.2"/></g>
<g stroke="#f4a652" stroke-opacity=".3" stroke-width=".4"><path d="M201.3 500.1C240.8 505.1 240.8 591.4 238.3 596.4"/></g>
<g stroke="#f4a652" stroke-opacity=".3" stroke-width=".3"><path d="M247.1 559.7C251.1 564.7 251.1 553.3 235.9 558.3"/></g>
<g stroke="#f4a652" stroke-opacity=".5" stroke-width=".6"><path d="M244 527.7C247.8 532.7 247.8 526.7 211 531.7"/><path d="M184.4 552.2C229.8 557.2 229.8 521 226.3 526"/></g>
<g stroke="#f9c274" stroke-opacity=".5" stroke-width=".4"><path d="M211.8 552.2C242.7 557.2 242.7 579.7 239.7 584.7"/></g>
<g stroke="#f29841" stroke-opacity=".45" stroke-width=".3"><path d="M234.5 589.6C248.8 594.6 248.8 554.7 247.1 559.7"/></g>
<g stroke="#ef8a30" stroke-opacity=".4" stroke-width=".3"><path d="M192.1 511.3C225.4 516.3 225.4 502.2 221.6 507.2"/></g>
<g stroke="#f4a652" stroke-opacity=".4" stroke-width=".6"><path d="M219.7 544C222.7 549 222.7 547.2 211.8 552.2"/></g>
<g stroke="#f4a652" stroke-opacity=".4" stroke-width=".5"><path d="M192.1 511.3C235 516.3 235 557.4 232 562.4"/></g>
<g stroke="#f9c274" stroke-opacity=".35" stroke-width=".5"><path d="M206.9 512.3C243.8 517.3 243.8 586.2 242 591.2"/></g>
<g stroke="#f6b463" stroke-opacity=".45" stroke-width=".4"><path d="M244 527.7C246.1 532.7 246.1 508.4 232.4 513.4"/></g>
<g stroke="#f4a652" stroke-opacity=".35" stroke-width=".4"><path d="M228.3 536.9C236.2 541.9 236.2 553.3 235.9 558.3"/></g>
<g stroke="#f4a652" stroke-opacity=".35" stroke-width=".3"><path d="M211.8 552.2C247.7 557.2 247.7 522.7 244 527.7"/></g>
<g stroke="#ef8a30" stroke-opacity=".4" stroke-width=".4"><path d="M235.1 573.2C237.3 578.2 237.3 584.6 234.5 589.6"/></g>
<g stroke="#f29841" stroke-opacity=".35" stroke-width=".5"><path d="M202.4 519.9C222.3 524.9 222.3 502.2 221.6 507.2"/></g>
<g stroke="#d9400c" stroke-opacity=".65" stroke-width=".7"><path d="M237.1 528.1C243.5 533.1 243.5 579.7 239.7 584.7"/><path d="M232.6 549.5C237.6 554.5 237.6 584.6 234.5 589.6"/><path d="M240 566.1C244.8 571.1 244.8 561.1 240 566.1"/><path d="M184.4 552.2C236.8 557.2 236.8 590.2 233 595.2"/><path d="M228.3 536.9C242 541.9 242 579.7 239.7 584.7"/><path d="M240 566.1C241.8 571.1 241.8 568.2 235.1 573.2"/><path d="M226.3 526C238.5 531 238.5 584.6 234.5 589.6"/><path d="M238.3 596.4C242.2 601.4 242.2 553.3 235.9 558.3"/></g>
<g stroke="#d9400c" stroke-opacity=".5" stroke-width=".8"><path d="M237.1 528.1C239.5 533.1 239.5 550.2 204.8 555.2"/><path d="M219.5 553.2C233.5 558.2 233.5 557.4 232 562.4"/></g>
<g stroke="#d9400c" stroke-opacity=".5" stroke-width=".5"><path d="M219.5 553.2C239.2 558.2 239.2 553.3 235.9 558.3"/><path d="M237.1 528.1C240.7 533.1 240.7 584.6 234.5 589.6"/><path d="M239.7 584.7C244.1 589.7 244.1 561.1 240 566.1"/></g>
<g stroke="#d9400c" stroke-opacity=".6" stroke-width=".7"><path d="M242.6 549.5C246.2 554.5 246.2 591.4 238.3 596.4"/><path d="M237.1 528.1C243 533.1 243 586.2 242 591.2"/></g>
<g stroke="#d9400c" stroke-opacity=".55" stroke-width=".7"><path d="M219.5 529.7C239.8 534.7 239.8 568.2 235.1 573.2"/></g>
<g stroke="#d9400c" stroke-opacity=".6" stroke-width=".6"><path d="M219.5 529.7C236.9 534.7 236.9 584.6 234.5 589.6"/><path d="M242.6 549.5C245.6 554.5 245.6 568.2 235.1 573.2"/><path d="M239.7 584.7C243.2 589.7 243.2 557.4 232 562.4"/><path d="M219.5 529.7C237.7 534.7 237.7 590.2 233 595.2"/><path d="M235.1 573.2C237.8 578.2 237.8 590.2 233 595.2"/></g>
<g stroke="#d9400c" stroke-opacity=".65" stroke-width=".6"><path d="M232.6 549.5C236.9 554.5 236.9 584.6 234.5 589.6"/><path d="M237.1 528.1C240.9 533.1 240.9 557.4 232 562.4"/><path d="M204.8 555.2C235.6 560.2 235.6 557.4 232 562.4"/></g>
<g stroke="#d9400c" stroke-opacity=".65" stroke-width=".8"><path d="M235.1 573.2C250.5 578.2 250.5 554.7 247.1 559.7"/><path d="M235.9 558.3C239.7 563.3 239.7 584.6 234.5 589.6"/></g>
<g stroke="#d9400c" stroke-opacity=".5" stroke-width=".7"><path d="M237.1 528.1C240.2 533.1 240.2 568.2 235.1 573.2"/><path d="M235.9 558.3C240.8 563.3 240.8 553.3 235.9 558.3"/></g>
<g stroke="#d9400c" stroke-opacity=".6" stroke-width=".4"><path d="M219.7 544C236.7 549 236.7 584.6 234.5 589.6"/><path d="M238.3 596.4C240.4 601.4 240.4 557.4 232 562.4"/></g>
<g stroke="#d9400c" stroke-opacity=".55" stroke-width=".5"><path d="M219.5 553.2C238.9 558.2 238.9 568.2 235.1 573.2"/><path d="M191.1 542.6C234.7 547.6 234.7 590.2 233 595.2"/><path d="M242 591.2C243.8 596.2 243.8 591.4 238.3 596.4"/><path d="M233 595.2C243.6 600.2 243.6 586.2 242 591.2"/></g>
<g stroke="#d9400c" stroke-opacity=".7" stroke-width=".5"><path d="M242 591.2C243.8 596.2 243.8 584.6 234.5 589.6"/></g>
<g stroke="#d9400c" stroke-opacity=".7" stroke-width=".6"><path d="M239.7 584.7C243 589.7 243 553.3 235.9 558.3"/></g>
<g stroke="#d9400c" stroke-opacity=".5" stroke-width=".6"><path d="M233 595.2C239.7 600.2 239.7 591.4 238.3 596.4"/></g>
<g stroke="#d9400c" stroke-opacity=".55" stroke-width=".6"><path d="M191.9 552.2C234.7 557.2 234.7 590.2 233 595.2"/><path d="M235.1 573.2C237.8 578.2 237.8 584.6 234.5 589.6"/></g>
<g stroke="#d9400c" stroke-opacity=".45" stroke-width=".7"><path d="M242.6 549.5C247.4 554.5 247.4 557.4 232 562.4"/></g>
<g stroke="#d9400c" stroke-opacity=".55" stroke-width=".4"><path d="M234.5 589.6C243.2 594.6 243.2 579.7 239.7 584.7"/></g>
<g stroke="#d9400c" stroke-opacity=".45" stroke-width=".6"><path d="M219.5 529.7C250.9 534.7 250.9 554.7 247.1 559.7"/><path d="M232.6 549.5C240.5 554.5 240.5 591.4 238.3 596.4"/></g>
<g stroke="#d9400c" stroke-opacity=".65" stroke-width=".5"><path d="M184.4 552.2C241.6 557.2 241.6 561.1 240 566.1"/></g>
<g stroke="#d9400c" stroke-opacity=".65" stroke-width=".4"><path d="M235.9 558.3C241.6 563.3 241.6 591.4 238.3 596.4"/></g></g>
<g fill="none"><g stroke="#8a8a8a" stroke-opacity=".15" stroke-width=".4"><path d="M457.7 469.4Q493 528.8 542.7 521.6"/><path d="M478.6 562.1Q543.2 559.7 590 550.7"/><path d="M398 527.3Q509.2 551.9 625 545.1"/><path d="M398 527.3Q478.1 542.5 572.9 533.7"/><path d="M429 566.8Q499.8 570.5 590 550.7"/><path d="M490.4 520.9Q548.1 527.2 624.8 520.8"/><path d="M457.7 469.4Q526.1 571.9 590 550.7"/><path d="M448.9 622.4Q554.3 626.6 651.2 535.6"/><path d="M437.2 473.9Q507.1 571.4 594.5 552.1"/><path d="M476.5 526Q531.2 546.8 571.6 505.9"/><path d="M490.4 520.9Q522.1 530.5 542.7 521.6"/><path d="M495.6 578Q566.4 583.1 632.9 527.8"/><path d="M411.1 500.1Q493.9 550.8 572.9 533.7"/><path d="M491.4 606.5Q526.4 635.6 572.9 533.7"/><path d="M435.8 464.9Q517.2 547.7 590 550.7"/><path d="M496.1 568.7Q579.5 563.4 651.2 535.6"/><path d="M430.7 531.3Q535 524.8 624.8 520.8"/><path d="M411.1 500.1Q489.7 581 567 557.5"/><path d="M470.4 563.3Q529.4 559.3 571.6 546.4"/><path d="M495.6 578Q545.5 595.6 580.5 507.3"/><path d="M478.8 588.5Q505.9 614.8 542.7 521.6"/><path d="M422.3 504.8Q504.6 501.6 570.8 481.1"/><path d="M436.8 496Q501.2 571.6 571.6 546.4"/><path d="M422.3 506.2Q494.1 563.6 554 545.3"/><path d="M422.3 506.2Q506.4 557.6 571.6 546.4"/><path d="M420.9 584.6Q516.4 579.6 598.6 522.1"/><path d="M426.6 546.1Q509.7 570.3 577.8 522.4"/><path d="M476.5 526Q550.8 528.6 638.5 527"/><path d="M426.6 518.5Q496 551.7 567 557.5"/><path d="M457.7 531.1Q523 549.6 571.6 546.4"/><path d="M503.1 602.1Q522.4 606.6 557.5 525.1"/><path d="M426 563.3Q494.5 558.9 557.5 525.1"/><path d="M406.6 497.6Q491.6 549 590 550.7"/><path d="M454.3 591.6Q517.8 619.1 571.6 505.9"/><path d="M423.2 594.4Q528.1 598.8 651.2 535.6"/><path d="M478.6 562.1Q529.8 557.7 580.5 507.3"/><path d="M451.9 536.2Q526.5 547.2 589.9 535.1"/><path d="M434.2 541.4Q512.8 552.5 584.5 546.4"/><path d="M449.5 481.7Q530.3 555.3 611.5 542.6"/><path d="M485.7 486.4Q523.7 516 571.6 505.9"/><path d="M437.2 473.9Q531.8 556.5 638.5 527"/><path d="M434.2 541.4Q535.3 559.7 625 545.1"/><path d="M486.7 598.4Q535 592.8 584.5 546.4"/><path d="M458.7 571Q546.1 580.9 625 536.4"/><path d="M432.1 526.6Q525.3 550.2 615.6 533.2"/><path d="M422.3 506.2Q539 521.1 638.5 527"/><path d="M449.5 481.7Q542.4 528.1 651.2 535.6"/><path d="M478.6 562.1Q529.4 580.7 584.5 546.4"/><path d="M425.4 527Q492.1 530.6 577.8 515.6"/><path d="M420.9 584.6Q534.5 582.4 631 542.6"/><path d="M411.1 500.1Q510 579.4 594.5 552.1"/><path d="M420.9 584.6Q493.4 583.9 554 504.8"/><path d="M480.1 539.9Q520.3 557.7 570.8 494"/><path d="M480.1 539.9Q533.5 553.5 577.8 515.6"/><path d="M457.7 531.1Q514.7 555.6 589.9 535.1"/><path d="M457.8 609.1Q530.1 627.3 611.5 542.6"/><path d="M435.8 469.4Q508.2 499 591 493.2"/><path d="M457.7 469.4Q514.4 512.7 554 504.8"/><path d="M451.7 573.8Q509.7 601.9 578.3 495.9"/><path d="M438.4 584.6Q514.7 585.6 591 493.2"/><path d="M479.5 499Q560.3 540.5 632.9 527.8"/><path d="M429 566.8Q508.3 579.7 591 493.2"/><path d="M411.7 519.1Q491 542.3 572.9 533.7"/><path d="M426 572.2Q500.2 587.7 580.5 507.3"/><path d="M426 563.3Q486.5 554.3 558.9 515.6"/><path d="M438.4 584.6Q531.4 599.1 615.6 533.2"/><path d="M495.6 578Q533.6 571.5 589.9 535.1"/><path d="M426.6 518.5Q530.8 554.1 651.2 535.6"/><path d="M429 566.8Q509.7 580.7 591 563.4"/><path d="M456.6 526.6Q522.6 522.5 570.8 481.1"/><path d="M423.2 594.4Q519.5 596.6 632.9 527.8"/><path d="M435.8 464.9Q497 547.6 574.3 549.1"/><path d="M452 606.5Q523.6 618.9 577.8 522.4"/><path d="M448.9 622.4Q504.2 630 554 545.3"/><path d="M452 606.5Q522.2 610.5 577.8 515.6"/><path d="M449.5 481.7Q503.2 557.2 548.6 535.6"/><path d="M478.7 542.4Q532.2 561 589.9 535.1"/><path d="M458.7 571Q538 589.4 615.6 533.2"/><path d="M457.8 609.1Q516.4 601.3 577.8 515.6"/><path d="M422.3 504.8Q499 553.3 584.5 546.4"/><path d="M426 572.2Q506.7 587.7 570.8 481.1"/><path d="M477.5 535.8Q535.3 528 591 493.2"/><path d="M417.2 484.7Q517.2 539.1 624.8 520.8"/><path d="M437.2 473.9Q505.9 533.3 577.8 515.6"/><path d="M496.1 568.7Q564.7 591.3 638.5 527"/><path d="M436.8 496Q537.7 549.4 632.9 527.8"/><path d="M476.5 526Q561.2 526.7 643.7 528.9"/><path d="M470.4 563.3Q525.7 579.8 591 563.4"/><path d="M422.3 506.2Q483.3 507.1 554 504.8"/><path d="M406.6 497.6Q494.4 501.2 571.6 505.9"/><path d="M454.3 591.6Q505.4 612.7 574.3 549.1"/><path d="M433.3 573.4Q528.7 567.3 625 536.4"/><path d="M426.6 518.5Q492.7 508.6 577.8 515.6"/><path d="M503.6 512.3Q571.9 537 638.5 527"/><path d="M426.6 546.1Q500.6 569.1 567 557.5"/><path d="M411.7 519.1Q505.4 510.3 591 493.2"/><path d="M425.4 527Q494 537.2 542.7 521.6"/><path d="M432.1 526.6Q506.7 555.4 577.8 515.6"/><path d="M435.8 464.9Q487.3 504.1 554 504.8"/><path d="M467.3 486.4Q519.9 544.8 584.5 546.4"/><path d="M496.1 568.7Q546.6 587.7 590 550.7"/><path d="M451.9 536.2Q495.6 545.8 557.5 525.1"/><path d="M426 572.2Q516.3 568.5 598.6 522.1"/><path d="M478.6 562.1Q530.6 561.9 572.9 533.7"/><path d="M480.1 539.9Q516.7 532.3 557.5 525.1"/><path d="M454.6 475.5Q529.4 560.3 584.5 546.4"/><path d="M406.6 497.6Q488.9 575 574.3 549.1"/><path d="M422.3 504.8Q494.1 503.2 570.8 494"/><path d="M435.8 464.9Q518.3 509.5 591 493.2"/><path d="M433.3 573.4Q491.7 587.5 557.5 525.1"/><path d="M472.7 593.2Q557.9 612.8 624.8 520.8"/><path d="M503.1 602.1Q531.7 627.3 577.8 515.6"/><path d="M436.8 496Q489.8 546.4 542.7 521.6"/><path d="M426 563.3Q520.2 578.2 594.5 552.1"/><path d="M470.4 563.3Q510.5 588.4 557.5 525.1"/></g>
<g stroke="#8a8a8a" stroke-opacity=".2" stroke-width=".4"><path d="M478.7 542.4Q536 549.8 594.5 552.1"/><path d="M435.8 469.4Q510.3 531.8 580.5 507.3"/><path d="M423.2 594.4Q502.4 618.6 580.5 507.3"/><path d="M486.3 506.2Q552.2 534.5 598.6 522.1"/><path d="M477.5 535.8Q507 557.3 548.6 535.6"/><path d="M480.1 539.9Q538.4 536.5 589.9 535.1"/><path d="M477.5 535.8Q548.7 556.2 638.5 527"/><path d="M432.1 526.6Q508.7 544.3 594.5 552.1"/><path d="M437.2 473.9Q544.7 556.7 643.7 528.9"/><path d="M490.4 520.9Q532.6 533.4 557.5 525.1"/><path d="M467.3 486.4Q501.8 523.9 554 504.8"/><path d="M486.7 598.4Q569.7 589.3 632.9 527.8"/><path d="M430.7 531.3Q506.5 557.3 567 557.5"/><path d="M477.5 535.8Q553.6 571.9 625 545.1"/><path d="M478.7 542.4Q517.1 535.6 548.6 535.6"/><path d="M451.7 573.8Q524.8 567.9 611.5 542.6"/><path d="M437.2 473.9Q498.6 530.2 577.8 515.6"/><path d="M472.7 593.2Q560.1 584.2 643.7 528.9"/><path d="M432.1 526.6Q538.4 562.3 631 542.6"/><path d="M425.4 527Q503.1 533.4 577.8 522.4"/><path d="M477.5 535.8Q523.5 552.3 577.8 522.4"/><path d="M435.8 469.4Q497.5 574.8 567 557.5"/><path d="M498 573.4Q526.2 574 570.8 494"/><path d="M467.3 486.4Q510.6 511.4 570.8 481.1"/><path d="M430.7 531.3Q534.8 567.6 625 545.1"/><path d="M420.9 584.6Q491.6 585.9 580.5 507.3"/><path d="M426.6 546.1Q491.8 556.5 554 504.8"/><path d="M438.4 584.6Q507.6 582.8 570.8 494"/><path d="M422.3 506.2Q493 517 580.5 507.3"/><path d="M435.2 529.7Q508.5 536.3 578.3 495.9"/><path d="M423.2 594.4Q493.5 608.5 571.6 505.9"/><path d="M490.4 520.9Q554.7 537.7 624.8 520.8"/><path d="M467.3 486.4Q513.5 552.5 572.9 533.7"/><path d="M467.3 486.4Q520.3 572.8 571.6 546.4"/><path d="M426.6 546.1Q499.4 565.5 577.8 515.6"/><path d="M495.6 578Q558.3 586.3 611.5 542.6"/><path d="M451.7 573.8Q530.7 573.6 611.5 542.6"/><path d="M450.5 583.4Q513.4 580.9 590 550.7"/><path d="M495.6 578Q556.4 570.3 624.8 520.8"/><path d="M503.6 512.3Q538.8 586.4 591 563.4"/><path d="M426 563.3Q514.7 578 590 550.7"/><path d="M434.2 518.5Q515.3 549.2 577.8 522.4"/><path d="M406.6 497.6Q487.8 517.5 558.9 515.6"/><path d="M438.4 584.6Q517 605.5 598.6 522.1"/><path d="M503.6 512.3Q545.5 569.1 574.3 549.1"/><path d="M448.9 622.4Q509.1 619.1 554 545.3"/><path d="M426 563.3Q489 561.2 557.5 525.1"/><path d="M448.9 622.4Q512.4 631.1 571.6 505.9"/><path d="M491.4 606.5Q533.3 619.7 570.8 481.1"/><path d="M411.7 519.1Q485.5 524 577.8 522.4"/><path d="M425.4 527Q532.3 552.6 643.7 528.9"/><path d="M480.1 539.9Q521.3 562.2 574.3 549.1"/><path d="M470.4 563.3Q517.6 564.8 571.6 546.4"/><path d="M422.3 506.2Q479.8 552.4 548.6 535.6"/><path d="M458.7 571Q509.3 588.8 557.5 525.1"/><path d="M411.7 519.1Q478.1 541.6 557.5 525.1"/><path d="M435.8 469.4Q509.6 523.1 577.8 522.4"/><path d="M432.1 526.6Q532.7 554.2 625 545.1"/><path d="M470.4 563.3Q531.2 556.3 589.9 535.1"/><path d="M479.5 499Q529.2 567.1 590 550.7"/><path d="M422.3 504.8Q481.7 508.9 558.9 515.6"/><path d="M411.7 519.1Q493.3 551.4 571.6 546.4"/></g>
<g stroke="#8a8a8a" stroke-opacity=".1" stroke-width=".4"><path d="M429 566.8Q525.3 592.9 611.5 542.6"/><path d="M491.4 606.5Q542.6 618.6 580.5 507.3"/><path d="M454.3 591.6Q508.2 602.2 572.9 533.7"/><path d="M454.3 591.6Q536.8 598.4 625 545.1"/><path d="M426 572.2Q503 585.8 577.8 522.4"/><path d="M426.6 546.1Q494.2 540.8 577.8 515.6"/><path d="M476.5 526Q528.7 570.2 590 550.7"/><path d="M454.6 475.5Q492.2 535.5 542.7 521.6"/><path d="M437.2 473.9Q506.7 509.3 577.8 515.6"/><path d="M406.6 497.6Q479.5 532.4 558.9 515.6"/><path d="M406.6 497.6Q496.3 495.7 570.8 494"/><path d="M434.2 541.4Q491.9 558.4 554 504.8"/><path d="M454.3 591.6Q503.9 594.4 554 545.3"/><path d="M457.7 469.4Q516 553 589.9 535.1"/><path d="M420.9 584.6Q512.3 600.1 591 493.2"/><path d="M438.4 584.6Q490.5 580.2 554 504.8"/><path d="M477.5 535.8Q524.8 546.6 558.9 515.6"/><path d="M452 606.5Q541.8 631.2 632.9 527.8"/><path d="M496.1 568.7Q524.4 581 558.9 515.6"/><path d="M486.7 598.4Q532.3 621.4 567 557.5"/><path d="M432.1 526.6Q512.1 552.7 594.5 552.1"/><path d="M456.6 526.6Q524.2 565.3 574.3 549.1"/><path d="M457.8 609.1Q520.7 603.5 594.5 552.1"/><path d="M426.6 546.1Q487.1 569 567 557.5"/><path d="M478.8 588.5Q533.5 597.8 571.6 546.4"/><path d="M423.2 594.4Q493.9 594.8 571.6 546.4"/><path d="M417.2 484.7Q499 505 571.6 505.9"/><path d="M503.6 512.3Q576.2 549.9 651.2 535.6"/><path d="M411.7 519.1Q485 556.2 572.9 533.7"/><path d="M411.7 519.1Q490.1 563.8 584.5 546.4"/><path d="M422.3 506.2Q518.9 514.9 598.6 522.1"/><path d="M437.8 542Q508.8 554.8 584.5 546.4"/><path d="M422.3 506.2Q515.1 525.1 589.9 535.1"/><path d="M498 573.4Q543.1 601.3 589.9 535.1"/><path d="M490.4 520.9Q569.3 556.2 632.9 527.8"/><path d="M457.8 609.1Q531.6 623.9 589.9 535.1"/><path d="M426 572.2Q518.1 565.8 611.5 542.6"/><path d="M450.5 583.4Q514 602.8 574.3 549.1"/><path d="M451.9 536.2Q534.1 533.3 615.6 533.2"/><path d="M437.8 542Q512.1 547.2 571.6 546.4"/><path d="M451.9 536.2Q511.2 553.3 554 545.3"/><path d="M434.2 541.4Q490.7 573.2 554 545.3"/><path d="M434.2 518.5Q508.5 554 572.9 533.7"/><path d="M498 573.4Q580 586.1 643.7 528.9"/><path d="M485.7 486.4Q530.8 536.7 584.5 546.4"/><path d="M478.7 542.4Q518.1 565.2 558.9 515.6"/><path d="M478.7 542.4Q551.9 567.8 625 545.1"/><path d="M457.7 531.1Q544.1 541.3 632.9 527.8"/><path d="M436.8 496Q493 567.3 567 557.5"/><path d="M478.7 542.4Q535.8 561.4 590 550.7"/><path d="M470.4 563.3Q527.1 579.7 578.3 495.9"/><path d="M479.5 499Q516.9 558.5 571.6 546.4"/><path d="M398 527.3Q513.3 531.5 624.8 520.8"/></g>
<g stroke="#f39a45" stroke-opacity=".25" stroke-width=".3"><path d="M497.3 624.3Q581.3 622.3 624.8 520.8"/><path d="M487.9 638.8Q541.5 641.8 577.8 522.4"/></g>
<g stroke="#f39a45" stroke-opacity=".25" stroke-width=".5"><path d="M499.6 625.2Q551.6 613.3 589.9 535.1"/></g>
<g stroke="#f39a45" stroke-opacity=".4" stroke-width=".4"><path d="M497.3 624.3Q557.7 601.5 625 536.4"/><path d="M497.3 624.3Q542.5 633.4 542.7 521.6"/><path d="M461 640.6Q521 623.6 554 504.8"/><path d="M448.9 622.4Q548.7 631.1 638.5 527"/></g>
<g stroke="#f39a45" stroke-opacity=".4" stroke-width=".6"><path d="M452 606.5Q511.8 613.8 580.5 507.3"/><path d="M501 634.8Q565.1 621.1 632.9 527.8"/><path d="M448.9 622.4Q536.7 604.9 643.7 528.9"/><path d="M487.9 638.8Q538.4 631.9 577.8 522.4"/><path d="M487.9 638.8Q592 646.1 651.2 535.6"/></g>
<g stroke="#f39a45" stroke-opacity=".45" stroke-width=".6"><path d="M499.6 625.2Q598.2 600.2 651.2 535.6"/></g>
<g stroke="#f39a45" stroke-opacity=".35" stroke-width=".5"><path d="M476.5 644.1Q526 617.1 577.8 515.6"/><path d="M458.7 571Q534.4 554.3 625 545.1"/><path d="M476.5 644.1Q517.4 629.7 570.8 494"/><path d="M450.5 583.4Q540.5 557.7 625 545.1"/><path d="M458.3 626.6Q529.6 631 577.8 522.4"/><path d="M448.9 622.4Q534.5 592.7 638.5 527"/><path d="M481.6 625.9Q531.5 622.9 578.3 495.9"/></g>
<g stroke="#f39a45" stroke-opacity=".4" stroke-width=".3"><path d="M481.6 625.9Q513.1 604.3 542.7 521.6"/></g>
<g stroke="#f39a45" stroke-opacity=".3" stroke-width=".5"><path d="M458.7 571Q557.5 546 625 545.1"/><path d="M450.5 583.4Q533.4 570.3 611.5 542.6"/><path d="M448.9 622.4Q561.4 614.5 638.5 527"/><path d="M470.4 563.3Q549.8 540.2 591 563.4"/><path d="M470.4 563.3Q546.4 546.7 591 563.4"/></g>
<g stroke="#f39a45" stroke-opacity=".25" stroke-width=".4"><path d="M499.6 625.2Q541.2 633.8 542.7 521.6"/><path d="M452 606.5Q536.5 589.7 611.5 542.6"/><path d="M448.9 622.4Q537.7 622.2 578.3 495.9"/><path d="M452 606.5Q516.3 583.7 591 563.4"/><path d="M472.7 593.2Q534.8 567.7 578.3 495.9"/><path d="M472.7 593.2Q532.9 574.9 611.5 542.6"/><path d="M448.9 622.4Q515.8 622.8 572.9 533.7"/><path d="M458.7 571Q522.3 542.2 578.3 495.9"/></g>
<g stroke="#f39a45" stroke-opacity=".35" stroke-width=".4"><path d="M501 634.8Q541.7 616.4 577.8 515.6"/><path d="M450.5 583.4Q507.5 562.6 571.6 505.9"/><path d="M472.7 593.2Q529.2 587.2 580.5 507.3"/></g>
<g stroke="#f39a45" stroke-opacity=".25" stroke-width=".6"><path d="M497.3 624.3Q542 617.3 542.7 521.6"/><path d="M452 606.5Q524.7 593.5 578.3 495.9"/><path d="M501 634.8Q579.3 620.1 638.5 527"/><path d="M487.9 638.8Q544.2 612.6 577.8 515.6"/></g>
<g stroke="#f39a45" stroke-opacity=".35" stroke-width=".3"><path d="M458.3 626.6Q524.6 600.5 577.8 522.4"/><path d="M501 634.8Q532.9 631.2 554 545.3"/></g>
<g stroke="#f39a45" stroke-opacity=".3" stroke-width=".3"><path d="M497.3 624.3Q570.4 598.3 651.2 535.6"/></g>
<g stroke="#f39a45" stroke-opacity=".45" stroke-width=".4"><path d="M501 634.8Q584.5 641.5 643.7 528.9"/><path d="M501 634.8Q573.5 609.8 611.5 542.6"/></g>
<g stroke="#f39a45" stroke-opacity=".4" stroke-width=".5"><path d="M474.6 623.6Q587.6 624.5 651.2 535.6"/><path d="M501 634.8Q551.8 613.1 578.3 495.9"/></g>
<g stroke="#f39a45" stroke-opacity=".2" stroke-width=".5"><path d="M476.5 644.1Q540.3 614.3 570.8 494"/></g>
<g stroke="#f39a45" stroke-opacity=".45" stroke-width=".5"><path d="M487.9 638.8Q542.5 634.5 554 545.3"/><path d="M497.3 624.3Q572.6 613 651.2 535.6"/><path d="M452 606.5Q566 615.8 643.7 528.9"/><path d="M497.3 624.3Q516.4 609.7 542.7 521.6"/></g>
<g stroke="#f39a45" stroke-opacity=".2" stroke-width=".6"><path d="M448.9 622.4Q545.2 597.1 651.2 535.6"/><path d="M487.9 638.8Q552.7 638.4 590 550.7"/></g>
<g stroke="#f39a45" stroke-opacity=".35" stroke-width=".6"><path d="M450.5 583.4Q523.3 571.2 590 550.7"/><path d="M448.9 622.4Q519.5 622.2 577.8 522.4"/><path d="M501 634.8Q549.1 625.5 574.3 549.1"/></g>
<g stroke="#f39a45" stroke-opacity=".3" stroke-width=".4"><path d="M451.9 631.8Q536.6 615 572.9 533.7"/><path d="M461 640.6Q539.1 624 632.9 527.8"/></g>
<g stroke="#ec7b37" stroke-opacity=".55" stroke-width=".7"><path d="M423.2 594.4Q452.2 604.7 478.8 588.5"/><path d="M472.7 593.2Q469.9 595.9 474.6 623.6"/><path d="M449.5 481.7Q441.9 539.4 450.5 583.4"/></g>
<g stroke="#e24e0e" stroke-opacity=".3" stroke-width=".7"><path d="M406.6 497.6Q441 560.3 486.7 598.4"/><path d="M451.9 631.8Q443.6 595.1 450.5 583.4"/></g>
<g stroke="#f6a860" stroke-opacity=".3" stroke-width=".5"><path d="M501 634.8Q488.1 562.9 486.3 506.2"/><path d="M426.6 546.1Q437.3 596.4 461 640.6"/></g>
<g stroke="#e76422" stroke-opacity=".65" stroke-width=".5"><path d="M495.6 578Q474.4 551.8 476.5 526"/></g>
<g stroke="#ec7b37" stroke-opacity=".35" stroke-width=".4"><path d="M470.4 563.3Q442.4 534 430.7 531.3"/><path d="M499.6 625.2Q465 541.2 449.5 481.7"/><path d="M451.7 573.8Q466.8 569.8 470.4 563.3"/><path d="M487.9 638.8Q471.7 633.1 448.9 622.4"/><path d="M456.6 526.6Q456.6 485.9 435.8 469.4"/><path d="M438.4 584.6Q430 545.5 413.1 532.8"/></g>
<g stroke="#f6a860" stroke-opacity=".6" stroke-width=".6"><path d="M490.4 520.9Q441.6 500.3 417.2 484.7"/></g>
<g stroke="#e76422" stroke-opacity=".6" stroke-width=".7"><path d="M452 606.5Q459.6 612 474.6 623.6"/><path d="M425.4 527Q461.5 572.1 474.6 623.6"/><path d="M426.6 518.5Q450.5 510.3 449.5 481.7"/><path d="M501 634.8Q493.6 628.7 486.7 598.4"/><path d="M437.2 473.9Q464.8 549.2 497.3 624.3"/></g>
<g stroke="#ec7b37" stroke-opacity=".5" stroke-width=".6"><path d="M434.2 541.4Q462.7 526.4 503.6 512.3"/><path d="M434.2 518.5Q475.1 553.8 491.4 606.5"/></g>
<g stroke="#ec7b37" stroke-opacity=".5" stroke-width=".5"><path d="M438.4 584.6Q431.4 593.8 451.7 573.8"/><path d="M495.6 578Q478.5 626 476.5 644.1"/><path d="M435.8 469.4Q446.6 550.6 452 606.5"/><path d="M430.7 531.3Q431.8 537 451.9 536.2"/><path d="M498 573.4Q444.2 533.8 411.7 519.1"/><path d="M435.8 469.4Q460.2 522.5 486.7 598.4"/></g>
<g stroke="#ec7b37" stroke-opacity=".6" stroke-width=".7"><path d="M479.5 499Q489 547.7 472.7 593.2"/><path d="M503.1 602.1Q498.1 578.5 478.6 562.1"/><path d="M486.7 598.4Q449.9 573.5 435.2 529.7"/></g>
<g stroke="#e76422" stroke-opacity=".35" stroke-width=".6"><path d="M451.9 631.8Q458.2 589.1 470.4 563.3"/><path d="M434.2 541.4Q433.6 524.4 425.4 527"/><path d="M438.4 584.6Q448.3 609.2 448.9 622.4"/></g>
<g stroke="#ec7b37" stroke-opacity=".4" stroke-width=".4"><path d="M425.4 527Q431 556.9 413.9 581.5"/><path d="M413.9 581.5Q444.3 590.4 498 573.4"/><path d="M454.3 591.6Q455 553.6 430.7 531.3"/><path d="M503.6 512.3Q478.6 477.6 435.8 469.4"/><path d="M485.7 486.4Q454.7 503.5 436.8 496"/></g>
<g stroke="#e76422" stroke-opacity=".55" stroke-width=".5"><path d="M437.8 542Q461.7 565.4 457.8 609.1"/><path d="M413.1 532.8Q436.9 514.6 454.6 475.5"/><path d="M476.5 644.1Q466.8 565 436.8 496"/></g>
<g stroke="#f1924c" stroke-opacity=".4" stroke-width=".6"><path d="M486.7 598.4Q457.6 577.2 451.7 573.8"/></g>
<g stroke="#ec7b37" stroke-opacity=".65" stroke-width=".8"><path d="M461 640.6Q472.2 554.1 485.7 486.4"/><path d="M495.6 578Q500.8 610.2 476.5 644.1"/><path d="M423.2 594.4Q471.4 598 503.1 602.1"/></g>
<g stroke="#ec7b37" stroke-opacity=".3" stroke-width=".7"><path d="M503.6 512.3Q475.6 524.2 422.3 506.2"/><path d="M423.2 594.4Q464.1 602.7 487.9 638.8"/><path d="M491.4 606.5Q451.9 575.4 426 563.3"/><path d="M450.5 583.4Q448.6 537.6 435.8 464.9"/></g>
<g stroke="#e76422" stroke-opacity=".65" stroke-width=".6"><path d="M454.3 591.6Q466.7 600.9 478.8 588.5"/><path d="M457.8 609.1Q448.7 571.8 430.7 531.3"/><path d="M426 572.2Q441.1 549.2 476.5 526"/><path d="M501 634.8Q492.4 637.7 458.3 626.6"/></g>
<g stroke="#f1924c" stroke-opacity=".6" stroke-width=".4"><path d="M451.9 536.2Q467.1 561.6 470.4 563.3"/><path d="M476.5 644.1Q497.2 623.4 491.4 606.5"/></g>
<g stroke="#f6a860" stroke-opacity=".65" stroke-width=".7"><path d="M479.5 499Q480.7 544.4 498 573.4"/></g>
<g stroke="#ec7b37" stroke-opacity=".5" stroke-width=".4"><path d="M432.1 526.6Q462.8 518.4 467.3 486.4"/><path d="M406.6 497.6Q416.9 559 448.9 622.4"/></g>
<g stroke="#e76422" stroke-opacity=".55" stroke-width=".8"><path d="M417.2 484.7Q437.7 513 458.7 571"/></g>
<g stroke="#ec7b37" stroke-opacity=".6" stroke-width=".8"><path d="M438.4 584.6Q431.2 546.3 406.6 497.6"/></g>
<g stroke="#e76422" stroke-opacity=".5" stroke-width=".5"><path d="M457.7 469.4Q452.8 495.1 476.5 526"/><path d="M434.2 518.5Q456.2 571.3 487.9 638.8"/><path d="M470.4 563.3Q482.7 601.4 476.5 644.1"/><path d="M501 634.8Q466.2 617.4 452 606.5"/></g>
<g stroke="#e76422" stroke-opacity=".45" stroke-width=".6"><path d="M458.3 626.6Q466.7 604 458.7 571"/><path d="M497.3 624.3Q467.1 617.2 448.9 622.4"/><path d="M432.1 526.6Q432 542 429 566.8"/><path d="M457.7 469.4Q434.2 528.5 433.3 573.4"/></g>
<g stroke="#e76422" stroke-opacity=".55" stroke-width=".6"><path d="M477.5 535.8Q468.6 507.6 435.8 464.9"/><path d="M426.6 518.5Q451.5 570.4 472.7 593.2"/><path d="M457.7 469.4Q446.6 519.7 454.3 591.6"/></g>
<g stroke="#f1924c" stroke-opacity=".65" stroke-width=".5"><path d="M413.1 532.8Q424.9 543.8 429 566.8"/><path d="M450.5 583.4Q445 575.6 458.7 571"/></g>
<g stroke="#f1924c" stroke-opacity=".55" stroke-width=".8"><path d="M458.7 571Q465.4 546.5 486.3 506.2"/><path d="M430.7 531.3Q413.2 518.7 411.1 500.1"/></g>
<g stroke="#ec7b37" stroke-opacity=".45" stroke-width=".7"><path d="M430.7 531.3Q430.6 565.9 413.9 581.5"/><path d="M448.9 622.4Q466.5 622.2 458.3 626.6"/><path d="M426.6 518.5Q418.7 529.5 413.1 532.8"/></g>
<g stroke="#e76422" stroke-opacity=".4" stroke-width=".4"><path d="M491.4 606.5Q459.3 565.5 435.2 529.7"/><path d="M422.3 506.2Q450.3 533.4 495.6 578"/></g>
<g stroke="#ec7b37" stroke-opacity=".45" stroke-width=".4"><path d="M413.9 581.5Q454.5 594.1 497.3 624.3"/><path d="M476.5 526Q479.8 567 501 634.8"/><path d="M430.7 531.3Q443.2 522.2 434.2 518.5"/><path d="M485.7 486.4Q477.2 531.2 451.7 573.8"/></g>
<g stroke="#f1924c" stroke-opacity=".4" stroke-width=".7"><path d="M417.2 484.7Q424.2 550.5 461 640.6"/><path d="M438.4 584.6Q472 588.6 488.2 592"/><path d="M478.8 588.5Q457.9 572.9 451.7 573.8"/></g>
<g stroke="#f1924c" stroke-opacity=".55" stroke-width=".4"><path d="M426.6 546.1Q452.5 578.6 486.7 598.4"/><path d="M423.2 594.4Q459.6 573.1 478.6 562.1"/><path d="M437.2 473.9Q449 561.7 448.9 622.4"/><path d="M495.6 578Q471.9 600 461 640.6"/><path d="M454.3 591.6Q474.8 558.3 479.5 499"/><path d="M449.5 481.7Q425.4 488.9 411.1 500.1"/></g>
<g stroke="#ec7b37" stroke-opacity=".35" stroke-width=".6"><path d="M485.7 486.4Q470.9 533 478.6 562.1"/><path d="M486.3 506.2Q502 501.1 503.6 512.3"/><path d="M422.3 504.8Q463.6 546.8 503.1 602.1"/><path d="M496.1 568.7Q477.3 560.5 470.4 563.3"/><path d="M457.7 469.4Q462.7 509.6 457.7 531.1"/><path d="M457.8 609.1Q444.4 568.1 426.6 518.5"/><path d="M476.5 644.1Q441.5 598.5 430.7 531.3"/></g>
<g stroke="#ec7b37" stroke-opacity=".3" stroke-width=".8"><path d="M398 527.3Q413.9 532.1 411.7 519.1"/><path d="M429 566.8Q439.9 521.4 454.6 475.5"/></g>
<g stroke="#f1924c" stroke-opacity=".35" stroke-width=".7"><path d="M448.9 622.4Q440.4 572.8 435.2 529.7"/><path d="M451.9 631.8Q454.8 573.9 477.5 535.8"/><path d="M432.1 526.6Q419.8 500 406.6 497.6"/><path d="M458.3 626.6Q463.2 621 497.3 624.3"/><path d="M426 563.3Q433.2 591.4 458.3 626.6"/><path d="M452 606.5Q459.1 594.8 472.7 593.2"/><path d="M422.3 504.8Q469.7 551.4 499.6 625.2"/><path d="M426 563.3Q417.9 571.1 438.4 584.6"/></g>
<g stroke="#f6a860" stroke-opacity=".35" stroke-width=".6"><path d="M450.5 583.4Q441.9 599.5 423.2 594.4"/><path d="M449.5 481.7Q463.5 507.9 478.6 562.1"/><path d="M474.6 623.6Q443.7 531.6 435.8 469.4"/></g>
<g stroke="#ec7b37" stroke-opacity=".35" stroke-width=".7"><path d="M452 606.5Q480.9 566.9 480.1 539.9"/><path d="M426 572.2Q455.1 569.8 472.7 593.2"/></g>
<g stroke="#f1924c" stroke-opacity=".35" stroke-width=".6"><path d="M480.1 539.9Q469.3 533 434.2 518.5"/><path d="M450.5 583.4Q476.1 534.4 503.6 512.3"/></g>
<g stroke="#f1924c" stroke-opacity=".55" stroke-width=".7"><path d="M435.2 529.7Q423.4 532.2 398 527.3"/><path d="M435.8 469.4Q454.4 516 495.6 578"/><path d="M426.6 518.5Q419.2 524.6 411.7 519.1"/><path d="M436.8 496Q472.9 557.2 491.4 606.5"/><path d="M451.9 631.8Q470.3 568.7 476.5 526"/></g>
<g stroke="#ec7b37" stroke-opacity=".55" stroke-width=".6"><path d="M425.4 527Q465.9 553.3 495.6 578"/><path d="M437.8 542Q454.3 594.7 481.6 625.9"/><path d="M467.3 486.4Q477 550.7 476.5 644.1"/></g>
<g stroke="#f1924c" stroke-opacity=".6" stroke-width=".6"><path d="M454.6 475.5Q413.2 510.9 398 527.3"/><path d="M488.2 592Q470.8 538.3 454.6 475.5"/><path d="M451.9 631.8Q460.3 580.8 476.5 526"/></g>
<g stroke="#f1924c" stroke-opacity=".5" stroke-width=".7"><path d="M435.2 529.7Q443.1 515.9 426.6 518.5"/><path d="M432.1 526.6Q445.5 583.8 461 640.6"/><path d="M434.2 541.4Q435.1 506.8 435.8 464.9"/></g>
<g stroke="#f1924c" stroke-opacity=".35" stroke-width=".5"><path d="M422.3 506.2Q431.1 559.2 454.3 591.6"/><path d="M451.9 536.2Q462.9 580.7 448.9 622.4"/><path d="M470.4 563.3Q471.6 612.3 451.9 631.8"/></g>
<g stroke="#f6a860" stroke-opacity=".35" stroke-width=".7"><path d="M452 606.5Q475.4 598.5 503.1 602.1"/><path d="M458.3 626.6Q446.8 569.9 430.7 531.3"/></g>
<g stroke="#ec7b37" stroke-opacity=".3" stroke-width=".4"><path d="M435.8 464.9Q443.4 518.2 472.7 593.2"/><path d="M457.7 531.1Q443 527.3 422.3 504.8"/><path d="M426.6 546.1Q440.7 536 456.6 526.6"/></g>
<g stroke="#f1924c" stroke-opacity=".45" stroke-width=".4"><path d="M478.7 542.4Q481.8 513.9 486.3 506.2"/><path d="M413.1 532.8Q400.4 536.1 398 527.3"/></g>
<g stroke="#ec7b37" stroke-opacity=".6" stroke-width=".5"><path d="M426 563.3Q425.5 545.1 426.6 518.5"/><path d="M476.5 644.1Q465.8 610.4 458.7 571"/></g>
<g stroke="#e24e0e" stroke-opacity=".35" stroke-width=".4"><path d="M454.3 591.6Q443.8 596.1 457.8 609.1"/><path d="M429 566.8Q416.1 546.9 398 527.3"/><path d="M420.9 584.6Q463.8 609.2 501 634.8"/><path d="M478.6 562.1Q458.5 581.6 452 606.5"/></g>
<g stroke="#ec7b37" stroke-opacity=".65" stroke-width=".7"><path d="M451.9 631.8Q444.7 638.2 458.3 626.6"/><path d="M426.6 518.5Q439.8 547 433.3 573.4"/><path d="M411.7 519.1Q406.7 513.4 422.3 506.2"/></g>
<g stroke="#f1924c" stroke-opacity=".6" stroke-width=".5"><path d="M398 527.3Q418.6 518.7 411.7 519.1"/><path d="M426 563.3Q462.2 575.5 472.7 593.2"/><path d="M426 572.2Q443.8 595.1 486.7 598.4"/><path d="M496.1 568.7Q502.1 542 480.1 539.9"/></g>
<g stroke="#ec7b37" stroke-opacity=".55" stroke-width=".4"><path d="M426.6 546.1Q407 530.6 413.1 532.8"/><path d="M452 606.5Q447.7 597 438.4 584.6"/><path d="M476.5 644.1Q450.8 567.1 417.2 484.7"/><path d="M411.7 519.1Q443.4 548.9 495.6 578"/><path d="M417.2 484.7Q444.5 532.3 498 573.4"/></g>
<g stroke="#f6a860" stroke-opacity=".55" stroke-width=".6"><path d="M451.9 631.8Q480.4 615.4 498 573.4"/><path d="M426.6 518.5Q433.7 525.4 422.3 504.8"/><path d="M436.8 496Q458.2 519.7 498 573.4"/><path d="M485.7 486.4Q472.1 524.1 433.3 573.4"/></g>
<g stroke="#f1924c" stroke-opacity=".45" stroke-width=".7"><path d="M423.2 594.4Q419.7 530.2 435.8 469.4"/><path d="M472.7 593.2Q467.1 538.8 437.2 473.9"/></g>
<g stroke="#f6a860" stroke-opacity=".6" stroke-width=".4"><path d="M413.1 532.8Q456.2 535.9 470.4 563.3"/><path d="M449.5 481.7Q457.4 527.5 454.3 591.6"/><path d="M435.8 464.9Q446.1 492.5 480.1 539.9"/><path d="M426.6 518.5Q450 571.2 457.8 609.1"/></g>
<g stroke="#ec7b37" stroke-opacity=".55" stroke-width=".5"><path d="M426.6 546.1Q429.2 516.9 457.7 469.4"/><path d="M434.2 541.4Q449.2 511.3 435.8 464.9"/><path d="M477.5 535.8Q503.5 595 501 634.8"/><path d="M426.6 518.5Q426.7 512.1 417.2 484.7"/><path d="M434.2 541.4Q426.2 528.2 411.7 519.1"/></g>
<g stroke="#ec7b37" stroke-opacity=".65" stroke-width=".6"><path d="M454.6 475.5Q482 536.4 496.1 568.7"/><path d="M480.1 539.9Q436.1 507.6 406.6 497.6"/><path d="M486.3 506.2Q469.2 567 452 606.5"/></g>
<g stroke="#e76422" stroke-opacity=".3" stroke-width=".8"><path d="M435.8 469.4Q438.3 556.2 458.3 626.6"/><path d="M406.6 497.6Q426.3 548.6 448.9 622.4"/><path d="M449.5 481.7Q435 508.5 413.1 532.8"/></g>
<g stroke="#f1924c" stroke-opacity=".3" stroke-width=".4"><path d="M420.9 584.6Q461.1 594.2 474.6 623.6"/><path d="M457.8 609.1Q455.7 561.6 478.7 542.4"/><path d="M451.9 631.8Q438.7 579 411.1 500.1"/><path d="M476.5 526Q482.2 577.1 499.6 625.2"/></g>
<g stroke="#e24e0e" stroke-opacity=".45" stroke-width=".4"><path d="M426 563.3Q444.2 532.3 437.2 473.9"/><path d="M497.3 624.3Q477.5 554.4 435.8 464.9"/></g>
<g stroke="#ec7b37" stroke-opacity=".4" stroke-width=".6"><path d="M435.2 529.7Q443 510.8 437.2 473.9"/><path d="M429 566.8Q444.1 548.1 432.1 526.6"/><path d="M472.7 593.2Q441.3 575.1 434.2 541.4"/><path d="M454.3 591.6Q457.1 611.5 452 606.5"/><path d="M426.6 546.1Q427.6 559.6 426 572.2"/><path d="M451.9 631.8Q434.7 596 413.1 532.8"/></g>
<g stroke="#f6a860" stroke-opacity=".3" stroke-width=".7"><path d="M438.4 584.6Q428.4 573.8 413.9 581.5"/><path d="M490.4 520.9Q463.9 510.2 467.3 486.4"/><path d="M422.3 504.8Q414.6 537 426 563.3"/></g>
<g stroke="#ec7b37" stroke-opacity=".4" stroke-width=".7"><path d="M426 572.2Q426.2 568.7 451.9 536.2"/><path d="M435.8 464.9Q433.7 467.3 457.7 469.4"/><path d="M476.5 644.1Q491.4 596.5 495.6 578"/><path d="M438.4 584.6Q482.2 618.7 501 634.8"/></g>
<g stroke="#e24e0e" stroke-opacity=".4" stroke-width=".6"><path d="M450.5 583.4Q426.7 552 426.6 546.1"/><path d="M477.5 535.8Q435.8 562.8 420.9 584.6"/></g>
<g stroke="#e24e0e" stroke-opacity=".6" stroke-width=".4"><path d="M476.5 526Q476.9 501.2 467.3 486.4"/><path d="M476.5 644.1Q464.1 600.4 433.3 573.4"/><path d="M451.9 536.2Q443.6 514.3 437.2 473.9"/></g>
<g stroke="#e76422" stroke-opacity=".6" stroke-width=".5"><path d="M426.6 518.5Q434.3 553.7 423.2 594.4"/><path d="M491.4 606.5Q500.2 612.5 497.3 624.3"/><path d="M454.3 591.6Q441.2 539.1 454.6 475.5"/></g>
<g stroke="#ec7b37" stroke-opacity=".3" stroke-width=".5"><path d="M454.3 591.6Q464.5 601.9 478.8 588.5"/><path d="M481.6 625.9Q455.9 602.2 438.4 584.6"/></g>
<g stroke="#f6a860" stroke-opacity=".45" stroke-width=".5"><path d="M488.2 592Q463.2 565.7 457.7 531.1"/></g>
<g stroke="#e24e0e" stroke-opacity=".65" stroke-width=".6"><path d="M436.8 496Q454.4 527.6 450.5 583.4"/></g>
<g stroke="#ec7b37" stroke-opacity=".35" stroke-width=".5"><path d="M435.8 469.4Q426.7 531.8 429 566.8"/><path d="M476.5 526Q464.5 554.5 426 563.3"/><path d="M411.7 519.1Q427.7 575 461 640.6"/><path d="M436.8 496Q432.3 485.2 406.6 497.6"/></g>
<g stroke="#e24e0e" stroke-opacity=".65" stroke-width=".7"><path d="M476.5 644.1Q480.3 592.1 478.7 542.4"/><path d="M451.9 631.8Q430.5 585.8 426.6 518.5"/><path d="M503.6 512.3Q515.3 558 497.3 624.3"/></g>
<g stroke="#e24e0e" stroke-opacity=".55" stroke-width=".8"><path d="M496.1 568.7Q447.9 532.2 411.7 519.1"/><path d="M480.1 539.9Q458.7 520.6 454.6 475.5"/></g>
<g stroke="#f1924c" stroke-opacity=".5" stroke-width=".8"><path d="M406.6 497.6Q402.2 504.4 413.1 532.8"/><path d="M496.1 568.7Q460.2 564.3 434.2 541.4"/><path d="M490.4 520.9Q461.3 520.2 437.8 542"/></g>
<g stroke="#e76422" stroke-opacity=".35" stroke-width=".8"><path d="M498 573.4Q467.6 571.1 458.7 571"/><path d="M486.7 598.4Q485.1 582 496.1 568.7"/></g>
<g stroke="#f6a860" stroke-opacity=".5" stroke-width=".5"><path d="M434.2 541.4Q442.7 544.8 426 563.3"/><path d="M413.9 581.5Q453.4 608.7 481.6 625.9"/></g>
<g stroke="#e24e0e" stroke-opacity=".5" stroke-width=".4"><path d="M398 527.3Q428 587 451.9 631.8"/><path d="M480.1 539.9Q462.3 536.1 457.7 531.1"/><path d="M426.6 518.5Q461 516.2 485.7 486.4"/></g>
<g stroke="#e24e0e" stroke-opacity=".3" stroke-width=".4"><path d="M435.2 529.7Q450.1 534 478.7 542.4"/><path d="M474.6 623.6Q443.4 574.6 411.7 519.1"/></g>
<g stroke="#f6a860" stroke-opacity=".55" stroke-width=".5"><path d="M426 563.3Q442.7 560.4 438.4 584.6"/><path d="M476.5 644.1Q473.7 649.5 458.3 626.6"/><path d="M451.9 631.8Q430.8 589.7 426.6 518.5"/><path d="M503.6 512.3Q476.9 556.4 458.3 626.6"/><path d="M436.8 496Q463.7 516.8 503.6 512.3"/><path d="M457.7 531.1Q476.4 533.3 486.3 506.2"/></g>
<g stroke="#e76422" stroke-opacity=".55" stroke-width=".4"><path d="M430.7 531.3Q442.7 524.8 457.7 531.1"/><path d="M461 640.6Q446.7 631.7 448.9 622.4"/><path d="M479.5 499Q441.3 493 411.1 500.1"/></g>
<g stroke="#e76422" stroke-opacity=".5" stroke-width=".4"><path d="M451.9 536.2Q428.5 532.8 426.6 518.5"/><path d="M425.4 527Q441.2 544.6 458.7 571"/><path d="M432.1 526.6Q460.5 523.9 479.5 499"/></g>
<g stroke="#e76422" stroke-opacity=".5" stroke-width=".6"><path d="M472.7 593.2Q446.3 536.4 435.8 469.4"/><path d="M457.7 531.1Q449.1 505.4 422.3 506.2"/><path d="M435.2 529.7Q446.2 543 470.4 563.3"/></g>
<g stroke="#f6a860" stroke-opacity=".35" stroke-width=".4"><path d="M487.9 638.8Q448.1 577.4 425.4 527"/></g>
<g stroke="#f1924c" stroke-opacity=".5" stroke-width=".6"><path d="M425.4 527Q442.7 524.8 436.8 496"/><path d="M478.7 542.4Q491.5 571.2 497.3 624.3"/><path d="M498 573.4Q458.3 559.4 430.7 531.3"/></g>
<g stroke="#f1924c" stroke-opacity=".5" stroke-width=".5"><path d="M449.5 481.7Q432.5 533.4 438.4 584.6"/></g>
<g stroke="#e24e0e" stroke-opacity=".5" stroke-width=".8"><path d="M413.9 581.5Q444 548.5 456.6 526.6"/></g>
<g stroke="#e76422" stroke-opacity=".4" stroke-width=".8"><path d="M476.5 644.1Q473.1 620.9 450.5 583.4"/><path d="M478.7 542.4Q486.9 570.5 496.1 568.7"/></g>
<g stroke="#f1924c" stroke-opacity=".6" stroke-width=".8"><path d="M490.4 520.9Q447.8 556.2 420.9 584.6"/><path d="M411.7 519.1Q406.4 504.6 411.1 500.1"/></g>
<g stroke="#e76422" stroke-opacity=".35" stroke-width=".7"><path d="M437.8 542Q472.5 540.8 478.6 562.1"/><path d="M426 563.3Q463 585.2 488.2 592"/></g>
<g stroke="#f1924c" stroke-opacity=".4" stroke-width=".5"><path d="M488.2 592Q446.5 582.4 426 563.3"/><path d="M450.5 583.4Q455.6 580.8 451.7 573.8"/></g>
<g stroke="#f6a860" stroke-opacity=".35" stroke-width=".5"><path d="M423.2 594.4Q448.5 585.6 451.7 573.8"/></g>
<g stroke="#e76422" stroke-opacity=".55" stroke-width=".7"><path d="M449.5 481.7Q459 567.5 476.5 644.1"/><path d="M461 640.6Q444.1 599.7 426 563.3"/></g>
<g stroke="#ec7b37" stroke-opacity=".5" stroke-width=".7"><path d="M432.1 526.6Q429.4 492.6 449.5 481.7"/><path d="M436.8 496Q460.6 582.6 461 640.6"/><path d="M426 572.2Q443 524.9 486.3 506.2"/></g>
<g stroke="#e76422" stroke-opacity=".45" stroke-width=".7"><path d="M479.5 499Q494.3 559.4 497.3 624.3"/></g>
<g stroke="#ec7b37" stroke-opacity=".55" stroke-width=".8"><path d="M457.7 469.4Q459.3 486.7 432.1 526.6"/><path d="M451.7 573.8Q461.8 527.8 485.7 486.4"/></g>
<g stroke="#ec7b37" stroke-opacity=".45" stroke-width=".6"><path d="M498 573.4Q453.8 582.4 433.3 573.4"/><path d="M486.7 598.4Q461.4 537.1 435.8 464.9"/></g>
<g stroke="#e24e0e" stroke-opacity=".45" stroke-width=".8"><path d="M488.2 592Q501.9 610.1 491.4 606.5"/><path d="M454.3 591.6Q437.3 575.9 438.4 584.6"/></g>
<g stroke="#e76422" stroke-opacity=".45" stroke-width=".8"><path d="M451.9 536.2Q445.2 502.7 417.2 484.7"/><path d="M451.9 631.8Q429 578.7 411.1 500.1"/></g>
<g stroke="#f6a860" stroke-opacity=".65" stroke-width=".4"><path d="M452 606.5Q451.6 627.6 461 640.6"/></g>
<g stroke="#f1924c" stroke-opacity=".65" stroke-width=".6"><path d="M477.5 535.8Q455.9 539 426 563.3"/><path d="M426.6 546.1Q439.7 557.8 478.8 588.5"/></g>
<g stroke="#f1924c" stroke-opacity=".45" stroke-width=".8"><path d="M458.7 571Q480.2 581.8 478.8 588.5"/><path d="M486.3 506.2Q500.5 577.7 499.6 625.2"/></g>
<g stroke="#e76422" stroke-opacity=".3" stroke-width=".6"><path d="M426 572.2Q407.4 531.4 411.7 519.1"/><path d="M486.7 598.4Q465.9 567 470.4 563.3"/></g>
<g stroke="#f1924c" stroke-opacity=".55" stroke-width=".5"><path d="M451.9 536.2Q451.9 534.8 425.4 527"/><path d="M477.5 535.8Q435.7 520.9 422.3 504.8"/></g>
<g stroke="#e76422" stroke-opacity=".4" stroke-width=".5"><path d="M467.3 486.4Q476 576.6 487.9 638.8"/><path d="M448.9 622.4Q437.8 604 429 566.8"/></g>
<g stroke="#e24e0e" stroke-opacity=".4" stroke-width=".4"><path d="M434.2 541.4Q436.3 534.7 430.7 531.3"/></g>
<g stroke="#e24e0e" stroke-opacity=".55" stroke-width=".4"><path d="M454.6 475.5Q485 563.3 497.3 624.3"/></g>
<g stroke="#f1924c" stroke-opacity=".65" stroke-width=".7"><path d="M435.2 529.7Q459.1 525.2 476.5 526"/><path d="M451.7 573.8Q468.9 568.2 478.6 562.1"/></g>
<g stroke="#e76422" stroke-opacity=".6" stroke-width=".4"><path d="M435.8 464.9Q446.7 532.1 474.6 623.6"/><path d="M498 573.4Q480.5 564 478.6 562.1"/></g>
<g stroke="#f6a860" stroke-opacity=".5" stroke-width=".6"><path d="M438.4 584.6Q451.6 526.7 454.6 475.5"/><path d="M413.9 581.5Q432.9 576.4 478.8 588.5"/></g>
<g stroke="#f1924c" stroke-opacity=".6" stroke-width=".7"><path d="M467.3 486.4Q447.5 510 426.6 546.1"/><path d="M456.6 526.6Q485.6 587.9 501 634.8"/><path d="M437.8 542Q463.1 534.8 486.3 506.2"/><path d="M426 572.2Q478.7 537.7 503.6 512.3"/></g>
<g stroke="#e24e0e" stroke-opacity=".6" stroke-width=".6"><path d="M454.3 591.6Q460.3 552.6 457.7 531.1"/><path d="M429 566.8Q441.3 532 435.8 469.4"/></g>
<g stroke="#f6a860" stroke-opacity=".4" stroke-width=".5"><path d="M436.8 496Q434.2 510 435.2 529.7"/></g>
<g stroke="#e76422" stroke-opacity=".6" stroke-width=".8"><path d="M491.4 606.5Q472.9 567.7 426.6 518.5"/></g>
<g stroke="#e76422" stroke-opacity=".4" stroke-width=".6"><path d="M435.2 529.7Q428.8 493.3 435.8 469.4"/><path d="M476.5 526Q478.8 528.2 478.7 542.4"/><path d="M454.3 591.6Q488.3 623 499.6 625.2"/></g>
<g stroke="#f1924c" stroke-opacity=".55" stroke-width=".6"><path d="M423.2 594.4Q445.3 554.8 478.7 542.4"/></g>
<g stroke="#e76422" stroke-opacity=".35" stroke-width=".4"><path d="M485.7 486.4Q475.4 550.4 474.6 623.6"/><path d="M478.7 542.4Q490.4 579.7 487.9 638.8"/></g>
<g stroke="#f6a860" stroke-opacity=".45" stroke-width=".4"><path d="M411.7 519.1Q419.4 561.8 452 606.5"/><path d="M425.4 527Q417.6 508.4 406.6 497.6"/></g>
<g stroke="#f1924c" stroke-opacity=".5" stroke-width=".4"><path d="M501 634.8Q470.7 587 425.4 527"/><path d="M474.6 623.6Q491 571.2 480.1 539.9"/><path d="M461 640.6Q435.5 608.2 423.2 594.4"/></g>
<g stroke="#f6a860" stroke-opacity=".65" stroke-width=".5"><path d="M476.5 526Q480.3 554.7 486.7 598.4"/><path d="M503.6 512.3Q481.6 493 457.7 469.4"/></g>
<g stroke="#e24e0e" stroke-opacity=".6" stroke-width=".7"><path d="M458.3 626.6Q450 556.6 422.3 506.2"/></g>
<g stroke="#e24e0e" stroke-opacity=".45" stroke-width=".7"><path d="M496.1 568.7Q503.5 561.5 495.6 578"/><path d="M432.1 526.6Q426.4 543 434.2 541.4"/></g>
<g stroke="#f1924c" stroke-opacity=".65" stroke-width=".4"><path d="M426.6 518.5Q447 513.5 476.5 526"/></g>
<g stroke="#f6a860" stroke-opacity=".55" stroke-width=".8"><path d="M478.8 588.5Q473.2 538.8 457.7 469.4"/></g>
<g stroke="#e24e0e" stroke-opacity=".4" stroke-width=".5"><path d="M476.5 526Q469.2 578.9 458.3 626.6"/><path d="M495.6 578Q499.7 556.4 490.4 520.9"/><path d="M503.6 512.3Q494.1 574.2 458.3 626.6"/></g>
<g stroke="#e76422" stroke-opacity=".45" stroke-width=".5"><path d="M406.6 497.6Q401.4 522.8 411.7 519.1"/></g>
<g stroke="#e24e0e" stroke-opacity=".45" stroke-width=".6"><path d="M476.5 644.1Q479.6 628.9 499.6 625.2"/></g>
<g stroke="#e24e0e" stroke-opacity=".35" stroke-width=".7"><path d="M451.9 536.2Q482.1 591.3 487.9 638.8"/></g>
<g stroke="#e76422" stroke-opacity=".6" stroke-width=".6"><path d="M495.6 578Q459.7 531.4 435.8 469.4"/><path d="M406.6 497.6Q444.4 574.9 476.5 644.1"/><path d="M437.2 473.9Q460.9 499.9 478.7 542.4"/><path d="M486.3 506.2Q471.9 563.1 472.7 593.2"/></g>
<g stroke="#ec7b37" stroke-opacity=".65" stroke-width=".5"><path d="M425.4 527Q454.7 520.7 457.7 531.1"/></g>
<g stroke="#ec7b37" stroke-opacity=".35" stroke-width=".8"><path d="M436.8 496Q469.4 515.1 476.5 526"/></g>
<g stroke="#e24e0e" stroke-opacity=".55" stroke-width=".7"><path d="M420.9 584.6Q434.7 622 461 640.6"/></g>
<g stroke="#f1924c" stroke-opacity=".3" stroke-width=".5"><path d="M434.2 541.4Q458.9 571.1 503.1 602.1"/><path d="M501 634.8Q495.7 557.9 486.3 506.2"/></g>
<g stroke="#f6a860" stroke-opacity=".55" stroke-width=".4"><path d="M437.8 542Q430.7 561.3 451.7 573.8"/><path d="M486.7 598.4Q486.4 543.7 457.7 469.4"/><path d="M426.6 518.5Q470.8 587.3 487.9 638.8"/></g>
<g stroke="#ec7b37" stroke-opacity=".45" stroke-width=".8"><path d="M448.9 622.4Q456.6 599.3 478.6 562.1"/></g>
<g stroke="#e76422" stroke-opacity=".35" stroke-width=".5"><path d="M426 572.2Q447.2 562.6 456.6 526.6"/><path d="M435.8 469.4Q434.8 505.9 458.7 571"/></g>
<g stroke="#f6a860" stroke-opacity=".6" stroke-width=".7"><path d="M503.6 512.3Q505.6 565 488.2 592"/><path d="M426.6 546.1Q470.2 586.6 487.9 638.8"/></g>
<g stroke="#e24e0e" stroke-opacity=".55" stroke-width=".6"><path d="M486.7 598.4Q466.9 543.9 454.6 475.5"/><path d="M503.6 512.3Q485.6 558.3 472.7 593.2"/></g>
<g stroke="#f6a860" stroke-opacity=".4" stroke-width=".6"><path d="M456.6 526.6Q466.8 569.9 491.4 606.5"/></g>
<g stroke="#f1924c" stroke-opacity=".35" stroke-width=".4"><path d="M434.2 541.4Q456.7 517.4 449.5 481.7"/><path d="M433.3 573.4Q434.9 528.1 449.5 481.7"/><path d="M458.7 571Q473.3 566.4 477.5 535.8"/></g>
<g stroke="#f1924c" stroke-opacity=".45" stroke-width=".6"><path d="M420.9 584.6Q408.5 598.2 423.2 594.4"/><path d="M451.7 573.8Q453.2 562.9 458.7 571"/></g>
<g stroke="#ec7b37" stroke-opacity=".45" stroke-width=".5"><path d="M433.3 573.4Q432.1 513.4 435.8 464.9"/><path d="M456.6 526.6Q471.2 532.4 470.4 563.3"/></g>
<g stroke="#e24e0e" stroke-opacity=".4" stroke-width=".7"><path d="M479.5 499Q500 521.1 496.1 568.7"/></g>
<g stroke="#f6a860" stroke-opacity=".5" stroke-width=".7"><path d="M422.3 504.8Q445.3 535.8 498 573.4"/><path d="M457.7 531.1Q430.6 525.5 411.1 500.1"/></g>
<g stroke="#e76422" stroke-opacity=".5" stroke-width=".7"><path d="M406.6 497.6Q462.7 547.9 491.4 606.5"/><path d="M450.5 583.4Q446.5 593.4 451.9 631.8"/><path d="M423.2 594.4Q435.3 566.8 432.1 526.6"/></g>
<g stroke="#ec7b37" stroke-opacity=".65" stroke-width=".4"><path d="M497.3 624.3Q496 626.3 501 634.8"/></g>
<g stroke="#e76422" stroke-opacity=".65" stroke-width=".7"><path d="M406.6 497.6Q441 540.9 488.2 592"/><path d="M429 566.8Q425.1 521.6 437.2 473.9"/></g>
<g stroke="#e24e0e" stroke-opacity=".35" stroke-width=".6"><path d="M451.7 573.8Q427.8 550.2 422.3 504.8"/><path d="M451.9 631.8Q475.1 569.8 476.5 526"/></g>
<g stroke="#e24e0e" stroke-opacity=".5" stroke-width=".7"><path d="M411.7 519.1Q437 522.2 476.5 526"/></g>
<g stroke="#e24e0e" stroke-opacity=".5" stroke-width=".5"><path d="M435.8 469.4Q471.3 538 488.2 592"/><path d="M498 573.4Q501.9 579.7 486.7 598.4"/><path d="M398 527.3Q403 542.4 426 572.2"/><path d="M501 634.8Q497.4 571.1 477.5 535.8"/><path d="M457.7 469.4Q471.8 545.4 457.8 609.1"/></g>
<g stroke="#e76422" stroke-opacity=".4" stroke-width=".7"><path d="M422.3 506.2Q445.9 496.7 485.7 486.4"/></g>
<g stroke="#f1924c" stroke-opacity=".35" stroke-width=".8"><path d="M422.3 506.2Q415.6 512 426.6 546.1"/></g>
<g stroke="#e76422" stroke-opacity=".3" stroke-width=".7"><path d="M413.1 532.8Q448.6 566 499.6 625.2"/></g>
<g stroke="#ec7b37" stroke-opacity=".3" stroke-width=".6"><path d="M490.4 520.9Q453.7 546 420.9 584.6"/></g>
<g stroke="#f1924c" stroke-opacity=".3" stroke-width=".7"><path d="M406.6 497.6Q426.4 515.9 426.6 518.5"/></g>
<g stroke="#e24e0e" stroke-opacity=".3" stroke-width=".5"><path d="M426.6 546.1Q434.9 539.9 426.6 518.5"/></g>
<g stroke="#f1924c" stroke-opacity=".45" stroke-width=".5"><path d="M438.4 584.6Q436.9 559.4 434.2 518.5"/></g>
<g stroke="#ec7b37" stroke-opacity=".4" stroke-width=".5"><path d="M478.8 588.5Q463.4 609.9 461 640.6"/><path d="M457.7 469.4Q462.2 486.7 457.7 531.1"/></g>
<g stroke="#ec7b37" stroke-opacity=".6" stroke-width=".6"><path d="M495.6 578Q463.4 539.3 425.4 527"/></g>
<g stroke="#f6a860" stroke-opacity=".6" stroke-width=".5"><path d="M434.2 518.5Q455.2 525.2 478.7 542.4"/></g>
<g stroke="#e24e0e" stroke-opacity=".3" stroke-width=".6"><path d="M479.5 499Q461.2 562.8 452 606.5"/></g>
<g stroke="#f6a860" stroke-opacity=".4" stroke-width=".8"><path d="M486.7 598.4Q450.6 519 435.8 469.4"/><path d="M413.1 532.8Q427.2 566.8 433.3 573.4"/></g>
<g stroke="#f1924c" stroke-opacity=".4" stroke-width=".4"><path d="M420.9 584.6Q458.9 561.7 470.4 563.3"/></g>
<g stroke="#f6a860" stroke-opacity=".5" stroke-width=".8"><path d="M422.3 504.8Q426.7 557.6 454.3 591.6"/></g>
<g stroke="#f6a860" stroke-opacity=".4" stroke-width=".7"><path d="M457.7 531.1Q427.2 531.8 425.4 527"/></g>
<g stroke="#e24e0e" stroke-opacity=".45" stroke-width=".5"><path d="M474.6 623.6Q445 534.7 437.2 473.9"/></g>
<g stroke="#f6a860" stroke-opacity=".35" stroke-width=".8"><path d="M490.4 520.9Q480.6 584.5 476.5 644.1"/></g>
<g stroke="#e76422" stroke-opacity=".65" stroke-width=".8"><path d="M499.6 625.2Q476 564.8 426.6 518.5"/></g>
<g stroke="#e76422" stroke-opacity=".45" stroke-width=".4"><path d="M490.4 520.9Q453.5 522.2 434.2 541.4"/></g>
<g stroke="#ec7b37" stroke-opacity=".6" stroke-width=".4"><path d="M426 572.2Q427.9 514.2 449.5 481.7"/></g>
<g stroke="#f8b46a" stroke-opacity=".25" stroke-width=".4"><path d="M435.8 469.4Q423.5 555 461 640.6"/><path d="M454.6 475.5Q445.8 549.9 497.3 624.3"/><path d="M406.6 497.6Q401.5 560.6 474.6 623.6"/><path d="M422.3 506.2Q408 569 451.9 631.8"/><path d="M411.1 500.1Q398.4 566 451.9 631.8"/><path d="M425.4 527Q419.4 574.7 448.9 622.4"/><path d="M422.3 504.8Q413 537.9 458.7 571"/><path d="M422.3 506.2Q407.8 565.7 499.6 625.2"/><path d="M432.1 526.6Q417.8 545 470.4 563.3"/><path d="M503.6 512.3Q470.3 578.2 476.5 644.1"/><path d="M435.8 464.9Q421 535.7 452 606.5"/><path d="M486.3 506.2Q470.7 549.7 472.7 593.2"/><path d="M435.2 529.7Q426.8 550.4 458.7 571"/><path d="M486.3 506.2Q471.3 549.7 472.7 593.2"/></g>
<g stroke="#f8b46a" stroke-opacity=".2" stroke-width=".4"><path d="M411.1 500.1Q396.4 535.5 458.7 571"/><path d="M422.3 506.2Q421.8 575.1 476.5 644.1"/><path d="M422.3 504.8Q412 544.1 450.5 583.4"/><path d="M503.6 512.3Q498.6 573.5 501 634.8"/><path d="M437.2 473.9Q425.5 559 476.5 644.1"/><path d="M457.7 469.4Q440.2 550.6 451.9 631.8"/><path d="M406.6 497.6Q403.1 564.7 451.9 631.8"/><path d="M449.5 481.7Q437.9 561.1 461 640.6"/><path d="M434.2 518.5Q432.6 578.6 487.9 638.8"/><path d="M411.1 500.1Q409.8 570.4 461 640.6"/></g>
<g stroke="#f8b46a" stroke-opacity=".3" stroke-width=".4"><path d="M435.2 529.7Q430.2 585.2 461 640.6"/><path d="M436.8 496Q433 529.6 470.4 563.3"/><path d="M432.1 526.6Q418.1 575.9 499.6 625.2"/><path d="M490.4 520.9Q468.3 557 472.7 593.2"/><path d="M417.2 484.7Q410.1 553.5 448.9 622.4"/><path d="M435.8 469.4Q435 545.9 448.9 622.4"/><path d="M486.3 506.2Q438.3 544.8 450.5 583.4"/><path d="M422.3 504.8Q421.4 563.6 448.9 622.4"/><path d="M411.7 519.1Q400.9 572.2 499.6 625.2"/><path d="M434.2 518.5Q427.1 578.6 487.9 638.8"/><path d="M479.5 499Q470 568.9 487.9 638.8"/><path d="M411.1 500.1Q402.3 535.5 458.7 571"/><path d="M426.6 518.5Q416.2 544.8 458.7 571"/><path d="M490.4 520.9Q456.4 580.8 461 640.6"/></g>
<g stroke="#f8b46a" stroke-opacity=".15" stroke-width=".4"><path d="M437.2 473.9Q428.3 549.9 481.6 625.9"/><path d="M454.6 475.5Q453.9 550.7 481.6 625.9"/><path d="M457.7 469.4Q451.6 547.3 499.6 625.2"/><path d="M411.1 500.1Q396.7 572.1 476.5 644.1"/></g>
<g stroke="#f8b46a" stroke-opacity=".35" stroke-width=".4"><path d="M503.6 512.3Q469.1 568 474.6 623.6"/><path d="M434.2 518.5Q432.9 571 474.6 623.6"/><path d="M479.5 499Q468.9 546.1 472.7 593.2"/><path d="M454.6 475.5Q447.7 551 458.3 626.6"/><path d="M435.2 529.7Q429.1 582.2 501 634.8"/><path d="M490.4 520.9Q455.6 580.8 461 640.6"/><path d="M426.6 518.5Q423.9 572.5 458.3 626.6"/><path d="M435.8 469.4Q424.6 554.1 487.9 638.8"/></g>
<g stroke="#444444" stroke-opacity=".45" stroke-width=".4"><path d="M435.8 464.9Q495.5 450.9 594.5 552.1"/><path d="M457.7 469.4Q503.4 457.2 580.5 507.3"/><path d="M490.4 520.9Q512.9 510.9 574.3 549.1"/><path d="M490.4 520.9Q507.6 518.2 574.3 549.1"/><path d="M435.8 464.9Q498.8 462.8 589.9 535.1"/><path d="M435.8 469.4Q507.2 464.9 594.5 552.1"/><path d="M457.7 469.4Q500.7 468.7 572.9 533.7"/><path d="M435.8 469.4Q518.6 463.8 611.5 542.6"/><path d="M486.3 506.2Q546.4 502.2 625 545.1"/><path d="M457.7 469.4Q498.4 463.7 570.8 481.1"/></g>
<g stroke="#444444" stroke-opacity=".35" stroke-width=".4"><path d="M479.5 499Q525.2 488.6 589.9 535.1"/><path d="M467.3 486.4Q520 481.9 578.3 495.9"/><path d="M435.8 469.4Q500.3 464.5 598.6 522.1"/><path d="M486.3 506.2Q531.3 501.5 590 550.7"/><path d="M485.7 486.4Q503.1 481.5 554 545.3"/><path d="M486.3 506.2Q546.2 504.3 632.9 527.8"/><path d="M486.3 506.2Q533.1 502.7 590 550.7"/><path d="M435.8 469.4Q481.7 468.7 557.5 525.1"/><path d="M467.3 486.4Q513 478.4 577.8 522.4"/></g>
<g stroke="#444444" stroke-opacity=".3" stroke-width=".6"><path d="M486.3 506.2Q525 497.6 589.9 535.1"/><path d="M435.8 464.9Q518.8 461.2 632.9 527.8"/><path d="M485.7 486.4Q513.8 472.7 557.5 525.1"/><path d="M467.3 486.4Q508.1 480.7 591 563.4"/><path d="M490.4 520.9Q532.3 514.6 615.6 533.2"/><path d="M457.7 469.4Q516.3 464.4 590 550.7"/><path d="M457.7 469.4Q498.5 460.6 554 545.3"/><path d="M486.3 506.2Q502.4 503.4 567 557.5"/></g>
<g stroke="#444444" stroke-opacity=".3" stroke-width=".5"><path d="M467.3 486.4Q506.4 486.4 571.6 546.4"/><path d="M486.3 506.2Q524.1 505.2 591 563.4"/><path d="M479.5 499Q538.3 493 632.9 527.8"/><path d="M467.3 486.4Q513.7 477.8 570.8 494"/><path d="M435.8 469.4Q500.1 466.8 570.8 494"/><path d="M479.5 499Q526.3 483.3 591 493.2"/><path d="M485.7 486.4Q506.7 477.1 571.6 546.4"/><path d="M435.8 464.9Q507 451.7 624.8 520.8"/><path d="M485.7 486.4Q496.4 481.5 554 545.3"/><path d="M503.6 512.3Q534 507.4 591 563.4"/><path d="M486.3 506.2Q537.7 495.2 615.6 533.2"/><path d="M486.3 506.2Q513.9 495.2 584.5 546.4"/><path d="M457.7 469.4Q507.5 457.5 572.9 533.7"/><path d="M479.5 499Q521.9 496.7 584.5 546.4"/><path d="M486.3 506.2Q508 500.7 571.6 546.4"/><path d="M467.3 486.4Q506.1 484.2 574.3 549.1"/><path d="M435.8 469.4Q479.5 456.3 570.8 481.1"/></g>
<g stroke="#444444" stroke-opacity=".4" stroke-width=".5"><path d="M435.8 469.4Q494.5 465.2 554 545.3"/><path d="M435.8 464.9Q512.2 456.1 624.8 520.8"/><path d="M457.7 469.4Q534.2 456.5 643.7 528.9"/><path d="M479.5 499Q509.8 495.9 554 504.8"/><path d="M490.4 520.9Q553.5 512.7 643.7 528.9"/><path d="M467.3 486.4Q558.2 484.7 651.2 535.6"/><path d="M485.7 486.4Q548 478.8 632.9 527.8"/><path d="M467.3 486.4Q505.8 473.3 548.6 535.6"/><path d="M479.5 499Q535.2 497.9 591 563.4"/><path d="M467.3 486.4Q495.9 473.5 567 557.5"/><path d="M435.8 464.9Q509.8 464.4 632.9 527.8"/><path d="M479.5 499Q530.3 496.2 589.9 535.1"/><path d="M486.3 506.2Q526 496.6 580.5 507.3"/><path d="M435.8 469.4Q486.2 460.4 570.8 481.1"/><path d="M435.8 464.9Q526.3 456.5 632.9 527.8"/></g>
<g stroke="#444444" stroke-opacity=".3" stroke-width=".4"><path d="M479.5 499Q531.4 491.3 584.5 546.4"/><path d="M503.6 512.3Q525.2 509.4 584.5 546.4"/><path d="M503.6 512.3Q522 506.3 590 550.7"/><path d="M435.8 469.4Q511.6 457.8 594.5 552.1"/><path d="M486.3 506.2Q530.4 494.6 578.3 495.9"/><path d="M479.5 499Q514.1 498.6 557.5 525.1"/><path d="M457.7 469.4Q488.4 465.9 557.5 525.1"/><path d="M485.7 486.4Q508.2 478.9 554 504.8"/><path d="M479.5 499Q534.7 496.7 591 563.4"/><path d="M457.7 469.4Q524.3 456.9 598.6 522.1"/><path d="M435.8 469.4Q488.2 457.1 570.8 494"/><path d="M490.4 520.9Q560.1 520.8 631 542.6"/></g>
<g stroke="#444444" stroke-opacity=".45" stroke-width=".5"><path d="M486.3 506.2Q505.2 501.6 558.9 515.6"/><path d="M467.3 486.4Q539.9 475.3 643.7 528.9"/><path d="M486.3 506.2Q532.3 501.4 624.8 520.8"/><path d="M435.8 469.4Q489 467.5 591 493.2"/><path d="M435.8 464.9Q513.8 450.9 615.6 533.2"/><path d="M457.7 469.4Q516.2 462.2 590 550.7"/><path d="M490.4 520.9Q525.6 516.7 591 563.4"/><path d="M503.6 512.3Q532.3 503.9 589.9 535.1"/><path d="M486.3 506.2Q521.9 501.9 574.3 549.1"/><path d="M485.7 486.4Q515.1 482.3 577.8 515.6"/></g>
<g stroke="#444444" stroke-opacity=".25" stroke-width=".6"><path d="M467.3 486.4Q491.9 485.6 548.6 535.6"/><path d="M457.7 469.4Q540.3 459.2 624.8 520.8"/><path d="M457.7 469.4Q493.1 455.8 570.8 481.1"/><path d="M479.5 499Q537.7 488.9 631 542.6"/><path d="M486.3 506.2Q547.5 504.5 631 542.6"/></g>
<g stroke="#444444" stroke-opacity=".5" stroke-width=".5"><path d="M490.4 520.9Q529.3 508.1 574.3 549.1"/><path d="M467.3 486.4Q503.6 477.7 580.5 507.3"/><path d="M479.5 499Q540.6 488.1 638.5 527"/><path d="M485.7 486.4Q513.4 484.9 558.9 515.6"/><path d="M457.7 469.4Q542.5 465.9 631 542.6"/><path d="M490.4 520.9Q531.4 507.1 584.5 546.4"/><path d="M457.7 469.4Q507.5 465.4 590 550.7"/><path d="M435.8 469.4Q481.8 460.8 571.6 505.9"/><path d="M435.8 464.9Q504.1 455.4 577.8 522.4"/></g>
<g stroke="#444444" stroke-opacity=".35" stroke-width=".5"><path d="M457.7 469.4Q494.6 457.2 577.8 522.4"/><path d="M486.3 506.2Q507.1 496.8 557.5 525.1"/><path d="M467.3 486.4Q492.3 480.6 554 545.3"/><path d="M486.3 506.2Q524.3 494.1 577.8 522.4"/><path d="M457.7 469.4Q515.7 469 591 493.2"/><path d="M457.7 469.4Q504.8 459.4 591 493.2"/><path d="M435.8 469.4Q538.5 465.6 651.2 535.6"/><path d="M435.8 464.9Q524.6 452 625 536.4"/><path d="M457.7 469.4Q497.9 455.6 584.5 546.4"/><path d="M479.5 499Q556.2 490.4 638.5 527"/><path d="M435.8 464.9Q522 456.4 611.5 542.6"/><path d="M467.3 486.4Q509.7 474.4 570.8 481.1"/><path d="M485.7 486.4Q505.6 481.6 542.7 521.6"/><path d="M479.5 499Q505.3 487 548.6 535.6"/></g>
<g stroke="#444444" stroke-opacity=".35" stroke-width=".6"><path d="M485.7 486.4Q507.4 475.2 558.9 515.6"/><path d="M435.8 464.9Q487.3 455.7 584.5 546.4"/><path d="M486.3 506.2Q530.9 493.6 591 563.4"/></g>
<g stroke="#444444" stroke-opacity=".25" stroke-width=".4"><path d="M490.4 520.9Q495.1 513.3 542.7 521.6"/><path d="M490.4 520.9Q537.3 507.8 594.5 552.1"/><path d="M486.3 506.2Q516.8 493.3 554 545.3"/></g>
<g stroke="#444444" stroke-opacity=".4" stroke-width=".4"><path d="M486.3 506.2Q555.3 500.5 638.5 527"/><path d="M479.5 499Q503.7 494.6 554 545.3"/><path d="M486.3 506.2Q526.4 496.2 584.5 546.4"/><path d="M435.8 469.4Q529.5 467.7 624.8 520.8"/><path d="M457.7 469.4Q521.7 455.7 598.6 522.1"/><path d="M485.7 486.4Q508.2 478.4 570.8 494"/><path d="M435.8 464.9Q492.8 457.5 572.9 533.7"/><path d="M435.8 464.9Q486.1 457.5 578.3 495.9"/><path d="M467.3 486.4Q528.5 474.5 631 542.6"/><path d="M435.8 464.9Q469.9 459.3 548.6 535.6"/><path d="M503.6 512.3Q525 507.9 567 557.5"/><path d="M490.4 520.9Q530.2 507.1 577.8 522.4"/><path d="M457.7 469.4Q501.8 468.7 580.5 507.3"/><path d="M486.3 506.2Q551.4 503.2 625 536.4"/><path d="M457.7 469.4Q532.4 461.5 638.5 527"/><path d="M503.6 512.3Q537.5 510.3 571.6 546.4"/></g>
<g stroke="#444444" stroke-opacity=".25" stroke-width=".5"><path d="M486.3 506.2Q512.4 494.4 542.7 521.6"/><path d="M485.7 486.4Q547.5 481.4 625 545.1"/><path d="M457.7 469.4Q515.9 455.8 598.6 522.1"/><path d="M486.3 506.2Q514.3 467.3 570.8 481.1"/><path d="M490.4 520.9Q499.8 510.5 557.5 525.1"/><path d="M486.3 506.2Q544.1 496.1 615.6 533.2"/><path d="M486.3 506.2Q537.1 500.1 590 550.7"/></g>
<g stroke="#444444" stroke-opacity=".4" stroke-width=".6"><path d="M503.6 512.3Q504.2 510.7 554 545.3"/><path d="M486.3 506.2Q535.1 505.2 591 563.4"/><path d="M486.3 506.2Q542.1 497.8 643.7 528.9"/><path d="M485.7 486.4Q542.1 473.3 625 536.4"/></g>
<g stroke="#444444" stroke-opacity=".5" stroke-width=".4"><path d="M485.7 486.4Q502 478.4 567 557.5"/><path d="M503.6 512.3Q564.3 503.4 625 536.4"/><path d="M490.4 520.9Q529.7 511.2 589.9 535.1"/></g>
<g stroke="#444444" stroke-opacity=".45" stroke-width=".6"><path d="M435.8 469.4Q497.7 464.5 567 557.5"/><path d="M457.7 469.4Q495.2 467.1 570.8 494"/><path d="M486.3 506.2Q508.8 496.8 577.8 515.6"/><path d="M490.4 520.9Q528.2 476 570.8 481.1"/></g>
<g stroke="#444444" stroke-opacity=".5" stroke-width=".6"><path d="M435.8 469.4Q477.9 465 557.5 525.1"/></g>
<g stroke="#f39a4a" stroke-opacity=".4" stroke-width=".4"><path d="M571.6 546.4Q556.9 551.3 554 545.3"/><path d="M572.9 533.7Q564.2 530.5 558.9 515.6"/><path d="M589.9 535.1Q577.5 514.7 580.5 507.3"/><path d="M570.8 481.1Q574.7 513.8 589.9 535.1"/><path d="M548.6 535.6Q586.1 546.1 611.5 542.6"/><path d="M571.6 505.9Q603.2 514 625 536.4"/><path d="M580.5 507.3Q575.9 534 584.5 546.4"/><path d="M625 545.1Q610.6 547 589.9 535.1"/><path d="M638.5 527Q613.8 527.6 577.8 522.4"/><path d="M558.9 515.6Q553.5 526.5 548.6 535.6"/><path d="M591 563.4Q606.1 552.1 632.9 527.8"/><path d="M571.6 505.9Q575.8 512.9 577.8 515.6"/><path d="M567 557.5Q570.8 550.7 590 550.7"/></g>
<g stroke="#f39a4a" stroke-opacity=".3" stroke-width=".4"><path d="M631 542.6Q611.2 523 577.8 515.6"/><path d="M591 493.2Q612.6 499.5 624.8 520.8"/><path d="M571.6 546.4Q566 540.1 548.6 535.6"/><path d="M577.8 515.6Q585.5 513.3 580.5 507.3"/><path d="M578.3 495.9Q611.4 506.8 638.5 527"/><path d="M598.6 522.1Q596 531.6 584.5 546.4"/><path d="M554 504.8Q552.7 528.1 554 545.3"/><path d="M643.7 528.9Q602.2 530.6 557.5 525.1"/><path d="M570.8 481.1Q601.9 511.2 632.9 527.8"/><path d="M557.5 525.1Q592.7 536.8 625 536.4"/><path d="M584.5 546.4Q600.5 549.1 631 542.6"/><path d="M570.8 494Q592.7 521.4 611.5 542.6"/><path d="M594.5 552.1Q611.8 547.3 625 545.1"/></g>
<g stroke="#f39a4a" stroke-opacity=".2" stroke-width=".4"><path d="M554 504.8Q596.2 520.5 651.2 535.6"/><path d="M631 542.6Q620.2 548.3 611.5 542.6"/><path d="M590 550.7Q575.3 544 557.5 525.1"/><path d="M548.6 535.6Q566.8 533.4 572.9 533.7"/><path d="M624.8 520.8Q617.5 542.4 594.5 552.1"/><path d="M572.9 533.7Q588.8 511.2 591 493.2"/><path d="M542.7 521.6Q564.9 524.6 577.8 515.6"/></g>
<g stroke="#f39a4a" stroke-opacity=".25" stroke-width=".4"><path d="M580.5 507.3Q582.4 523.6 571.6 546.4"/><path d="M594.5 552.1Q603 544.4 615.6 533.2"/><path d="M631 542.6Q622.7 535.6 615.6 533.2"/><path d="M651.2 535.6Q610.7 526.3 558.9 515.6"/><path d="M572.9 533.7Q573.2 518.4 571.6 505.9"/><path d="M580.5 507.3Q599.2 521.1 624.8 520.8"/><path d="M572.9 533.7Q598.9 541.4 611.5 542.6"/><path d="M631 542.6Q605.1 552.1 590 550.7"/><path d="M578.3 495.9Q611.9 513.5 631 542.6"/><path d="M570.8 481.1Q590.3 520.6 625 545.1"/><path d="M580.5 507.3Q584.7 524.1 589.9 535.1"/><path d="M638.5 527Q600.4 516.5 577.8 515.6"/><path d="M571.6 505.9Q582.6 518.7 577.8 522.4"/><path d="M570.8 494Q606.8 507.4 651.2 535.6"/></g>
<g stroke="#f39a4a" stroke-opacity=".45" stroke-width=".4"><path d="M615.6 533.2Q602.3 539.7 574.3 549.1"/><path d="M638.5 527Q615.5 532.2 598.6 522.1"/><path d="M571.6 546.4Q569.4 525.5 571.6 505.9"/><path d="M594.5 552.1Q587.6 525.7 570.8 494"/><path d="M557.5 525.1Q556.3 503 570.8 481.1"/><path d="M651.2 535.6Q617 536.7 571.6 546.4"/><path d="M567 557.5Q575.4 550.6 571.6 546.4"/></g>
<g stroke="#f39a4a" stroke-opacity=".35" stroke-width=".4"><path d="M624.8 520.8Q606 518.3 571.6 505.9"/><path d="M584.5 546.4Q561.6 546.1 554 545.3"/><path d="M638.5 527Q603.5 531.9 577.8 522.4"/><path d="M570.8 481.1Q595.1 508.6 625 545.1"/><path d="M611.5 542.6Q606.6 525.4 598.6 522.1"/><path d="M580.5 507.3Q605.2 513 632.9 527.8"/><path d="M584.5 546.4Q591.4 556.7 594.5 552.1"/><path d="M572.9 533.7Q589.1 530.7 615.6 533.2"/><path d="M574.3 549.1Q561.7 536.5 558.9 515.6"/><path d="M611.5 542.6Q603 548.8 590 550.7"/><path d="M591 563.4Q611.5 552.1 632.9 527.8"/><path d="M591 563.4Q614.3 556.4 625 536.4"/><path d="M574.3 549.1Q576.9 513.7 570.8 481.1"/></g>
<g stroke="#e05d28" stroke-opacity=".45" stroke-width=".6"><path d="M632.9 527.8Q642.2 527.8 651.2 535.6"/></g>
<g stroke="#cc2a10" stroke-opacity=".45" stroke-width=".6"><path d="M570.8 481.1Q610.6 504.1 651.2 535.6"/></g>
<g stroke="#cc2a10" stroke-opacity=".4" stroke-width=".7"><path d="M554 504.8Q601.5 515.1 651.2 535.6"/><path d="M570.8 481.1Q613.5 505 651.2 535.6"/></g>
<g stroke="#d6441c" stroke-opacity=".35" stroke-width=".7"><path d="M577.8 515.6Q614.9 524.2 651.2 535.6"/><path d="M571.6 546.4Q614.1 536.7 651.2 535.6"/></g>
<g stroke="#cc2a10" stroke-opacity=".5" stroke-width=".5"><path d="M594.5 552.1Q626.3 538.6 651.2 535.6"/><path d="M570.8 494Q608.4 510.4 651.2 535.6"/></g>
<g stroke="#e97634" stroke-opacity=".7" stroke-width=".7"><path d="M584.5 546.4Q620.1 536.4 651.2 535.6"/><path d="M625 545.1Q642.4 536.9 651.2 535.6"/><path d="M571.6 505.9Q613 517.3 651.2 535.6"/></g>
<g stroke="#e97634" stroke-opacity=".45" stroke-width=".7"><path d="M590 550.7Q616.2 549 651.2 535.6"/></g>
<g stroke="#f39040" stroke-opacity=".4" stroke-width=".5"><path d="M615.6 533.2Q633.1 535.5 651.2 535.6"/></g>
<g stroke="#e97634" stroke-opacity=".6" stroke-width=".5"><path d="M590 550.7Q622.9 540.7 651.2 535.6"/></g>
<g stroke="#f39040" stroke-opacity=".75" stroke-width=".4"><path d="M570.8 481.1Q610.4 507.5 651.2 535.6"/></g>
<g stroke="#f39040" stroke-opacity=".65" stroke-width=".7"><path d="M571.6 505.9Q615 526.3 651.2 535.6"/></g>
<g stroke="#d6441c" stroke-opacity=".4" stroke-width=".5"><path d="M591 493.2Q621.5 512.1 651.2 535.6"/></g>
<g stroke="#e05d28" stroke-opacity=".6" stroke-width=".4"><path d="M580.5 507.3Q619.2 518.4 651.2 535.6"/><path d="M643.7 528.9Q643.7 534.5 651.2 535.6"/></g>
<g stroke="#e05d28" stroke-opacity=".45" stroke-width=".7"><path d="M611.5 542.6Q630.9 543.9 651.2 535.6"/></g>
<g stroke="#d6441c" stroke-opacity=".5" stroke-width=".5"><path d="M548.6 535.6Q598.6 538.9 651.2 535.6"/></g>
<g stroke="#cc2a10" stroke-opacity=".6" stroke-width=".7"><path d="M577.8 522.4Q615.8 528.4 651.2 535.6"/><path d="M567 557.5Q611.9 541 651.2 535.6"/></g>
<g stroke="#e05d28" stroke-opacity=".65" stroke-width=".8"><path d="M651.2 535.6Q650.6 538 651.2 535.6"/></g>
<g stroke="#e97634" stroke-opacity=".4" stroke-width=".8"><path d="M584.5 546.4Q615.1 543.7 651.2 535.6"/></g>
<g stroke="#e05d28" stroke-opacity=".65" stroke-width=".7"><path d="M589.9 535.1Q617.6 541.1 651.2 535.6"/></g>
<g stroke="#e97634" stroke-opacity=".65" stroke-width=".8"><path d="M598.6 522.1Q622.6 523.2 651.2 535.6"/></g>
<g stroke="#cc2a10" stroke-opacity=".45" stroke-width=".4"><path d="M572.9 533.7Q611.4 539.4 651.2 535.6"/></g>
<g stroke="#cc2a10" stroke-opacity=".35" stroke-width=".7"><path d="M557.5 525.1Q603.5 529.3 651.2 535.6"/></g>
<g stroke="#e05d28" stroke-opacity=".55" stroke-width=".8"><path d="M589.9 535.1Q619.2 539.5 651.2 535.6"/></g>
<g stroke="#e97634" stroke-opacity=".65" stroke-width=".7"><path d="M572.9 533.7Q617 528.9 651.2 535.6"/></g>
<g stroke="#d6441c" stroke-opacity=".7" stroke-width=".7"><path d="M590 550.7Q622.7 541.5 651.2 535.6"/></g>
<g stroke="#d6441c" stroke-opacity=".35" stroke-width=".6"><path d="M590 550.7Q616 542.9 651.2 535.6"/></g>
<g stroke="#e05d28" stroke-opacity=".65" stroke-width=".4"><path d="M611.5 542.6Q630.7 537.9 651.2 535.6"/></g>
<g stroke="#f39040" stroke-opacity=".45" stroke-width=".4"><path d="M578.3 495.9Q619 514.8 651.2 535.6"/></g>
<g stroke="#e97634" stroke-opacity=".45" stroke-width=".6"><path d="M598.6 522.1Q625.8 533.1 651.2 535.6"/></g>
<g stroke="#e05d28" stroke-opacity=".7" stroke-width=".7"><path d="M591 493.2Q623.1 508.4 651.2 535.6"/></g>
<g stroke="#e05d28" stroke-opacity=".5" stroke-width=".5"><path d="M557.5 525.1Q604 533.8 651.2 535.6"/></g>
<g stroke="#f39040" stroke-opacity=".7" stroke-width=".5"><path d="M570.8 494Q613.7 515.4 651.2 535.6"/></g>
<g stroke="#e05d28" stroke-opacity=".4" stroke-width=".5"><path d="M578.3 495.9Q611.6 510.2 651.2 535.6"/><path d="M570.8 481.1Q613 509 651.2 535.6"/></g>
<g stroke="#d6441c" stroke-opacity=".75" stroke-width=".5"><path d="M554 504.8Q606.6 525.8 651.2 535.6"/></g>
<g stroke="#cc2a10" stroke-opacity=".7" stroke-width=".8"><path d="M631 542.6Q638.1 540.4 651.2 535.6"/></g>
<g stroke="#d6441c" stroke-opacity=".4" stroke-width=".6"><path d="M589.9 535.1Q624.5 539.6 651.2 535.6"/></g>
<g stroke="#f39040" stroke-opacity=".6" stroke-width=".7"><path d="M580.5 507.3Q615.2 523 651.2 535.6"/></g>
<g stroke="#cc2a10" stroke-opacity=".7" stroke-width=".6"><path d="M631 542.6Q639.7 533.5 651.2 535.6"/></g>
<g stroke="#cc2a10" stroke-opacity=".35" stroke-width=".5"><path d="M589.9 535.1Q617.4 535.2 651.2 535.6"/></g>
<g stroke="#e97634" stroke-opacity=".6" stroke-width=".7"><path d="M542.7 521.6Q592.2 524.2 651.2 535.6"/></g>
<g stroke="#e05d28" stroke-opacity=".6" stroke-width=".7"><path d="M554 545.3Q607.2 544.7 651.2 535.6"/></g>
<g stroke="#d6441c" stroke-opacity=".5" stroke-width=".7"><path d="M570.8 494Q611.6 518.5 651.2 535.6"/></g>
<g stroke="#e97634" stroke-opacity=".4" stroke-width=".7"><path d="M591 563.4Q625 549.6 651.2 535.6"/></g>
<g stroke="#d6441c" stroke-opacity=".65" stroke-width=".7"><path d="M615.6 533.2Q632.3 538.3 651.2 535.6"/></g>
<g stroke="#e97634" stroke-opacity=".75" stroke-width=".6"><path d="M591 563.4Q619.8 550.9 651.2 535.6"/></g>
<g stroke="#e97634" stroke-opacity=".4" stroke-width=".5"><path d="M572.9 533.7Q610.5 533.6 651.2 535.6"/></g>
<g stroke="#f39040" stroke-opacity=".55" stroke-width=".8"><path d="M591 493.2Q623.8 519.9 651.2 535.6"/></g>
<g stroke="#f39040" stroke-opacity=".7" stroke-width=".7"><path d="M594.5 552.1Q624.7 547.4 651.2 535.6"/></g>
<g stroke="#e97634" stroke-opacity=".5" stroke-width=".7"><path d="M570.8 481.1Q607.1 509.9 651.2 535.6"/></g>
<g stroke="#d6441c" stroke-opacity=".7" stroke-width=".8"><path d="M591 493.2Q624.1 515.5 651.2 535.6"/></g>
<g stroke="#d6441c" stroke-opacity=".45" stroke-width=".5"><path d="M591 563.4Q625.1 543.7 651.2 535.6"/></g>
<g stroke="#cc2a10" stroke-opacity=".5" stroke-width=".6"><path d="M542.7 521.6Q594.6 527.5 651.2 535.6"/></g>
<g stroke="#c41e1e" stroke-opacity=".6" stroke-width=".7"><path d="M435.8 464.9Q460.8 472.6 485.7 486.4"/><path d="M435.8 469.4Q460.8 474.9 485.7 486.4"/><path d="M457.7 469.4Q471.7 474.9 485.7 486.4"/><path d="M467.3 486.4Q476.5 483.4 485.7 486.4"/><path d="M485.7 486.4Q485.7 483.4 485.7 486.4"/><path d="M479.5 499Q482.6 489.7 485.7 486.4"/><path d="M486.3 506.2Q486 493.3 485.7 486.4"/><path d="M503.6 512.3Q494.6 496.3 485.7 486.4"/><path d="M490.4 520.9Q488 500.6 485.7 486.4"/><path d="M485.7 486.4Q485.6 492.7 479.5 499"/><path d="M485.7 486.4Q489 496.3 486.3 506.2"/><path d="M485.7 486.4Q479.5 486.4 467.3 486.4"/><path d="M485.7 486.4Q497.6 499.3 503.6 512.3"/><path d="M485.7 486.4Q484.1 506.2 476.5 526"/></g>
<g stroke="#e0501a" stroke-opacity=".4" stroke-width=".6"><path d="M467.3 486.4Q448 506.5 432.1 526.6"/></g>
<g stroke="#e0501a" stroke-opacity=".55" stroke-width=".6"><path d="M417.2 484.7Q454.7 495.4 486.3 506.2"/><path d="M417.2 484.7Q447.1 510.2 477.5 535.8"/></g>
<g stroke="#e0501a" stroke-opacity=".45" stroke-width=".9"><path d="M467.3 486.4Q449.6 477.9 435.8 469.4"/></g>
<g stroke="#e0501a" stroke-opacity=".65" stroke-width=".8"><path d="M449.5 481.7Q446.7 511.9 437.8 542"/><path d="M467.3 486.4Q453.4 514.2 437.8 542"/><path d="M435.8 464.9Q457 500.3 477.5 535.8"/></g>
<g stroke="#e0501a" stroke-opacity=".6" stroke-width=".8"><path d="M457.7 469.4Q472.5 547.3 499.6 625.2"/><path d="M449.5 481.7Q428 490.9 411.1 500.1"/><path d="M457.7 469.4Q458.3 538 452 606.5"/><path d="M454.6 475.5Q474.1 490.9 486.3 506.2"/><path d="M417.2 484.7Q452.6 495.4 486.3 506.2"/></g>
<g stroke="#e0501a" stroke-opacity=".5" stroke-width=".7"><path d="M449.5 481.7Q440.7 524.2 429 566.8"/><path d="M437.2 473.9Q439.1 477.8 449.5 481.7"/><path d="M457.7 469.4Q461.3 498 456.6 526.6"/><path d="M435.8 464.9Q436.7 464.9 435.8 464.9"/></g>
<g stroke="#e0501a" stroke-opacity=".5" stroke-width=".9"><path d="M449.5 481.7Q447.9 544.1 452 606.5"/></g>
<g stroke="#e0501a" stroke-opacity=".5" stroke-width=".6"><path d="M449.5 481.7Q445.4 504.4 425.4 527"/><path d="M417.2 484.7Q458.4 498.5 503.6 512.3"/><path d="M454.6 475.5Q461.5 480.9 467.3 486.4"/><path d="M454.6 475.5Q446.9 475.5 454.6 475.5"/></g>
<g stroke="#e0501a" stroke-opacity=".45" stroke-width=".8"><path d="M417.2 484.7Q437 534 450.5 583.4"/><path d="M467.3 486.4Q463.1 555 474.6 623.6"/></g>
<g stroke="#e0501a" stroke-opacity=".7" stroke-width=".6"><path d="M449.5 481.7Q440.2 533.1 438.4 584.6"/></g>
<g stroke="#e0501a" stroke-opacity=".65" stroke-width=".7"><path d="M467.3 486.4Q455.1 506.5 432.1 526.6"/></g>
<g stroke="#e0501a" stroke-opacity=".45" stroke-width=".5"><path d="M435.8 469.4Q466.1 530.7 488.2 592"/></g>
<g stroke="#e0501a" stroke-opacity=".65" stroke-width=".6"><path d="M454.6 475.5Q459.4 558 461 640.6"/><path d="M435.8 469.4Q451.3 502.6 477.5 535.8"/></g>
<g stroke="#e0501a" stroke-opacity=".45" stroke-width=".7"><path d="M417.2 484.7Q443.5 562.6 461 640.6"/><path d="M467.3 486.4Q472.2 539.8 472.7 593.2"/></g>
<g stroke="#e0501a" stroke-opacity=".55" stroke-width=".9"><path d="M435.8 464.9Q447.8 544.2 474.6 623.6"/></g>
<g stroke="#e0501a" stroke-opacity=".5" stroke-width=".5"><path d="M435.8 469.4Q453.3 487.8 486.3 506.2"/></g>
<g stroke="#e0501a" stroke-opacity=".7" stroke-width=".5"><path d="M417.2 484.7Q422.4 533.1 413.9 581.5"/></g>
<g stroke="#e0501a" stroke-opacity=".6" stroke-width=".7"><path d="M435.8 469.4Q450.5 504.6 480.1 539.9"/><path d="M437.2 473.9Q474.2 526 495.6 578"/></g>
<g stroke="#e0501a" stroke-opacity=".4" stroke-width=".8"><path d="M457.7 469.4Q465.5 516.3 470.4 563.3"/></g>
<g stroke="#e0501a" stroke-opacity=".4" stroke-width=".9"><path d="M454.6 475.5Q436.6 501.1 432.1 526.6"/></g>
<g stroke="#e0501a" stroke-opacity=".5" stroke-width=".8"><path d="M454.6 475.5Q472.4 500.8 476.5 526"/></g>
<g stroke="#e0501a" stroke-opacity=".55" stroke-width=".7"><path d="M457.7 469.4Q451.8 498 456.6 526.6"/></g>
<g stroke="#e0501a" stroke-opacity=".45" stroke-width=".6"><path d="M417.2 484.7Q418.3 508.8 413.1 532.8"/></g></g>
<circle cx="54.1" cy="458" r="2" fill="#1f77b4" stroke="#2a2a2a" stroke-width=".35"/>
<circle cx="61.8" cy="456.1" r="2.2" fill="#1f77b4" stroke="#2a2a2a" stroke-width=".35"/>
<circle cx="49.7" cy="461.7" r="2.5" fill="#1f77b4" stroke="#2a2a2a" stroke-width=".35"/>
<circle cx="55.5" cy="465" r="2.2" fill="#1f77b4" stroke="#2a2a2a" stroke-width=".35"/>
<circle cx="62.1" cy="463.1" r="2.6" fill="#1f77b4" stroke="#2a2a2a" stroke-width=".35"/>
<circle cx="43.1" cy="470.4" r="3.5" fill="#1f77b4" stroke="#2a2a2a" stroke-width=".35"/>
<circle cx="47.8" cy="471.2" r="2" fill="#1f77b4" stroke="#2a2a2a" stroke-width=".35"/>
<circle cx="80.1" cy="494.8" r="3.2" fill="#1f77b4" stroke="#2a2a2a" stroke-width=".35"/>
<circle cx="62.4" cy="501.5" r="2.6" fill="#1f77b4" stroke="#2a2a2a" stroke-width=".35"/>
<circle cx="84" cy="507" r="2" fill="#1f77b4" stroke="#2a2a2a" stroke-width=".35"/>
<circle cx="94.5" cy="505.8" r="2.6" fill="#1f77b4" stroke="#2a2a2a" stroke-width=".35"/>
<circle cx="76" cy="513.8" r="2" fill="#1f77b4" stroke="#2a2a2a" stroke-width=".35"/>
<circle cx="106.6" cy="492.3" r="2.3" fill="#1f77b4" stroke="#2a2a2a" stroke-width=".35"/>
<circle cx="114.7" cy="478.5" r="2.3" fill="#1f77b4" stroke="#2a2a2a" stroke-width=".35"/>
<circle cx="88" cy="529.5" r="2.5" fill="#1f77b4" stroke="#2a2a2a" stroke-width=".35"/>
<circle cx="46.1" cy="477.7" r="2.5" fill="#5b5577" stroke="#2a2a2a" stroke-width=".35"/>
<circle cx="54.1" cy="481.8" r="2.2" fill="#5b5577" stroke="#2a2a2a" stroke-width=".35"/>
<circle cx="45" cy="494.5" r="2" fill="#5b5577" stroke="#2a2a2a" stroke-width=".35"/>
<circle cx="51.6" cy="500" r="2.5" fill="#5b5577" stroke="#2a2a2a" stroke-width=".35"/>
<circle cx="51.2" cy="510.1" r="2.9" fill="#5b5577" stroke="#2a2a2a" stroke-width=".35"/>
<circle cx="96.4" cy="487.2" r="3.2" fill="#5b5577" stroke="#2a2a2a" stroke-width=".35"/>
<circle cx="89.1" cy="496" r="1.8" fill="#5b5577" stroke="#2a2a2a" stroke-width=".35"/>
<circle cx="94.4" cy="497.4" r="2.3" fill="#5b5577" stroke="#2a2a2a" stroke-width=".35"/>
<circle cx="101.1" cy="504.5" r="2.2" fill="#5b5577" stroke="#2a2a2a" stroke-width=".35"/>
<circle cx="91.3" cy="516" r="2.9" fill="#5b5577" stroke="#2a2a2a" stroke-width=".35"/>
<circle cx="102" cy="518.3" r="3.6" fill="#5b5577" stroke="#2a2a2a" stroke-width=".35"/>
<circle cx="51.6" cy="528.8" r="2.2" fill="#5b5577" stroke="#2a2a2a" stroke-width=".35"/>
<circle cx="122" cy="471.2" r="2" fill="#d070b8" stroke="#2a2a2a" stroke-width=".35"/>
<circle cx="121.2" cy="477" r="2" fill="#7a4a42" stroke="#2a2a2a" stroke-width=".35"/>
<circle cx="130.2" cy="470" r="1.2" fill="#1f77b4" stroke="#2a2a2a" stroke-width=".35"/>
<circle cx="137.8" cy="472" r="1.4" fill="#7d7d7d" stroke="#2a2a2a" stroke-width=".35"/>
<circle cx="128.2" cy="478.6" r="1.2" fill="#8a6fc0" stroke="#2a2a2a" stroke-width=".35"/>
<circle cx="140.4" cy="478.6" r="1.6" fill="#1f77b4" stroke="#2a2a2a" stroke-width=".35"/>
<circle cx="133.9" cy="482.1" r="1.6" fill="#8a6fc0" stroke="#2a2a2a" stroke-width=".35"/>
<circle cx="130.6" cy="486.2" r="1.6" fill="#8a6fc0" stroke="#2a2a2a" stroke-width=".35"/>
<circle cx="139" cy="492.3" r="1.6" fill="#1f77b4" stroke="#2a2a2a" stroke-width=".35"/>
<circle cx="150.7" cy="496.6" r="1" fill="#b05a80" stroke="#2a2a2a" stroke-width=".35"/>
<circle cx="153.1" cy="523.6" r="1" fill="#7d7d7d" stroke="#2a2a2a" stroke-width=".35"/>
<circle cx="139.4" cy="539.3" r="2" fill="#7a4a42" stroke="#2a2a2a" stroke-width=".35"/>
<circle cx="123.7" cy="546.7" r="1.6" fill="#7d7d7d" stroke="#2a2a2a" stroke-width=".35"/>
<circle cx="127.2" cy="553.2" r="1.6" fill="#1f77b4" stroke="#2a2a2a" stroke-width=".35"/>
<circle cx="145.5" cy="545.4" r="1" fill="#7a4a42" stroke="#2a2a2a" stroke-width=".35"/>
<circle cx="138" cy="559" r="1" fill="#7a4a42" stroke="#2a2a2a" stroke-width=".35"/>
<circle cx="73.4" cy="538.6" r="1.5" fill="#1f77b4" stroke="#2a2a2a" stroke-width=".35"/>
<circle cx="63.6" cy="543.7" r="2.9" fill="#5b5577" stroke="#2a2a2a" stroke-width=".35"/>
<circle cx="55.1" cy="546.9" r="2.2" fill="#1f77b4" stroke="#2a2a2a" stroke-width=".35"/>
<circle cx="60.4" cy="551.3" r="2.2" fill="#1f77b4" stroke="#2a2a2a" stroke-width=".35"/>
<circle cx="123.7" cy="546.9" r="1.8" fill="#7d7d7d" stroke="#2a2a2a" stroke-width=".35"/>
<circle cx="117.9" cy="566.6" r="2.5" fill="#7d7d7d" stroke="#2a2a2a" stroke-width=".35"/>
<circle cx="56.3" cy="572.4" r="3.4" fill="#5b5577" stroke="#2a2a2a" stroke-width=".35"/>
<circle cx="47.2" cy="577.6" r="1.5" fill="#5b5577" stroke="#2a2a2a" stroke-width=".35"/>
<circle cx="56" cy="586.3" r="3.6" fill="#5b5577" stroke="#2a2a2a" stroke-width=".35"/>
<circle cx="48.5" cy="589" r="3.4" fill="#5b5577" stroke="#2a2a2a" stroke-width=".35"/>
<circle cx="95.3" cy="584.9" r="2.9" fill="#5b5577" stroke="#2a2a2a" stroke-width=".35"/>
<circle cx="101.1" cy="580.8" r="2.9" fill="#5b5577" stroke="#2a2a2a" stroke-width=".35"/>
<circle cx="105.9" cy="589.5" r="3.8" fill="#7d7d7d" stroke="#2a2a2a" stroke-width=".35"/>
<circle cx="112.8" cy="598.7" r="2.7" fill="#7d7d7d" stroke="#2a2a2a" stroke-width=".35"/>
<circle cx="98.6" cy="601.6" r="2.2" fill="#7d7d7d" stroke="#2a2a2a" stroke-width=".35"/>
<circle cx="51.9" cy="607.7" r="1.9" fill="#7d7d7d" stroke="#2a2a2a" stroke-width=".35"/>
<circle cx="58.5" cy="608.5" r="1.5" fill="#7d7d7d" stroke="#2a2a2a" stroke-width=".35"/>
<circle cx="71.6" cy="610.7" r="4.1" fill="#7d7d7d" stroke="#2a2a2a" stroke-width=".35"/>
<circle cx="84.3" cy="610.2" r="2" fill="#7a4a42" stroke="#2a2a2a" stroke-width=".35"/>
<circle cx="95.7" cy="611.4" r="2.2" fill="#7d7d7d" stroke="#2a2a2a" stroke-width=".35"/>
<circle cx="106.2" cy="607.7" r="3.6" fill="#7d7d7d" stroke="#2a2a2a" stroke-width=".35"/>
<circle cx="114.4" cy="612.4" r="2.9" fill="#7d7d7d" stroke="#2a2a2a" stroke-width=".35"/>
<circle cx="106.6" cy="615.8" r="3.2" fill="#7d7d7d" stroke="#2a2a2a" stroke-width=".35"/>
<circle cx="98.2" cy="618" r="2.9" fill="#7a4a42" stroke="#2a2a2a" stroke-width=".35"/>
<circle cx="86.9" cy="619.4" r="2.6" fill="#7d7d7d" stroke="#2a2a2a" stroke-width=".35"/>
<circle cx="59.9" cy="619.4" r="3.2" fill="#7d7d7d" stroke="#2a2a2a" stroke-width=".35"/>
<circle cx="55.1" cy="623.1" r="2.5" fill="#7a4a42" stroke="#2a2a2a" stroke-width=".35"/>
<circle cx="66.2" cy="624.5" r="2.5" fill="#7d7d7d" stroke="#2a2a2a" stroke-width=".35"/>
<circle cx="95.3" cy="624.5" r="2.5" fill="#7a4a42" stroke="#2a2a2a" stroke-width=".35"/>
<circle cx="59.9" cy="629.6" r="2.6" fill="#5b5577" stroke="#2a2a2a" stroke-width=".35"/>
<circle cx="75.3" cy="631.8" r="3.2" fill="#7d7d7d" stroke="#2a2a2a" stroke-width=".35"/>
<circle cx="114.7" cy="631.1" r="3.2" fill="#7a4a42" stroke="#2a2a2a" stroke-width=".35"/>
<circle cx="106.2" cy="633.7" r="2.5" fill="#7a4a42" stroke="#2a2a2a" stroke-width=".35"/>
<circle cx="76.7" cy="639.1" r="2.9" fill="#7d7d7d" stroke="#2a2a2a" stroke-width=".35"/>
<circle cx="89.9" cy="639.9" r="2.6" fill="#7d7d7d" stroke="#2a2a2a" stroke-width=".35"/>
<circle cx="81.8" cy="643.1" r="3.2" fill="#7d7d7d" stroke="#2a2a2a" stroke-width=".35"/>
<circle cx="201.3" cy="500.1" r="2.5" fill="#d070b8" stroke="#2a2a2a" stroke-width=".35"/>
<circle cx="211.6" cy="496.6" r="2.5" fill="#d070b8" stroke="#2a2a2a" stroke-width=".35"/>
<circle cx="220.6" cy="498.6" r="1.6" fill="#d070b8" stroke="#2a2a2a" stroke-width=".35"/>
<circle cx="227.7" cy="499.7" r="2.5" fill="#d070b8" stroke="#2a2a2a" stroke-width=".35"/>
<circle cx="213.4" cy="505.2" r="1.4" fill="#d070b8" stroke="#2a2a2a" stroke-width=".35"/>
<circle cx="221.6" cy="507.2" r="2.2" fill="#d070b8" stroke="#2a2a2a" stroke-width=".35"/>
<circle cx="231.4" cy="503.5" r="1.6" fill="#d070b8" stroke="#2a2a2a" stroke-width=".35"/>
<circle cx="192.1" cy="511.3" r="2" fill="#d070b8" stroke="#2a2a2a" stroke-width=".35"/>
<circle cx="206.9" cy="512.3" r="2" fill="#d070b8" stroke="#2a2a2a" stroke-width=".35"/>
<circle cx="232.4" cy="513.4" r="2" fill="#d070b8" stroke="#2a2a2a" stroke-width=".35"/>
<circle cx="182.3" cy="519.9" r="1.2" fill="#d070b8" stroke="#2a2a2a" stroke-width=".35"/>
<circle cx="202.4" cy="519.9" r="1.2" fill="#d070b8" stroke="#2a2a2a" stroke-width=".35"/>
<circle cx="220.8" cy="518.1" r="2.5" fill="#d070b8" stroke="#2a2a2a" stroke-width=".35"/>
<circle cx="201.1" cy="529.7" r="2.9" fill="#d070b8" stroke="#2a2a2a" stroke-width=".35"/>
<circle cx="211" cy="531.7" r="2.7" fill="#d070b8" stroke="#2a2a2a" stroke-width=".35"/>
<circle cx="219.5" cy="529.7" r="2.5" fill="#d070b8" stroke="#2a2a2a" stroke-width=".35"/>
<circle cx="226.3" cy="526" r="3.1" fill="#d070b8" stroke="#2a2a2a" stroke-width=".35"/>
<circle cx="237.1" cy="528.1" r="3.3" fill="#d070b8" stroke="#2a2a2a" stroke-width=".35"/>
<circle cx="244" cy="527.7" r="2" fill="#d070b8" stroke="#2a2a2a" stroke-width=".35"/>
<circle cx="228.3" cy="536.9" r="2.5" fill="#d070b8" stroke="#2a2a2a" stroke-width=".35"/>
<circle cx="219.7" cy="544" r="3.7" fill="#d070b8" stroke="#2a2a2a" stroke-width=".35"/>
<circle cx="191.1" cy="542.6" r="2.5" fill="#d070b8" stroke="#2a2a2a" stroke-width=".35"/>
<circle cx="232.6" cy="549.5" r="3.1" fill="#d070b8" stroke="#2a2a2a" stroke-width=".35"/>
<circle cx="242.6" cy="549.5" r="3.7" fill="#d070b8" stroke="#2a2a2a" stroke-width=".35"/>
<circle cx="211.8" cy="552.2" r="2.5" fill="#d070b8" stroke="#2a2a2a" stroke-width=".35"/>
<circle cx="219.5" cy="553.2" r="3.3" fill="#d070b8" stroke="#2a2a2a" stroke-width=".35"/>
<circle cx="191.9" cy="552.2" r="2.5" fill="#d070b8" stroke="#2a2a2a" stroke-width=".35"/>
<circle cx="184.4" cy="552.2" r="2.2" fill="#d070b8" stroke="#2a2a2a" stroke-width=".35"/>
<circle cx="204.8" cy="555.2" r="2" fill="#d070b8" stroke="#2a2a2a" stroke-width=".35"/>
<circle cx="235.9" cy="558.3" r="3.7" fill="#d070b8" stroke="#2a2a2a" stroke-width=".35"/>
<circle cx="247.1" cy="559.7" r="3.7" fill="#d070b8" stroke="#2a2a2a" stroke-width=".35"/>
<circle cx="232" cy="562.4" r="3.5" fill="#d070b8" stroke="#2a2a2a" stroke-width=".35"/>
<circle cx="240" cy="566.1" r="3.1" fill="#d070b8" stroke="#2a2a2a" stroke-width=".35"/>
<circle cx="235.1" cy="573.2" r="3.3" fill="#d070b8" stroke="#2a2a2a" stroke-width=".35"/>
<circle cx="239.7" cy="584.7" r="2.6" fill="#d070b8" stroke="#2a2a2a" stroke-width=".35"/>
<circle cx="234.5" cy="589.6" r="2.8" fill="#d070b8" stroke="#2a2a2a" stroke-width=".35"/>
<circle cx="242" cy="591.2" r="2.3" fill="#d070b8" stroke="#2a2a2a" stroke-width=".35"/>
<circle cx="233" cy="595.2" r="2.5" fill="#d070b8" stroke="#2a2a2a" stroke-width=".35"/>
<circle cx="238.3" cy="596.4" r="3.2" fill="#d070b8" stroke="#2a2a2a" stroke-width=".35"/>
<circle cx="435.8" cy="464.9" r="1.4" fill="#1f77b4" stroke="#2a2a2a" stroke-width=".35"/>
<circle cx="435.8" cy="469.4" r="1.4" fill="#1f77b4" stroke="#2a2a2a" stroke-width=".35"/>
<circle cx="457.7" cy="469.4" r="1.4" fill="#1f77b4" stroke="#2a2a2a" stroke-width=".35"/>
<circle cx="454.6" cy="475.5" r="3" fill="#1f77b4" stroke="#2a2a2a" stroke-width=".35"/>
<circle cx="437.2" cy="473.9" r="2" fill="#1f77b4" stroke="#2a2a2a" stroke-width=".35"/>
<circle cx="449.5" cy="481.7" r="2.5" fill="#1f77b4" stroke="#2a2a2a" stroke-width=".35"/>
<circle cx="417.2" cy="484.7" r="2.9" fill="#1f77b4" stroke="#2a2a2a" stroke-width=".35"/>
<circle cx="422.3" cy="504.8" r="2.9" fill="#1f77b4" stroke="#2a2a2a" stroke-width=".35"/>
<circle cx="426.6" cy="518.5" r="3.5" fill="#1f77b4" stroke="#2a2a2a" stroke-width=".35"/>
<circle cx="434.2" cy="518.5" r="3.5" fill="#1f77b4" stroke="#2a2a2a" stroke-width=".35"/>
<circle cx="425.4" cy="527" r="3.1" fill="#1f77b4" stroke="#2a2a2a" stroke-width=".35"/>
<circle cx="435.2" cy="529.7" r="2.9" fill="#1f77b4" stroke="#2a2a2a" stroke-width=".35"/>
<circle cx="467.3" cy="486.4" r="2.2" fill="#5b5577" stroke="#2a2a2a" stroke-width=".35"/>
<circle cx="485.7" cy="486.4" r="1.8" fill="#5b5577" stroke="#2a2a2a" stroke-width=".35"/>
<circle cx="436.8" cy="496" r="2.5" fill="#5b5577" stroke="#2a2a2a" stroke-width=".35"/>
<circle cx="406.6" cy="497.6" r="3.5" fill="#5b5577" stroke="#2a2a2a" stroke-width=".35"/>
<circle cx="411.1" cy="500.1" r="3.1" fill="#5b5577" stroke="#2a2a2a" stroke-width=".35"/>
<circle cx="479.5" cy="499" r="2.5" fill="#5b5577" stroke="#2a2a2a" stroke-width=".35"/>
<circle cx="422.3" cy="506.2" r="2.5" fill="#5b5577" stroke="#2a2a2a" stroke-width=".35"/>
<circle cx="486.3" cy="506.2" r="2.2" fill="#5b5577" stroke="#2a2a2a" stroke-width=".35"/>
<circle cx="503.6" cy="512.3" r="2.2" fill="#5b5577" stroke="#2a2a2a" stroke-width=".35"/>
<circle cx="411.7" cy="519.1" r="3.1" fill="#5b5577" stroke="#2a2a2a" stroke-width=".35"/>
<circle cx="490.4" cy="520.9" r="2.7" fill="#5b5577" stroke="#2a2a2a" stroke-width=".35"/>
<circle cx="398" cy="527.3" r="3.7" fill="#5b5577" stroke="#2a2a2a" stroke-width=".35"/>
<circle cx="432.1" cy="526.6" r="3.1" fill="#5b5577" stroke="#2a2a2a" stroke-width=".35"/>
<circle cx="456.6" cy="526.6" r="3.1" fill="#5b5577" stroke="#2a2a2a" stroke-width=".35"/>
<circle cx="476.5" cy="526" r="2.7" fill="#5b5577" stroke="#2a2a2a" stroke-width=".35"/>
<circle cx="413.1" cy="532.8" r="3.7" fill="#5b5577" stroke="#2a2a2a" stroke-width=".35"/>
<circle cx="430.7" cy="531.3" r="3.7" fill="#5b5577" stroke="#2a2a2a" stroke-width=".35"/>
<circle cx="457.7" cy="531.1" r="3.7" fill="#5b5577" stroke="#2a2a2a" stroke-width=".35"/>
<circle cx="451.9" cy="536.2" r="3.5" fill="#5b5577" stroke="#2a2a2a" stroke-width=".35"/>
<circle cx="477.5" cy="535.8" r="2.5" fill="#5b5577" stroke="#2a2a2a" stroke-width=".35"/>
<circle cx="480.1" cy="539.9" r="2.5" fill="#5b5577" stroke="#2a2a2a" stroke-width=".35"/>
<circle cx="434.2" cy="541.4" r="3.1" fill="#5b5577" stroke="#2a2a2a" stroke-width=".35"/>
<circle cx="437.8" cy="542" r="2.9" fill="#5b5577" stroke="#2a2a2a" stroke-width=".35"/>
<circle cx="478.7" cy="542.4" r="2.9" fill="#5b5577" stroke="#2a2a2a" stroke-width=".35"/>
<circle cx="426.6" cy="546.1" r="3.1" fill="#5b5577" stroke="#2a2a2a" stroke-width=".35"/>
<circle cx="426" cy="563.3" r="3.5" fill="#5b5577" stroke="#2a2a2a" stroke-width=".35"/>
<circle cx="429" cy="566.8" r="3" fill="#5b5577" stroke="#2a2a2a" stroke-width=".35"/>
<circle cx="426" cy="572.2" r="3.5" fill="#5b5577" stroke="#2a2a2a" stroke-width=".35"/>
<circle cx="433.3" cy="573.4" r="3" fill="#5b5577" stroke="#2a2a2a" stroke-width=".35"/>
<circle cx="451.7" cy="573.8" r="3.5" fill="#5b5577" stroke="#2a2a2a" stroke-width=".35"/>
<circle cx="478.6" cy="562.1" r="2.6" fill="#5b5577" stroke="#2a2a2a" stroke-width=".35"/>
<circle cx="496.1" cy="568.7" r="3.3" fill="#5b5577" stroke="#2a2a2a" stroke-width=".35"/>
<circle cx="413.9" cy="581.5" r="4" fill="#5b5577" stroke="#2a2a2a" stroke-width=".35"/>
<circle cx="420.9" cy="584.6" r="4.2" fill="#5b5577" stroke="#2a2a2a" stroke-width=".35"/>
<circle cx="438.4" cy="584.6" r="3.3" fill="#5b5577" stroke="#2a2a2a" stroke-width=".35"/>
<circle cx="454.3" cy="591.6" r="2.8" fill="#5b5577" stroke="#2a2a2a" stroke-width=".35"/>
<circle cx="423.2" cy="594.4" r="4" fill="#5b5577" stroke="#2a2a2a" stroke-width=".35"/>
<circle cx="478.8" cy="588.5" r="3.7" fill="#5b5577" stroke="#2a2a2a" stroke-width=".35"/>
<circle cx="488.2" cy="592" r="3" fill="#5b5577" stroke="#2a2a2a" stroke-width=".35"/>
<circle cx="486.7" cy="598.4" r="3.7" fill="#5b5577" stroke="#2a2a2a" stroke-width=".35"/>
<circle cx="457.8" cy="609.1" r="3" fill="#5b5577" stroke="#2a2a2a" stroke-width=".35"/>
<circle cx="491.4" cy="606.5" r="2.1" fill="#5b5577" stroke="#2a2a2a" stroke-width=".35"/>
<circle cx="498" cy="573.4" r="2.1" fill="#1f77b4" stroke="#2a2a2a" stroke-width=".35"/>
<circle cx="495.6" cy="578" r="3" fill="#1f77b4" stroke="#2a2a2a" stroke-width=".35"/>
<circle cx="533.7" cy="580.4" r="2.8" fill="#8a6fc0" stroke="#2a2a2a" stroke-width=".35"/>
<circle cx="503.1" cy="602.1" r="2.3" fill="#7d7d7d" stroke="#2a2a2a" stroke-width=".35"/>
<circle cx="470.4" cy="563.3" r="2.3" fill="#7a4a42" stroke="#2a2a2a" stroke-width=".35"/>
<circle cx="458.7" cy="571" r="2.8" fill="#7a4a42" stroke="#2a2a2a" stroke-width=".35"/>
<circle cx="450.5" cy="583.4" r="2.3" fill="#7a4a42" stroke="#2a2a2a" stroke-width=".35"/>
<circle cx="472.7" cy="593.2" r="3" fill="#7a4a42" stroke="#2a2a2a" stroke-width=".35"/>
<circle cx="452" cy="606.5" r="2.1" fill="#7a4a42" stroke="#2a2a2a" stroke-width=".35"/>
<circle cx="448.9" cy="622.4" r="3" fill="#7a4a42" stroke="#2a2a2a" stroke-width=".35"/>
<circle cx="458.3" cy="626.6" r="3" fill="#7a4a42" stroke="#2a2a2a" stroke-width=".35"/>
<circle cx="451.9" cy="631.8" r="3.7" fill="#7a4a42" stroke="#2a2a2a" stroke-width=".35"/>
<circle cx="474.6" cy="623.6" r="2.6" fill="#7a4a42" stroke="#2a2a2a" stroke-width=".35"/>
<circle cx="481.6" cy="625.9" r="3.3" fill="#7a4a42" stroke="#2a2a2a" stroke-width=".35"/>
<circle cx="497.3" cy="624.3" r="3.3" fill="#7a4a42" stroke="#2a2a2a" stroke-width=".35"/>
<circle cx="499.6" cy="625.2" r="2.8" fill="#7a4a42" stroke="#2a2a2a" stroke-width=".35"/>
<circle cx="501" cy="634.8" r="3" fill="#7a4a42" stroke="#2a2a2a" stroke-width=".35"/>
<circle cx="461" cy="640.6" r="3" fill="#7a4a42" stroke="#2a2a2a" stroke-width=".35"/>
<circle cx="487.9" cy="638.8" r="2.8" fill="#7a4a42" stroke="#2a2a2a" stroke-width=".35"/>
<circle cx="476.5" cy="644.1" r="3.3" fill="#7a4a42" stroke="#2a2a2a" stroke-width=".35"/>
<circle cx="570.8" cy="481.1" r="2.7" fill="#d070b8" stroke="#2a2a2a" stroke-width=".35"/>
<circle cx="570.8" cy="494" r="2.4" fill="#d070b8" stroke="#2a2a2a" stroke-width=".35"/>
<circle cx="591" cy="493.2" r="1.9" fill="#d070b8" stroke="#2a2a2a" stroke-width=".35"/>
<circle cx="578.3" cy="495.9" r="1.6" fill="#d070b8" stroke="#2a2a2a" stroke-width=".35"/>
<circle cx="554" cy="504.8" r="2.4" fill="#d070b8" stroke="#2a2a2a" stroke-width=".35"/>
<circle cx="571.6" cy="505.9" r="3.5" fill="#d070b8" stroke="#2a2a2a" stroke-width=".35"/>
<circle cx="580.5" cy="507.3" r="3.2" fill="#d070b8" stroke="#2a2a2a" stroke-width=".35"/>
<circle cx="558.9" cy="515.6" r="2.7" fill="#d070b8" stroke="#2a2a2a" stroke-width=".35"/>
<circle cx="577.8" cy="515.6" r="3.2" fill="#d070b8" stroke="#2a2a2a" stroke-width=".35"/>
<circle cx="577.8" cy="522.4" r="3.2" fill="#d070b8" stroke="#2a2a2a" stroke-width=".35"/>
<circle cx="542.7" cy="521.6" r="3.2" fill="#d070b8" stroke="#2a2a2a" stroke-width=".35"/>
<circle cx="557.5" cy="525.1" r="3.8" fill="#b05a80" stroke="#2a2a2a" stroke-width=".35"/>
<circle cx="598.6" cy="522.1" r="3.2" fill="#d070b8" stroke="#2a2a2a" stroke-width=".35"/>
<circle cx="624.8" cy="520.8" r="2.4" fill="#d070b8" stroke="#2a2a2a" stroke-width=".35"/>
<circle cx="632.9" cy="527.8" r="2.4" fill="#d070b8" stroke="#2a2a2a" stroke-width=".35"/>
<circle cx="638.5" cy="527" r="2.2" fill="#d070b8" stroke="#2a2a2a" stroke-width=".35"/>
<circle cx="643.7" cy="528.9" r="1.6" fill="#d070b8" stroke="#2a2a2a" stroke-width=".35"/>
<circle cx="548.6" cy="535.6" r="3" fill="#d070b8" stroke="#2a2a2a" stroke-width=".35"/>
<circle cx="572.9" cy="533.7" r="2.4" fill="#d070b8" stroke="#2a2a2a" stroke-width=".35"/>
<circle cx="589.9" cy="535.1" r="2.4" fill="#d070b8" stroke="#2a2a2a" stroke-width=".35"/>
<circle cx="615.6" cy="533.2" r="3" fill="#d070b8" stroke="#2a2a2a" stroke-width=".35"/>
<circle cx="625" cy="536.4" r="2.4" fill="#d070b8" stroke="#2a2a2a" stroke-width=".35"/>
<circle cx="651.2" cy="535.6" r="2.4" fill="#d070b8" stroke="#2a2a2a" stroke-width=".35"/>
<circle cx="554" cy="545.3" r="2.7" fill="#d070b8" stroke="#2a2a2a" stroke-width=".35"/>
<circle cx="571.6" cy="546.4" r="3.2" fill="#b05a80" stroke="#2a2a2a" stroke-width=".35"/>
<circle cx="584.5" cy="546.4" r="3" fill="#d070b8" stroke="#2a2a2a" stroke-width=".35"/>
<circle cx="611.5" cy="542.6" r="2.7" fill="#d070b8" stroke="#2a2a2a" stroke-width=".35"/>
<circle cx="631" cy="542.6" r="2.4" fill="#d070b8" stroke="#2a2a2a" stroke-width=".35"/>
<circle cx="625" cy="545.1" r="1.9" fill="#d070b8" stroke="#2a2a2a" stroke-width=".35"/>
<circle cx="574.3" cy="549.1" r="1.6" fill="#d070b8" stroke="#2a2a2a" stroke-width=".35"/>
<circle cx="590" cy="550.7" r="2.2" fill="#d070b8" stroke="#2a2a2a" stroke-width=".35"/>
<circle cx="594.5" cy="552.1" r="2.2" fill="#d070b8" stroke="#2a2a2a" stroke-width=".35"/>
<circle cx="567" cy="557.5" r="2.2" fill="#d070b8" stroke="#2a2a2a" stroke-width=".35"/>
<circle cx="591" cy="563.4" r="2.2" fill="#d070b8" stroke="#2a2a2a" stroke-width=".35"/>
<text x="51.2" y="475.2" font-size="8.2" font-style="italic" fill="#1a1a1a">ATF3</text>
<text x="59.2" y="483.8" font-size="8.2" font-style="italic" fill="#1a1a1a">KLF6</text>
<text x="51.2" y="497.2" font-size="8.2" font-style="italic" fill="#1a1a1a">MAFF</text>
<text x="105.9" y="487.4" font-size="8.2" font-style="italic" fill="#1a1a1a">MNX1</text>
<text x="116.9" y="500.6" font-size="8.2" font-style="italic" fill="#1a1a1a">MECOM</text>
<text x="57" y="529.2" font-size="8.2" font-style="italic" fill="#1a1a1a">CEBPB</text>
<text x="78.2" y="541.2" font-size="8.2" font-style="italic" fill="#1a1a1a">OVOL1</text>
<text x="30.7" y="554.4" font-size="8.2" font-style="italic" fill="#1a1a1a">PTF1A</text>
<text x="65" y="554.6" font-size="8.2" font-style="italic" fill="#1a1a1a">MYC</text>
<text x="126" y="535.4" font-size="8.2" font-style="italic" fill="#1a1a1a">GLIS3</text>
<text x="140" y="553.2" font-size="8.2" font-style="italic" fill="#1a1a1a">SOX4</text>
<text x="151.7" y="561.8" font-size="8.2" font-style="italic" fill="#1a1a1a">NEUROG3</text>
<text x="173.5" y="547.2" font-size="8.2" font-style="italic" fill="#1a1a1a">PAX4</text>
<text x="214" y="495.2" font-size="8.2" font-style="italic" fill="#1a1a1a">NKX6-1</text>
<text x="234" y="509.6" font-size="8.2" font-style="italic" fill="#1a1a1a">ASCL2</text>
<text x="238" y="525.2" font-size="8.2" font-style="italic" fill="#1a1a1a">MAFA</text>
<text x="204.8" y="539.6" font-size="8.2" font-style="italic" fill="#1a1a1a">RFX3</text>
<text x="234" y="545.2" font-size="8.2" font-style="italic" fill="#1a1a1a">MEIS2</text>
<text x="198.7" y="549.2" font-size="8.2" font-style="italic" fill="#1a1a1a">ARX</text>
<text x="196.6" y="563.2" font-size="8.2" font-style="italic" fill="#1a1a1a">FEV</text>
<text x="205.4" y="570.6" font-size="8.2" font-style="italic" fill="#1a1a1a">MLXIPL</text>
<text x="199.7" y="576.4" font-size="8.2" font-style="italic" fill="#1a1a1a">NKX2-2</text>
<text x="210.8" y="583.2" font-size="8.2" font-style="italic" fill="#1a1a1a">INSM1</text>
<text x="186.3" y="592.2" font-size="8.2" font-style="italic" fill="#1a1a1a">NEUROD1</text>
<text x="211.7" y="602" font-size="8.2" font-style="italic" fill="#1a1a1a">ISL1</text>
<text x="232.2" y="606.6" font-size="8.2" font-style="italic" fill="#1a1a1a">PAX6</text>
<text x="61.4" y="580.2" font-size="8.2" font-style="italic" fill="#1a1a1a">NR5A2</text>
<text x="36.6" y="597" font-size="8.2" font-style="italic" fill="#1a1a1a">ONECUT1</text>
<text x="42.4" y="607.2" font-size="8.2" font-style="italic" fill="#1a1a1a">ELF3</text>
<text x="67.2" y="604.6" font-size="8.2" font-style="italic" fill="#1a1a1a">TCF7L2</text>
<text x="112.5" y="607.2" font-size="8.2" font-style="italic" fill="#1a1a1a">NFIA</text>
<text x="35.8" y="617.2" font-size="8.2" font-style="italic" fill="#1a1a1a">HES1</text>
<text x="73" y="619.2" font-size="8.2" font-style="italic" fill="#1a1a1a">HES4</text>
<text x="111.8" y="620.2" font-size="8.2" font-style="italic" fill="#1a1a1a">NFIB</text>
<text x="99.3" y="627.6" font-size="8.2" font-style="italic" fill="#1a1a1a">TCF12</text>
<text x="32.2" y="631.2" font-size="8.2" font-style="italic" fill="#1a1a1a">SOX9</text>
<text x="83.3" y="634.4" font-size="8.2" font-style="italic" fill="#1a1a1a">EHF</text>
<text x="119.8" y="633.2" font-size="8.2" font-style="italic" fill="#1a1a1a">HNF1B</text>
<text x="53.4" y="641.6" font-size="8.2" font-style="italic" fill="#1a1a1a">RBPJ</text>
<text x="93.5" y="641.6" font-size="8.2" font-style="italic" fill="#1a1a1a">HEY1</text>
<text x="442.3" y="461.2" font-size="7.4" font-style="italic" fill="#1a1a1a">MECOM</text>
<text x="424" y="484.6" font-size="7.4" font-style="italic" fill="#1a1a1a">GATA4</text>
<text x="480" y="483.6" font-size="7.4" font-style="italic" fill="#1a1a1a">NR5A2</text>
<text x="491.4" y="508.4" font-size="7.4" font-style="italic" fill="#1a1a1a">NFIA</text>
<text x="507.7" y="514.6" font-size="7.4" font-style="italic" fill="#1a1a1a">TCF7L2</text>
<text x="439.7" y="514" font-size="7.4" font-style="italic" fill="#1a1a1a">RBPJ</text>
<text x="458.7" y="517.6" font-size="7.4" font-style="italic" fill="#1a1a1a">ONECUT1</text>
<text x="494" y="524.2" font-size="7.4" font-style="italic" fill="#1a1a1a">MEIS1</text>
<text x="442.3" y="552.2" font-size="7.4" font-style="italic" fill="#1a1a1a">HNF4G</text>
<text x="484.2" y="552.2" font-size="7.4" font-style="italic" fill="#1a1a1a">HES1</text>
<text x="462.8" y="559.2" font-size="7.4" font-style="italic" fill="#1a1a1a">NFIB</text>
<text x="399.9" y="572.6" font-size="7.4" font-style="italic" fill="#1a1a1a">TEAD1</text>
<text x="429.5" y="595.2" font-size="7.4" font-style="italic" fill="#1a1a1a">GATA6</text>
<text x="528.3" y="587.6" font-size="7.4" font-style="italic" fill="#1a1a1a">NR3C1</text>
<text x="507.3" y="637.6" font-size="7.4" font-style="italic" fill="#1a1a1a">HNF1B</text>
<text x="495.6" y="644.6" font-size="7.4" font-style="italic" fill="#1a1a1a">GLIS3</text>
<text x="564.3" y="477.2" font-size="7.4" font-style="italic" fill="#1a1a1a">ARX</text>
<text x="537.8" y="500.2" font-size="7.4" font-style="italic" fill="#1a1a1a">NEUROG3</text>
<text x="579.7" y="501.2" font-size="7.4" font-style="italic" fill="#1a1a1a">NKX2-2</text>
<text x="585" y="508.2" font-size="7.4" font-style="italic" fill="#1a1a1a">FOXA2</text>
<text x="597.2" y="516.2" font-size="7.4" font-style="italic" fill="#1a1a1a">NEUROD1</text>
<text x="632.3" y="522.8" font-size="7.4" font-style="italic" fill="#1a1a1a">ZEB1</text>
<text x="529" y="530.2" font-size="7.4" font-style="italic" fill="#1a1a1a">ARNT2</text>
<text x="569.7" y="541.2" font-size="7.4" font-style="italic" fill="#1a1a1a">TCF4</text>
<text x="589.7" y="541.2" font-size="7.4" font-style="italic" fill="#1a1a1a">SOX5</text>
<text x="651.2" y="543.6" font-size="7.4" font-style="italic" fill="#1a1a1a">PAX6</text>
<text x="542.7" y="554.2" font-size="7.4" font-style="italic" fill="#1a1a1a">PLAGL1</text>
<text x="602" y="554.2" font-size="7.4" font-style="italic" fill="#1a1a1a">DACH1</text>
<text x="628.3" y="554.2" font-size="7.4" font-style="italic" fill="#1a1a1a">ISL1</text>
<text x="571.6" y="559.2" font-size="7.4" font-style="italic" fill="#1a1a1a">NKX6-1</text>
<text x="595.9" y="561.2" font-size="7.4" font-style="italic" fill="#1a1a1a">RFX3</text>
<text x="589" y="571.2" font-size="7.4" font-style="italic" fill="#1a1a1a">PDX1</text>
<text x="327.5" y="474" font-size="6.9" text-anchor="middle">Centrality</text>
<circle cx="311.2" cy="484.7" r="2" fill="#fff" stroke="#333" stroke-width=".5"/>
<text transform="translate(313.6,507.8) rotate(-90)" font-size="6.9">0.006</text>
<circle cx="321.3" cy="484.7" r="2.9" fill="#fff" stroke="#333" stroke-width=".5"/>
<text transform="translate(323.7,507.8) rotate(-90)" font-size="6.9">0.009</text>
<circle cx="333" cy="484.7" r="3.8" fill="#fff" stroke="#333" stroke-width=".5"/>
<text transform="translate(335.4,507.8) rotate(-90)" font-size="6.9">0.012</text>
<circle cx="346" cy="484.7" r="4.6" fill="#fff" stroke="#333" stroke-width=".5"/>
<text transform="translate(348.4,507.8) rotate(-90)" font-size="6.9">0.015</text>
<text x="329.8" y="522.4" font-size="6.8" text-anchor="middle">Correlation</text>
<defs><linearGradient id="corr" x1="0" y1="0" x2="1" y2="0"><stop offset="0" stop-color="#1e1e1e"/><stop offset=".25" stop-color="#7a7a7a"/><stop offset=".48" stop-color="#f0f0f0"/><stop offset=".62" stop-color="#f8b040"/><stop offset=".8" stop-color="#e86a1a"/><stop offset="1" stop-color="#b01818"/></linearGradient></defs>
<rect x="301.3" y="526.7" width="57" height="8" fill="url(#corr)"/>
<text x="290.9" y="540.9" font-size="6.8">Repressing</text>
<text x="336.4" y="540.9" font-size="6.8">Activating</text>
<text x="304.4" y="557.3" font-size="6.6">Correlation (abs)</text>
<line x1="319.9" y1="560" x2="319.9" y2="566" stroke="#444" stroke-width=".3"/>
<text transform="translate(321.7,576) rotate(-90)" font-size="6.6">0.2</text>
<line x1="327.2" y1="560" x2="327.2" y2="566" stroke="#444" stroke-width=".6"/>
<text transform="translate(329,576) rotate(-90)" font-size="6.6">0.4</text>
<line x1="334.4" y1="560" x2="334.4" y2="566" stroke="#444" stroke-width="1"/>
<text transform="translate(336.2,576) rotate(-90)" font-size="6.6">0.6</text>
<text x="304.5" y="588.6" font-size="7.1">TF Enrichment</text>
<circle cx="308.6" cy="595.6" r="2.3" fill="#1f77b4" stroke="#333" stroke-width=".35"/>
<text x="314.8" y="597.9" font-size="6.8">Acinar</text>
<circle cx="308.6" cy="603.1" r="2.3" fill="#7a4a42" stroke="#333" stroke-width=".35"/>
<text x="314.8" y="605.4" font-size="6.8">Ductal</text>
<circle cx="308.6" cy="610.7" r="2.3" fill="#d070b8" stroke="#333" stroke-width=".35"/>
<text x="314.8" y="613" font-size="6.8">Endocrine</text>
<circle cx="308.6" cy="618.2" r="2.3" fill="#5b5577" stroke="#333" stroke-width=".35"/>
<text x="314.8" y="620.5" font-size="6.8">Acinar &amp; Ductal</text>
<circle cx="308.6" cy="626" r="2.3" fill="#8a6fc0" stroke="#333" stroke-width=".35"/>
<text x="314.8" y="628.3" font-size="6.8">Acinar &amp; Endocrine</text>
<circle cx="308.6" cy="633.6" r="2.3" fill="#b05a80" stroke="#333" stroke-width=".35"/>
<text x="314.8" y="635.9" font-size="6.8">Ductal &amp; Endocrine</text>
<circle cx="308.6" cy="641.4" r="2.3" fill="#a8a8a8" stroke="#333" stroke-width=".35"/>
<text x="314.8" y="643.7" font-size="6.8">No Enrichment</text>
</svg></body></html>
